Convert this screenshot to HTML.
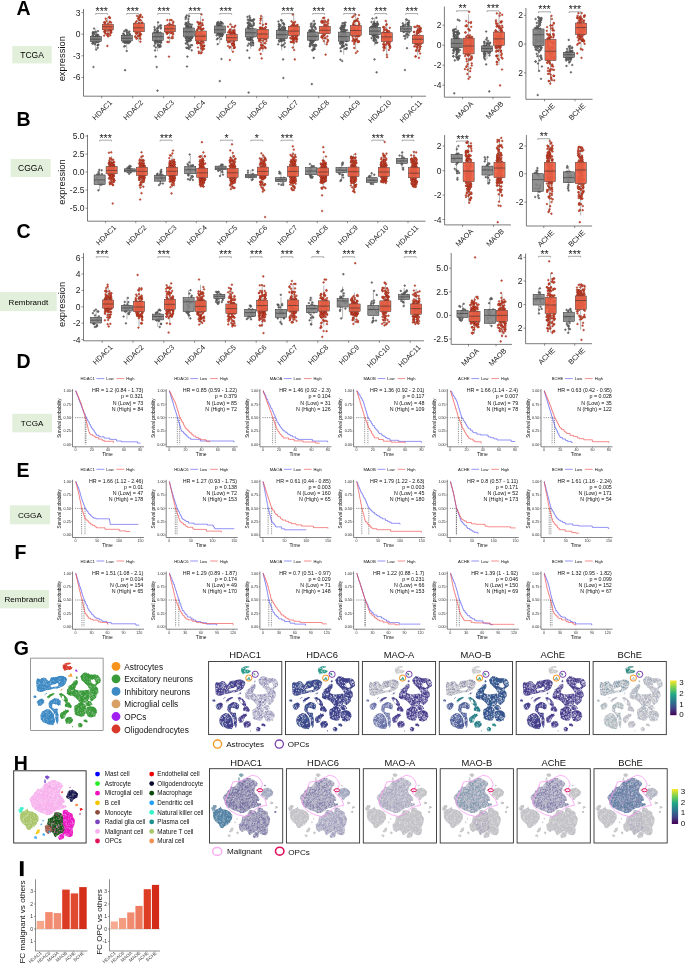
<!DOCTYPE html>
<html><head><meta charset="utf-8"><style>
html,body{margin:0;padding:0;background:#fff;width:685px;height:967px;overflow:hidden}
svg{display:block;will-change:transform}
text{font-family:"Liberation Sans", sans-serif}
</style></head><body>
<svg width="685" height="967" viewBox="0 0 685 967">
<rect width="685" height="967" fill="#fff"/>
<defs>
<marker id="r" markerWidth="3" markerHeight="3" refX="1.5" refY="1.5" markerUnits="userSpaceOnUse" overflow="visible"><circle cx="1.5" cy="1.5" r="0.85" fill="#e4563a" stroke="#7e1a0c" stroke-width="0.4"/></marker>
<marker id="g" markerWidth="3" markerHeight="3" refX="1.5" refY="1.5" markerUnits="userSpaceOnUse" overflow="visible"><circle cx="1.5" cy="1.5" r="0.85" fill="#7a7a7a" stroke="#333" stroke-width="0.4"/></marker>
<linearGradient id="vir" x1="0" y1="1" x2="0" y2="0"><stop offset="0" stop-color="#440154"/><stop offset=".2" stop-color="#414487"/><stop offset=".4" stop-color="#2a788e"/><stop offset=".6" stop-color="#22a884"/><stop offset=".8" stop-color="#7ad151"/><stop offset="1" stop-color="#fde725"/></linearGradient>
<g id="goli" stroke-linecap="round" fill="none"><path d="M31.5 6.3 35 4.4 38.6 4 40.2 5 36.4 6.1 35.9 7.6 39.4 7.9 41.7 9 40.1 11 36.1 11.1 33.4 12.1 32.1 9.9Z" fill="currentColor" stroke="none"/><path d="M34.7 10.2h0m-1.1-4.7h0m-.2 1.3h0m.3 4.9h0m4.4-6.7h0m1.3 3.6h0m-5.9 2.2h0m2.6-1.6h0m1.6 .6h0m1.7-1.7h0m-4.9 .7h0m2 1.3h0m2.3 .1h0m-2-2.2h0m.7-2.8h0m.9 5.7h0m-5.2-.8h0m5.5-5.1h0m-6.7 3.8h0m1.7-2.3h0m4.2 2.8h0m1.3-.7h0m-2.3 1.2h0m-3.3-2.6h0m5.2 1.8h0m-.5-1.1h0m-1.2 1.8h0m-3.9 .7h0" stroke-width="1"/><path d="M33.5 6h0m4.6-1h0m-2.5 3.4h0m.6-2.8h0m-3.2 .1h0m2.6 .4h0m-1.3 .1h0m.3 5.3h0m-2.3-5.1h0m5.8 2.7h0m2.1 1.5h0m-5.1-1.2h0m1 .5h0m-2.7 2h0" stroke="#fff" style="stroke-opacity:var(--w,.75)" stroke-width=".8"/></g>
<g id="gopc" stroke-linecap="round" fill="none"><path d="M46.3 12.4 46.4 13.3 45.7 13 45.3 13.1 44.5 13 44.5 12.4 44.4 11.5 45.1 11.1 45.8 11.2 46 11.8Z" fill="currentColor" stroke="none"/><path d="M44.5 11.5h0" stroke-width="1"/><path d="M44.6 12.8h0" stroke="#fff" style="stroke-opacity:var(--w,.75)" stroke-width=".8"/></g>
<g id="gast" stroke-linecap="round" fill="none"><path d="M36.9 17.6 38.5 16.3 39.9 14.4 40.5 16.4 41.8 18 39.5 18.1Z" fill="currentColor" stroke="none"/><path d="M39.9 16.5h0m0-.2h0m-2.4 1.1h0m2.8-.8h0m-1.3-.4h0" stroke-width="1"/><path d="M40 16.9h0m-1.5 0h0m.9 .2h0" stroke="#fff" style="stroke-opacity:var(--w,.75)" stroke-width=".8"/></g>
<g id="gmic" stroke-linecap="round" fill="none"><path d="M29.1 31.6 29.5 32.1 29.2 31.9 29 31.9 28.4 32.2 28.2 31.7 28.7 31.8 28.9 31.2 29.3 31.5 29.1 31.9ZM30.7 30.8 31.1 31.4 30.8 31.6 30.4 31.4 30.6 30.9 29.8 30.7 30.2 30.5 30.5 30.3 30.9 30.4 31 30.8ZM32.5 29.8 32.2 29.9 32 29.7 31.9 29.7 31.5 29.9 31.8 29.8 31.6 29.6 31.8 29.8 32.1 29.2 32.3 29.5Z" fill="currentColor" stroke="none"/><path d="M30.9 30.6h0m-.4 .7h0" stroke-width="1"/><path d="M32.2 29.5h0" stroke="#fff" style="stroke-opacity:var(--w,.75)" stroke-width=".8"/></g>
<g id="ginhU" stroke-linecap="round" fill="none"><path d="M5.4 21.1 6.6 20.1 9.3 20.6 12.4 18.9 14.9 19.6 16.2 21.3 18.1 22.7 20.3 19 22.5 18.5 24.8 18.6 27.8 17.5 31.5 17.4 34.8 18.7 36.1 21 35 23.6 33.7 26.2 31 28.2 28.5 28.9 26 29.9 22.8 29.9 19.8 31 17.6 31.3 15.4 31.5 13.3 32.4 11.1 33.1 8 33.4 5.7 31.3 5.6 28.1 5.5 25.9 5.2 23.8ZM20.1 28.8 22.9 28.1 26.7 27.8 27.4 24.8 26 24.3 23.9 25.6 21.6 25.9 19 27.3ZM9 24.2 8.7 23.7 8.4 24.6 8.4 24.9 8.3 25.2 8.6 25.4 8.9 25 9.1 24.7Z" fill="currentColor" stroke="none"/><path d="M6.4 23.5h0m18.1-4.7h0m5.8 2.5h0m-22.9 6h0m20 .2h0m0-5.1h0m3.7 3.3h0m-9.8 3.4h0m12.2-8.5h0m-13.3 4h0m-12.1 2h0m16-4.3h0m-12.4-2.3h0m-3.9 .8h0m4.5 .6h0m17.6-2.7h0m-9.1 2.4h0m.8 .1h0m-10.3 4h0m-3.9 6.3h0m15.2-7.8h0m-2.1 0h0m-8.6-.2h0m17.2 3.7h0m-15.4 4.6h0m-4.4-8.7h0m13.2 1.1h0m-16.4-1.2h0m26.3-5h0m-21.7 2.1h0m19.1 2.2h0m-3.5 5.9h0m-20.7-3.8h0m3.3 5.8h0m11.4-6.9h0m-5.1-.9h0m3.6 1.8h0m-6.4 2.3h0m-2.3 .2h0m-.5 5.6h0m5-.6h0m-2.6-11h0m.8 9.9h0m10.1-10.9h0m11-.2h0m-19.9 7.5h0m18.9-5h0m-26.6 2.1h0m17.7-2.8h0m-5.9 7.9h0m15.8-4.3h0m-14.8-3.2h0m-12.5 .8h0m22.8 1.1h0m1.1 2.5h0m-5.5-6.6h0m-18.1 6.1h0m27.5-3.8h0m-19 6.8h0m-3.9-5.4h0m-5.4 8.3h0m23.8-14h0m-1.2 7.1h0m-20.7-.8h0m6-3.5h0m9.5 .3h0m7.9 2.6h0m3.1-3.8h0m-27.9 .9h0m21 .8h0m-12.5 .1h0m-4.2 11.6h0m1.3-4.2h0m.8-3h0m20.1-5.3h0m-13.3 9.3h0m-7.6-4.1h0m21.6-4.9h0m-19.5 0h0m18-1.6h0m-22.4 8.1h0m17.8-3h0m.6 4.6h0m-21.2-8.2h0m7.6 8.5h0m0-7.8h0m-3.7 .5h0m9.5 7h0m10.9-9.7h0m-16.7 4.2h0m8-1.4h0m12.1 .1h0m-18.2 1h0m17.4-1.7h0m-9.8 .3h0m7.2-3.1h0m-7.7 11.3h0m5.4-11.3h0m-6.9 4.8h0m-12.8 8.4h0m18.7-7.5h0m-14.7 5.9h0m10.4-6.5h0m-3.2-4.4h0m-4.4 3.9h0m-.5 1.9h0m10.7 4.4h0m-9.4-6.2h0m4.6-1.7h0m-9.5 6h0m10.5-4.5h0m-6.7 7.8h0m1.4-1h0m-7.6 .2h0m4-3.4h0m18.2-.1h0m-14.2-.2h0m4.3-6.6h0m-10 4.9h0m11.7-4.3h0m6.8 5h0m-15.5-2.4h0m8.6-3.8h0m-10.5 1.7h0m16.7 6.9h0m-14.7-4.3h0m8.8 1h0m9.2-3.2h0m-12.8 4.8h0m-2.2 2.3h0m-5.8 2.1h0m-6.1-2.6h0m4.4-5.2h0m12.1-2.8h0m4.7 8.3h0m1.8-2.9h0m-16.1 1.8h0m.8-7.2h0m5.8 .4h0m5.3 .4h0m.2 8.7h0m-13.5-7h0m7.2 5.8h0m-7.1-6.6h0m1.2 2.5h0m-7.2 3.2h0m27.6-4.3h0m-17.5-.9h0m1.6 5.2h0m-10.3 5h0m18.3-12.6h0m-7.5 9.9h0m-1.1-1.5h0m4.9-5.6h0m-11-2h0m20.4-1.2h0m-1.6 5.8h0m-1.7-.1h0m-15.7-1.1h0m13.1 .3h0" stroke-width="1"/><path d="M28.2 19.8h0m-8.7 3.4h0m-1.4 7.2h0m-7.9-8.5h0m12.4 .3h0m10.5 2.3h0m-19.3-.5h0m4.5 4.7h0m1.1-3.9h0m-4.8 7h0m-4.8-6.1h0m3.9-3.3h0m-5.4 10.2h0m6.5-4h0m4.2-3.4h0m11.7 1h0m-18.3-3h0m20.8-.8h0m-9.4 7.3h0m6.1-2.4h0m-9.7-4.4h0m-2.7 6.4h0m-6.3 1.7h0m2.1-11.1h0m14.4 2.6h0m.9-1.9h0m-15.1 4.3h0m13.7 1.2h0m-18.1 4.7h0m8.9-4.5h0m17.6-4.8h0m-21.2 9.7h0m.4-8.1h0m12.3-1.5h0m-5.6 7.5h0m7.3-1h0m-1.7-.2h0m3.8-3.5h0m-23.8-.3h0m7.2-1.1h0m-8.4 7.9h0m9.2-5h0m-4-.9h0m17.5 2.6h0m0 .3h0m-4.1 1h0m3.7-6h0m-15.7 3.2h0m3.3-.2h0m.7-3.3h0m-.8 3.8h0m-4.3 1.9h0m8.7 .9h0m-3.7 .8h0m-4.4-5.4h0m-.1 3.9h0m16.5-4.5h0m1.3-4.3h0m-7.8 2.3h0m-13.5 9.6h0m-2-5.3h0m8.8-4.9h0m5.9-2.5h0m-.8 7.4h0m4.6 3.1h0m-18.1 .9h0m10.7-5.5h0m-10.7-1.6h0m8 6.8h0m-1.1-9.2h0m-5 2.9h0m25.5-1.6h0m-21 9.5h0m-.6-9.1h0m6.6 4.7h0m4.2-4.1h0m6.4 0h0m-6.3-4.1h0m5 4.2h0m-15.3 5.6h0m-5.9-2.8h0m6.8-4.7h0m-1.8 2.7h0m.1-3.8h0m1.5 5.2h0m-7.6 2.5h0m10.6-.7h0m3.9-2.2h0m12.7-3.8h0m-26.6 5h0m12.4-2.3h0m9.5-1h0m-13.6 1.9h0m18.6-.8h0m-24.1 4.2h0m13.6 1.3h0" stroke="#fff" style="stroke-opacity:var(--w,.75)" stroke-width=".8"/></g>
<g id="ginhL" stroke-linecap="round" fill="none"><path d="M5.3 38 5.4 39 4.5 39 3.6 38.9 2.4 38.9 2.4 38.3 2.5 37.4 3.4 36.8 4.5 37 5.1 37.7ZM5.8 42.8 8 41 11.2 40.1 13.3 41.9 12.4 45 9.8 47.2 7.3 46.8 6.2 45ZM17.9 44.5 18.8 42.4 20.6 41.3 22.3 40.1 24 39.6 27 40.2 29.7 42.4 29.2 46.4 27.4 46.7 24.9 45.7 22.2 45.1 21.1 46 21.1 48.9 23.6 50.4 24.3 50.2 26.4 50.5 26.5 52.6 26.9 54.6 27.3 56.7 27.3 58.8 27.4 60.8 27.3 62.8 26.4 65.3 25.1 62.9 24.4 60.8 24.2 58.8 24.2 56.5 23 54.7 22 52.7 19.3 49.8 17.5 47.4ZM9.1 56.7 10.3 54.7 11.6 52.8 13.4 51.7 15.4 50.7 18.5 50.8 20.8 53.1 22.5 55.5 23.3 59.2 24 62.9 22.2 66.2 19.8 66 17.1 66.1 15.2 64.6 12.8 64.3 10.4 61.6 9.6 59.2ZM13.3 36.3 15.2 34.5 15.7 34.5 13.4 36.9Z" fill="currentColor" stroke="none"/><path d="M19.7 45.7h0m9.3-2.8h0m-3 2.3h0m.4-3.3h0m-4.9 24.2h0m-5.8-10h0m9.5-4.7h0m-10-16.6h0m7.9 18h0m2.4 8.8h0m-13.9-1.5h0m-2.9-17.3h0m14.9 17.8h0m-2.6-16.2h0m3.8-.4h0m1.6 12.1h0m-11.7 1.7h0m4.4-12.2h0m-.3 7.1h0m-3.8 8.8h0m7.4-4.9h0m-1.6-7h0m-.3 6.8h0m8.6-13.6h0m-21.1 3h0m3.2-1.2h0m.9 8.6h0m-.5-.1h0m-4.2-8.2h0m10.3 13.8h0m.2-7.3h0m-5.6 11.2h0m3.1-1.4h0m3.5-3.2h0m5.4-12.7h0m1.7 16.6h0m-18.7-15.1h0m2.8-6.4h0m14.9 13.6h0m2.2 2.3h0m-15.8 3h0m7.8 6.1h0m7-5.2h0m-3.2-8.3h0m-13 8.3h0m14.7-18.7h0m-18.7 2.1h0m8.2 18.9h0m3.7-8.6h0m-.8 .5h0m4.5 4.7h0m3.9-7.8h0m-.2 11.2h0m-4.2-6.4h0m-5.3 2.8h0m3.4-.8h0m-6.8-1.4h0m.7 6.3h0m-5.3-16.9h0m15.6 7.9h0m-1.4-11.1h0m.7 8.7h0m1.2 1.3h0m2 3.9h0m-5.4-9.2h0m1 12.4h0m-1.1 .5h0m-1.7-11.7h0m2.2-5.2h0m3.5 1.2h0m-16.9-2.1h0m7.7 10.1h0m-2.6 8.8h0m1.4-.4h0m11.8 2.4h0m-6.7-10.4h0m1.1-8.2h0m2.3-1.2h0m3.4 1.3h0m-5.9-2.5h0m5.9-1.1h0m-12.4 15.1h0m-.3 2.8h0m3.3 3.3h0m-.4 1.7h0m-11.6-25.5h0m3 5.4h0m7.2 9.9h0m2 .9h0m12-11.5h0m-16.8 19h0m5.9-6.2h0m.9-13h0m6.8 10h0m3.6-7.2h0m-22.3-3.1h0m12.7 11.5h0m-8.8 1.3h0m17.2-10h0m-13.6 13.8h0m-1.8 2h0m-4.6-19.2h0m14.8 9.3h0m-2 3.4h0m-10.6 5.2h0m13.5-5.6h0m-10 4.4h0m-4.4-16.7h0m1.6 11.9h0m12.6-14.1h0m3.9 .4h0m-8.3 20.8h0m-4.9 1.4h0m11.9-2.7h0m-7.1-5h0m-6.2-11.4h0m-8.5-5.2h0m7.4 23.3h0m9.2-4.3h0m1.3-2.3h0m4.3-13.3h0m-1.3 11h0m-7-8.4h0m-6.1 9.2h0m2.6-.5h0m.7 9.7h0m2.6 1.8h0m6.6-20.7h0m-6.3 19.4h0m1.6-14.4h0m8.7-7h0m-16.8 2.2h0m6.9 16.8h0m6-17.4h0m-5-.7h0m-9.7-1.5h0m11.5 16h0m-.5-.5h0m-12.3-14.6h0m1.7 17.5h0m10.4 5.6h0m-4.7-14.4h0m10.1-.2h0m-15.2-7.8h0m-3.1 0h0m6.1 17.2h0m.7-2h0m12.7-15.5h0m-9.8 21.9h0m-5.2-9h0m-8.8-17h0m14.1 16.4h0m3.3 10.5h0m-9.1-7.6h0m3.7-2.2h0m9.5-5.3h0m-9.4 4h0m-7.3-9.2h0m.5-2.2h0m17.2 7.4h0m1.2-7.9h0m-1.2 21.8h0m-1.1-20.2h0m-4.9 12.2h0m-9.6 4.3h0m11.1 .4h0m-.5-16.7h0m1.1 15h0m-3.6-1.8h0m3.2-2.4h0m0 7.1h0m2.7-20.2h0m-10.5 20.4h0m10.9-3.6h0m-10.3-2h0m-8-13h0m13.3-.5h0m7.6 3.2h0m-24.3-8.8h0m18.6 5.3h0m4.8 11.6h0m2.9-11.9h0m-7.3 22.7h0m-.6-22.6h0m-3.6 2.4h0m6.7-4h0m-11.9 14.4h0m4.8 4.3h0m-4.6 1.1h0m15.2-15.6h0" stroke-width="1"/><path d="M17.2 51.8h0m11.9-6h0m-3.2 11.9h0m-3-6h0m-4.3-5h0m-4.6 6.1h0m12.3 4.5h0m-7.1-2.6h0m-4.1 6h0m-1.2-1.6h0m9.4 .3h0m-7.4 1.6h0m-1.3-7h0m-1.4 10h0m-5.6-19.2h0m18.2-2.5h0m2.3-.4h0m-5.8 8.7h0m-13.2-6.6h0m.9 1.8h0m6.6 6.5h0m3.4-2.6h0m4.4 8.7h0m-12.5-2.5h0m1.7 7.8h0m-3.5-7.8h0m14.6-3.8h0m-.5 5.3h0m-8.5-3.3h0m-5.5 5.4h0m2.5 .9h0m7.5-16.2h0m3.5-1.8h0m-11.7 16.9h0m-1.3-.8h0m5.2 0h0m8.7-2.1h0m-.7-13.1h0m2.5 19.9h0m-20.1-20h0m23.2-.6h0m-2.5 18.5h0m-18-17.9h0m6 10.6h0m-2.4 1.1h0m11.6 0h0m-11.5 7.4h0m.1-.7h0m5.8-5.5h0m-3.2-2.8h0m6.2 1.8h0m-9.3 5.9h0m12.9-19.9h0m-8.4 20.7h0m-9.8-15.5h0m18.3-2.4h0m-16 12.8h0m18.8-12.8h0m-11 13.7h0m3 3h0m-.1 .6h0m-2-15.8h0m-5 14.4h0m12.2-17.2h0m-4.2 16.9h0m-9.1-5.8h0m-.1-9h0m6.1 6.2h0m4.6-7.2h0m-1.1 5.5h0m4.7 4.3h0m-10 9.5h0m-12.9-25.7h0m17.9 23.5h0m-4.6-5.6h0m-.8 .9h0m9.8 2.1h0m-16.2-.9h0m.6-12.2h0m5.5 12.2h0m2.4-3.8h0m-1.8-1.5h0m9.3-6.2h0m-3.7 18.9h0m-3.9-8.7h0m-.4 9.5h0m2.1-17.5h0m3.6-4.5h0m-12.4 11.7h0m2.2-12.5h0m11.7 12.4h0m-10.8 7.6h0m-7.4-18.5h0" stroke="#fff" style="stroke-opacity:var(--w,.75)" stroke-width=".8"/></g>
<g id="gexcW" stroke-linecap="round" fill="none"><path d="M36 31.4 37.2 29.6 37.6 27.2 39.8 26.3 41.3 24.7 43.6 21.9 45.3 21.5 47 22.7 46.5 25.3 44.7 27.3 43.7 30.6 45.8 31.3 47.9 32 50.4 31.9 52.9 31.9 55.1 31.3 57.3 31.4 58.2 33.4 58.7 35.6 58.3 39.3 56.9 42.1 54.1 44.1 51.9 43.8 49.5 44.5 47.2 41.8 44.6 39.1 41.7 37.2 37.7 36.7 35.6 35ZM49.3 17.8 51.1 15.6 53.1 13.8 55.9 14.6 59.1 16 61.2 16.1 63.5 16 67.4 17.1 69.3 20 69.4 23.7 66.6 25.5 64.6 27.4 66.8 29.9 67.5 33.7 65.5 35.6 65.1 38.9 62.6 41.2 60.4 42.9 59.4 40.6 59.8 38.1 59.6 35.6 59.6 33.1 58.3 30.1 56.7 27.4 53.9 24.6 51 21.9 50 19.8ZM46.6 18.7 46.6 19.8 45.6 20 44.7 19.5 44.8 19 45 18.3 45.8 17.5 46.3 18.3ZM44.1 46.6 46.2 45.8 47.9 44.1 50.4 44.2 53 44.8 55.1 47.4 54.8 50.2 54.4 53 54 55.3 52.9 57.5 50.4 58.1 48.2 57.7 46 56.8 44 55.5 43.4 53.4 43.3 51.1 43.2 48.8ZM55.5 49 58.4 47.7 60.6 47.8 62.7 48.2 64.9 49.9 66 53.7 64.7 55.7 63.9 57.6 60.4 58.9 56.6 58 56 56 54.6 54.2 55 51.7ZM54.5 44.6 57.2 42.2 59.9 43.4 61.6 45.9 58.5 47.5 55.2 47.6ZM60.6 24.4 63.2 25.8 64.9 24.6 64.4 22.4 62.9 20.4 61.1 21.1 59.1 21.2ZM58.6 34.4 58.1 36.7 58.8 38.9 58.6 41.2 59.8 40.9 59.7 38.9 59.4 36.7 59.4 34.4 59.8 32.2 58.1 31.7Z" fill="currentColor" stroke="none"/><path d="M43.6 48h0m12.8 5.9h0m8.3-27.1h0m1.1 8.5h0m-16.4 16.5h0m-4.4-3h0m12-15h0m-2.3 19.9h0m1.2-36h0m-.1 20.6h0m-5 5.3h0m-12.2-13.6h0m4-6.5h0m13.9 25.3h0m3.5 5.9h0m-10.7 .3h0m6.1-13.1h0m-2.7-19.4h0m15.1-2.6h0m-16.2 32.2h0m5.8-36.8h0m-12.5 16.6h0m11.7-15.7h0m-17.6 19.6h0m11.9 19.2h0m.6-33.2h0m1.3 14.1h0m-.2-20.3h0m5.8 38.2h0m2.1-2.2h0m-10.6-4.3h0m-6.8-19.7h0m12.7-12.2h0m-2.8 26.4h0m-5.7-7.3h0m-8.4-4.9h0m3.2 2.4h0m15.8 20.5h0m-1.2 3.6h0m-2.1-18.9h0m10.2-14.1h0m-9.3-3.8h0m8.3 9.5h0m-20.2-.2h0m14-2.6h0m11.3-4.6h0m-3.7 3.3h0m1.7-.7h0m-12.6 .9h0m5.6 16.5h0m.4-9.4h0m-19.2-3.7h0m23.5 8.1h0m-11.3 14.9h0m5.2-2.2h0m-20.7-15.4h0m8-9.4h0m5.4 8.9h0m7.9 10.3h0m-1.6 7.3h0m1.8-21.1h0m-3.5 3.1h0m10.7-.2h0m-13.4-11.6h0m.9 33.1h0m5.3-10.7h0m-4.4-29.1h0m1.2 37.3h0m9.8-34.9h0m-3.7 11.8h0m-7.8 4.1h0m8.5 16.9h0m-10.5-11.8h0m1.6-19h0m5.4 8.5h0m-7.2 27.7h0m12.1-21.1h0m-12.4-18.3h0m9.1 4.9h0m-8.9 13h0m-8.1-4.9h0m-1.4 5h0m6.6-.4h0m4.2 6.6h0m-9.5-2.6h0m10.5 13.5h0m-7.4-.7h0m7.2-32.6h0m-9.3 38.5h0m7.2-12.2h0m9-24.4h0m-5.3 15.9h0m-13.2-2.5h0m12.7 .1h0m-12.5-7.7h0m11.3-7.6h0m-.2 36.9h0m-.4-17.6h0m1.9-20.1h0m3.1 35.4h0m-3.1-15.4h0m3.5 16.9h0m-16-27.6h0m7.7 18.1h0m17.9-21.5h0m-21.1 33.5h0m3.3 1.3h0m-12.6-26.4h0m18.6 22.5h0m-6.8-9.5h0m7.4-12.5h0m5.4-4.3h0m-17.2-7.4h0m11.6-4.3h0m7.8 13.3h0m-1.9 10.1h0m-7 2.6h0m-5.2-5.3h0m6.4-15.3h0m-17.9 8.4h0m19-8.6h0m-6.5 21.3h0m-1.3-6.3h0m3.2 6.2h0m-14.7-11h0m8.8 17.9h0m-6.5-17.2h0m18.6 10.1h0m-16.8-15.1h0m24.6-5.7h0m-2.3 31h0m-1.6-24.2h0m2.2-6h0m-1.6 30.9h0m-2.7-23.6h0m-11.1 17.4h0m15.6-26.6h0m-4.9 21.5h0m-11.4-23.4h0m-7.8 9.4h0m5.8 6.3h0m3.1 8.3h0m-5.9-19.8h0m2.7 15.6h0m8.7 7h0m-3.4-22.2h0m12.4 30.9h0m-24.8-26h0m20.1-7.6h0m-5 .7h0m4.9 19h0m-5.1-2h0m7.1-20h0m-21.9 14h0m19.2-13.1h0m-17.2 9.1h0m3.6 25.9h0m7.2-19.7h0m-1.6-.2h0m-6.8 4.7h0m-3.9-3.8h0m20.3 17.2h0m-13.5-8.7h0m13.2 12.7h0m3.6-36.2h0m-8.5 34.1h0m5.4-1.3h0m-3.4 .1h0m-6.4 2h0m-4.2-9.6h0m-7-11.6h0m26.9-11.7h0m-3.6 6.7h0m-22.6-.3h0m9 11.8h0m-13-11h0m9.1 9.1h0m17.3-3.1h0m1.8-5.2h0m-5 .3h0m-16.2-5.5h0m3 32.8h0m9.6-6.6h0m9.5-19.9h0m-11.9 9.3h0m-5.8 6.2h0m15-29.6h0m-14.2 34.4h0m6.7-28.9h0m1.5 12.5h0m-11.1 15h0m21.3-27h0m-17.8 10.1h0m-1.4 22.8h0m9.6-9.7h0m.7-20.6h0m-14.3 8.2h0m-2.2 .7h0m10-16.6h0m-2.5 26.3h0m9.5-12h0m-22.7 2h0m9.3 3.1h0m19.6-7h0m1.1-9.9h0m-8.2 38.6h0m1.3-24.2h0m-17.4-3.9h0m19.1 3.9h0m6.1-13.7h0m-2.5 10.4h0m.9-9.7h0m-12.8 20.3h0m-14.3-5.5h0m23-1h0m1.1 1.9h0m-4.5 15.7h0m-6.7-6.7h0m8.8 10.9h0m-8.6-40h0m-.9 25.8h0m-9-11.1h0m3.2 23.4h0m4.3-11.3h0m-6.5-9.1h0m16.2 23.7h0m-4.3-13h0m-9.7-19h0m11-4.2h0m3.3 13.9h0m-1.6-8.4h0m-.1-9.2h0m1.6 32.9h0m-.2-26.7h0m-10.2 22.6h0m-5.5-24h0m-4.7 3.9h0m24.1 24.6h0m-14.9-6.4h0m2 12h0m13.5 .4h0m-25.3-23.9h0m15.5 5.3h0m-3.7-2.1h0m14-10.5h0m-3.7 29.2h0m-4.6-23.2h0m.5-14.9h0m-4.6 18.6h0m-7.4-2.5h0m6.2-12.9h0m-.1 19.1h0m2.1 8.6h0m7.5-18.2h0m-14 22.9h0m16.2-14.8h0m-2.8-14.5h0m-16.5 9h0m-3.6 4h0m5.2-13.5h0m10.2 21.6h0m2-27.4h0m-8.7 33.1h0m12.7-17.9h0m-18.2-2.9h0m20.1 27.5h0m-10.5-1.2h0m-1.8-38.6h0m2.2 24.2h0m-4.3-3.7h0m.1 1.5h0m.4-2.6h0m4.4-19.7h0m-9.4 38.3h0m6-3.6h0m10.4-35.3h0m-18.6 11.5h0m-4.6 4.3h0m30-10h0m-13.7 26.7h0m-17.2-17.6h0m4.8-4.2h0m20.6-10.3h0m-7.7 16h0m-11.8-2.5h0m21.5 2.9h0m-3.5 23.9h0m-5-36.9h0m8.5 10.7h0m.8-4.3h0m-19.8 25.9h0m19.9-24h0m-13 24.1h0m4.6-34.2h0m-12.9 6.9h0m9.1 26.3h0m6.5-30.6h0m-2.4 16.8h0m-11.1-4.4h0m12.9 13h0m5.5-29.8h0m-23.4 14.7h0m10.2 18.7h0m-5.4-24.6h0m16.8-6.7h0m-9.4 3.5h0m-2.1-2.4h0m-4.8 36.6h0m-.1-1.4h0m20.5-37.4h0m-21 20.8h0m13.4 4.9h0m-6.8-26.1h0m12.6 .9h0m-17.3 22.3h0m-8.1-12.5h0m10.9 27.4h0m3.3-12.3h0m2.2-26h0m9 15.9h0m-22.3-3.9h0m17.2-6.9h0m-3.9-.7h0m-4.6 24.2h0m12.6-27.6h0m-12.6 35.7h0m14.5-36.8h0m-15 37.7h0m-6.1-17.4h0m19.3 1.6h0m.9 14h0m-4.6-1.3h0m-6.7-30.3h0m5.2 25.6h0m-12.4-23.9h0m0 25.8h0m7.5 5.5h0m-12.2-20.3h0m14.4-13.6h0m3.5 23.8h0m-3.4-21.1h0m-5.7 11.9h0m8.3 16.7h0m-1.3-31h0m-15.8 5.7h0m5.1 7.5h0m16.3-15.1h0m-2.7 12.2h0m9.3-9.3h0m-13.7 1h0m-6.9 11h0m-8.8-2.9h0m12.6-11.2h0m.8 .5h0m6.2 7.9h0m-1.3 21.9h0m6.9-20.4h0m-9.1 3.7h0m-4.5 19.6h0m6.7-16.4h0m-6.9 7.2h0m-2.1-8.7h0m1.8-13.6h0m15.9 3.3h0m-5.2 8.8h0m-11.3 13.1h0m-4.4-8.9h0m8.5 2.4h0m-12.2-4.2h0m13-21.1h0m11 2.4h0m-4.9 21.5h0m-20.6-10.7h0m-2.5 4.9h0m16.1 9.4h0m-11.5-17.4h0m1.5 24.8h0m-1.3-23.2h0m9.1 21.2h0m16.3-28h0m-11 32.4h0m5 1.4h0m-16.1-4.9h0m15.1-10.4h0m.4-11h0m-11.9 14.3h0m2.5 11.7h0m12-26.7h0m-.9 4.6h0m-1.2 20.3h0m-5.4-27.2h0m-5 8.4h0m-2.6 6.6h0m-4.7-11.9h0m1.3-3.3h0m11.9-4.9h0m-12.3 19h0m-1.9-3.4h0m13.9-6.2h0m-3.5 17.9h0m-10.8-16.3h0m14.4 8h0m-.8-1.1h0m-4.9-3.3h0m1.7-12.7h0m-3.9 27.9h0m.8-8.8h0m-13.5-9.5h0m14.2-13.1h0m1.8 31.3h0m6.6-17.4h0m3.3 4.2h0m-7.7 17.6h0m4.8 2.6h0m1.3 1h0m-5.5-14.8h0m1.9-24.8h0m6.2 21.2h0m3.4-14.2h0m-7 31.4h0m1.3-1.6h0m-14.5-4.2h0m6.4-29.1h0m5.4 28h0m-11.4-7.7h0m9.6 3.2h0m-5.6-10.5h0m1.9 22.5h0m15.3-36.4h0m-12.6 34.7h0m-1.3-17.2h0m4.2 19.3h0m-17.2-31.6h0m2.1 .2h0m16.2 10.8h0m1 1.4h0m-.1-8.1h0m-16.8-4.3h0" stroke-width="1"/><path d="M60.1 29.2h0m-16.2 24.2h0m13-2.7h0m2.1-30.5h0m-4.3 12.3h0m1.3 7.4h0m5.1 13.9h0m-.6-9.3h0m-1.1-14.4h0m3 8.3h0m-16.1-13.8h0m3 26.7h0m10.9-16.1h0m-3.7 8.5h0m2-20.1h0m-11.4 8.4h0m-3.3-5.2h0m10.5 15.2h0m-3.9-8.3h0m14.2-15.9h0m-12.5 36.4h0m7.9-29.8h0m-12.9 26.1h0m12.8-26.6h0m-6.4 29.1h0m2.7-.6h0m-3.3-5.8h0m-8-11h0m15.6-3.2h0m-5.5 10.1h0m.2-23h0m7.5 7.9h0m-26 6h0m27.3-5.6h0m.2 8.3h0m-9.7 5.5h0m5.1 3.3h0m1.9 10.3h0m-3.7-27h0m2.8 27.5h0m6.9-32.8h0m-7.7 5.5h0m-7 18.7h0m8.7-7.6h0m-.9-3h0m4.7-3h0m-27.9-4.1h0m24 23.9h0m-12-18.7h0m4.9 14.3h0m1-2.6h0m-2.7-26.2h0m4.6 15.7h0m-4.2 11.5h0m-12.4-15.4h0m24.8 0h0m-3.4 1.2h0m-.3 2.3h0m4.7-2.7h0m-8 20h0m-.4-25.8h0m-16.6-2.2h0m6.6 10.6h0m5.6-2.4h0m13.4-12.7h0m-12.4 2.4h0m11.7 10.8h0m2.2-13.9h0m-19.6 21.3h0m-1.1-.2h0m-.4 9.6h0m2.9-1.9h0m-5.8-10.6h0m14.3-10h0m-12-4.4h0m9.9-2.7h0m4.7 15.2h0m3.8-14.8h0m-12.8 21.9h0m-7.9-20.5h0m-.7 12.9h0m5.5 7.7h0m-10.8-11h0m12.4 .5h0m1 6.3h0m-6.9-4.7h0m14.4 24.4h0m-17.7-26.6h0m12.2 18.9h0m-10-27.5h0m25.2-1.9h0m-16.2-3.6h0m1.1 18.9h0m-4.1-1.7h0m-9-1.3h0m26.7-11.6h0m-10.9 1.2h0m2.1-.1h0m7-2.2h0m-9.1 2.3h0m-5.5 26.2h0m-10-22h0m17.2-7h0m-13.8 12.6h0m-3.3-5.4h0m10.7 28.7h0m1.3-11h0m12.7-23.4h0m-13 34.1h0m4.3-15.7h0m-3.8 15.7h0m-16.2-24.7h0m8.8 21.7h0m9.6-34.1h0m-6.4 35.3h0m13.6 3.5h0m4.4-38.5h0m-24.6 4.9h0m11.3 13.1h0m-6.5 9.4h0m.7-6.8h0m18.3-19.6h0m-5.6 7.8h0m-7.3-7.3h0m-.2 31.5h0m4.5 .1h0m-9.7-20.2h0m-6.2-.1h0m19.7 21.9h0m-2.8-3.7h0m-2 5.6h0m-17.9-25.3h0m8.4 10h0m3-3.6h0m-2.4-2.7h0m17.3-16.9h0m-20 16.6h0m2.5-1.1h0m-1 5.6h0m3.1 9.4h0m-6.2 5.6h0m-2.9-21.2h0m9.9 4.6h0m3.5-22.7h0m-13.2 22.2h0m11-13.9h0m-8.3 31.3h0m-2.8-22h0m13.5 5.6h0m1.1 9.6h0m-17-19.1h0m18 25.7h0m3.1-30.1h0m.1 22.1h0m-.7 7.2h0m4.2-32.9h0m-19.5 2.1h0m21.2-2.2h0m-13.2 31.9h0m8.1 2.8h0m-1.9-16.5h0m-10.7-1.3h0m15.5 17.9h0m-11.7-17.8h0m13 18.3h0m-12.6-1h0m-2.6-16.2h0m-.2-3.3h0m-10.5-7.1h0m8.3 25h0m14-31.7h0m-15.9 27.6h0m10.1-6.2h0m-7 9.7h0m14.4-13.9h0m-18.1 10.5h0m16.8-13.4h0m-1 16.1h0m-.1 6.8h0m3.9-19.5h0m.3-11h0m-8 6.9h0m-5 23h0m-10.4-21.4h0m12.6 5.9h0m8.5-16.6h0m-8.1 12.6h0m14.4-15.3h0m-21 32.3h0m7.9-16.9h0m7.2 18.2h0m-9.5-16.7h0m-1.8 7.8h0m-10.6-15h0m17.5 21.6h0m8-.8h0m-18.3 1.7h0m19.2-35.4h0m-24.2 11.4h0m22.4 6.3h0m3.1-16.8h0m-30.2 7.9h0m24 9h0m2.2 18.1h0m-16.3-22.1h0m13.1 5.7h0m-7.9-19.5h0m3.2 16.5h0m2.7 9.2h0m5.8-18.7h0m-1.7 6.8h0m-14.7 .2h0m15.4-4.5h0m-17.3 6.8h0m1.6 14.7h0m.2 5.9h0m16.8-24.6h0m-11.8-14.2h0m-2.7 38h0m-1.6-16.5h0m6.1 15.1h0m2.9 1.5h0m7.7-31.8h0m1.5-4h0m-12.5-3.2h0m-5 37.6h0m.3-18.7h0m12.7 5.1h0m-9.9-24.3h0m-2.5 15.8h0m12.5 24.7h0m-20.6-24.7h0m18.2 14h0m-2.1-12.4h0m-2.2 7.5h0m-10.4-22.7h0m13.2 25.6h0m-5.2-2h0m-8 6.3h0m-7-15.6h0m11.3 2.6h0m13.5 20.4h0m-4.4-3h0m-3.5-1.2h0m4.3-24.8h0m-3.5-11.5h0m-2.4 25.7h0m8.5-4.8h0m-.1-6.5h0m-8.5 8.6h0m6.5-10.3h0" stroke="#fff" style="stroke-opacity:var(--w,.75)" stroke-width=".8"/></g>
<g id="gexcS" stroke-linecap="round" fill="none"><path d="M16 38.5 17.9 36.3 21 34.8 23.7 34.6 22.9 35.9 19.9 37.3 17 40.2ZM28.3 35.4 30.2 34.5 33.6 36.6 35.1 38.5 36.6 40 36.9 42.7 35.5 44.4 33.3 42.6 31.6 41.1 30.4 39.3 28.9 37.4ZM33.7 46.1 36 43.3 38.6 44.2 40.5 47.5 39.6 49.3 36.6 48.6 33.8 48ZM29.2 56.7 30.3 54.1 33.4 52.2 37.3 51 37.9 52.8 35.6 54.7 34.4 57.2 33.4 59.7 29.9 60.1ZM28.9 55.3 31.8 53.4 34.6 54.7 34.3 56.7 34 58.5 30.9 59.5 28.9 58.2ZM34.1 60.3 37.1 58.2 39.1 58.7 40.9 59.1 41.5 61.1 41.6 62.9 38.9 64.9 35 64.8 34.3 62.3ZM46.9 65.2 49.1 64.1 51.5 65.6 50.5 68.6 47.4 68.6ZM52.5 61.2 55.1 60.8 56.8 62.8 56 63.8 52.6 63ZM52.4 39.4 52 39.7 51.7 40.2 51.2 40.1 50.4 40 50.4 39.4 50.9 39.2 51.1 38.7 51.4 38.9 51.7 39ZM41.7 68.2 41.8 68.4 41.7 68.5 41.6 68.6 41.5 68.6 40.9 68.4 41 68 41.4 67.8 41.6 68.1 41.5 68.2ZM35.5 51.9 35.5 52.4 35.2 52.9 34.6 52.8 34 52.5 34 51.8 34.2 51.2 34.8 51.4 35.3 51.3 35.1 51.8ZM30.6 39.4 32.2 41.4 33.8 40.7 32.5 37.3 30.5 37Z" fill="currentColor" stroke="none"/><path d="M36.9 52.9h0m14.3-13.3h0m-22.8-4.1h0m6.3 3.7h0m5.8 23.6h0m-.7-.6h0m-5.2-18.6h0m-.8-4.3h0m1.3 5.5h0m1.8 3.3h0m-19.5-9.5h0m16.7 2h0m-2.4-4.7h0m4.1 5.3h0m-14.6-4.9h0m7.6-.4h0m5.8 26h0m20.3 1.4h0m-15.2-14.7h0m1.6 12.4h0m-2.3-1.6h0m-1.4-14.9h0m-20.9-6.5h0m20.2 8.2h0m-7.5 12.2h0m6.6 1.2h0m-2.1-21.1h0m1.8 9.2h0m-4.4 6.7h0m6.4 4.7h0m-5.4-22h0m9.1 31h0m-10-10.1h0m5.8-11.7h0m-6.3 13.4h0m.9-.3h0m-13.5-20.7h0m20.1 26h0m.6-3.8h0m1.2-12.8h0m-2.4-.3h0m-2.1 15.8h0m-1.7-7.6h0m1.5 8.7h0m13.9 .6h0m-11.1-4h0m-8.7-4h0m5.2-10.9h0m-17.7-8.4h0m22.5 11.1h0m-8.2-12.2h0m5.3 15.5h0m0-7.6h0m-16.5-8h0m-.8 .6h0m20.4 9.8h0m11.2 19.9h0m.3-27.4h0m-15.4 19.9h0m4.2 2.5h0m-6.5-6.8h0m4.2 6.8h0m-18.4-25.5h0m9.9 19h0m5.1-4.3h0m-2.5 3.6h0m-.7-18.2h0m4.6 3.5h0m.6 7.7h0m-18.1-11.3h0m17.5 7.2h0m-2.7 12.3h0m14 9.6h0m-13.1-11.2h0m4.9 9.9h0m.5-5.2h0m-2.6 4.7h0m-.6-16h0m0-3.4h0m-2.6-6.5h0m4 22.4h0m-17.5-23.7h0m18.2 9.1h0m-.6 17.2h0m1.1 1.6h0m-8.3-10.5h0m1.1 .6h0m7.8 8.7h0m.5 .6h0m-3-10.9h0m-1.7-10.5h0m-2.5 10.1h0m-3.4 3.9h0m-7.4-21.8h0m8.9 24.9h0m-.3-21.7h0m5 16.2h0m4.3 4.8h0m-8.4-1h0m3.4-14.2h0m1.4 16.1h0m-5.9-21.1h0m-.2-3.7h0m18.9 31.7h0m-7.7-5h0" stroke-width="1"/><path d="M36.3 48.2h0m-6.4 8.2h0m18.7 9.4h0m-15.6-8h0m-15.2-18.9h0m12-1.5h0m5.7 27h0m.8-24.1h0m-6.5 18.3h0m17.2 7h0m-9.5-6.5h0m10 6.4h0m-8.7-1h0m8.9 3.3h0m-11.5-23.6h0m-19.4-5h0m37.7 24.1h0m-25.8-26.6h0m3.6 4.8h0m16.3 25.8h0m-11.7-3.6h0m.4 .7h0m.2-12.5h0m-3.4 4.8h0m-1.3 1.9h0m-2.2-19.7h0m-13.3 .7h0m15.5 18h0m6.5 3.3h0m-2.2 1.3h0m-1.1-21.8h0m-1.6 14.1h0m-3.6-.2h0m2.4 2.5h0m-3.3-19.4h0m5.1 6.1h0m-2.9-7.1h0m1 21.1h0m7.5 2.4h0m-3.9-12.9h0m-4.7 9.5h0m1.8-.4h0m1.1-15.6h0m3.1 22.1h0" stroke="#fff" style="stroke-opacity:var(--w,.75)" stroke-width=".8"/></g>
<g id="hmal" stroke-linecap="round" fill="none"><path d="M15.7 28.4 18 25.3 19.7 24 20.5 22 22.3 20.8 23.9 17.9 26 18.4 27.8 17.1 29.1 15.4 31 12.8 33 12.1 34.9 11.3 37.2 9.8 39.7 9.2 42.4 9.6 44.6 10.8 46.4 11.8 48.3 13 49.2 15.7 47.1 18.7 46 22.5 46.8 24.4 48.2 26 50.7 29.1 51.1 31.5 48.5 32.4 49 34.5 52.3 34.8 52.8 36.4 49.2 37.7 45.5 38.8 43.4 39.3 41.5 40.2 39.7 41.4 38.2 43.2 34.9 44.2 32.4 43.9 30 42.8 27.5 42 25.1 41 23 39.7 21.1 38.4 18.2 35.6 17.4 32.4Z" fill="currentColor" stroke="none"/><path d="M26.4 40.1h0m-6.8-5.8h0m29.4-5.7h0m-19.9 9.5h0m16.8-3.9h0m-17.4-7h0m-1.4 5.7h0m24.9 2.9h0m-12.4-13.9h0m-3.7 21.8h0m7.1-27.1h0m-25.6 10.4h0m27.8-1.9h0m-12.5 2.3h0m2.2-13.5h0m10.4-1.3h0m-13.2 22.1h0m-9.3-2.4h0m1.1-1.2h0m20.5-7.5h0m-11.7 9.3h0m-8.2 1.1h0m15-6.8h0m4.7-2.4h0m.9 11.2h0m-11.2-12h0m6.9-9.1h0m-20 7.6h0m11.2 1.9h0m9.8-1.6h0m.5 11.1h0m-21.1-11.9h0m9.9 15h0m6.5-19.4h0m8.5 8.6h0m-1.4-4.5h0m-16.5-.8h0m-6.5 15.2h0m18.3-13.1h0m-1.9 10.3h0m-2.4 9.5h0m5.7-5.3h0m-15.5 .1h0m5.4-8h0m14.4 2.4h0m-3.4-3.4h0m5.2 7h0m-8.7-17h0m-4.2 1.9h0m-1.2 23.3h0m3.2-6.3h0m1.5-13h0m10 7.3h0m-19.3-7.6h0m11.8 15.9h0m-1.2-20.9h0m-1.4-4.2h0m2.1 20.7h0m.1-.8h0m-12.4-11.5h0m4.4 11.2h0m-3.1 .8h0m-5.2-10.1h0m11.8-13h0m-16.6 19.2h0m2.8-6.3h0m27.3 5.8h0m-9.2-.5h0m-17.2-3.4h0m13.7 7.8h0m-.5-21.6h0m-5.6 8.7h0m-7 12.4h0m-1-8.2h0m19.2 12h0m-9.8-10.2h0m10.3 11.5h0m-6.7-16.2h0m12.4-6.5h0m-12.9-2.6h0m3.1 10h0m-10 7.3h0m-10.8-1.4h0m28.3-10.7h0m-26.9 7.3h0m26.8-14.2h0m-7.8 17.8h0m8.8 6.9h0m-3.9-4.3h0m6.8 1.8h0m-8.5-7.9h0m-13.9 6.1h0m3-10.2h0m2.5-1h0m-6.2-2.7h0m2.3 19.8h0m13.2-.8h0m4.6-1.5h0m-23.1-16.6h0m11.4-5.2h0m7 23.2h0m-7 2.1h0m-15.3-6.8h0m3.5-12h0m18.8-10.9h0m.5 2.4h0m-6.5 26.7h0m-5.6-9.9h0m10.4-4h0m5 13.2h0m-4.8 0h0m-8.6-8.2h0m5.9 3.4h0m10.2-8h0m-8.5 9.6h0m.8-13.4h0m-9.4-.5h0m-4.4 2.4h0m3-7h0m1.3 8.2h0m14.7 1.7h0m-15.2-1.4h0m-5-1.2h0m.3 4.3h0m6.3 10.6h0m17.1-4.1h0m-22.6 1.8h0m-.6-8.2h0m19.2-6h0m-6.8-4.5h0m-11.7 14h0m7.5-6.7h0m-3.2 .8h0m-7.3 9.5h0m20.8-8.5h0m-15.1-4.1h0m-7.2 13.6h0m-.9-3.3h0m3-6.9h0m13 9.6h0m-4.8 2.4h0m0-25.3h0m9.4 2.1h0m-8.2 22.7h0m-14.4-10.8h0m24.3 7.7h0m-14.1-11.9h0m3.9-.5h0m16.4 13.5h0m-18.8-13.9h0m-1.9 15.1h0m11.6-21.7h0m-12.2 5.1h0m4.4 15.7h0m1.2-15.2h0m-6.5 0h0m10.5 9.2h0m2.2-15.1h0m-14.6 19.1h0m16.2-5.5h0m-12.1-9.8h0m3 23.4h0m5.3-2.5h0m-3-9.6h0m3.6-17.9h0m-10.8 10.8h0m12.6-11.2h0m-14 25.4h0m18.2-17h0m-15.8 12.3h0m15.3-2.6h0m-20 4.9h0m18.4-12h0m1.5 11.8h0m-10.9-17.7h0m4-4.7h0m-4 4.2h0m2.7 19.5h0m3.6-2.4h0m-15.9-4.3h0m11.9 2.3h0m-6.8-11h0m21.4 16.5h0m-17.6-20.9h0m-8.6 2h0m3.2 8.1h0m-4.1 7.3h0m25.3-6.5h0m-22.1 6h0m16.9-4.6h0m-24.6 6.4h0m12.1-12.8h0m18.4 12.1h0m-16.7 3.5h0m8.5-3.8h0m7.8-.8h0m-9-13.7h0m-15.4 12.5h0m21.5 1.7h0m-6.1 1.6h0m-18.6-6.6h0m8.3 1.1h0m2.6-9.7h0m3.2 .3h0m-12.2 6h0m2.2-2.7h0m16.5-9h0m-3.6 10.5h0m10.9 6.1h0m-29.2 2.2h0m18.6 6h0m0-19.9h0m-10 4.1h0m9.9 17.6h0m10-9.4h0m-12.8-20.9h0m8.3 14.7h0m-5.8-6.6h0m-1.2-8.8h0m1.5 13.2h0m6.7 4.1h0m.3 8.6h0m-14.9 5.4h0m4.1-8.3h0m-10.7 1.1h0m20.8-.7h0m2.2 4.5h0m-28.5-4.6h0m7.1 .4h0m11.7-15.6h0m5.3 8.4h0m-11.6-1.6h0m-.8-1h0m-7.8 10.4h0m3.9 5.6h0m7.6-9.2h0m1.7 5.4h0m13.5-21.8h0m-12.1 9.5h0m.4 10.4h0m.8-21.9h0m-3.6 15.2h0m-2.9 1.2h0m.5 13.5h0m-7.4-11.4h0m15.9-12.5h0m5.3-3.5h0m-19.8 5.7h0m19.2 17.6h0m2.9-8.1h0m-9.8-18.7h0m-6.9 18.7h0m-6.2-7.1h0m15.9 3.3h0m-1.4-4.2h0m4.1 14.5h0m-2 2.5h0m-19.5-10.4h0m6.4 7.9h0m13.1-21.2h0m-15.1 21.9h0m25.2-2.6h0m-21.5 4.3h0m6.8-18.7h0m-2.3-5.2h0m-.2 19h0m.3-15.2h0m4.4 22.3h0m-1.2-14.7h0m3.4-4.5h0m-5 12.6h0m-17 1.4h0m8.2-16.9h0m10.8-6.7h0m1.8 19.2h0m-19.5 5.3h0m5.6 3.7h0m11.4-4.3h0m10.3-9h0m-6.7-5.9h0m-21.3 13.4h0m11.5-19.7h0m1.2 23.2h0m2.4-23.3h0m-6 15.4h0m14.1-2h0m-10.8 7.1h0m-4.4-10.5h0m9.6-11.6h0m2-3.5h0m-3.1 3.5h0m.6-1.8h0m-15.7 23.6h0m-1.4-1.7h0m19.6-10.4h0m-2.3-4.9h0m4.8 5.9h0m-7.3 16.4h0m-15.1-13.1h0m18.8 1.8h0m-7.7 12.4h0m-2.1-5.3h0m-4.7-5.2h0m10.5-12.8h0m-5.5 22.1h0m17.9-14.3h0m-16.6-5.6h0m14.5-6.7h0m-.6 21.5h0m-2.5-16.2h0m-2-.8h0m-4.2 7.2h0m-.9-6.2h0m12.6-6.2h0m-20.9 12.3h0m19.5-8.6h0m3.5 10.9h0m-23.6 11.6h0m8.9-12.7h0m-9.5-5.5h0m9 16.7h0m11.4-8.3h0m-10.7 6h0m6.8-19.5h0m-8.2 21h0m3.2-23.9h0m-10.9 25.7h0m16.9-13.3h0m-6.2 15.4h0m3.9-11.6h0m-12.6 10.3h0m16.4-11.5h0m-7.7-3.1h0m2.9 13.8h0m-11.2-13.5h0m5.3 15.3h0m1.6-2.4h0m-.3-19.2h0m8-1.9h0m-9.7 23h0m2.4-24.9h0m-.9 27.8h0m6.9-22.7h0m-17.6 3.9h0m16-14.7h0m-15.8 25.8h0m3.8 .6h0m11.3-26.3h0m11 21.8h0m-18.6-17.9h0m8 1.1h0m-.5 22h0m-12.5-.7h0m6.3-7.9h0m-5.1 2.3h0m-6 7.8h0m13.8-3.9h0m-12.4 2.4h0m2.9-3.3h0m10 .3h0m3.6-17.1h0m9.8 17.9h0m-30.6-3.4h0m15-16.5h0m-9 7.2h0m16.4 16.9h0m3.3-26.2h0m-6.6 18.6h0m7.6-2.6h0m-10.3-9.4h0m-6.4 1.4h0m-8.6 8.4h0m13 14.7h0m-10.8-6.8h0m6.4 3h0m14.4-11.8h0m-18.4 8.8h0m-3.9-7.2h0m28.9 7.1h0m-2.3-19.9h0m-27.8 16h0m1.4 .1h0m28.4 3.9h0m-14.8-10.1h0m5.4 9.9h0m.8-15.8h0m-14.3 4.1h0m-2.1 3.2h0m26.6 7.7h0m-9.3-11.9h0m-15.5-2.3h0m5.1-3.1h0m-9.1 6.3h0m1.6 6.4h0m1.9 4.6h0m1.5-5.7h0m-6-7.4h0m.2 11h0m22.9-18.5h0m-8 25.4h0m-3.6-15.1h0m-9.1 3.5h0m0-3.4h0m11.1 5.3h0m-2.2 12.8h0m1.2-22.9h0m-12 1.8h0m20.2-1.1h0m-7.1 13h0m6.7-.3h0m-9.1-.1h0m15.4-.5h0m-24.9-1.2h0m17-.2h0m-18.2-9.4h0m20 11h0m1.7-20.4h0m-6.9 7.7h0m14.4 14.7h0m-18.5-23.1h0m.5 14.3h0m-9.8 9.9h0m22.1-4.9h0m-17.9-10.8h0m11.8-6.6h0m2.1 15.3h0m-18.6 5.4h0m17.1-14.2h0m-4.3 9.2h0m-.1 5.9h0m-10.3-9.7h0m9.5-9.7h0m-13.1 21.3h0m22.4-17.7h0m-10.5-1.9h0m-5.6 11.2h0m7.2-17.9h0m-12.5 19.9h0m14.6-13.6h0m-1.6-1.4h0m-10.1 13.6h0m3.9 7.6h0m4.8-22.3h0m-4.8 12.2h0m4.1 10.3h0" stroke-width="1"/><path d="M21.6 34.7h0m21 4.4h0m-11.8-2.7h0m16.3-21.7h0m-10.9 9.8h0m1.4-.1h0m9.6-10.8h0m-2.2-1.2h0m.5 4h0m-15.9 .5h0m-9.8 19.4h0m-2.3-8.9h0m10.8 1.7h0m12 4.4h0m-18.6-12.1h0m11.2 8.3h0m14.8-1.6h0m-24.6-3.9h0m-3.4 10.2h0m18.6-20.1h0m-4.1 18.1h0m-5.3-15.2h0m-.9 10.6h0m-4.3-8.3h0m2.2 8.5h0m3.1-10.7h0m14.7 9.9h0m.9 7.6h0m-21.7-7.3h0m-2.5 7.7h0m10.5-3.5h0m-4.3-.6h0m-.5-1.4h0m12-14.2h0m3.9 18.1h0m1.3-21.1h0m-6.4-2.4h0m-8 30.6h0m14.3-29.7h0m-2.2 20.4h0m-16.8-4.4h0m3.3 5.1h0m15.9-16.2h0m-6.6-5.7h0m-.5 7.7h0m6 16.4h0m-9.4-12.9h0m3.4 2h0m3 2.5h0m-7.9 15.2h0m-9.6-8.6h0m15.9-21.3h0m-11.9 29.2h0m19-21.6h0m-7.3-7h0m-11.7 18.6h0m11.7-16.1h0m-7.2 4.6h0m9.5 21.7h0m-12.1-18.8h0m17.2 6.2h0m-17.8 12.2h0m10.6-9.1h0m-20.2-2.2h0m11.1 4.3h0m19.9 1.5h0m-17.7-4.1h0m10.8-9.6h0m3.8 3.4h0m-.1-6.9h0m-7.1 21.9h0m-16.9-7.2h0m9-12.8h0m5.5 0h0m2.9 22.4h0m-6.5-18.6h0m-15 7.1h0m16.7 5.8h0m-1.9-5.1h0m10-11.7h0m-24 14.1h0m11.4-17h0m7.5 11.6h0m12.2 9.5h0m-8.6-22.5h0m1.3-1.6h0m-5.7 23.1h0m-7.1-14h0m-8.1 13.9h0m19.5-21h0m-13.1 2.5h0m3.1 23h0m-3.7-18.6h0m16.7 3.1h0m-18.6 9.7h0m8.3 7.6h0m6.7-18.9h0m6-5.5h0m-3.1 6.5h0m-1.6 9.8h0m-19.6-4.1h0m8.9 10.5h0m9.7-30.6h0m-3.8 13.2h0m-10.6-3.4h0m10.4-5.4h0m-1.4 4.3h0m10 3.9h0m-17.9 6.3h0m6.4-13.8h0m8.4 15.2h0m-21.7-.1h0m11.5 12.2h0m7.7-18h0m3 14.2h0m4.4-26.1h0m-6.8 18.6h0m-15.5 1.1h0m25.1-4.1h0m-3.9 1h0m-21.5-1h0m15.3-13h0m-8.6 26h0m5.5-20.5h0m2.8 5.1h0m1.7-10.7h0m5.4 21.4h0m-15.5-20.1h0m10.6 18h0m3.7-17.1h0m-13.1 22h0m8.9-26.9h0m-13.4 24.7h0m2.9 2.3h0m17.8-13.7h0m-10.2-12.6h0m9.4 .1h0m-7.8 6.5h0m-2 10.3h0m-2.6 12.4h0m2.1-17.7h0m-17.9 7.6h0m19.8-20.1h0m5.2 7.2h0m-5.6-5.1h0m2.3 9.6h0m-21.2 5.5h0m15.5-15.8h0m-3.2 27.3h0m13.7-3.2h0m-10.9 2.3h0m-11.7-9.8h0m11.3 11.2h0m-17.2-13.5h0m25.8 6.6h0m-21.6-11.7h0m24 4.2h0m-17.2-7.4h0m19.7-2.5h0m-18.9 .4h0m12.1 18.2h0m-8.5-8.5h0m-2.8 6.8h0m1.6 6.5h0m-7.7-1.7h0m19.3-27.9h0m.6 18.1h0m-15.6 1.9h0m8.1-.2h0m11.6-17.9h0m-4.4 17.3h0m-2.1-8.1h0m1.5 .6h0m-14.4 9.9h0m14.4-20.2h0m-1.9 16.3h0m4-18.1h0m-15.1 18.5h0m14.9-15.1h0m-9.2 13.3h0m-16.7-2.1h0m25.2 1.4h0m4.3 4.7h0m-23 .2h0m12.9-12.1h0m3.6 1h0m-8.3-1.4h0m-1.6 7.3h0m-10.9 1.3h0m27.5 7.8h0m-26.6-10.8h0m22.7 2.4h0m-12.3 6.9h0m-3.2-15.5h0m-.7 7.2h0m11.1 2.9h0m.8-2.8h0m-9.7 10.6h0m-1.7-17.5h0m11.5 1h0m1.4 11.7h0m-20.3 1.9h0m17.2-17.8h0m-.8 13.2h0m7-10.8h0m-2 10.2h0m.6 2.7h0m-3.1-15.8h0m11 21.3h0m-6.8-21.8h0m-15.5 21.1h0m3.8-13.3h0m-5.7-.4h0m20.5 14.7h0m-14-24.1h0m-8.6 8.1h0m.4 17.4h0m1.7-16.4h0m20.2-3h0m-22.6 3h0m4.2 8.9h0m14.7-20.1h0m-8.2 1.6h0m10.2 25h0m-26.2-6.8h0m19.6-8.7h0m-15.6 14h0m15.7 4.1h0m-2.7-28.8h0m-11.6 10.2h0m-3.6 4.1h0m22.3-14.9h0m-10.7 18.3h0m8.8-17.4h0m-6.4 14h0m-10.7-2.7h0m18.5 6.6h0m-10.7-5.9h0m3.6 14.1h0m4.5-13.1h0m-6.4-12.1h0m6.1 9.8h0m-10-5.8h0m-4.5 9.2h0m18.9-2.6h0m-7.9-3.9h0m2.5-6.3h0m8.6 5h0m3.1 12.1h0m-5.2 5.3h0m-5.6-22h0m-8.7 16.9h0" stroke="#fff" style="stroke-opacity:var(--w,.75)" stroke-width=".8"/></g>
<g id="hrg" stroke-linecap="round" fill="none"><path d="M35.9 6.5 35.2 7.6 34 8.6 32.6 8.3 31.9 7.3 31.4 6.4 31.6 5.3 32.7 4.9 34.1 4.6 34.7 5.4ZM32 10.7 32.2 11.8 31.5 12.1 31 12.1 30.6 11.6 30.2 10.6 30.8 9.9 31 8.9 31.7 9.1 32.2 9.8Z" fill="currentColor" stroke="none"/><path d="M31.7 6h0m2.4 .8h0m1.1-.8h0m-2.1 .5h0m.5 .5h0m.6 .2h0m-2.9 1.8h0" stroke-width="1"/><path d="M34.3 8.3h0m-1.3-.2h0m2.2-.8h0m-.5 .4h0m-3.6 3.1h0" stroke="#fff" style="stroke-opacity:var(--w,.75)" stroke-width=".8"/></g>
<g id="holi" stroke-linecap="round" fill="none"><path d="M52.2 26.3 53.1 24.4 54 22.4 55.2 19.7 57.8 19.5 59.9 19.1 62.8 21.1 64.2 23.5 63.6 26.6 60.8 28 59.3 29.3 58.4 31.2 56.7 30.4 55.5 28.3 53.5 27.4Z" fill="currentColor" stroke="none"/><path d="M62.6 23h0m-8.9 1.7h0m7.1 2.9h0m-5.6-2.8h0m7.3-2.4h0m-6.6 4.5h0m-1.4-4.3h0m.6 .7h0m1.7 2.1h0m2.3-2.1h0m-5 2.5h0m2.3-2.5h0m7.4 .5h0m-.1-1.1h0m-4.8-2h0m-2.6 6.2h0m1.5-.5h0m1.2-5.4h0m-4.5 6.3h0m7.2-5.7h0m-3 6.6h0m-.5 .4h0m-3.2-1.5h0m2.8-.7h0m1.8-4.5h0m-.8-2.6h0m-1.6 11.2h0m2.8-5.3h0m-1.7-1.6h0m4.4 2.3h0m-4.7-2.3h0m1.4 2h0m2.1-1.1h0m-4.7 1.3h0m3-3.1h0m-1.7 6.5h0m-1.5-5.1h0m1.2-4.4h0m1.5 6.1h0m2.3-2.6h0m-2.5-1.4h0m.7-.4h0m-5.3 .1h0m8.7 2.9h0m-2.6 3h0m1.4-4.8h0" stroke-width="1"/><path d="M55.8 28.3h0m1.2-7.5h0m2.1 2.7h0m1.2-2.9h0m-4.7 5.2h0m.5 1.7h0m-.8 .7h0m4.9-4.1h0m.4-.8h0m-1.9 0h0m-.2 4.4h0m1-4.6h0m-4.9 3.5h0m-.4-2.1h0m7.3-.8h0m-2.2 1.9h0m-2.7 2.1h0m3.6-6.5h0m-1 3.7h0m-1.1 3.8h0m-1.4-3.3h0m-2.1-3.1h0m2.8 3.1h0m.9 3.8h0m-3.8-2.4h0m5.5-7.5h0" stroke="#fff" style="stroke-opacity:var(--w,.75)" stroke-width=".8"/></g>
<g id="hendo" stroke-linecap="round" fill="none"><path d="M49.9 21.3 49.1 21.4 48.8 21.8 48 22.2 47.9 21.5 47.6 21.2 47.8 21 48.2 20.5 48.7 20.6 49.1 20.8ZM68.4 38.6 68.2 39.5 67.4 39.1 66.5 39.8 66.1 39.1 66.3 38.7 66 37.8 66.7 37.3 67.5 37.5 68.3 37.8Z" fill="currentColor" stroke="none"/><path d="M66.7 39.5h0m1.7-.8h0m-.1-.2h0m-1-.5h0m-.2 .4h0m-19-16.6h0m.4-.7h0" stroke-width="1"/><path d="M48.4 20.8h0m18.3 17.3h0m-17.4-17h0" stroke="#fff" style="stroke-opacity:var(--w,.75)" stroke-width=".8"/></g>
<g id="hmur" stroke-linecap="round" fill="none"><path d="M64.3 34.2 64.2 35.3 63.2 35.3 62.1 35.7 61.5 35 61 34.1 61.6 33.6 62.2 32.6 62.9 33.3 64.3 33.3Z" fill="currentColor" stroke="none"/><path d="M61.7 33.5h0" stroke-width="1"/><path d="M62 33.8h0m.1 1.3h0" stroke="#fff" style="stroke-opacity:var(--w,.75)" stroke-width=".8"/></g>
<g id="hnk" stroke-linecap="round" fill="none"><path d="M4.3 39.3 5.9 37.9 7.1 36.2 9.6 36.2 9.6 38.5 7.8 41.8 5.7 41.7Z" fill="currentColor" stroke="none"/><path d="M7 36.8h0m1.2 .7h0m-2.2 4.1h0m1.6-3.8h0m-.1 3.2h0m-1.6-1h0m1.2 .1h0m-.9-1.2h0m3.3-1h0" stroke-width="1"/><path d="M5.4 40h0m-.3-1h0m1.1-.4h0m2.4 .5h0m-3 1.4h0m2.1-3.8h0" stroke="#fff" style="stroke-opacity:var(--w,.75)" stroke-width=".8"/></g>
<g id="htc" stroke-linecap="round" fill="none"><path d="M6.1 43.4 8.3 41 10.7 40.1 12.9 39 13.6 37.7 15 40.4 19 40.9 20.8 41.9 22.6 43.1 24.9 46.2 24.7 49.9 23.3 51.6 22.7 53.7 20 55.9 17.5 57.2 15.7 59.3 13.2 58.5 12.1 55.3 9 52.9 6.9 49.9 6.6 46.8Z" fill="currentColor" stroke="none"/><path d="M12.6 44.5h0m6.5 7.6h0m-3.5-10.3h0m4.6 10.5h0m1.1-6.3h0m-9.2 5.9h0m7-9.4h0m-9.8 6.8h0m5.2 4.4h0m6.1-9.8h0m3.1 6.7h0m-5.3 2.6h0m-1.5-6.9h0m2.9 5.2h0m-13-4.6h0m7.9-3.1h0m3.9-.8h0m-8.8 2.3h0m-.4 3.2h0m4.3-5.6h0m-2.4 1.8h0m1.7-5.1h0m3.3 17.4h0m-8.3-15.6h0m10.6 .9h0m2.9 5.6h0m0 .8h0m-2.9 7.6h0m-.2-11h0m4.3 5.4h0m.7-2.6h0m-6.8 10.1h0m5.2-15.3h0m-6.5-1.6h0m6.2 10.8h0m-4-3.5h0m4.9 .9h0m-2.8-4.4h0m3.1 6.1h0m-2.2 2.2h0m-3.7-11.3h0m6.1 8h0m-1.4-5.6h0m-4.8 7.7h0m3 3.6h0m-2.6-14.3h0m.4 14.8h0m.7-14.2h0m-4 1.3h0m2.6 .6h0m-2.1 2.9h0m-1.3 4.5h0m1.4-4.6h0m3.6-3.4h0m-.2 2.8h0m-3.5 5.6h0m.5 1h0m-6.8-5.3h0m7.1-4.6h0m6.2 10.1h0m-3.9-1.1h0m5-4h0m-15.6-2.9h0m5.9 4.1h0m1.8 4.4h0m7.1-4.6h0m-12.9-2.7h0m-1.1 3.6h0m.8-4.6h0m2-4.1h0m7.3 10.3h0m2.7-4.5h0m-10.2 .5h0m-.7-.1h0m-2.5 .1h0m13.4 7.8h0m-12.2-11.8h0m15 3.1h0m.2 .7h0m-9.7-1.8h0m3.3-2.1h0m-.7 3.2h0m-.2 6.6h0m-9.1-8.5h0m3.1 1h0m.3 1.4h0m13 3.3h0m-2.6-1.6h0m1.5-4.5h0m-.1 4.5h0m-6.9-4.3h0m5.7 8h0m-3-.7h0m-7.7-6.6h0m4.8-3h0m.7 15.4h0m2.9-11.5h0m-7.5 1.2h0m-2.6 .5h0m5.4-.3h0m6 7h0m-8.3-.9h0m.7 1.2h0m-3.5-13.3h0m8.5 3.8h0m2.6 9.2h0m-8.9-11.5h0m-4.2 3.1h0m7.5 12.6h0m3.3-3.4h0m4.6-3.3h0m-3 3.5h0m.4-6.4h0m-7.2 3.1h0m9.1-7.7h0m-11.8 6.5h0m5.4 3.7h0m-6.3-13.4h0m-.5 2.2h0m11.2 7.8h0m-8.3-.2h0m-3.8-4.1h0m12.6 4.9h0m-.3-4.4h0m-11.3-1h0m8.7 10.6h0m-9.1-15.4h0m1 2.2h0m-.5 4.9h0m4.6-5.8h0m-2 2.4h0m3.1 9.6h0m-8-7.7h0m.3-2.5h0m2 1.1h0m6.3-1.7h0" stroke-width="1"/><path d="M17.5 52.3h0m-6.9 .7h0m5.9-11.3h0m-3.3 4.3h0m-5.5 4.3h0m1.9 1.1h0m4.4-7.5h0m5.1 10.4h0m-2.8 .6h0m-4.7-13.8h0m7.4 14.6h0m-9-6.7h0m14.2-1.8h0m-4.5 8.2h0m-.6-8.7h0m-8-5.2h0m12.7 5.1h0m-15.1 3.7h0m1-5.1h0m8 3.4h0m-2.3 8.8h0m-2.1 .5h0m3.1-5.4h0m.2-2.3h0m-8.6-7.8h0m9.8 8.9h0m-1-2.3h0m-5.2-4.2h0m-2.7 3.1h0m8.6-4.8h0m2.8 1.1h0m.7 9.8h0m-5-2.4h0m-3.1 0h0m9.4-1.8h0m.3-2.9h0m-2.2 4.2h0m-7.1-5h0m1.7 7.2h0m5.2-8.8h0m-.6-1.7h0m-12.7 1.6h0m2.8 4.7h0m7.3-4h0m4.3 9.3h0m-11-1.9h0m4.5 3.7h0m6.2-10.4h0m-4.5 2.2h0m-3 4.8h0m-.4-4.1h0m-3.6 .6h0m4.2-4.8h0m1-1.7h0m-.3 1.7h0m-3.3 6.8h0m2-6.7h0m1.4 11.2h0m-1.3-14.7h0m-2.5 5.6h0m-2-5.7h0m10.5 14.5h0m-6.5-2.9h0m2.5-2.2h0m-6 2.4h0m6 1.9h0m-6-7.5h0m-2-1.5h0m2.9 1.8h0m1.3-1.8h0m5.1 .5h0m4.9 4.7h0m-6.4-8.3h0m5.2 7.1h0m2.6 .5h0" stroke="#fff" style="stroke-opacity:var(--w,.75)" stroke-width=".8"/></g>
<g id="hbc" stroke-linecap="round" fill="none"><path d="M21.7 62.8 22.9 60.7 23.7 58.8 25.9 59.1 25.5 61.9 23.3 63.3Z" fill="currentColor" stroke="none"/><path d="M23.1 61.9h0m2.2-2.8h0m-2.3 3.9h0m2-1.1h0m-1.9 .3h0m2.5-2.3h0" stroke-width="1"/><path d="M24.4 59.4h0m-.8 2.2h0m-.4-1.2h0m1.8 .1h0" stroke="#fff" style="stroke-opacity:var(--w,.75)" stroke-width=".8"/></g>
<g id="hdc" stroke-linecap="round" fill="none"><path d="M23.7 66.6 23.1 67 22.4 68.1 21.7 67.4 20.5 67.4 20.5 66.6 20.9 66.1 21.5 65.2 22.4 65.6 22.8 66ZM31 64 31 64.9 30.3 65.5 29.9 64.8 28.8 64.8 29.1 64.1 29 63.4 29.6 62.5 30.4 62.8 31 63.3ZM36.4 61 36.5 61.9 35.8 62 35.2 62 34.4 61.7 34.8 61.1 34.7 60.3 35.2 60.3 35.6 60.3 36.1 60.4ZM30 49.8 29.9 50.1 29.6 50.9 29.2 50.4 29.1 50.1 28.7 49.9 28.8 49.5 29.1 49.4 29.5 49.1 29.6 49.5ZM28 53.4 28.5 54.4 27.8 54.2 27.3 54.4 27 54 26.6 53.5 27.1 53.3 27.3 52.4 27.7 52.7 28 53Z" fill="currentColor" stroke="none"/><path d="M29.1 49.8h0m.1 13.5h0m-7 4.4h0m8-4.1h0m-9 2.4h0m1.3 1.4h0m-1.3-.4h0" stroke-width="1"/><path d="M28.9 49.5h0m-7.4 17.9h0m.8-.9h0m13.6-4.9h0m-6.4 2.9h0m-8.1 1.7h0" stroke="#fff" style="stroke-opacity:var(--w,.75)" stroke-width=".8"/></g>
<g id="hmono" stroke-linecap="round" fill="none"><path d="M30.9 55.5 33.9 53.7 36.4 55.6 38.2 58.5 37.3 61.5 34.7 63.1 31.7 61 31.6 58.2Z" fill="currentColor" stroke="none"/><path d="M34.5 56.7h0m.5 3.1h0m.7 .9h0m-2.8-5.8h0m3.1 4.5h0m-4.2-2h0m4.2 1.7h0m-1.2-2.8h0m1.1-.2h0m-3.5 2.8h0m3.8-2.2h0m-3.3 4h0m2.1-5.2h0m2.6 2.1h0m-3.8-.6h0m3.1 1.3h0m-4.1-3h0m.2 1.1h0m1.1 5.8h0m1.1-6.7h0m-3.6 3h0m.8-3.3h0m1.2 2.6h0m1.1-1.9h0" stroke-width="1"/><path d="M37.3 59.4h0m-1.4 2.4h0m-2.7-3.4h0m.5 2.1h0m-.6-4.5h0m1.1-1.5h0m-2.8 2.2h0m4 2.5h0m-2.8-4.7h0m3.5 4.4h0m1-1h0m-2.9 1.3h0m-2.2-.2h0m.3 1.9h0m3.3-4.2h0" stroke="#fff" style="stroke-opacity:var(--w,.75)" stroke-width=".8"/></g>
<g id="hmacro" stroke-linecap="round" fill="none"><path d="M34.2 47.9 37.4 46.9 39 45.7 40.3 44.2 41 41.5 44.3 41.4 47.5 42.4 49 45.4 49.2 47.6 49.1 49.8 49.4 52 49.4 54.2 50.4 56.3 50.7 58.6 49.3 61.9 46.6 62.9 44.4 64.3 41.8 66.4 40.5 65.3 39.6 62.5 36.5 60.5 35.3 57 32.9 54.1 33.7 52.1 34.2 50.1Z" fill="currentColor" stroke="none"/><path d="M38.1 49.3h0m3.8 8.1h0m4.2-8.9h0m4.3 9.7h0m-3.7-3.2h0m.1 7.1h0m-1.4-7h0m-6.2-.5h0m.7-5.2h0m5.6 12.8h0m-1.9-6.6h0m.1 1.3h0m-2.2 7.3h0m-.9-6.8h0m7.8-2.6h0m-10.3 5.7h0m9.5-15.2h0m-3.1 6.9h0m-.6 10.2h0m1.8-2.8h0m.5 3.5h0m.8-18.2h0m1.4-.4h0m.4 8.3h0m-10.6 4h0m9.4-12.8h0m-8.2 11.9h0m.9-3.5h0m4.4 7.8h0m4.5-2.4h0m-8.1 1h0m-5-7.1h0m.8 6.7h0m12.2-1.3h0m-7.4 7.8h0m7.1-7.6h0m-11.3-1.6h0m3.1 5.3h0m3.8-.4h0m-3.5-9h0m1.3-2.3h0m-1.6-1.8h0m-.2 10.5h0m3.9-3.3h0m1.1 8.2h0m-10.7-11.9h0m10.5-6.4h0m-8.2 8.9h0m5.4-9.4h0m-.8 17.3h0m.4-17.4h0m-1.7 15.6h0m-.9-13.1h0m-2.4 4.1h0m10.8 9.8h0m-.8-8.1h0m-5-10.5h0m-2.8 9h0m2.4 8.4h0m-.1-7.5h0m.4-7.8h0m-3.4 9.5h0m-2.7 1.2h0m8.8-8.4h0m-.4 8.4h0m-6.1 3.2h0m6-2.7h0m4.7-2.8h0m-14.7 1.6h0m6.9 4.6h0m1.5-16.7h0m-3.6 14.4h0m1.5 .9h0m6.9-4.7h0m-3.5 2.2h0m5.3 4.1h0m-3.6-6.5h0m-4.5 8.4h0m2.4 1.1h0m-2.4-10.4h0m-4 1.3h0m4.9 6.6h0m-1.5 2.1h0m2.8-19.4h0m-7.9 11.2h0m7 10.3h0m.4-18.8h0m3.4 10.1h0m-1-5.9h0m.1 5.1h0m-3.6 5h0m2.7-12.8h0m1.1 2.4h0m-4.6 13.4h0m1.9-18.3h0m-5.4 16.3h0m7.4-2.2h0m-1.3-.9h0m6.6 1.5h0m-.7-3.1h0m-1.8-12.1h0m-8.6 16.7h0m4.2 1.8h0m.6-5.7h0m2.4 .4h0m-.6-13.8h0m-11 13.2h0m7.9 6.2h0m2.9-4.9h0m-3.1 7.2h0m4.2-5h0m-5.4-.2h0m-.3-13.1h0m8.5 15h0m-.7-11.4h0m-1.2 0h0m1.8 4.3h0m-5-11.4h0m-.3 2.4h0m-4.9 7.3h0m9.6 7.8h0m0 .3h0m-5.6-4.4h0m.4-12.2h0m2.7 2.8h0m-1.6 9.9h0m-3.2-2.4h0m-3.7 2.9h0m5.6-12.2h0m6.3 12h0m-5.6-5.7h0m2.9-.3h0m-2.7 7.6h0m4.2-6.8h0m-11.8 6.6h0m11.7-12.3h0m-8.5 7h0m-1 6.7h0m10-6.4h0m-10.3 2.7h0m4.2 5.4h0m-2.6-13.7h0m3.3 9h0m5.2-3.6h0m-12.5 5h0m3.3 1.3h0m.1-6.6h0m8.9-4.5h0m1.3 10.9h0m-.3 .7h0m-11.8-3.8h0m6.4 .9h0m-3.5 3h0" stroke-width="1"/><path d="M45.8 48.1h0m.7-.7h0m1.2 7.5h0m-9.4-5.4h0m-3.4 7h0m2.8-3h0m10.7-1h0m-12.8-2.6h0m10.1 10h0m-6.3-5.8h0m.5-1.2h0m7.8 .5h0m1.1 3.2h0m-3.3-13.1h0m1.6 19.1h0m-2.3-9h0m-2.2 2.2h0m-4.9-.9h0m5.9-3h0m.9-5h0m-8.5 11.6h0m7.2-10.2h0m1.9 9.4h0m-1.2-1.2h0m-6.9 1.2h0m3.2-9.6h0m-1.4 4.7h0m-1.4 1.5h0m0 3.2h0m10.3-12.9h0m-8.3 12.9h0m-1.4-4.2h0m4.9 2.5h0m-3.1-6.5h0m-.2-3.6h0m-1.5 6.8h0m.1 2.5h0m-4.9-1.3h0m10-10.9h0m6.8 14.7h0m-16.3-3.8h0m3.7-1.5h0m3.7 .8h0m-5.8-4.8h0m7.2-.7h0m0 16.8h0m2-21.2h0m-8.6 5.2h0m6.6 5.4h0m-1.8 7.1h0m6.3-14.5h0m-2 7.5h0m-1.1 4.8h0m3.2 1.3h0m-5.8-5.8h0m-.8 7.6h0m4.7-13h0m1 10.8h0m-10.8-7.1h0m5.9 5.7h0m2.6-15.8h0m-3 6.3h0m-5.6 1.6h0m10.1-6.6h0m-2.6 13h0m5.5-3.2h0m-8.9 8.5h0m2.9 2.5h0m-1-4.4h0m1.6-5.4h0m-7.6-2.4h0m8.9 3.5h0m-4-6.2h0m3.7 11.6h0m1.4-6h0m1.7-9.9h0m-12.7 10.6h0m13.7 4.4h0m-.8-11.3h0m2.3 6.5h0m-11.4 5.6h0m3.7-19h0m2.2 20.3h0m1.3-7.4h0" stroke="#fff" style="stroke-opacity:var(--w,.75)" stroke-width=".8"/></g>
<g id="hmicro" stroke-linecap="round" fill="none"><path d="M49.1 40 51.4 38.9 53.6 39.5 55.1 41.5 57.1 42.2 58.8 43.1 59.3 46.3 61 48.6 61.2 51.6 60.1 55.3 58.7 57.8 59.4 61.6 58.9 64.6 56.6 66.2 53.6 65.7 50.8 64 50.2 67.1 48.5 68.5 45.7 69.1 44.5 66.4 46.1 64.2 49.3 62.2 50.1 58.9 48.7 55.4 47.9 53.3 47.7 51.2 47.2 48.9 47.6 46.7 49 43.1Z" fill="currentColor" stroke="none"/><path d="M56.4 58.1h0m-3.2-17.3h0m-2.3 4.6h0m-2.2 7.8h0m4.3-6.2h0m2.2 17.6h0m-1.8-15.4h0m-4.8-2.1h0m1.8 6.1h0m-1.9 13.6h0m11.5-11.7h0m-15 12.4h0m12.4-11.4h0m-2.4-6.6h0m-2-4.1h0m3.5 12h0m-2.2-14.7h0m1.1 18.5h0m-4.3-7.7h0m-3 11.7h0m7-13h0m3.5-7.7h0m-4.9 10.1h0m-3.6-4.7h0m-1.2 5.7h0m6.1 2.5h0m-9.4 8.9h0m9.9-16.3h0m-.9-6.1h0m-.1 20.5h0m-.2-14.9h0m-3.9 14.1h0m.6-22.1h0m-5.1 26.1h0m13.2-15.4h0m-6.8 11.3h0m2.7-7.6h0m-2.5 6.3h0m5.1-5.3h0m2.7-6.6h0m-3.2 3h0m-3.2-13.7h0m5.8 12.2h0m.6 1.5h0m-2.7 2.3h0m-2.7-6.6h0m-2.7 11.8h0m4.2-10.7h0m-7.7-5.6h0m10.1 6h0m-6.9-2.2h0m4.4 11.9h0m-1 .5h0m5.3-10.9h0m-11.5 14.4h0m10.1-9.7h0m-4.5-6.8h0m1.3 6.7h0m.2-10.6h0m-1.3 9.1h0m-2.7 11.1h0m-1.2-16.1h0m4.8 3.9h0m-.5 11.6h0m-3.5-6.4h0m-1-1.3h0m1.9-.8h0m-2.4-1.8h0m.3-7.2h0m.9-6.5h0m3.4 24h0m-4.2-7.8h0m5.4-4h0m4.3-2.5h0m-6.4 9.1h0m-2.6-6.3h0m-4-4.2h0m1.7 .3h0m4.2 7.3h0m-4.7 9.7h0m5-23h0m3.4 .5h0m-6.1 .7h0m-2.7 20.8h0m2.2-24.8h0m9 7.5h0m-5.4 13.8h0m-5.9-8.5h0m7.4-3h0m-2.7 8.6h0m2.6 6.9h0m2.4-8.7h0m-1.2 4.2h0m-2.5 3.6h0m-2.3-4.3h0m2.3-2.6h0m2-12.6h0m3.7 5.1h0m-12.6 16.7h0m11.7-16.2h0m-3.7 1.9h0m-.4 12.5h0m2.8-1.3h0m-1.8-10h0m-4.5-1.6h0m5 4.5h0m2.6-.9h0m-2.8 4.6h0m-6.3-7.1h0m6.6 1.9h0m-8.9 10.9h0m2.3-8.2h0m2.7-9.1h0m4.6 3.3h0m-2.3 2.8h0m1.7-9.6h0m.4 8h0m-6.6-10.7h0m-.7 10.1h0m4-1.8h0m-1.3-3.3h0m1.5 9.8h0m-2.4-14.5h0m-5.5 26.2h0m3.2-1.1h0m1.3-11.4h0m.3-5.7h0m-4.3 18h0m4.4-28.6h0m-.9 11h0m6.9 11.2h0m-1-18.7h0m.2 21.7h0m2.5-16.7h0m-9.5 6.1h0m5.5 8.3h0m2.2-12.7h0m-1.7 1.8h0m-7.9 14h0m8.7-23.6h0m-5.6 1.5h0m.8-4.5h0m2.3 11.4h0m4 14.9h0m-9.8-2.2h0m3.4-.8h0m3.6-14.3h0m1.8 14h0m2.6-12.6h0m-10 13.8h0m-1.5 .5h0m7.2-14.4h0m-3.7 9.6h0m-.8-10h0m2.3-4.5h0m-2.3 18.3h0m6.4 .9h0m-3.5-15.2h0m3.1 9.6h0m-7.1-14.8h0m6.5 10.7h0m-2.1 10.3h0m4.1-8.6h0m-5.5-16.7h0m1.8 9.9h0m6.2 2.5h0m-10.5 3.6h0m4-12.6h0m-3 15.3h0m-4.1 9.5h0m6.6-6h0m-2.2-16.1h0m-1.3 21.9h0m9.6-10.2h0" stroke-width="1"/><path d="M51.9 44.2h0m6.6 6.6h0m-3.6 2.2h0m4.8-.3h0m-7.3-1.8h0m1.8 3.6h0m-8.4 11.4h0m4.1-10.6h0m3.1-1.2h0m5.2-.8h0m-5.1-1h0m5.3-7.1h0m-5.3 11.5h0m-4.8-10.5h0m7 1.3h0m-.3 16.6h0m-3.4-6.8h0m.8-4.3h0m8.3-1.5h0m-8.5 12.8h0m3.7-21.1h0m-7.6 20h0m1.7-17.2h0m8.6 4.6h0m-.4 2.6h0m-1.6-6.8h0m2.2 6.2h0m-8.8 12.2h0m2.1-14.9h0m2.9-1.8h0m-2 12.1h0m-2.2-3.9h0m8.5-1.7h0m-5.7 9.9h0m-4.5-1.1h0m8.4-2.6h0m.3-11.1h0m-2.7 13.9h0m2.6-5.3h0m-6.1 5.6h0m-5.8 2.9h0m8.1-25.4h0m-2.2 2.1h0m-2.4 7.3h0m7 6.9h0m-7.5-13.4h0m9.9 7.4h0m-9.9 .2h0m4.5 10.9h0m2.4-7.8h0m-4.6 8.2h0m6.8-3.8h0m-4.8 5h0m-4.7-10h0m11.2-7.4h0m-13 21.8h0m8.2-23.5h0m-1.7 4.8h0m-1.1-1.4h0m1.3 5.9h0m3.8 4.5h0m-5.1-14h0m-.2 18.1h0m5.8-1h0m-7.8-18.4h0m7 8.5h0m-4.7-11.7h0m-1.8 8.5h0m6.9-2.6h0m-4.6-1.9h0m-5.3 21.8h0m1 1h0m1.9-6.6h0m5.8-3.2h0m-1.6-.7h0m-1.4-16.4h0m-2 3.1h0m-.3 6.5h0m-1.3-4.5h0m-1.1 22.3h0m3.9-14.7h0m6.8 9.6h0m-2.3-14.6h0m-6.1 16.7h0m4.8-7.9h0m-4.5 6.7h0m5.6-1.4h0" stroke="#fff" style="stroke-opacity:var(--w,.75)" stroke-width=".8"/></g>
<g id="hmisc" stroke-linecap="round" fill="none"><path d="M37 15.9 36.5 15.9 36.3 16.4 35.6 17 35.5 16.3 35 15.7 35.2 15 35.8 15.4 36.1 15.5 36.7 15.4ZM67.2 43 67.3 43.8 66.7 44.1 65.9 43.9 65.1 43.6 65.6 43.2 65.4 42.3 66 42.3 66.9 42 67.4 42.5ZM57.2 16.9 56.9 17.3 56.5 17.8 56 17.6 55.7 17.3 55.1 16.7 55.6 16.4 56 15.7 56.4 16.2 56.6 16.5Z" fill="currentColor" stroke="none"/><path d="M65.8 42.9h0m-9.1-26.3h0m9.2 26.8h0m-29.9-27.9h0" stroke-width="1"/><path d="M55.9 16.1h0m-20.4 .1h0" stroke="#fff" style="stroke-opacity:var(--w,.75)" stroke-width=".8"/></g>
</defs><text x="16.5" y="15" font-size="19.5" font-weight="bold">A</text>
<rect x="12.3" y="46" width="39.4" height="17.4" fill="#e2efda"/>
<text x="32" y="57.8" font-size="8.5" text-anchor="middle">TCGA</text>
<text x="65" y="58.7" font-size="9.4" text-anchor="middle" fill="#111" transform="rotate(-90 65 58.7)">expression</text>
<line x1="83.5" y1="9" x2="83.5" y2="96.2" stroke="#444" stroke-width="0.7"/>
<line x1="83.5" y1="96.2" x2="426" y2="96.2" stroke="#444" stroke-width="0.7"/>
<line x1="81.5" y1="12.6" x2="83.5" y2="12.6" stroke="#444" stroke-width="0.6"/>
<text x="80.5" y="15.6" font-size="8.5" text-anchor="end" fill="#222">3</text>
<line x1="81.5" y1="34.2" x2="83.5" y2="34.2" stroke="#444" stroke-width="0.6"/>
<text x="80.5" y="37.2" font-size="8.5" text-anchor="end" fill="#222">0</text>
<line x1="81.5" y1="55.8" x2="83.5" y2="55.8" stroke="#444" stroke-width="0.6"/>
<text x="80.5" y="58.8" font-size="8.5" text-anchor="end" fill="#222">-3</text>
<line x1="81.5" y1="77.4" x2="83.5" y2="77.4" stroke="#444" stroke-width="0.6"/>
<text x="80.5" y="80.4" font-size="8.5" text-anchor="end" fill="#222">-6</text>
<line x1="95.7" y1="49.2" x2="95.7" y2="41.7" stroke="#444" stroke-width="0.4"/>
<line x1="95.7" y1="36.7" x2="95.7" y2="29.2" stroke="#444" stroke-width="0.4"/>
<rect x="90.2" y="36.7" width="11" height="5" fill="#929292" stroke="#444" stroke-width="0.4"/>
<path d="M96.8 38.1l-4.1 3.3-.1-6.2 3.2 3.1-3.1 5.3 .1-3.3 .3-8.2 .7 10.7 2.4-10.8-1.2-.2 3.2 8.7-4-1.5 .2 1.5 3.5 .4-1.2 .7-1.9 2.7-2.2-6.6 1 1 .8-1.4 1.9-2.2 1.5 .7-.7 4.4-1.2-.8 2.4 5.4 .8-6.1-6.1-3 .3-2.7 2.3 9.7 2 2.6-1.4-4.6 .9 1.1-.7-5.2 1.7-1.5 .7 1.8-6.2-3.9 4.5 7.2 .9-9.1-1.1 7.2-4.5 5 .6-6.6-.4 3.1 1.3-.3 1-2.5 .4 3.4 .7-2.5 2.2 7.2-4.1-11.2 4.3 1.8 .5 5.5-5.1-.5 0 .7 .2-7.9-1.8 6.2 4-4.1 2.7 5.6-2.4-3.9 .4-2.9 .8 13.4 .6-5.6-3.3-1.7-.9-12 2.1 21.1-2.7 17.4" fill="none" marker-start="url(#g)" marker-mid="url(#g)" marker-end="url(#g)"/>
<rect x="90.2" y="36.7" width="11" height="5" fill="#929292" stroke="#444" stroke-width="0.4" fill-opacity="0.7"/>
<line x1="90.2" y1="39.2" x2="101.2" y2="39.2" stroke="#333" stroke-width="0.6"/>
<line x1="107.7" y1="38" x2="107.7" y2="29.8" stroke="#444" stroke-width="0.4"/>
<line x1="107.7" y1="24.3" x2="107.7" y2="16.9" stroke="#444" stroke-width="0.4"/>
<rect x="102.2" y="24.3" width="11" height="5.5" fill="#f2694d" stroke="#555" stroke-width="0.4"/>
<path d="M104.5 22.3l 2 5.2-2.1 2 .4 0 1.9-2.7 1.8 9.4-3.4-7.9 1.6-1.6-1.8 4.4 2.5 4.3-2.6-10.6 1.7 2.2-1.3-1-1 9.6 .9-3.3 2.9-7.2 3.2 7.4-.8-4.7-3.7-2.2-1.5-2.2 4.6 4.2-3.4-6.5 4.9 7.1-1 7-.8-5.4-3.8-11.1-1.5 3.7 0 3.9 4.9-.2 2 4.3 .2 0-5.7 .7 .1-5.5 2.9 2.2 2.1 2-1.9-.1 1.1-7.4 .8 10.4-.9-2.4-4.5-3.5 4.5-5.3 1.4 1.1-4.3 11.5 2.5-16.5-4.1 15.8 5.4-4.7-.7 0 1.3 3.4-2.4 1.7-3.9-10.5-.9 8.3 3.8 1.9 3-7.9-.8-7.5-4.5 12.5 .2-3.8 2.5 3.9-3.3-4.2 5.7 5.2-2.4-8 1-6.8-1.9 29" fill="none" marker-start="url(#r)" marker-mid="url(#r)" marker-end="url(#r)"/>
<rect x="102.2" y="24.3" width="11" height="5.5" fill="#f2694d" stroke="#555" stroke-width="0.4" fill-opacity="0.75"/>
<line x1="102.2" y1="26.8" x2="113.2" y2="26.8" stroke="#333" stroke-width="0.6"/>
<line x1="95.7" y1="13.6" x2="107.7" y2="13.6" stroke="#555" stroke-width="0.5"/>
<line x1="95.7" y1="13.6" x2="95.7" y2="14.8" stroke="#555" stroke-width="0.5"/>
<line x1="107.7" y1="13.6" x2="107.7" y2="14.8" stroke="#555" stroke-width="0.5"/>
<text x="101.7" y="15.2" font-size="10.5" text-anchor="middle" fill="#222">***</text>
<line x1="126.7" y1="49" x2="126.7" y2="40.9" stroke="#444" stroke-width="0.4"/>
<line x1="126.7" y1="35.5" x2="126.7" y2="29.8" stroke="#444" stroke-width="0.4"/>
<rect x="121.2" y="35.5" width="11" height="5.4" fill="#929292" stroke="#444" stroke-width="0.4"/>
<path d="M129.6 42.2l-2.7-9.7-3.6 5.6-.1-2.6 5.6 3.8-.5 1.3-1.2 2.2 0-7.2 1.6 7.5-3.8-.3 .2-1 2-2.8 1.4-6.2-1 9.6-.8-6.8-.3-4.4 .5 6.5 1.2 2-3.1 6.3 2.1-15.5-2.9 16-.1-11.4 .8 1.4-1.2 2.3 5.8-4.5-5.2-3.1-.1 5.6 5.2-5.2 .5 9.8-3.9-3.9 3 1.8-2.2 1.5-1.2 1.6 2.7-2.9-5 2.5 0-8.5 2.2 3-1.8-2.2 6.4 0-6.2 6.8 4.8-3-3.6 1.4 4.5 2-.7 .2 .7-3.6-2.4 2.7-3.6-3.2 4.4-1.3 1.8 .3-2.2 2.4 1.6-.2-5.5-2.4 1.9 5.1 1.5-7.1-3 7.1 2.8-4.9-2.6 1.8-.7 2 1.7-1 3.2 2.6-2.6-12.2 .8 21.1-1.6 19.3" fill="none" marker-start="url(#g)" marker-mid="url(#g)" marker-end="url(#g)"/>
<rect x="121.2" y="35.5" width="11" height="5.4" fill="#929292" stroke="#444" stroke-width="0.4" fill-opacity="0.7"/>
<line x1="121.2" y1="38.2" x2="132.2" y2="38.2" stroke="#333" stroke-width="0.6"/>
<line x1="138.7" y1="41.7" x2="138.7" y2="31.8" stroke="#444" stroke-width="0.4"/>
<line x1="138.7" y1="23.6" x2="138.7" y2="14.9" stroke="#444" stroke-width="0.4"/>
<rect x="133.2" y="23.6" width="11" height="8.2" fill="#f2694d" stroke="#555" stroke-width="0.4"/>
<path d="M136.9 27l-1.8 1.9 1.3-2 2.1-7.9 2.6 11.8-2.9-4.3-.3 1.7 4.4-11-4.8 10.2 2.2 5.8-1.7-14.9-2 8.2-.5 3.2 .7-2.2-.6-5.1 4.4 13.1-2.9-19.6 1.3 12.2-2.2 5.5 5.9-10.9 .1 6.9-.1-6.8-4.8 3.5 .5 1.3 .7 .5 .2-5-3.7 4.6 3-.2-2.7 3.3 1.4 2.9 2.6-5.1 .6-12.2 .4 9.3-2.9 7.1 4.9-9.8-2.5 11.4-4.5 2.4 4.3-1.5 .8-20.2-1.5 14.2-.2-5 2.4 9.9-1.8-17.3 .8 19.2-3.4-14.9 1 10.3-1.9-3 3.8 3.9 0-12.3-4.6 4.3 5.9-3.9-1.9 7.2 .9-8.2-3 18.7-1.3-5.8 .9-5.7 4 12.3-2.7-3.1 .7-9.3 1.1-3.6 .2-6.1-2.9 14.4 3.6-1.7-5.4-4.8 .3 11.5 4.7-9.7-.1 11.6-1.6-12.5 .1 10.2-2 2.8 4.1-23.8-.2 26.8" fill="none" marker-start="url(#r)" marker-mid="url(#r)" marker-end="url(#r)"/>
<rect x="133.2" y="23.6" width="11" height="8.2" fill="#f2694d" stroke="#555" stroke-width="0.4" fill-opacity="0.75"/>
<line x1="133.2" y1="27.8" x2="144.2" y2="27.8" stroke="#333" stroke-width="0.6"/>
<line x1="126.7" y1="13.6" x2="138.7" y2="13.6" stroke="#555" stroke-width="0.5"/>
<line x1="126.7" y1="13.6" x2="126.7" y2="14.8" stroke="#555" stroke-width="0.5"/>
<line x1="138.7" y1="13.6" x2="138.7" y2="14.8" stroke="#555" stroke-width="0.5"/>
<text x="132.7" y="15.2" font-size="10.5" text-anchor="middle" fill="#222">***</text>
<line x1="157.7" y1="51.5" x2="157.7" y2="40.4" stroke="#444" stroke-width="0.4"/>
<line x1="157.7" y1="33" x2="157.7" y2="22.3" stroke="#444" stroke-width="0.4"/>
<rect x="152.2" y="33" width="11" height="7.4" fill="#929292" stroke="#444" stroke-width="0.4"/>
<path d="M154.3 45.7l 6.7-20.3-3.7 14.3 3.5-3.5-5.1 4.8 2.2-7.3 3 1.3-3.1 9.6 2.6 .7 .1-9.9-2.9-3.1 0 4.9-.2-.4-.8-1.2-.2 4.4 3.1-3.1 .6-.5-.9 10.8 1.3-.6-3.5-11.4 4.2 7.4-4-11-1.1 1.9 3.9 6-3.8-1.9-.1 3.5 1.7-6.3 3.1 4.1-.5 3.5 .2-2.3 .2-11.6-6.3-1.4 4.8 6.5-.6-6.9-2.5 13.2-1.1 10.5 2.4-9.3 1.9-7.3 1.6 7.3-4.7-5 1.8 9.8-2.8-12.2 .4 5.4 0 3.7 4.8-10.2-5.3 11 .3-7.1-.7 5.1 1.1-1.8 4.5-3.5-1 8.6-1.5-13.8-1.1 9-.7-4.6 4.9 3.1-2.4 3.3 1.6 .1-4.3-4.2 1.1 3.8 3.1 .3-5.7-4.3 4.8-1.8-.9 6.6-4.1-10.1 5.8-6.8 .2 20.3-5.2-4.4 .3-5.5 5.5-8.6-1.5 8.1-1.9-5.1 .7-2.2-2.3 19.3 4.8-8-5.5-6 .9-.9-1-2.2-.3-1 2.2-.8-1.1 6.9 2.3-13.1-2.4 34.3 1 10.4 .8 23.6" fill="none" marker-start="url(#g)" marker-mid="url(#g)" marker-end="url(#g)"/>
<rect x="152.2" y="33" width="11" height="7.4" fill="#929292" stroke="#444" stroke-width="0.4" fill-opacity="0.7"/>
<line x1="152.2" y1="36.7" x2="163.2" y2="36.7" stroke="#333" stroke-width="0.6"/>
<line x1="169.7" y1="41.5" x2="169.7" y2="31.8" stroke="#444" stroke-width="0.4"/>
<line x1="169.7" y1="25.3" x2="169.7" y2="19.9" stroke="#444" stroke-width="0.4"/>
<rect x="164.2" y="25.3" width="11" height="6.5" fill="#f2694d" stroke="#555" stroke-width="0.4"/>
<path d="M172.5 36.5l-3-9.7 3.6 2.4-1.9 3.8-1.5-4.6 1.3 1.5-.1-4.8 1.9 5.8-4.3-1.9 .6 1.2 2.8-2.9-.4-1.9 1.7-.4-4.9 3.7-.7 1.8 4-5.3-1.9-.2-2.3 16.9 3.5-12.1 2.1 4.7-5.4-2.3 5.6 1-6.8-3.3 2.5 .3 2.5 7.8 2-16.1-6 11.4 5.5-6.6-2 2.1-2.1-1.4-1.5-2.1-1.3 7 7.1-4.5-6.2 6.1 1.7-1.4 3.5-4.5-5.7 3.4 3.1-7.9-2.1-3.4 1.3 17.6 .3-7.8 3-1.9-5.7 1 .2-1.8 5 5.3 1.1-5.8 .5-.2-2.5 6-2.3-4.4-.3 9.5 4.8 .5-2.1-9.1-3 .9 1.8-1.5-.6 13.6-1-16.9 5-2.1-5.5 8.6 4.7 .1-.4-11.5-1.6-.3-1.1 36.7" fill="none" marker-start="url(#r)" marker-mid="url(#r)" marker-end="url(#r)"/>
<rect x="164.2" y="25.3" width="11" height="6.5" fill="#f2694d" stroke="#555" stroke-width="0.4" fill-opacity="0.75"/>
<line x1="164.2" y1="28.8" x2="175.2" y2="28.8" stroke="#333" stroke-width="0.6"/>
<line x1="157.7" y1="13.6" x2="169.7" y2="13.6" stroke="#555" stroke-width="0.5"/>
<line x1="157.7" y1="13.6" x2="157.7" y2="14.8" stroke="#555" stroke-width="0.5"/>
<line x1="169.7" y1="13.6" x2="169.7" y2="14.8" stroke="#555" stroke-width="0.5"/>
<text x="163.7" y="15.2" font-size="10.5" text-anchor="middle" fill="#222">***</text>
<line x1="188.7" y1="49.8" x2="188.7" y2="36.7" stroke="#444" stroke-width="0.4"/>
<line x1="188.7" y1="28" x2="188.7" y2="15.4" stroke="#444" stroke-width="0.4"/>
<rect x="183.2" y="28" width="11" height="8.7" fill="#929292" stroke="#444" stroke-width="0.4"/>
<path d="M190.7 28.8l-4.9 9.4 1.1-2.4-1.2 7.7 1.8-2.5 4.6-7.2-5 14.4-1.3-31.1 4.4 21.9-1.9-2.2 1.2-4.2 .4 6.9 0-7.9-3.9-14.2 3.2 17.7-1.4-8.5-.9 4.8 0-4.5 2.3 13.7-1.7 3.8 1.3 1.5 1-12.5 2.3 11.8-1.2-6.7 .2-1.7-3.8-3.2-1.3-2.9 3.3 8.5 2.4 11.1-3.4-28.8-1.3 21-1.1-7.6 .8-11.6 1.1 2.6-.8 9.1 2.4 .7-4.1-6.8 2.2-1.2-.1 2-.8-2.2-1 6.9 .3-11.6 3.8 1.6-3.9 13.1 2.3 .2-.9 3.9 .2-16.3 1.8 23.7 2-22 1 10.8-1.9-9.2-3.7 6.9 1.6 12.2 2.7-15.3-2.5-13.4-2.1 21.3 3.4 .8 1.9-8.4-3.8 7.9 .9-3.3 .1-1.8 2.9 1.1-.9 1.9 1.2-1.3-.2-4.1 .2 2.3-.3-6-3.8 2.7 3.1 8.2-4.7-14.3 1.7 7 3.1-6.3-4.4 7.3 1.3-6.3-1.9-3.1 .8 6.4-1.4-1.7 3.6-13.1 2 15.7-5.1-2.2 3.6-5.5-2.3 2.1 .9-3.1 1.6 13.3-4.4-12.2 4.1 10.1 1-8 .2 5.8-2.2-4.9-2.6 5.7-.1 4.2 2.5 .3 1.4-7.8-3.9 2 3-1.2-3.2-11.5 6.3 5.6-5.7 7 4.1 15.6 1.8-13.5-3.5-6.4-2.2 20.4 4.3-20.3-3 6.9 2.8-3.7-3.4 9.8 3.8 4.7 .7-7.9-4.9 1.5 .7-7.6-.6-15.7 .6 41.2-.4 9.9" fill="none" marker-start="url(#g)" marker-mid="url(#g)" marker-end="url(#g)"/>
<rect x="183.2" y="28" width="11" height="8.7" fill="#929292" stroke="#444" stroke-width="0.4" fill-opacity="0.7"/>
<line x1="183.2" y1="31.8" x2="194.2" y2="31.8" stroke="#333" stroke-width="0.6"/>
<line x1="200.7" y1="53.3" x2="200.7" y2="40.9" stroke="#444" stroke-width="0.4"/>
<line x1="200.7" y1="31" x2="200.7" y2="16.2" stroke="#444" stroke-width="0.4"/>
<rect x="195.2" y="31" width="11" height="9.9" fill="#f2694d" stroke="#555" stroke-width="0.4"/>
<path d="M203.9 46.2l-5.7-17.7 4.6-8.5-1.1 24-2-.9 1.6 .6 2.2-15.2-1.8 23.9-2.7-28.1 5.3 21.2-1.6-16.3-2.4 3.3-2.9 9.9 5.7 6.3 1.2-12.8-3 12.3-4.3-15.8 .3-2.5 2.9 13.2 .6 2.5-2.1-5.8 3.1-6.3-2.2 3.3-1.8-.5 3.5-3.8 .1 8.4-.9-1.4-2.5 8 .1-5.5-.4-8.2 5.1-8.6-2.8-2 1.8 12.9-.6 1.4-.9-8.5 3.6 17-.2-10.5-6.4-5.6 1.5-2.1-1.4 6.7 3.7 1.9 2.9-1.5-2.5 4.8-.7 .9-2.5-14.1 1-2.3 4.3 11.2-.8 3.3 .4-2.7-.7-.7-2.2-12.6-1.6 16.5-1.4 1.8 2.2-1 3.8-3.8-1-13-2.1 11.9 2.6 11.8-1-17.3 2.3 5.6-7 4.6 1.8 13.4 5.1-15.8-1.5 12.7-3.1-22-.6 23.5 3.3-5.4-.2-16.5 1.3 15.9-1-10.6 .2 6.9-1.2-12.8 .4 5-4 7.5-.4-1.4 .6-6.5 .2 9.5-.8-10.3 4.5 15.8 .5-9.1-.8-3.7-1.7-2.8 3.9 9.5-6.1-20.6 6.5 26.8-6.2-26.4-.5 14.9 6 2.9-.2 .5-1.4-15.6-4 10.2 4.9 4.7-2.5-1.7-2.9 5 5.1-7.4-2.6 7.2 1-16.3-3.5 16.4 2.9-16.4-.5-4 1.9-8.4-.6 38.9" fill="none" marker-start="url(#r)" marker-mid="url(#r)" marker-end="url(#r)"/>
<rect x="195.2" y="31" width="11" height="9.9" fill="#f2694d" stroke="#555" stroke-width="0.4" fill-opacity="0.75"/>
<line x1="195.2" y1="36.2" x2="206.2" y2="36.2" stroke="#333" stroke-width="0.6"/>
<line x1="188.7" y1="13.6" x2="200.7" y2="13.6" stroke="#555" stroke-width="0.5"/>
<line x1="188.7" y1="13.6" x2="188.7" y2="14.8" stroke="#555" stroke-width="0.5"/>
<line x1="200.7" y1="13.6" x2="200.7" y2="14.8" stroke="#555" stroke-width="0.5"/>
<text x="194.7" y="15.2" font-size="10.5" text-anchor="middle" fill="#222">***</text>
<line x1="219.7" y1="43.5" x2="219.7" y2="33" stroke="#444" stroke-width="0.4"/>
<line x1="219.7" y1="26" x2="219.7" y2="21.8" stroke="#444" stroke-width="0.4"/>
<rect x="214.2" y="26" width="11" height="7" fill="#929292" stroke="#444" stroke-width="0.4"/>
<path d="M217.7 33.8l 4.2-2.3-4.5-3.7 4.1 6 1.5-4-3.4 6.9 2.2-6.7-3.2 2.6 3.4 3.6-3.8-7.4-.5 15.3-.7-16.5 3.7-4.5 .4 15.9 .6-4.1-2.7-9 0-.1 3.4 6-6-3.6 6.1 2.9-2.8 3.2-1.9 4 3.7-15.6 0 8.9-3-5.1-1.2-1.1 4.1 9.3-4-12.2 2.9 11.2 2.1 .8-4.5 0 3.2-2.9 1 2.9-4.2-2.7 .6 .9 0-6.4-1 3-.6 10 6-11 .2 6.2-1.3-1.2-4.2-4.2 3.1-5.6-1.8 9.5-2.5-.7 4.7 3.8-1.7-6.3-.4 5.1 2.4 1.2-1.2-1 1.2-8.8-.1-.3 1.1 5.8-.2-.6-2.8-5.1-1-4 .7 5.8 2.6-.1-3.7 .1 2.6-3.9-1.5 8.8-1.6-9.2 1.4 .4-2.4 6.8 5.2-4.4 1.1 2.4-2.6-1.7-.2 2.4 .7-1.2 1.3-5.5 .8 .9-5.1 5.3 3.8-1.6-4.4-3.1-.5 11.1 1.5-6.1 1-.3 0 1.4-1-2.4-.3-3.5 2.9-2.7 .8 37.2-1.7 22.1" fill="none" marker-start="url(#g)" marker-mid="url(#g)" marker-end="url(#g)"/>
<rect x="214.2" y="26" width="11" height="7" fill="#929292" stroke="#444" stroke-width="0.4" fill-opacity="0.7"/>
<line x1="214.2" y1="29.8" x2="225.2" y2="29.8" stroke="#333" stroke-width="0.6"/>
<line x1="231.7" y1="50.9" x2="231.7" y2="40.9" stroke="#444" stroke-width="0.4"/>
<line x1="231.7" y1="34.2" x2="231.7" y2="24.3" stroke="#444" stroke-width="0.4"/>
<rect x="226.2" y="34.2" width="11" height="6.7" fill="#f2694d" stroke="#555" stroke-width="0.4"/>
<path d="M230.9 39.7l-1.3 8.1 4.4-3.3-1.3 .4-3-14.4 5.4 8.6-1-6.3-.1 11.4-1.9-11.2-3.2 5.6 5.4 1.8-4.3-7.3 1.2 1.5-1.8 6.2 .7 6-.3-8.9 1.4-2.3 1.5 8.3 2.2-9.1-.6-1.7 .4 14.6-.9-6.2-1.1 3-4.6 1.5 4.8 5.7-3-13-.2 1.5 4-.6 1-3.8-.8 4.6-1.4 3.2 1.3 4.6 0-16.4 .4-4.6-2.3 13.3 1.6 5.5-1.4-19.2-2.1 15.3 1.6-4.1-3.2 2.8 3.2-6.2 .1 3.8-3.7-11.7 6.2 8.2-1.3-4.4 1.3 8.7 .9-5.7-6.5 8.4-.4-9.5 4.3-.9-2.1 .8 4.9-6.6-.7 5.4-6.3 6.2 2.2-1.2 3.9-6.2-2.5 3.5 1.8 9.1-2.6-3.3 1 4.4 2-3.7-3.1-6.4 .7-.3 3.5 4.4-4.8-5.6-.1-2.6 2.4 6 1.1 9.5 .8 1.7-2.6-6.6-4 2.3 1.4-3.1 3.5 5.4 .9-10.6-1.2 10.3 0-10.8 .4 1.7-3.4-4.8 4 4.2-4.8-2.4 1.6-7.9-.6 35.7" fill="none" marker-start="url(#r)" marker-mid="url(#r)" marker-end="url(#r)"/>
<rect x="226.2" y="34.2" width="11" height="6.7" fill="#f2694d" stroke="#555" stroke-width="0.4" fill-opacity="0.75"/>
<line x1="226.2" y1="37.7" x2="237.2" y2="37.7" stroke="#333" stroke-width="0.6"/>
<line x1="219.7" y1="13.6" x2="231.7" y2="13.6" stroke="#555" stroke-width="0.5"/>
<line x1="219.7" y1="13.6" x2="219.7" y2="14.8" stroke="#555" stroke-width="0.5"/>
<line x1="231.7" y1="13.6" x2="231.7" y2="14.8" stroke="#555" stroke-width="0.5"/>
<text x="225.7" y="15.2" font-size="10.5" text-anchor="middle" fill="#222">***</text>
<line x1="250.7" y1="48.9" x2="250.7" y2="36.9" stroke="#444" stroke-width="0.4"/>
<line x1="250.7" y1="28.9" x2="250.7" y2="16.9" stroke="#444" stroke-width="0.4"/>
<rect x="245.2" y="28.9" width="11" height="8" fill="#929292" stroke="#444" stroke-width="0.4"/>
<path d="M251.8 35.1l-2-17.2 1.3 20.2-2.1-16.1 .4 8.5 .8 9.1-2.6-16.8 3.6-2.3 1.7 15.6-1.7-2.5-3.9 5.7 2.6-10.1 4.2-9.9-3.6 4.7 1.2 6.1-3 4.4-1.5-1 4.8 .3-4.2 11.8 5.5-.5-1.1-11.4-3.3 0-1.3-1.4 5-3.9-.3 1.4-4.5-10.1 2.6 5.7 3.3-.3-1.5 7.3-4.9 18 5.6-7.8-5.1-8.9 .6-5 4.8 14.3-3.4-12.6 1.4 2.6-3-9.7 4.6 13.3-1.2-10.2-1.5 13.8 3.7-16.4-1.1 16.9-5.1-13.1 6.4 2.9-4.5-1.4 1.9-8.5 0 24.9-2-14.5 .4-11.1 2.2 19.1 .9-17.8-3.7 2.9 1 14 1.1-5.2-3.8 5.6 5.5-18.7-1.8 18.2-2.1-17.9 2.9 20 1.6-17.2-2.5 8.3 1.7 4 .9 1.1-4.9 7.3 1.7-18.8-1.9 1.6 4.1 6.1-2.3 11.7 2.2-.9-3.8-4 4.6-19.2-2.5 5.7-2.4-2 0 10.3 1.2 3.2 1.5 5.1-3-16.3-.7 11.4 .4 1.9 3.7-6.7-.2 1-1.8-4.8-2.2 2.5 6.7 1.2-2.9 5.4-2.2-11.1 4.8 7.2-1.2-8.4-3.6 14.4-1.5-23.2 2-.9-.1 41.8-.8 34.7" fill="none" marker-start="url(#g)" marker-mid="url(#g)" marker-end="url(#g)"/>
<rect x="245.2" y="28.9" width="11" height="8" fill="#929292" stroke="#444" stroke-width="0.4" fill-opacity="0.7"/>
<line x1="245.2" y1="32.8" x2="256.2" y2="32.8" stroke="#333" stroke-width="0.6"/>
<line x1="262.7" y1="52" x2="262.7" y2="38.5" stroke="#444" stroke-width="0.4"/>
<line x1="262.7" y1="29.5" x2="262.7" y2="16" stroke="#444" stroke-width="0.4"/>
<rect x="257.2" y="29.5" width="11" height="9" fill="#f2694d" stroke="#555" stroke-width="0.4"/>
<path d="M265.4 43.3l-3-6.2-2.9 12.8 3.9-21.4 2.7 2.4-5.2 5.4 5.2-12.4-2.1 5.8-3.8-2.2 5.9 11.7-6.8 .2 1.6-5.7 4.8-9.6-.5 23.2-.9-.4-.5-9-3.7-1.3 4.5-2.8-3.4 10.9 2.2-15-2 4.5-.5-3.8-.7 9.8 .6 0-1.7 1 5.2 1.8 1.6-8.3-5.3 1.3 5 12.1-5.6-20.3 5.9 2.9-.7 4.4-3.7-6.9 3.6-.3-5-4.6 .5 12.2 2.5 9.9-3-7.2 1.9 0-1.8-8.6 1.3 2.5-1.3 16.4 5.5-21.2-5.9 7.1 5.8 2.2-1.7-3-2.8 2.5-.2 6.4 5.4-6.3 .1 4.8-5.3-3.9 4.5-4.7-4.4 13.1 5-7.1-4.7 9.4-1.5-12.4 2.9 13.1-2.5-14.3 .2-15.7 2.6 22.2 1.5-3.6-.4 .6-4.7-2.7 3.9 1.9-3-9 3 6.3-.2-3.9-2.8-9.8 1.5 24.9 2.3-6.4-2.8 8.1 3.7-8.3-6.1 1.1 6.6-12.6-4.7-8.7-.6 17.7-.2 1.3 1.5-10 1.1 5.8-.5 .2 2-3.5 .7 3.5-.7 4.9-2.5-9.5 3.7 5 .6-2.7-3.2-6.5 .1 9.5-2.3 19.6-.4-17.3 .8-20.6 .6 42.4" fill="none" marker-start="url(#r)" marker-mid="url(#r)" marker-end="url(#r)"/>
<rect x="257.2" y="29.5" width="11" height="9" fill="#f2694d" stroke="#555" stroke-width="0.4" fill-opacity="0.75"/>
<line x1="257.2" y1="34" x2="268.2" y2="34" stroke="#333" stroke-width="0.6"/>
<line x1="281.7" y1="50.5" x2="281.7" y2="38.5" stroke="#444" stroke-width="0.4"/>
<line x1="281.7" y1="30.5" x2="281.7" y2="20" stroke="#444" stroke-width="0.4"/>
<rect x="276.2" y="30.5" width="11" height="8" fill="#929292" stroke="#444" stroke-width="0.4"/>
<path d="M278.9 35.4l 4.2-2.2-.7 1.9-.2 .8-3.3-11.7 5.4 9-5.2 1.1 2.6-1.6-2.6-3.5 1.9 5.5 3.2 5.9-5 1 .2-17 4.6 5.1-2.9 11.2 3-8.8 .7-4.2-1.2 5.7-3.1-1.6 .7 7 3.4 7.9-.7-13.6-2.1 2.7 3.1-3.1-3.7 6.5 1.4-6.8-3.9-3.4 2.5 11.8-2-7.7 5.8 1.4-2.4 2.7 1.8 2.5-6-18.4 4.5 9.8-2.8-.8 2.4 .1-1.3 4.1 3.7 8.3-2.2-9.7-3.7 7.1 2.8-19.8-1.7 4.6-.9 1.3-.1 10 1.9 2.1-.8 .3 1.8-4.1 2.1 2.8-1.3-9.7-3.2 1.2 2.4 3.7 .5-5.4-2.6 1.5-.1 6.9 2.5-7.8-4 6.2 1.6-7.7 2.2 19 3-16.4-4.8 5.9-1.6 .3 5.6-4.6-3.4 1.7 .4 3.2-1.5-1.2 5.1-3-4.3 3 .1-3.6 3.4-.4-.2-4.1-.5-2.7 .1 9.9-.3-10.6 1.4 13.7-6.4 7.7 5.4 .3 1.3-16.8-2.7 2.8 2.1-6.3-1.8 16.3-1.1-11.3 1.9 10.5-1.2-6.9-1.2 8.3 3.2-11.7-2.4 16-1.4-14.9-1.1 5.6-.4-9.5 5.8 3.9-3.6-10.6 2.1 39.4 .3 18.6" fill="none" marker-start="url(#g)" marker-mid="url(#g)" marker-end="url(#g)"/>
<rect x="276.2" y="30.5" width="11" height="8" fill="#929292" stroke="#444" stroke-width="0.4" fill-opacity="0.7"/>
<line x1="276.2" y1="34.7" x2="287.2" y2="34.7" stroke="#333" stroke-width="0.6"/>
<line x1="293.7" y1="48.8" x2="293.7" y2="35.3" stroke="#444" stroke-width="0.4"/>
<line x1="293.7" y1="26.3" x2="293.7" y2="14.5" stroke="#444" stroke-width="0.4"/>
<rect x="288.2" y="26.3" width="11" height="9" fill="#f2694d" stroke="#555" stroke-width="0.4"/>
<path d="M293.2 36.1l 3.5-6.3-2.5 3.7-.5-2.2 .3 11.4 3.4-17.9-2.3-2.9-2.2 8.2-.3-5.5 4.4 14.5-6.3-12.2 2.1-4.2 1.4 .4 2.3 13.7-3.2 2.9 1.3-10.6-.7 9 2.1-7.2 1.2 3.4-1.1 2.7 .5-9.6-1.5 3.4 1.5 10.3-4.5-13.9 1.7 6-2.5-7 3.4 4.7 2.7-5.5-2.7 1.4 1.1 11.9-3.5-5.5 0-2.3 3.9-.4-4.7-9.2 2.2 3.9 1.1 .2-.9 3.7-.9 12-2.1-10.2-.1 7.4-.1 3.6 5.4-6.3-1.6 3.7-4.4-7.2 5.6-3.6-3.1-2.8-1.3 16.3 5.4-11.3-2.4 3.9-1.4-8.4-2.5 11.7 6.7 1-3.8-14.2-3 2.2 6.6 .2-.2 8.1-.7-9.4 1.1 1.9-3.4 13.2-.8-4.4 2.4-7.2 1.2 3-2.9 5.3-2.3-5 1.4-7-.5 13.4 2 11-1.3-11.8 .1-.8 3.1-2.7-3.5-2-.5-1.4-.3 4.8 .7 6.1-1.3-8.6 .8-3.4 4.2-2.4 0 9.1-.2 .2-.7-2.1-2.5 2.1 4.2-.9-3.3-6.5-2.7 2.6 4.2 7.1-.9-9.4-1.6 17.5-1.1-16.2 4.9 10.3-2.5-3.9-1.2-23.2 2 44.9" fill="none" marker-start="url(#r)" marker-mid="url(#r)" marker-end="url(#r)"/>
<rect x="288.2" y="26.3" width="11" height="9" fill="#f2694d" stroke="#555" stroke-width="0.4" fill-opacity="0.75"/>
<line x1="288.2" y1="31.1" x2="299.2" y2="31.1" stroke="#333" stroke-width="0.6"/>
<line x1="281.7" y1="13.6" x2="293.7" y2="13.6" stroke="#555" stroke-width="0.5"/>
<line x1="281.7" y1="13.6" x2="281.7" y2="14.8" stroke="#555" stroke-width="0.5"/>
<line x1="293.7" y1="13.6" x2="293.7" y2="14.8" stroke="#555" stroke-width="0.5"/>
<text x="287.7" y="15.2" font-size="10.5" text-anchor="middle" fill="#222">***</text>
<line x1="312.7" y1="52.1" x2="312.7" y2="40.1" stroke="#444" stroke-width="0.4"/>
<line x1="312.7" y1="32.1" x2="312.7" y2="20.9" stroke="#444" stroke-width="0.4"/>
<rect x="307.2" y="32.1" width="11" height="8" fill="#929292" stroke="#444" stroke-width="0.4"/>
<path d="M311.9 42l-.5-10.5 .5-2.6 3.3 11-3.8-1.4 1.7-3.9-1.4-1.1-2-2.9 1.7 5.7 2.8 .5-3 3 3.4-15.8 .8 20.8-4.3-6.2-1.7-5.1 2.3-1.5 .4-4.8-1.2 3.4 4.2-3.2-4.6 3.2-.5 13.4 4.2 1.8-4.7-15.3 1.1 9.7 .7-2.9 .1-2.4 2.3 2.7-.5 4.3 1 6.2-.2-12-2.4 7.5 3 5.6-3.4-12.8 2.3 12.8-4-9.3 5.2-3.5-4 3.2-.9 6.4 4.3-15.5 .9-3.1-3.8 15.9 1 6.9 3.5-5.1-.7-12.8-1.4-6.4 .5 8.2-1.9 2.9-2.1-1.9 4 1.4 .7-2.2 1.2 1.4-2.3 9.1-4.1-13.5 2.1 3.6-.3-2.5-1.2 6.3 .7-5.1 0-7.1 4.9 2.4-4.1 6.7-1.5-3.6 2.9 17.8-.1-19.8 1.5 17.1-1.1-5.9-1 3.9-2.4-7.5 1.2-14.1-1.6 9.8 1.6 6.6 1.1-.1-2.3 6.5 1.7-13.5-1.3 10.3 5.7-5.9-1.6-.5 1.6 9-3-3.9-.9 .6-1.7-1.1 5.1-5.8-1.9 .6 .1-10.9-2.8-.4-1.6 11.6 5.2 3.6-4.1-.7 3.2-7.8-3.3 13.6 4.3-21.6-.7-2.6-.3 36.9-1.9 26.3" fill="none" marker-start="url(#g)" marker-mid="url(#g)" marker-end="url(#g)"/>
<rect x="307.2" y="32.1" width="11" height="8" fill="#929292" stroke="#444" stroke-width="0.4" fill-opacity="0.7"/>
<line x1="307.2" y1="36.3" x2="318.2" y2="36.3" stroke="#333" stroke-width="0.6"/>
<line x1="324.7" y1="44.8" x2="324.7" y2="33.7" stroke="#444" stroke-width="0.4"/>
<line x1="324.7" y1="26.3" x2="324.7" y2="17.7" stroke="#444" stroke-width="0.4"/>
<rect x="319.2" y="26.3" width="11" height="7.4" fill="#f2694d" stroke="#555" stroke-width="0.4"/>
<path d="M323.4 34.9l .3 6.1 3.5-16.5-4.4 3.8 2.8 9.8 1.5-5.8 .9-5.9-5.8-3.6 1 7.7 2.9-2.6-3.9 1-.5 7.1 .7 .8 3.9-4.9 1 10.4-.5-11.9-.9-4.8-1.1 6.9-.6-7.3 1.7 7.7-3.7 3.6 1-18.4 .4 4.5-1.2 10.4 2 2 3.8-2 0 7.8-.1-17.5-6.7-1.5 4.6 .5-.8 3.8 2.9 .7-4.9-5.6 .3 10.1-1.1 0 3.6-2.1-.1-1.5-2.1 3.4 1.1-6.6 .3 2.5-2.9 .7 5.3 4.4-.2-4.8-4.5 2 0 7.3 1.7-2 .6-8.7-3.4 2.8-.2-6.9 2.4 7.7 3.4 6.8-2.3-3.1-3.3-5.3 6.5-8-1.2 9.8-3.2-2.4 1.3 10.5 1.5 6.5-5.3-7 1.4 1.2 2.6-9.1-2.8 1.6 1.6-3.8 3.4 12.4-2.4-18.7 2.6 .5-1.3 11.4-3-5.4 3.6 3.6-5.2-10.3 2.3-3 1.4 36.9" fill="none" marker-start="url(#r)" marker-mid="url(#r)" marker-end="url(#r)"/>
<rect x="319.2" y="26.3" width="11" height="7.4" fill="#f2694d" stroke="#555" stroke-width="0.4" fill-opacity="0.75"/>
<line x1="319.2" y1="30.2" x2="330.2" y2="30.2" stroke="#333" stroke-width="0.6"/>
<line x1="312.7" y1="13.6" x2="324.7" y2="13.6" stroke="#555" stroke-width="0.5"/>
<line x1="312.7" y1="13.6" x2="312.7" y2="14.8" stroke="#555" stroke-width="0.5"/>
<line x1="324.7" y1="13.6" x2="324.7" y2="14.8" stroke="#555" stroke-width="0.5"/>
<text x="318.7" y="15.2" font-size="10.5" text-anchor="middle" fill="#222">***</text>
<line x1="343.7" y1="54.6" x2="343.7" y2="41.1" stroke="#444" stroke-width="0.4"/>
<line x1="343.7" y1="32.1" x2="343.7" y2="22.5" stroke="#444" stroke-width="0.4"/>
<rect x="338.2" y="32.1" width="11" height="9" fill="#929292" stroke="#444" stroke-width="0.4"/>
<path d="M340.5 48.2l 3.9-15.5 1.4 11.7-4.8-2.1 1 4.6-.4-15.5 2.7-8.6-3.3 18.6 4.8-1.1-4.3-3.2 3.5-6.5-2.1 3.9 1.1 11.7 1 2.7-4.7-5.6 3.4-9.1 2.6 6.1-4.8-3.1 4.4-2.6-2.4-1.3-2.2-3.6 5 11.2-1.8-10.6-2.8 12.4 4.8-3-5.1-5 1.3 .7 .2-8.7-.2 11.9-.2 8.1-2.2-9.7 .2 5.3 1.6 1.3 0 2.1 2.1-15.1-.3 6-3.5 23 3.7-29.4 1.5 8.4-2.9-9.3-.5-.8 4.6 12.5-1.3-7.1-.1-3.2-2.7-5 1.4 10.3-1.5-1.6-.1 3.7 .3 7.3-.9-9.4-.8 1.3-.8 6.4 3-1.3 .9-11.9-3.5 4.6 1.6 5.9 1.8-8.8 2.7 15.9-2.5-20.8-3.5 23.9 6.3-10.2-4.4 4.7 3.6-7.9-5.6-9.2 1.4 9.6-.7-1.7 .7 1.8 .9-3.2-1.4-3.7 3.1-7-3.1 3 2.8 7.2 1.9 14.3-3.7-5.6 1.4-3.5 2.3 .5-4.6-14.8 .8-2.3 .5 13.4 2-11.1-1.9 9.7-2.6 3.6 3.2-7.1 .7 0-4.1 4.5 6.4 8.9-6.1-17.4 1.9-.4-1.6 1.2 4.7 10.5-4.8 1.1 3.2-.4 .3-10.5 .1-3.2-1.9 6.8 2.7 3.5 .3-5.6 .1 7 1.4-7.6-3.1 .6 1.6-8.2-3.3 38.5" fill="none" marker-start="url(#g)" marker-mid="url(#g)" marker-end="url(#g)"/>
<rect x="338.2" y="32.1" width="11" height="9" fill="#929292" stroke="#444" stroke-width="0.4" fill-opacity="0.7"/>
<line x1="338.2" y1="36.6" x2="349.2" y2="36.6" stroke="#333" stroke-width="0.6"/>
<line x1="355.7" y1="49.7" x2="355.7" y2="35.3" stroke="#444" stroke-width="0.4"/>
<line x1="355.7" y1="25.7" x2="355.7" y2="14.5" stroke="#444" stroke-width="0.4"/>
<rect x="350.2" y="25.7" width="11" height="9.6" fill="#f2694d" stroke="#555" stroke-width="0.4"/>
<path d="M352.1 32.4l 5.6-13.7-3 13.6 2.9 4.1-4.9-6.3-.3 4.7 3.3-3.5 3.3-5.7-4.3 3.1 2.8 4.8 1.3 1.1-1-3.1-4 .7 2.9 7.9-2.2-10.7-.1 3.9 4.3-11.4-6.2 19 4.3-2.1-4.4-21.6 3.8 22.7 2.8-24.9-2.4 25.3-2.7-8.8 1.3 5.1 2.4-5.5-.8 4.9-3.2-13.4 4.8 3.6 0 2.3-.3 .5-4 15.1 4.5-18.2-5.4 12.8 2.2-12.7 .9-5.6 2.2 14.3-3.8-8-1.4 6.8 .9 14.4 5-13.5-7.1-3.3 5.3 3.4-4.7-6.5 0 8.6 1.8 4.7 4 .5 .7-17.7-1.3 12.3-.8-4.7-3.4 8.2 1.5-7.1 4.1-1-5-.3 1.3 2-2.6-5.9 4.1-1.7-4 6.8-.3-2.9 1.8-8.9 0 10 3.9 4.3-1.1 16.2-3.4-21.6-1.5 5.8 2.5 4.3 1.1-6.8 1-3.4-.3 1.7 .3-10.8 2.2 7.1-4.3 11.9-.6-18.4 .5 20-1.8-17 6.3 11.8-.5 5.7-5-10.8-.1-6.5-.3 1 4.3 16.8 .9-1.2-4.3 1.5 2.4-8.1 2.4-10.7-7.2 4.6 3.8 1.8-2.1-14.1 1.1 5.2 2.5-.5-2-6.2 .5 38.5" fill="none" marker-start="url(#r)" marker-mid="url(#r)" marker-end="url(#r)"/>
<rect x="350.2" y="25.7" width="11" height="9.6" fill="#f2694d" stroke="#555" stroke-width="0.4" fill-opacity="0.75"/>
<line x1="350.2" y1="30.5" x2="361.2" y2="30.5" stroke="#333" stroke-width="0.6"/>
<line x1="343.7" y1="13.6" x2="355.7" y2="13.6" stroke="#555" stroke-width="0.5"/>
<line x1="343.7" y1="13.6" x2="343.7" y2="14.8" stroke="#555" stroke-width="0.5"/>
<line x1="355.7" y1="13.6" x2="355.7" y2="14.8" stroke="#555" stroke-width="0.5"/>
<text x="349.7" y="15.2" font-size="10.5" text-anchor="middle" fill="#222">***</text>
<line x1="374.7" y1="45.8" x2="374.7" y2="34.7" stroke="#444" stroke-width="0.4"/>
<line x1="374.7" y1="27.3" x2="374.7" y2="17.7" stroke="#444" stroke-width="0.4"/>
<rect x="369.2" y="27.3" width="11" height="7.4" fill="#929292" stroke="#444" stroke-width="0.4"/>
<path d="M373.5 23.9l 2.1 1-.1 1.9-2.4 3.1 3.2 7.2-1.4-9.9-2.7-.5 5.5 5.1-2.8-8.3 2 6.2 .1 1.7-2.6 3.6 3.1-11.4-.2-1.6-.3 15.1-.1-4.3-3.9 .9-1.1-.1 2.9-9.6-.4 16 3.8-3.5-2.1-2.1 .7-10.1-.3 9.1-2.7 3.3 1 2.1-1.2-7.2 .3 5.5 1.3-1.8-3.6-3.7 1.5 3.9 .4 4.6-1.7-8.4 3.9 11.3-1.5-9.2 2.5-6-5.2-1.2 2.8 .4-1-2.6 .8 14.1-.4-14.3 .2-2.3-1.4-3.4 5.5 5.8-2.1 5.4-2.4-4.5 .4 15.5 1-5 1.6-4.3-2.1 8 0-6.9 .1 2.1 2.9-9-2.6-1.3 2.2 9.5-3-7.7-2.5-4.1 5.1 5.7 0-3.8-4.9 10.5 5.2-.3-.4-.8-1.3-.6 1 7.4-1.6-5.8-.5 5.9 1.2-5.8 2 8.3-5.1-11.7-1-3.8 6.9 10.5-4.7-7.4-.4 5.7 1.8 .2-.7-11.3 3.2 11.3-.5-3.4-4.2 1.3-1-6.8 2.8-2.1 .2 4.5 2.2-3.8-4.2 2.2-1 10 1.8-10.9 1.8-2.4-1.7 5-.3-.4 3 12.8-1.8-8.4 2-16.1-1.9 41.7 2.1 12.9" fill="none" marker-start="url(#g)" marker-mid="url(#g)" marker-end="url(#g)"/>
<rect x="369.2" y="27.3" width="11" height="7.4" fill="#929292" stroke="#444" stroke-width="0.4" fill-opacity="0.7"/>
<line x1="369.2" y1="31.1" x2="380.2" y2="31.1" stroke="#333" stroke-width="0.6"/>
<line x1="386.7" y1="55.1" x2="386.7" y2="41.7" stroke="#444" stroke-width="0.4"/>
<line x1="386.7" y1="32.8" x2="386.7" y2="20.9" stroke="#444" stroke-width="0.4"/>
<rect x="381.2" y="32.8" width="11" height="8.9" fill="#f2694d" stroke="#555" stroke-width="0.4"/>
<path d="M383.4 27.3l 0-.3 6 14.3-5.1 4.8 5.5-4.7-3.1-17.1 1.3 7.5-3.4 2.2 4.6-2.7-4.7 15.9-.8 3.1 6.3-2.4-3.9-3.5 3.6-10.7-1.6-1.7 0 6.4-4.8 .6 1.4 1.2 2.6-8.7-3.2 1.3 5.6 12.9-5.6-15.4 4.8 19.6-5.7-5.5 2.6-8.4 1.2-2.5-3.3-.8 2.5-7.7 1.8 14.6-4.1 8 5.9-1.3-2.9 8.5-1.7-18.3 1.5-6.9 3.2 17.6-.5-3-2-2.5-3.4-8 1 2.4-.3 12.3 5.1-20.6 .4 19.1-4.7-7.9-2.1 8.3 2.1-14.2 3-1.6-4.2 7.2-.8-.3 3.6-7.7 1.7 14.1-1.4-2.5-.6-7.3-3.1 2.4 3.6-2.9-1.7-.8-1.4-4.7 .1 15.8 4.9-1.5 .3-8.8-5.8-1.9 5.8 4.8-2.5 6.1-3.1-.6 3.1-10.4-.2 5.3-.8-4.3-1.5 7.1 4.9 .2-2.7 .1 3.3-3-3.4-1.8 1.5 3.3-3.4-12 .3 9.5-1.8-4.4 2-2.8 4.4 12.9-4.9 2.9 2.7-3.6-3.9-2.5 2.2-18.5 1.4 36.3" fill="none" marker-start="url(#r)" marker-mid="url(#r)" marker-end="url(#r)"/>
<rect x="381.2" y="32.8" width="11" height="8.9" fill="#f2694d" stroke="#555" stroke-width="0.4" fill-opacity="0.75"/>
<line x1="381.2" y1="36.9" x2="392.2" y2="36.9" stroke="#333" stroke-width="0.6"/>
<line x1="374.7" y1="13.6" x2="386.7" y2="13.6" stroke="#555" stroke-width="0.5"/>
<line x1="374.7" y1="13.6" x2="374.7" y2="14.8" stroke="#555" stroke-width="0.5"/>
<line x1="386.7" y1="13.6" x2="386.7" y2="14.8" stroke="#555" stroke-width="0.5"/>
<text x="380.7" y="15.2" font-size="10.5" text-anchor="middle" fill="#222">***</text>
<line x1="405.7" y1="38.7" x2="405.7" y2="31.5" stroke="#444" stroke-width="0.4"/>
<line x1="405.7" y1="26.7" x2="405.7" y2="19.5" stroke="#444" stroke-width="0.4"/>
<rect x="400.2" y="26.7" width="11" height="4.8" fill="#929292" stroke="#444" stroke-width="0.4"/>
<path d="M409.1 22.6l-2.1 11.8 .9-4-2.5-5.6 3.2 10.3-3.5 3.5-.1-9 2.3 1.9-.3-1-3.8 .6 .4 .9 5.4-2.4 .2 2.9-3.5-2.4 2-5.7-1 10.2-3.1-9.4 4.1-1.9-4.9 0 .5 4.8 5.7-2.9-5.9 .5 4.9-2.8-.6 14.2 .6-11.6-2.8 5.2 2.8-7-3.7 7 4.6-9.9-5.9 6.1 1 9.1 4.1-8.5-2.7 1.7-1.5 2.4 3.1-11.6 .2 9.3 .6-6-.8 10.1-2 2.6-2.2-9.8 3.5-6.9 .7 28.9-2.1 21.8" fill="none" marker-start="url(#g)" marker-mid="url(#g)" marker-end="url(#g)"/>
<rect x="400.2" y="26.7" width="11" height="4.8" fill="#929292" stroke="#444" stroke-width="0.4" fill-opacity="0.7"/>
<line x1="400.2" y1="28.9" x2="411.2" y2="28.9" stroke="#333" stroke-width="0.6"/>
<line x1="417.7" y1="55.5" x2="417.7" y2="43.4" stroke="#444" stroke-width="0.4"/>
<line x1="417.7" y1="35.3" x2="417.7" y2="25.7" stroke="#444" stroke-width="0.4"/>
<rect x="412.2" y="35.3" width="11" height="8.1" fill="#f2694d" stroke="#555" stroke-width="0.4"/>
<path d="M419.9 28.3l-5.9 3.5 .8 6.1 5.2 1.4-2.6-8.3-.9 12.8 3.7-3.1-1.6 4.8-2.6-7.1 3.2 3.7 .8-12.4-5.1 13.1 5.2-4.4-4.7-1 1.3-.5-1 19.5 4.9-9.9-3.7-13.3 .8 6 2.4 4.5-4.9-4.8 .1 .1 5.7 .2-5.1-12.1 .7 15.6 3.8 3.6-2.6-1.9 2.8-16.5-1.7 22.4-1.6-2.5 3.8-4.2-2.4-11-1.9 14.3 3.9-18-3 8.9-3.3-11 5.8 26.7-2.9-17.9 2.3-4.5-.1 16.7-5.2-15.6 6.8 5.3-.5 5-2.3 2.3-4 1.6 4.4-16.1-2.6 16.1 1.9-6.8-.9-6.1 2.9 15.6-1-11.3 .3-11.6-.2 25.1-.8-12.8 1.8 4.7-5.1-2.3 2.8-7.8 1.7 9-4.2-5.8 .9 2 .6 3-1.4 15.2 .9-20.9 .1 7.9 .8-5.9-.3 5.8 0-.8-1.4 1.9 5.2-6.5-2-11.3 1.1 16.5-.2-5.6-2.1 5.2 2.1-13.2-3.6 5.9 1.9-6.3-1.8 21.7 3.6-15.4-5.4-.2 2.3 8 4.4-12-6.5 7.4 3.6 5.6-1-4.9 2.9-10.6-1.2 14.9 2.4-.7-1.5-10.9-2.8-.8-.4 18.5 .8-24.1 1.6 32.1" fill="none" marker-start="url(#r)" marker-mid="url(#r)" marker-end="url(#r)"/>
<rect x="412.2" y="35.3" width="11" height="8.1" fill="#f2694d" stroke="#555" stroke-width="0.4" fill-opacity="0.75"/>
<line x1="412.2" y1="39.2" x2="423.2" y2="39.2" stroke="#333" stroke-width="0.6"/>
<line x1="405.7" y1="13.6" x2="417.7" y2="13.6" stroke="#555" stroke-width="0.5"/>
<line x1="405.7" y1="13.6" x2="405.7" y2="14.8" stroke="#555" stroke-width="0.5"/>
<line x1="417.7" y1="13.6" x2="417.7" y2="14.8" stroke="#555" stroke-width="0.5"/>
<text x="411.7" y="15.2" font-size="10.5" text-anchor="middle" fill="#222">***</text>
<line x1="101.7" y1="96.2" x2="101.7" y2="98.2" stroke="#444" stroke-width="0.6"/>
<text x="112.7" y="103.2" font-size="7.3" text-anchor="end" fill="#222" transform="rotate(-45 112.7 103.2)">HDAC1</text>
<line x1="132.7" y1="96.2" x2="132.7" y2="98.2" stroke="#444" stroke-width="0.6"/>
<text x="143.7" y="103.2" font-size="7.3" text-anchor="end" fill="#222" transform="rotate(-45 143.7 103.2)">HDAC2</text>
<line x1="163.7" y1="96.2" x2="163.7" y2="98.2" stroke="#444" stroke-width="0.6"/>
<text x="174.7" y="103.2" font-size="7.3" text-anchor="end" fill="#222" transform="rotate(-45 174.7 103.2)">HDAC3</text>
<line x1="194.7" y1="96.2" x2="194.7" y2="98.2" stroke="#444" stroke-width="0.6"/>
<text x="205.7" y="103.2" font-size="7.3" text-anchor="end" fill="#222" transform="rotate(-45 205.7 103.2)">HDAC4</text>
<line x1="225.7" y1="96.2" x2="225.7" y2="98.2" stroke="#444" stroke-width="0.6"/>
<text x="236.7" y="103.2" font-size="7.3" text-anchor="end" fill="#222" transform="rotate(-45 236.7 103.2)">HDAC5</text>
<line x1="256.7" y1="96.2" x2="256.7" y2="98.2" stroke="#444" stroke-width="0.6"/>
<text x="267.7" y="103.2" font-size="7.3" text-anchor="end" fill="#222" transform="rotate(-45 267.7 103.2)">HDAC6</text>
<line x1="287.7" y1="96.2" x2="287.7" y2="98.2" stroke="#444" stroke-width="0.6"/>
<text x="298.7" y="103.2" font-size="7.3" text-anchor="end" fill="#222" transform="rotate(-45 298.7 103.2)">HDAC7</text>
<line x1="318.7" y1="96.2" x2="318.7" y2="98.2" stroke="#444" stroke-width="0.6"/>
<text x="329.7" y="103.2" font-size="7.3" text-anchor="end" fill="#222" transform="rotate(-45 329.7 103.2)">HDAC8</text>
<line x1="349.7" y1="96.2" x2="349.7" y2="98.2" stroke="#444" stroke-width="0.6"/>
<text x="360.7" y="103.2" font-size="7.3" text-anchor="end" fill="#222" transform="rotate(-45 360.7 103.2)">HDAC9</text>
<line x1="380.7" y1="96.2" x2="380.7" y2="98.2" stroke="#444" stroke-width="0.6"/>
<text x="391.7" y="103.2" font-size="7.3" text-anchor="end" fill="#222" transform="rotate(-45 391.7 103.2)">HDAC10</text>
<line x1="411.7" y1="96.2" x2="411.7" y2="98.2" stroke="#444" stroke-width="0.6"/>
<text x="422.7" y="103.2" font-size="7.3" text-anchor="end" fill="#222" transform="rotate(-45 422.7 103.2)">HDAC11</text>
<line x1="444.4" y1="6.6" x2="444.4" y2="97.2" stroke="#444" stroke-width="0.7"/>
<line x1="444.4" y1="97.2" x2="510.6" y2="97.2" stroke="#444" stroke-width="0.7"/>
<line x1="442.4" y1="25.2" x2="444.4" y2="25.2" stroke="#444" stroke-width="0.6"/>
<text x="441.4" y="28.2" font-size="8.5" text-anchor="end" fill="#222">2</text>
<line x1="442.4" y1="45.2" x2="444.4" y2="45.2" stroke="#444" stroke-width="0.6"/>
<text x="441.4" y="48.2" font-size="8.5" text-anchor="end" fill="#222">0</text>
<line x1="442.4" y1="65.2" x2="444.4" y2="65.2" stroke="#444" stroke-width="0.6"/>
<text x="441.4" y="68.2" font-size="8.5" text-anchor="end" fill="#222">-2</text>
<line x1="442.4" y1="85.2" x2="444.4" y2="85.2" stroke="#444" stroke-width="0.6"/>
<text x="441.4" y="88.2" font-size="8.5" text-anchor="end" fill="#222">-4</text>
<line x1="456.6" y1="60.4" x2="456.6" y2="47.8" stroke="#444" stroke-width="0.4"/>
<line x1="456.6" y1="38.9" x2="456.6" y2="25.6" stroke="#444" stroke-width="0.4"/>
<rect x="451.1" y="38.9" width="11" height="8.9" fill="#929292" stroke="#444" stroke-width="0.4"/>
<path d="M455.5 38.8l 1.3 10.6-.1 8.1-2.7-22 1.5-6.4 1.1 21.5 2.5-4-3.2-8.1 1.2-3.8 1.5 6.5 .4 16.7-.6-7.9-1.8 2.6 1.7 3.8 .5-22.7-4.8 .5 4-3.3-3 9.5-1.4-7 1.4-1.3-.4 2.8 3.2 9.1 2.1 2.7-1.9-1-4.4-9.1-.5 10.4 4.4-9.3-4 9.6 2.7 .8-2.8-17.6 5.5 8.2-1.4 8.9-2-.7-.9-8.3 4.1 13.4 .1-4.9-1.9 10.3-3.6-1.1 3.3-10.4 .9-4.9 .7 3.7-1.5-7.9 .5 2.7 2.9 6.2-1.4 12.8 1.3-8.5-6.4-8.2 2.7-2.4 1.6 4.6-2.4-2.8-1.1-5.9 .1 3 3.8 8.6-3.8-11.6 3.5 7.3-1 2.8 1 3.6 1.7 6.8-.2-14.5-6 0 1-9.8 3.7 27-.7-13.9-3.3-1.8 3.3 7.7-4.1-.6 .9-6.8 4.4-9.7-2.4 22.8-2.1-9.9 4.3-.7 1-25-.8 27-4.7-18.1-.1 16 .7-10.4 .3 4.8 3.2 19.9 1.6-14.2-1.5 5.9-2.4-9.1-1.8 6.5-.8-19 2.6 15.8-2.6 7.5 3.1-3.4-2.9-18.1 .2 18.9 1.8-13.2 1.1-5.2 1.1 .1 1.8 12.7-3.6 3.8-1.8 2.7 .5-1.9 3.1-15.9 .4 12.4 .2-5.3-4.7 3.7 4.3-8.6 .3 8.9-.2-.7-1.5 10.3 .9-.6-3.8 2.5 1.2-11.3 4.2-12-1.4 18.8-3.7-8.5 6.1-2-2.1-21.6-3 40.7-.5 32.9" fill="none" marker-start="url(#g)" marker-mid="url(#g)" marker-end="url(#g)"/>
<rect x="451.1" y="38.9" width="11" height="8.9" fill="#929292" stroke="#444" stroke-width="0.4" fill-opacity="0.7"/>
<line x1="451.1" y1="43.4" x2="462.1" y2="43.4" stroke="#333" stroke-width="0.6"/>
<line x1="468.6" y1="77.6" x2="468.6" y2="53.9" stroke="#444" stroke-width="0.4"/>
<line x1="468.6" y1="38.1" x2="468.6" y2="14.4" stroke="#444" stroke-width="0.4"/>
<rect x="463.1" y="38.1" width="11" height="15.8" fill="#f2694d" stroke="#555" stroke-width="0.4"/>
<path d="M466.5 47.9l 3.4 29.1 1.8-13.6-4.9-25.5 3.7 9.6-4.8 .6 .6 18.8 4.6-24.5-5.2 12 5 5.4-5.8 9.3 6.3-42.3-2.6-4.3 .9 14.9-4-11.4-.2 6.5 2.5 2.8-2.8 7.6 6 3-.1-2.9-1.2-3.6-3.3 8.4 5.7-7.7-3.2 8.7 1.4-6.4 .9 8.4-3.6-1.2-.5-8.7 2.3 5.7 2.7-8.2-6.6 7.8 .2-1.8 3-4.8-.4-10.6 1.4 1.5 2 25.7 0-12.8-.6-21.3-1.2 23.2 1.3-2.6-5-21.7 5.7 36.6-5.1-31.3 .3 27.2-1.5-14.4 2.6 16.6 3.6 9.8-1.3-21.9 0 24.8-2.5-23.9-2.9 11.6 6.6-6.7-4.4 24.5 4.2-24.9-.7-26.1 .2 16.9-3.8 4.9 1.7-7.7 3.1-.2-2.3 18-.8 5.2 2.8-1.3-1.7-17.9-3.5 10.9 .5-6.9-.2 3.1 3.4-3.1-2.1 9.6 1.9-8.9 .5-7.6-3.8-12.7 3.3 20.7-3.6 3.3 3.3-5.3-.4-14.4 .7 5.8-4.6 9.1-.4 6.2 .7-9.4 2.9 10.5-1.7 14.5 3.7-24.1-3.5 6.6 .8 2.9 2.4-11-4.7-8.2 5.5 24.8-6-16.3 6.1 9.7-.4-13.1-5.8 3.3 1.3-4.3 3.5 16-.6-10.9-3.2-.1-.4-2.7 4.1 20.3-.6-14.5-4.1 2.2 6.2 4.1-3.6 18.8 2.6 1.5-3.4-9.9 .8 2.8-.9-24.6 4.1 5.6-.2-2-4 15.8 1.1-9.6-.1 5.6 1.6-43.1-.7 67" fill="none" marker-start="url(#r)" marker-mid="url(#r)" marker-end="url(#r)"/>
<rect x="463.1" y="38.1" width="11" height="15.8" fill="#f2694d" stroke="#555" stroke-width="0.4" fill-opacity="0.75"/>
<line x1="463.1" y1="46" x2="474.1" y2="46" stroke="#333" stroke-width="0.6"/>
<line x1="456.6" y1="10.8" x2="468.6" y2="10.8" stroke="#555" stroke-width="0.5"/>
<line x1="456.6" y1="10.8" x2="456.6" y2="12" stroke="#555" stroke-width="0.5"/>
<line x1="468.6" y1="10.8" x2="468.6" y2="12" stroke="#555" stroke-width="0.5"/>
<text x="462.6" y="12.4" font-size="10.5" text-anchor="middle" fill="#222">**</text>
<line x1="487" y1="59" x2="487" y2="51.2" stroke="#444" stroke-width="0.4"/>
<line x1="487" y1="46" x2="487" y2="38.2" stroke="#444" stroke-width="0.4"/>
<rect x="481.5" y="46" width="11" height="5.2" fill="#929292" stroke="#444" stroke-width="0.4"/>
<path d="M488.1 49.6l 1.3-2-2.8 1.1-2.3 1-.1-7.9 .1 8.5 .8-4.4 1.5 3.1-.6 .8 .8-.1-2.8 4.1 1.1-7.4 4.5 2 .6-5.5-.1 7-2.9-3 2.4 1.9-4.6 2.5 5 .3-3.3-1.3 0-1.9-1-1.5 .3 3.5-1.7 4.5 .5-1.2-1.2-5.6 .1-2.5 3.1-1.4-1.7 4.1 1.9-5.2-2.5 .4 4.6 1.2 .4 10.8-3.4-9.3-1 4.7 2.6-3.9-2.7 3.1-1.2-2.6 1-1.2 3.9 3.2-2.4-10 2 3.9-3.2 16 1.7-9.9 .1-11.7 3.5 10-1.1-1.4-4.4 .1 .2 7 5.1-4.9-4.3-2 2.3 6.1-3.6 .1 4.7-3.6-4 5.5 1.4-6.1-2.2-6.5 .7 3.9-.7 10.8 0-.5 5.2-13.5-5.8 5 3.7 1.1-.9 2.4 1.4-10.5 1.4 12.8 .6-1.6-3.7-4.3-2.2 10.2-.6-6.2 2.6-20.2 0 32.9 3.1 27" fill="none" marker-start="url(#g)" marker-mid="url(#g)" marker-end="url(#g)"/>
<rect x="481.5" y="46" width="11" height="5.2" fill="#929292" stroke="#444" stroke-width="0.4" fill-opacity="0.7"/>
<line x1="481.5" y1="48.6" x2="492.5" y2="48.6" stroke="#333" stroke-width="0.6"/>
<line x1="499" y1="64.9" x2="499" y2="45.2" stroke="#444" stroke-width="0.4"/>
<line x1="499" y1="32.1" x2="499" y2="13.1" stroke="#444" stroke-width="0.4"/>
<rect x="493.5" y="32.1" width="11" height="13.1" fill="#f2694d" stroke="#555" stroke-width="0.4"/>
<path d="M499.2 46.9l 2.4-16.5-2.5 14.2-2.9-20.9 3.4 15.8 1.6 15.7-4.5 6.7-.8-40 .7 28.6 3.8-20.3-2.4 8.4 1.2 8.5 1.6-10.1-.9-2 1.3-12.5-5.8 19.3 5.1-19.5-.4 19.2 1 9.3-4.1 13.6-.2-51 1.5 37.4-1.3 11.4 3.7-29 .3-4.8-4.8 23.2 1.1-11.4-1.7 6.3 2.8-.1-2.5 1.1 3.7-31.8-1.7 10-1.3 9.8 2.3-8.1-2.4 28.2 1.5-14.8 3.5 16.6-1.4-22.9 2.4-7.2-5.7-1.4 .4 14 4.2-10.4 .4-8.1-2.1 4.6-.4 13.5 1.4 1.2-5.4-2.4 1.3 4.8 .4-4.5 .3-.6-1.9-7.1 7.1 27.6-6.1-2.5 1.3-24 .7 18.6-2.7-20.3 .2 9.7 4 1.5 .6 1.6 .2-5.8-2.9 21.3 4.4-26.9-2.8 7.6 1 5.7-2.2-4.1 3-3.7 0-6.2-4.5 20.2 3.8-4-3.5-1.7-1-25.2 .3 11.2 .4-4.9 3.3 7.7-2.9 2 2.1 2 1.5 12.3-3.8 5.9 .6-14.1 2.3-14.4 2.2-2.3-1.8 15.9-3 6.5 3.8-4.8 .4 2.3-.2-12.6-.6 2.3-4.9 12.6 0-12.7 3.4 .6 2.7 18.1-3.1 6 .4-19.2 .1 3.5 0-16.8 1.8 24.9-2.8-10.1 .7-.7-2-2.9 .8 16.9 3.3-34-2.9 19.9 4.1-26.7-2.3 32.6 .1 1.3-2.6-2.2 4.6 23.1-5.7-23.3 1.2-22.5-1.7 18.5 4.2-29.1 .1 72.3" fill="none" marker-start="url(#r)" marker-mid="url(#r)" marker-end="url(#r)"/>
<rect x="493.5" y="32.1" width="11" height="13.1" fill="#f2694d" stroke="#555" stroke-width="0.4" fill-opacity="0.75"/>
<line x1="493.5" y1="38.9" x2="504.5" y2="38.9" stroke="#333" stroke-width="0.6"/>
<line x1="487" y1="10.8" x2="499" y2="10.8" stroke="#555" stroke-width="0.5"/>
<line x1="487" y1="10.8" x2="487" y2="12" stroke="#555" stroke-width="0.5"/>
<line x1="499" y1="10.8" x2="499" y2="12" stroke="#555" stroke-width="0.5"/>
<text x="493" y="12.4" font-size="10.5" text-anchor="middle" fill="#222">***</text>
<line x1="462.6" y1="97.2" x2="462.6" y2="99.2" stroke="#444" stroke-width="0.6"/>
<text x="473.6" y="104.2" font-size="7.3" text-anchor="end" fill="#222" transform="rotate(-45 473.6 104.2)">MAOA</text>
<line x1="493" y1="97.2" x2="493" y2="99.2" stroke="#444" stroke-width="0.6"/>
<text x="504" y="104.2" font-size="7.3" text-anchor="end" fill="#222" transform="rotate(-45 504 104.2)">MAOB</text>
<line x1="525.9" y1="7.9" x2="525.9" y2="99.3" stroke="#444" stroke-width="0.7"/>
<line x1="525.9" y1="99.3" x2="592.6" y2="99.3" stroke="#444" stroke-width="0.7"/>
<line x1="523.9" y1="15.3" x2="525.9" y2="15.3" stroke="#444" stroke-width="0.6"/>
<text x="522.9" y="18.3" font-size="8.5" text-anchor="end" fill="#222">2</text>
<line x1="523.9" y1="44.1" x2="525.9" y2="44.1" stroke="#444" stroke-width="0.6"/>
<text x="522.9" y="47.1" font-size="8.5" text-anchor="end" fill="#222">0</text>
<line x1="523.9" y1="72.9" x2="525.9" y2="72.9" stroke="#444" stroke-width="0.6"/>
<text x="522.9" y="75.9" font-size="8.5" text-anchor="end" fill="#222">2</text>
<line x1="538.5" y1="70.5" x2="538.5" y2="45.6" stroke="#444" stroke-width="0.4"/>
<line x1="538.5" y1="29" x2="538.5" y2="17.1" stroke="#444" stroke-width="0.4"/>
<rect x="533" y="29" width="11" height="16.6" fill="#929292" stroke="#444" stroke-width="0.4"/>
<path d="M537.8 29.3l-2.1 7.8 1.3 2.2 3.4-5.5-4.9 5.4 .6 .6 .1-10.3 1.8 16.4-.6 10.3 4.4-13.9-6-.1 5.4-8.8 .1 24.6-2.1-17.2 .8-9.8 .1 19.2 1.6-9-6 .3 1-1.7 .1-16.9-.8 20.2 .2-.7 4-17.5-2.3 4.9 2.9 12.6-5.7 4.5 5.2-26.1 .6 26-.2-15.7-3.1 2.3-.1 14.8-.9-18.3 4.8 9.6-.2-21.7-.9 27.7 .3-9.6 1.3 30.6-1.2-35-3 2.9 3.2 21.1-3.5-8.9 3.3 1.3 .2-28.5 .3 37.9-1-1.1-.5 4.2 1.4-28.2-2.3-1 1.7-8.8 0 15.9-3.1 3.2-.7-13.9-1.5 17.4 5.4-2.8-5.1-6.6 4.7 4.6-2.4-.4 2.8 9.9-1.2-3.2 1.9-15.2-1.2 9.1-1.1-16.5-3.3 37.6 2.9-40.6 2.6-.7-1.5 16.1-2.2 2 4.2 9.4-.3-15.3-6.2-4.5 4.8-5.8-2 4.6 2.7 22.5-.2-5-.3-15.6 .4 14.1 1.3-2.2-3.9 23 3.5-45-5.1 31.5 3.7-19.2-3.8 16 3.4-27.9-3.7 11.1 2.9-12.3 2.5 19.6-2.5-11.1-1.4 10.3-2.3 6.9 3.3-13 3.2 28.8-2.8-26.6 1.7 14.6-2.6 3.3-1.1-24.5 1 2.2-2.3-9.2-.6 14.5 5.2-10.8-3.5 31.1-.5-19.6 3 17.6-.1-9.2 .9-13.2 0 5.3 1.5-3.7-6.1 30.5 .2-12.3-.1-19.7 .5 11.5 2.3-23.9 .8 53.8 1.9 7.9-3.3 16.3" fill="none" marker-start="url(#g)" marker-mid="url(#g)" marker-end="url(#g)"/>
<rect x="533" y="29" width="11" height="16.6" fill="#929292" stroke="#444" stroke-width="0.4" fill-opacity="0.7"/>
<line x1="533" y1="34.8" x2="544" y2="34.8" stroke="#333" stroke-width="0.6"/>
<line x1="550.5" y1="83.6" x2="550.5" y2="60.4" stroke="#444" stroke-width="0.4"/>
<line x1="550.5" y1="39.4" x2="550.5" y2="15.8" stroke="#444" stroke-width="0.4"/>
<rect x="545" y="39.4" width="11" height="21" fill="#f2694d" stroke="#555" stroke-width="0.4"/>
<path d="M552.5 25.4l-4.5 26.2 1.8 11.5-1.8-23.1 .4 .9 .7 20.4 1.4-4.1-.4 2.3 3.9 10.4-3.7-15-2.4 4 .2 15 5.9 2.2-4.2-12.5-.4-23.9 2.5 26.4 1.3-22.9-2.2 14.5 1.2-5.1 1.4-16.8-3.8 35.4 1.1-33.7 .8 19.9-3.8-10.3 4.8-19.1-1.5 49.3 2.6-33.3-2.9-7.4-3.2 5.3 5.7 15.8-4.2-5.2 1.1-5.3 3.1-13-4 17.5 2.1-8.7-1.8-7.7 1.6 18.2-1.8 .8 .2-16.6 1.1-12.2-2 55.7-.8-46.4 3.9 45.3-4.7-17.3 5.6-10-5.6 6.2 1.6 2.5 4.7-13.3 .3-25.4-6.3 15.7 .7 29.7 4.1-25.7-4.8 19.8 5.8-24.8 .7 14.2-6.9-24.6-.1 32.8 5-5.5-4-9.2 .1-.4 5.9-14.3-4.5 3.8 .2 35.8-1-21.4 5.5 7.8-6.1-8.3-.2-7.7-.7-6.6 3.5 40.8-.6-25.5 2.6-2.2 .6-13.2-2.1 8.4 2.6-.3-.6 24.6-5.3 4.4 .2-31.4-1.3-8.7 5.9 38.7-5.9-13.5 5.9-25.8-1.7-1.8 1.2 36.5 1.7 10.9-4.8-2.3 .5-33 3.1 6.1 1.4 12.5-2.2-40.1-3.2 19.7 2.6 39.9-.9-8.2-1.6 10.4 4.9-23-1.3-10.1-1.4 21.4 2.5 6.5 .2-40.6-6.3 6.4 1.4 11.2-1.2-9.6 4.6 21.5-3.5-27.3-1.2 10.8 3-22.5 1.1 23.5-2.7-10 4.9-15.4 .4 56.8-1.4-50.1-1.3-14.5-1.2 67.8" fill="none" marker-start="url(#r)" marker-mid="url(#r)" marker-end="url(#r)"/>
<rect x="545" y="39.4" width="11" height="21" fill="#f2694d" stroke="#555" stroke-width="0.4" fill-opacity="0.75"/>
<line x1="545" y1="51.2" x2="556" y2="51.2" stroke="#333" stroke-width="0.6"/>
<line x1="538.5" y1="11.8" x2="550.5" y2="11.8" stroke="#555" stroke-width="0.5"/>
<line x1="538.5" y1="11.8" x2="538.5" y2="13" stroke="#555" stroke-width="0.5"/>
<line x1="550.5" y1="11.8" x2="550.5" y2="13" stroke="#555" stroke-width="0.5"/>
<text x="544.5" y="13.4" font-size="10.5" text-anchor="middle" fill="#222">***</text>
<line x1="569" y1="64.5" x2="569" y2="57.3" stroke="#444" stroke-width="0.4"/>
<line x1="569" y1="52.5" x2="569" y2="45.3" stroke="#444" stroke-width="0.4"/>
<rect x="563.5" y="52.5" width="11" height="4.8" fill="#929292" stroke="#444" stroke-width="0.4"/>
<path d="M571.5 57.1l-2.7-10.5-2.5 13.9 4-5.8-4.4-2.3 4.8 7.4-4.3-5.5 .8-2.2 4-.4-5.1 7.6 5.4-3.6-2.7-.2 0-1.5-.9-.6 4.1-5.2-.8 7.4-4.9 1.1 1.6-.1-1.3 2.5 4.4-.2-3.7-6.2 4.5 4.5-2-4 .1 8.4-.7-8.2-3 4 5.7-6.2-1.2 5.6-3.6-7.9 5.1-1.6-.2 9.1-2.6 1.6-1.1 1.9 .5-4.1 .2 .8 .4-2.3 1.4 4.3 .9-6-3.6 .8-1.6 12.5 3.1-14.1-.3 6.8-1.6-4.7-1.3 3.5 1.1-2.2 4.6-4.1-1.8-.2-.4-2.7-.6 14.1-1.3-3.6 1.7-8.6-2.5 1.2 5.1 13.7-2.9-9.8-2.5-.3 4.5-2.2-1.2 1.9 2.2-3.7-2.2-4.8-4.4 8.5 2.9-14.7 2.2 32.4" fill="none" marker-start="url(#g)" marker-mid="url(#g)" marker-end="url(#g)"/>
<rect x="563.5" y="52.5" width="11" height="4.8" fill="#929292" stroke="#444" stroke-width="0.4" fill-opacity="0.7"/>
<line x1="563.5" y1="54.7" x2="574.5" y2="54.7" stroke="#333" stroke-width="0.6"/>
<line x1="581" y1="50.9" x2="581" y2="34.2" stroke="#444" stroke-width="0.4"/>
<line x1="581" y1="23.1" x2="581" y2="13.1" stroke="#444" stroke-width="0.4"/>
<rect x="575.5" y="23.1" width="11" height="11.1" fill="#f2694d" stroke="#555" stroke-width="0.4"/>
<path d="M579.6 27.1l .8-.6 3.6 .6-6.6-8.9 6.1 11.1-5.4 4 5.7 1.1-2.7-9.9-.8-7.9 2.2 33.1 2.1-5.9-6.5-8.9 .3-7.5 1.6-7.3 4.7-4.8-2.6 25.5-3.6-13.7 1.5-1.3 4-10-5.5 11.6-.1 5.4 .1-19.6 2.5 5.4-.6-1.8 .9 5.3-.9 8.8-1.3-3 4.3 0-4.3-7.3 1.1 16-.4-3.1 2.5-5.3 1.2-7.3 .6-4-2.3 14-3.9-1.8 1.9 1.8 .6 8.3-.8-4.4-.5-8.9 .6 6.2 4.3 2.2-5.5-9.4-.9-6.9 4.5 22.8-3.6-.4 2.6-15.1-1.3 0 2.8 14.8-1.5-3.2-.6-2.4 1.7 5.3-4.9 4.9 1.6-6-1-16.1 4.5 8.7-3.1 4.8 3-8.8 .1 1.9-1.9 7.8 .8-7.4 3.3 1-3.6 .8-.1-5.9 .1 6.9 2.3 8.4 0-18.9-2.5 27-2.6-14.4 4.2 1.5 2.1-12.4-6.9-7.8 .5 8.1 3.5 2.3 1.1 4.2-2.7-11.2 2.6 20.3-2.1-16.3-3.2 30.2 6.4-13-1.7-4.5 .6 2.4-4.4 5.2-.9-26.2 .3 19.9 7.1-21.3-5 27 4-1.3-2-23 2.6 22.3-2.8-15.9-.6 6.4-1.1 7 1.9-18.7-2.8 16 2.1-10-.6 12.9 .8-14.1-1.9-2.1 3.8 7.1 1-9-3 6.3-.8-4.7 2.2 11 .2-1-3.8-14.4 .7 1.4 .4 11.1-1.2-2.1 3.3 1.2-.4-16.2-.2 44.7" fill="none" marker-start="url(#r)" marker-mid="url(#r)" marker-end="url(#r)"/>
<rect x="575.5" y="23.1" width="11" height="11.1" fill="#f2694d" stroke="#555" stroke-width="0.4" fill-opacity="0.75"/>
<line x1="575.5" y1="27.6" x2="586.5" y2="27.6" stroke="#333" stroke-width="0.6"/>
<line x1="569" y1="11.8" x2="581" y2="11.8" stroke="#555" stroke-width="0.5"/>
<line x1="569" y1="11.8" x2="569" y2="13" stroke="#555" stroke-width="0.5"/>
<line x1="581" y1="11.8" x2="581" y2="13" stroke="#555" stroke-width="0.5"/>
<text x="575" y="13.4" font-size="10.5" text-anchor="middle" fill="#222">***</text>
<line x1="544.5" y1="99.3" x2="544.5" y2="101.3" stroke="#444" stroke-width="0.6"/>
<text x="555.5" y="106.3" font-size="7.3" text-anchor="end" fill="#222" transform="rotate(-45 555.5 106.3)">ACHE</text>
<line x1="575" y1="99.3" x2="575" y2="101.3" stroke="#444" stroke-width="0.6"/>
<text x="586" y="106.3" font-size="7.3" text-anchor="end" fill="#222" transform="rotate(-45 586 106.3)">BCHE</text>
<text x="16.5" y="126" font-size="19.5" font-weight="bold">B</text>
<rect x="10.7" y="159" width="39.9" height="18" fill="#e2efda"/>
<text x="30.6" y="171.1" font-size="8.5" text-anchor="middle">CGGA</text>
<text x="64.8" y="182" font-size="9.4" text-anchor="middle" fill="#111" transform="rotate(-90 64.8 182)">expression</text>
<line x1="87.5" y1="134.8" x2="87.5" y2="221.2" stroke="#444" stroke-width="0.7"/>
<line x1="87.5" y1="221.2" x2="425.5" y2="221.2" stroke="#444" stroke-width="0.7"/>
<line x1="85.5" y1="136" x2="87.5" y2="136" stroke="#444" stroke-width="0.6"/>
<text x="84.5" y="139" font-size="8.5" text-anchor="end" fill="#222">5.0</text>
<line x1="85.5" y1="154.1" x2="87.5" y2="154.1" stroke="#444" stroke-width="0.6"/>
<text x="84.5" y="157.1" font-size="8.5" text-anchor="end" fill="#222">2.5</text>
<line x1="85.5" y1="172" x2="87.5" y2="172" stroke="#444" stroke-width="0.6"/>
<text x="84.5" y="175" font-size="8.5" text-anchor="end" fill="#222">0.0</text>
<line x1="85.5" y1="190.1" x2="87.5" y2="190.1" stroke="#444" stroke-width="0.6"/>
<text x="84.5" y="193.1" font-size="8.5" text-anchor="end" fill="#222">-2.5</text>
<line x1="85.5" y1="208.2" x2="87.5" y2="208.2" stroke="#444" stroke-width="0.6"/>
<text x="84.5" y="211.2" font-size="8.5" text-anchor="end" fill="#222">-5.0</text>
<line x1="99.6" y1="190.3" x2="99.6" y2="184.5" stroke="#444" stroke-width="0.4"/>
<line x1="99.6" y1="175" x2="99.6" y2="169.8" stroke="#444" stroke-width="0.4"/>
<rect x="94.1" y="175" width="11" height="9.5" fill="#929292" stroke="#444" stroke-width="0.4"/>
<path d="M97.1 177.7l 1.7-3.9 .9 10.3-1-2.2-1.4-7.5 2.2 9.2 0-8.1 1.3 9.1 .9-14.3-3.2 1.7 3.9 11.1-4.1-1.3 3.7 2.4-.4 .1 .3-10.2-2.6-4.3-.9 20.5" fill="none" marker-start="url(#g)" marker-mid="url(#g)" marker-end="url(#g)"/>
<rect x="94.1" y="175" width="11" height="9.5" fill="#929292" stroke="#444" stroke-width="0.4" fill-opacity="0.7"/>
<line x1="94.1" y1="179.9" x2="105.1" y2="179.9" stroke="#333" stroke-width="0.6"/>
<line x1="111.6" y1="184.5" x2="111.6" y2="173.8" stroke="#444" stroke-width="0.4"/>
<line x1="111.6" y1="166.7" x2="111.6" y2="156" stroke="#444" stroke-width="0.4"/>
<rect x="106.1" y="166.7" width="11" height="7.1" fill="#f2694d" stroke="#555" stroke-width="0.4"/>
<path d="M109.4 171.2l 4.5-6.6-1.7 .1-2 8 .7 3.7-2.1-5.2 1.8-7.9 2 14.5-3.8-10.2 3.8 0-2.7-1.1 3.8 .7-1.6 6.9-.1-6.1-1.4 1.7 1.8 2.2-3-7.3 .5 1.5 .9 1.9 3.1 8.2-3.8 7.4 3.6-1.4-2.8-11.5-2 7.7 1.4-4.8 2.9-13.8-4.2-7.1 1.9 20 2.3-1.1 .4 7.2-.3-14.1-4 3.9 2 1.2 3.2 10.7-4.6-4.4-1.2-2.1 2.1-1.4 .4-.7 1.6-6.5-1.1 4.8 0 3.9-.1-4.1-1.7-7.9 3.9 17-1.5-12.1-.3 7.7 2.2-4.8-3.4 3 1 4.2-1.2-.9 .1-11.3 .4 15.8-.1-4.8-1.4-7 1.7-3.2-.2-2.9 .3 8.8 2.1 9.4-4.6-17.6 1.1 14 2.6 1.9-1-11.1-1.9-1.8 2.7 4.7 0-2.3-2.9-2.8 2.2 1.6-1.2 .4 1-.7 .8 2.1 .3 4.4-.7 .5 .1-11.7-2 .8 2-3.7 1.1 14.7 1.2-8.3-.8 9.3-1.3-6.6-3.3-.8 4 17.2-2.6-21.3 3.2 8.6-1.8-5.2-.4 15.8 2.2-11.4 .2-4.1-3.8-4.1-1 11.3 1.8-7.7 1.6 5.4-2.9-1.2 .9 1.8 3.7 1.5 .4 5.9-3.1-16.9 2.8 8.2-.7-6.1-4.2 4.2 4.9-3.8-.4-3.6-4.2 5.2 3.8 .6-2-4.3-1 11.4 2.7 9.3-.3-12.1-1.7-6.2 3.2 4.7-3.4 3.5-1.9-11.3 4.2 6.7-2.3 0-.9-12 2.6 6.8-1.4 13.6 2.9-11.5-2.6 3-1.6-10.1 3.1 10.1-3.7-6.2 1.1 15.5 .6-13.4 1.2-.6-3.4 6.5 4.6 5.1-1.4-6.7 .3 11.7 1-13.6-2.8 0 2.2 9.1 .8-15 .8-.2-4.4 11.8 1.9 1.5-2.1-1.3 1.4-1.5-1.4 9.7 .2-8.7 1.7 4 .1-13.5 2 4.8-3.7 15.4-1-12.4 2.9-.6-1.8-8.7 2.9 8.8-2.9-6.1 .9-2.7 .6 3.9 1.2 11.9-3.1-4.5-.3-12.8 4.3 6.2-3.5 4.4-.9-2.7 2.3 1.4-1.3 2.6 .7-4.7 2.4 8.5-3.3-6.9-1.3-2.4 4 1.5 .5 3.9-4.3 1.6 4.2-4.2-2.1-11.8-.5 19.3 1.2 5.8-.4-6.7 0-24.6 1.4 51.2" fill="none" marker-start="url(#r)" marker-mid="url(#r)" marker-end="url(#r)"/>
<rect x="106.1" y="166.7" width="11" height="7.1" fill="#f2694d" stroke="#555" stroke-width="0.4" fill-opacity="0.75"/>
<line x1="106.1" y1="170.4" x2="117.1" y2="170.4" stroke="#333" stroke-width="0.6"/>
<line x1="99.6" y1="140.2" x2="111.6" y2="140.2" stroke="#555" stroke-width="0.5"/>
<line x1="99.6" y1="140.2" x2="99.6" y2="141.4" stroke="#555" stroke-width="0.5"/>
<line x1="111.6" y1="140.2" x2="111.6" y2="141.4" stroke="#555" stroke-width="0.5"/>
<text x="105.6" y="141.8" font-size="10.5" text-anchor="middle" fill="#222">***</text>
<line x1="129.8" y1="173.8" x2="129.8" y2="171.9" stroke="#444" stroke-width="0.4"/>
<line x1="129.8" y1="168.9" x2="129.8" y2="165.8" stroke="#444" stroke-width="0.4"/>
<rect x="124.3" y="168.9" width="11" height="3" fill="#929292" stroke="#444" stroke-width="0.4"/>
<path d="M128 171.8l 1.3-3.9 1.5 4.5-.6-3.7-1.8-1.5 1.8 4-1.1-.1 2.9-1.5-1.4 1.2 0-.5-2.9 1.7 1-4-.6 1.4 2.6-3-3.6 1.9 2.5-2.5-.5 8" fill="none" marker-start="url(#g)" marker-mid="url(#g)" marker-end="url(#g)"/>
<rect x="124.3" y="168.9" width="11" height="3" fill="#929292" stroke="#444" stroke-width="0.4" fill-opacity="0.7"/>
<line x1="124.3" y1="170.4" x2="135.3" y2="170.4" stroke="#333" stroke-width="0.6"/>
<line x1="141.8" y1="187.3" x2="141.8" y2="175.3" stroke="#444" stroke-width="0.4"/>
<line x1="141.8" y1="167.3" x2="141.8" y2="155.3" stroke="#444" stroke-width="0.4"/>
<rect x="136.3" y="167.3" width="11" height="8" fill="#f2694d" stroke="#555" stroke-width="0.4"/>
<path d="M142.4 163l .4 6.4-2.2 5 1.5-1.6 1.5-7.1-4.3 13.9 5.1-1-3.3 3.5-1.1-9.1 1.3-8.1-1.7 11.3 5-10.6-3.4 4.9 3.4-3.7-3.8 6.4 .4-9.7 2.1-2.4-4.1 9.6 2.3 3.8 0 0 1.9-6.5-1.4 2.7-.6 4.5-1.1 9.6 1.9-19-.7 4 2.8 2.4-1.2-3.8-3.8 11.5 1.4-5.7 2.4-4.4-3.4 8.1 2-5.8-1.5 3.1-.8-3.5 2.5 3.4-2.2-1.4 .7 .7-.1-9.5 2.9 7.5-3.7-2.9 2.9 8.4 1.5-9-.9 4.4-.7-.5-.5-2.5-1.8-4.4 2.3 .3-1.6 7.2-1.3-3.6 4.2 11.2-4-14.6 2.3 5-.8-11 .2 10.6 3.3 4.6-.5-7.7-3.7 19.7 3.3-17.3 1-2.5-2 .5-3.3 6.2 4.5-11.3-1.4 10.5-2.4 2.3-.6-15.2 3.3 13-.1 3.6 .2-1.4 1.6-.4-3.3-3.1 1.8-7.1 .2 8.9-1-7.1-.3-1.5 2.6 11.9-1.1 9.1 .4-7.8-3.5-8 4.1-.1-.6-10.3-.3 14.7-1.8-7.6 1.9 1.2 .2 8.5-3.9-.3-.1-14.1 1.1 4.1-1.4 2.4 .7 8 3.7 2.8-3.2-15.2-.2 17.9 1-12.4-.4 1.5 0 12.8-2.2-12.4 1.5 3.7-1.3-6 3.2 9.9-.4-2.4 2.7-6.2-3.5 5.5-1.4 8.6 4.2-15.1-.3 11.5-.6-9.2-3.2-13.3 2.3 8.1-2.1 3.1 3 7.5-.4-17.4-.2 5.3-.2 16.3-1.4-16.9-1.3 11.8 1.4-8.8 1.8-1.4 .1-10.9-1.3 26.1 .1-15.4-2 4.9 2.9-6.3 .4 7.8 1.2-6.7-2.3 7.4-.9 0 .6 19.3 2-29.1 1.1 4.4-4.6-.3-1 9.7 2.7-3.2-.4-17.8 2.6 23.3-3.6-7.2 .4-10.6 2 2.1-.8 7.2 2.8-4.5-4.6 12.4-.6-8.8-.2 1.4 3.7-12.4 1.5 17.5-2.2-1.3-3.3-12.4 3.5 3.8-3.2 7.4 2.5-9.9-.3-12.6-1.3 47.2" fill="none" marker-start="url(#r)" marker-mid="url(#r)" marker-end="url(#r)"/>
<rect x="136.3" y="167.3" width="11" height="8" fill="#f2694d" stroke="#555" stroke-width="0.4" fill-opacity="0.75"/>
<line x1="136.3" y1="171.3" x2="147.3" y2="171.3" stroke="#333" stroke-width="0.6"/>
<line x1="160.1" y1="185.1" x2="160.1" y2="181.1" stroke="#444" stroke-width="0.4"/>
<line x1="160.1" y1="175.3" x2="160.1" y2="169.8" stroke="#444" stroke-width="0.4"/>
<rect x="154.6" y="175.3" width="11" height="5.8" fill="#929292" stroke="#444" stroke-width="0.4"/>
<path d="M161.4 176.7l-3.5 3.4 2.8-8.4 1.6 6.4-1.3-1.6 1-.3-1.5 4.7-1.1-5.2 1.4-.1 1.8-.6-2.1 8.4 2.4 .1-5.6-8.8 4.1-2.8 1.4 7.7-1.9-5.6-.6 .1-3 .6 .2-1 3.4 4.6 .4-8.5-2.3 15.3" fill="none" marker-start="url(#g)" marker-mid="url(#g)" marker-end="url(#g)"/>
<rect x="154.6" y="175.3" width="11" height="5.8" fill="#929292" stroke="#444" stroke-width="0.4" fill-opacity="0.7"/>
<line x1="154.6" y1="178" x2="165.6" y2="178" stroke="#333" stroke-width="0.6"/>
<line x1="172.1" y1="187.3" x2="172.1" y2="175.3" stroke="#444" stroke-width="0.4"/>
<line x1="172.1" y1="167.3" x2="172.1" y2="155.3" stroke="#444" stroke-width="0.4"/>
<rect x="166.6" y="167.3" width="11" height="8" fill="#f2694d" stroke="#555" stroke-width="0.4"/>
<path d="M171.4 169.6l .8 3.3 .5 8.9 2-14.6-1 12.2-1.5-3.2-.8-6.4-1.2-5.5 2.2 17.1-3.1-7.7 1.5-18.2-.7-.2 4 16.7 .5-7.6-5 12.1 .4-7.1 .9 5.4-1-6.2 3.9-5.9 .1 4.8 0 3.6 0 3.5-3.4 12.5 3.5-2.1-4.3-13.6 3.2 1.1 1.1-12.9 0 17.7 .5-6.6-1.4-3.4 1 13.5-3.5-14.5 1.7 2.8 2 11.1-3.7 1.2-.7-13.4 3.8-6.3-4 10.2 1.1-6.4 3.1 6.8-3.8-8.6 4.2 12.6-4.2-1.1-.4 6.3 3.4-5.1-.1-.7 1.2-1.8-4.8-8.9 1.8 10.3 2.1-3.4 .4 11.4-3.8-22.4 1.5 8.3 2.1 .6-3.1 6.8 3.8-7.8-1.3 7.4 1.6-11.5 .1 7.4-.4-9.2-3.5 11.1 1.4-2.9 1.5 3.4 1.3 .8-2.9 2 2.4-15.6-3 18.4 2.1-1.9 1-.1-2.3-9.9-1.4-1.8 3.7-2.3-.1 9.7 .4 4.5-4.8-10.5 4.2 12.1-2.6-13.2 2.5 6.1-.2-1.6-3.5-8.9 3.1 18.1-3.2-16 3.5 8.3 1.1-1.8-4.4-2.5 2-2.1 1.8 10-3 4.1-1.5-12.4 2.8 10.8-.8-4-.6 3.5 .4-7.8 1 8.4-.3 6.6-1.3-18.8 1 6.9 .4-20.2-2 24.2 .8-2.5 2.5-2.5 0 2.5-2-7-2.3-5 .2 6.2 1.8-3.2 3.1-3.9-4.9 11.6 2.8-7.7-3 2.5 2.6-1.3 .8 14.9-2-8.5-.5-7.1-.1 6.4 3.1 1.3-2.1-9.9 1.8 10.1-1.5-11.8 3.3 4.5-1.7 2.4-3.3-7.8 1.3 7.5-1.8 3.6 2.5 11.4 1.5-4.9-2.4-16.9 0 10 2.5 9.4-.9-17.4 1.4 16.1 1-2.7-5.7-7.2 3.1 1.8-.9-2.4-1 1.9 3.3-6.6-1.7-5-2.6 7.3 2.5 4.2-2.7-5.3 4.4 4.1-.7 10.7 .2-20.5-2.7 14.3 3-12.9-3.1 7-.6-.3 1.5 8.1-1-6.9 3.2-7.8-3.4 17.3-.3-.8 1-7.7 3.6 8.3-.8-3-.3-7.3 1.5-2.7 0 2.8-3.7 8.1-.7-5.6-1-13.7 4.7 19.4 .4-6.6-3.6 1.4 .5-.2-1.4 2.5 2.6-1.1-.7 2.5 1.9-7.5-.7-18-1.5 42.9" fill="none" marker-start="url(#r)" marker-mid="url(#r)" marker-end="url(#r)"/>
<rect x="166.6" y="167.3" width="11" height="8" fill="#f2694d" stroke="#555" stroke-width="0.4" fill-opacity="0.75"/>
<line x1="166.6" y1="171.3" x2="177.6" y2="171.3" stroke="#333" stroke-width="0.6"/>
<line x1="160.1" y1="140.2" x2="172.1" y2="140.2" stroke="#555" stroke-width="0.5"/>
<line x1="160.1" y1="140.2" x2="160.1" y2="141.4" stroke="#555" stroke-width="0.5"/>
<line x1="172.1" y1="140.2" x2="172.1" y2="141.4" stroke="#555" stroke-width="0.5"/>
<text x="166.1" y="141.8" font-size="10.5" text-anchor="middle" fill="#222">***</text>
<line x1="190.3" y1="179.9" x2="190.3" y2="173.8" stroke="#444" stroke-width="0.4"/>
<line x1="190.3" y1="166.7" x2="190.3" y2="156" stroke="#444" stroke-width="0.4"/>
<rect x="184.8" y="166.7" width="11" height="7.1" fill="#929292" stroke="#444" stroke-width="0.4"/>
<path d="M192.7 176.8l-2.5-5-.9-9.5 1.6 15.9-2.9 1-.4-15.1 2.9 4.3 1.8-2.8-1 0-2.8 9.9 4.6-10.2-4.6 0 .5 4.1-.9-1.3 .3 6.1 3.6 1.6 .4 .9-4.2-2.1 1.9-2.7 2.7 8-3.1-25.4 .2 25.4" fill="none" marker-start="url(#g)" marker-mid="url(#g)" marker-end="url(#g)"/>
<rect x="184.8" y="166.7" width="11" height="7.1" fill="#929292" stroke="#444" stroke-width="0.4" fill-opacity="0.7"/>
<line x1="184.8" y1="169.8" x2="195.8" y2="169.8" stroke="#333" stroke-width="0.6"/>
<line x1="202.3" y1="186.6" x2="202.3" y2="177.4" stroke="#444" stroke-width="0.4"/>
<line x1="202.3" y1="168.2" x2="202.3" y2="154.4" stroke="#444" stroke-width="0.4"/>
<rect x="196.8" y="168.2" width="11" height="9.2" fill="#f2694d" stroke="#555" stroke-width="0.4"/>
<path d="M205 179.7l-.4-8.8 .3 4.9-4.8 6.4 3.7-1.5-.9-18.9-2.9 22.6 1.3-9 2.1-14.9-3.7 1.2 5.1 18.1-2.6-17.6 1.9 20-4.5-12.5 2.7 12.4 1 4.3-1.4-6.2 3.1-10.5-1.4 13.7-.7-4.5-.9-4.3-1-13.7-1.4 3.8 .1 13.6 .5-8.4 .4 15.8-.3-13.3 2.5 9.7-2.6-16.2-.8-9.3 2.5 26-1.9-.2 3.7-13.9-1.4 16 0-8.5 1.8 2.5-3.9 1.7 .8-1.6-.2-11.5 1.9-5.3 1.9 13.8 .6-12.2-4.5 8.7 .5 7.7-1.1-6.3 4.7-2.5-2.6 2.8 1.5 7.8 .1-17.2-3.2 4.4 2 16-2.2-23.2 1 3.6 3.7 14-5-19 3.5 13.5 .1 2.7-1.3-11.7 .3-2.8 .5 20.9-.4-15.4-.1-7.8-2.5 13.7 1.7-7.8 .8 11-.8-8.7-.3 11-2.1-2.6 4.1-4-.7-6.2-1.4 12 3-5.1 .4 1.3-3.6-3.4-1.5 10.5 1 3.1 .1-20.9 1.2 4.8-.4-8.8 2.7 14.7-1.5 1 2.2-5.4-4.8 1.1-.5-6.6 4.3 8.2-.8-2.6 1.5-13.4-1.8 19-1.1 5.8-1-2.4-.8 5.3 .6-16.9 .6-.1 .7 14.1 1.6-6.6-2.3-6.5 0-2 .5 3.6 1.2 .7-3.4-2.3 .5-.9 1.1 1 1.8 2.7-2.1 9.5 1.9-13.2-2.5 3.3 .6 15.7-.5-29.4 .1 22.3 .8-2.7 .4 .3 .5-3.5-.5-8.5 .2 10.6 2.9-19.3-2.3 16.6-1.5-3.1-.8-3.8 3.3 12.6-1.4-10.5-1.7-.4 1 4.4-2-3.2 4.1-4.8-2.6 6.2-.3 3.9 .7 3.2-.4-13.3 .5 7.3 2.6 7.7 .6-3.2-1.4-14.7-2.8 13.6 .5-.3 1.9-15.8-.9 11.7 1.9 3.7 1.3-2.4-4.2 3.3 2.3 .3-1.7-5.5-1.5 8.2 .6-9.2 2.5 11.7 .3-27.9-3.5 19.1 5.2 7.4-3.7 4.3-.9-7.5 .4-19.6-.5 23.8 2-15-1.9-.4-.1 11 .4-5.4 1.8-6.2 1 8.1-3.9 7.7 4.5-12.3-4 12.2 2.7-6-1.8 0 3.3-4.8-1 2.6 .6-2.1-.8-.3-1.9 6.3 .5 .6-1.6 .4 2.4-10.9-.7-23.2 1.6 44.4" fill="none" marker-start="url(#r)" marker-mid="url(#r)" marker-end="url(#r)"/>
<rect x="196.8" y="168.2" width="11" height="9.2" fill="#f2694d" stroke="#555" stroke-width="0.4" fill-opacity="0.75"/>
<line x1="196.8" y1="172.8" x2="207.8" y2="172.8" stroke="#333" stroke-width="0.6"/>
<line x1="220.6" y1="175.4" x2="220.6" y2="169.8" stroke="#444" stroke-width="0.4"/>
<line x1="220.6" y1="166.1" x2="220.6" y2="164.6" stroke="#444" stroke-width="0.4"/>
<rect x="215.1" y="166.1" width="11" height="3.7" fill="#929292" stroke="#444" stroke-width="0.4"/>
<path d="M218.2 170.8l 4.5-6.1 .3 9.9-.8-6-3.1-1.8-.9 .7 1.8 2.7 .8-4 1.5 6 0-1.1-3.8-.9 3.6-3.9-.8-1.7-1.3 11.3" fill="none" marker-start="url(#g)" marker-mid="url(#g)" marker-end="url(#g)"/>
<rect x="215.1" y="166.1" width="11" height="3.7" fill="#929292" stroke="#444" stroke-width="0.4" fill-opacity="0.7"/>
<line x1="215.1" y1="168.2" x2="226.1" y2="168.2" stroke="#333" stroke-width="0.6"/>
<line x1="232.6" y1="189.1" x2="232.6" y2="177.4" stroke="#444" stroke-width="0.4"/>
<line x1="232.6" y1="168.2" x2="232.6" y2="154.4" stroke="#444" stroke-width="0.4"/>
<rect x="227.1" y="168.2" width="11" height="9.2" fill="#f2694d" stroke="#555" stroke-width="0.4"/>
<path d="M234.5 170.3l-2.2 6.3-.8-1.1 1.1-9.3-.9 6.2 2-15.8 .4 3.4-1.2 21.7 1.9-13-.5 8.9-3.5-5.9 4.5 4.2-2.6 10.8 .2-10.4 0-11.3-2.7 5.8 .3 5.2 3.1-5 .1-7.2 1.4-2-4.1 12.1 3.2-.7-.1 5.1-3.5 2.4 3.4-24.5-2 13.7 3.2-3.4-1 7.1-.3-3.6-1.4-3.2 2.3 8.2-1.2-9.3 .7-2.5-1.6 12.7 2.2-2.2-1.1-1.1-3.3-15 1.1 16.2 .2-4.3 3.6-10.9-5 12.8-.3-.5 1.1-4.4 1.1 3.4 2.2 18-1.6-7 .3-14.4-1.5 8.6 2.2-5.3-3.5 4.4 1.3-4.2 3.7 8.6-.9 0-3.6-.4-1.1-6.8 2.9 1-1.3 3 1.7-7.2-1.7-4.3 2.4 7.8-1.4-10.8-2.5 5.6 2.5 7.7 2.2-5.1 .2 .3-2.3 12.1-1.8-20.2 4.7 9.8-5.1 14.4 1.4-5.4 1.4-7-1.5 11.2 3.3-1.7-4.2-13 4.6 9.1-5.3-18.3 2.8 4.6 2.3 5.4-4.8-20 2.5 2.4-3 25.8 5.3-7.4-3.3 .7 1.2 10.9 1.7-17.7-4.9 7.1 2.3 15.1-.3-8.9 1.2-7.7 .4 3.1-3.2 11.3 3.5-9.7-2-4.1 3.7 3.5-1.1 .5 1-16-.3 17.1-2.3-9.8 2.7 4.9-.9-.1-2.5-10.2-1.2-2.6 3.8 8.7-1.6 15.1-2.5-8.1 .2 5.9 1.3-11.4-2.3-3 .5 2.5 .9 3.5 3.2-3.1-3.6 14.5-1-22.8 2.1 12.7-2-10.9 3.3 5.4 2.2 7.6-1.6-1.6-3.4 2.2 5.1-1.6-3.9 6.9-.9-11.9 1.4 11.7 2.3-10.2-3.6-4.5 1.6 15.4 2.7-2.2-1.5 3.6-1.7-2.2 2.3-.5-1.7 .3 .8-19.5-1.1 13.7 .7 1.4 2.1 4.7-3.3 1.9-.6-10.3 .1-8.5 2.6-.6 1.4 17.2-2.9-7.8-1.4-9.1 .9-3.8-.3 15.8 1-3.2 2.7-.1-1.6-10.7-3.6 14.1 2.3-3 1.1 9.4-2.5-7.8 4.4 3.4-3.5-11.4-.5-.7 3 .4-2.7 12.6 3.3-5.7-3.4-2.3 1.8 2.1 1 1.4-2.3-4.9 .3-4.6 3.2 6.9-1.5 16.5-.2-23.8 .8 9.8-.9 .3-2.4-6.2 3.8-.4-3.4 3.5 .4-27-1.2 44.8" fill="none" marker-start="url(#r)" marker-mid="url(#r)" marker-end="url(#r)"/>
<rect x="227.1" y="168.2" width="11" height="9.2" fill="#f2694d" stroke="#555" stroke-width="0.4" fill-opacity="0.75"/>
<line x1="227.1" y1="172.8" x2="238.1" y2="172.8" stroke="#333" stroke-width="0.6"/>
<line x1="220.6" y1="140.2" x2="232.6" y2="140.2" stroke="#555" stroke-width="0.5"/>
<line x1="220.6" y1="140.2" x2="220.6" y2="141.4" stroke="#555" stroke-width="0.5"/>
<line x1="232.6" y1="140.2" x2="232.6" y2="141.4" stroke="#555" stroke-width="0.5"/>
<text x="226.6" y="141.8" font-size="10.5" text-anchor="middle" fill="#222">*</text>
<line x1="250.8" y1="180" x2="250.8" y2="177.8" stroke="#444" stroke-width="0.4"/>
<line x1="250.8" y1="174.2" x2="250.8" y2="170.2" stroke="#444" stroke-width="0.4"/>
<rect x="245.3" y="174.2" width="11" height="3.6" fill="#929292" stroke="#444" stroke-width="0.4"/>
<path d="M253.6 175.9l-5.7-3.1 4.2 1.9 .5 2-4 .6-.6-6.6 4.7 8.5 .2-5.4-4.3 2 5 .1-3.3 .3 1 .5 1.4-6.5-.8 9.8" fill="none" marker-start="url(#g)" marker-mid="url(#g)" marker-end="url(#g)"/>
<rect x="245.3" y="174.2" width="11" height="3.6" fill="#929292" stroke="#444" stroke-width="0.4" fill-opacity="0.7"/>
<line x1="245.3" y1="176" x2="256.3" y2="176" stroke="#333" stroke-width="0.6"/>
<line x1="262.8" y1="188.6" x2="262.8" y2="175.7" stroke="#444" stroke-width="0.4"/>
<line x1="262.8" y1="167.1" x2="262.8" y2="154.2" stroke="#444" stroke-width="0.4"/>
<rect x="257.3" y="167.1" width="11" height="8.6" fill="#f2694d" stroke="#555" stroke-width="0.4"/>
<path d="M265.3 158.3l-1 16.1-3.1-3.7 4.4-2.3-5.4 9 5.5-9.5-2.9 5 1.5-4.1-2.4-5.9 2.1-1.9 1 16.7-.8-11.5-1 18.5-2.9-21.2 .2 13.1-.3-6.6 3.9 4.9-3-4.7 3-8.9-2.9 14.8 2-13.7-2.4 4.4 4.1 8.2-4-15.1 .5-1.1 .3 10 1.3 2.5 .2-15.9 .4 17.8-1.6-12.9-2.1 4.5 .7 19.5-.1-14.5 .2 3.5-.7 8.7 1.4-11.4 .7 .8-.7 .1-.1 .4 .7-3.9-.2 10.2 2.4 7.1-1.4-12.2 2.3 3.6-2.5-5.2 2.5 3.7-4.5 9.2 0-22.4 1.2 9.3 1.7-8 0 .7-3.5 5.4 4.8 3.9-4.5 8.6 4.1-22.4-3.3 15.1 3.8 2.8-2.8-.2 3.2-18.4-1.5 12-2.5 10.2 3.2-12.1-3.5 4.8 2.6 1.6 0 .6 .7-18.7-3.2 12 .2-2.2-.5 3.4 4.2 7-1.3-2.8-.4 1.2-.3-1.7 .2 .5 .2-2.7-2.1 10.5 2-4.9 2.1-12.7-3.2 5.4 2.6-6.9 .8 12.3-1.5-3.1-.5-10.1 .7 27.8-3.1-23.7 0-2.3 3.2 3.9-1.7 5.4-.3 9.2 3.2-14.5 .1-8.1-1.9 13.1-1-7.3-.8 12.9-1.9-10.3 1.6-6-1.2 10.6 .4-4.5 1.6 3.1 .5-5.3-.8 12 .9-6.1 2.4 .2-3.7-2.4 2.4 8-4.3-19.7 .8 13.6 1.5 1.3-.1 4.9 1.1 .9 2.3-9.4-.8-4.5-2.9-1.5 1.2 25.7 .3-13.9-1.2 7 1.5-6.2-1.6-8.3-.5 19.4 0-11.9 1.2-7.3-1.6 6.8 3.4-4-.1 7.1-.4-3.3 1.1-2.4-3.1-4.5 3.1 6.7-2.4-10.8 .1 7.4-2.6 4.4 3 3.5 1.7 5.1-2.3-7.9-2.1 1.9 3.6-8.2-1.2 17.9 2.5-27.7-2.1 2-2.4 23.3 .4-9.5 2 1.1-.7 1 1.5-10.7-1.1 4.8 2.3-5.8-.1 17.9-3-10.1 .3-3.1 2.6-.2-3.7-17.6 1.4 38.3 2.3 25.4" fill="none" marker-start="url(#r)" marker-mid="url(#r)" marker-end="url(#r)"/>
<rect x="257.3" y="167.1" width="11" height="8.6" fill="#f2694d" stroke="#555" stroke-width="0.4" fill-opacity="0.75"/>
<line x1="257.3" y1="171.4" x2="268.3" y2="171.4" stroke="#333" stroke-width="0.6"/>
<line x1="250.8" y1="140.2" x2="262.8" y2="140.2" stroke="#555" stroke-width="0.5"/>
<line x1="250.8" y1="140.2" x2="250.8" y2="141.4" stroke="#555" stroke-width="0.5"/>
<line x1="262.8" y1="140.2" x2="262.8" y2="141.4" stroke="#555" stroke-width="0.5"/>
<text x="256.8" y="141.8" font-size="10.5" text-anchor="middle" fill="#222">*</text>
<line x1="281" y1="184.9" x2="281" y2="181.5" stroke="#444" stroke-width="0.4"/>
<line x1="281" y1="177.8" x2="281" y2="172.3" stroke="#444" stroke-width="0.4"/>
<rect x="275.5" y="177.8" width="11" height="3.7" fill="#929292" stroke="#444" stroke-width="0.4"/>
<path d="M283.3 184.9l-2.5-6.6 .3 1.9-1.3-.1 4.1-2.4-5.2 6.3 3.8-4-3.1-6.7 3.8 9.7-4.6-3.2 0 .9 1.6-7.4 .9 6.2 .2-.6-1.9-7.2 2 13.2" fill="none" marker-start="url(#g)" marker-mid="url(#g)" marker-end="url(#g)"/>
<rect x="275.5" y="177.8" width="11" height="3.7" fill="#929292" stroke="#444" stroke-width="0.4" fill-opacity="0.7"/>
<line x1="275.5" y1="179.7" x2="286.5" y2="179.7" stroke="#333" stroke-width="0.6"/>
<line x1="293" y1="190.1" x2="293" y2="176.3" stroke="#444" stroke-width="0.4"/>
<line x1="293" y1="166.5" x2="293" y2="151.8" stroke="#444" stroke-width="0.4"/>
<rect x="287.5" y="166.5" width="11" height="9.8" fill="#f2694d" stroke="#555" stroke-width="0.4"/>
<path d="M295 164.4l-.9 9.5-3.7 .4 1.3-.2 4.1-17.1-.6-2.2-.6 27.1-1.7-.1-2.1 .9 .6-11.6 2.4 8.2 1.3 .4 .7-7.1-4.1-1.1-.9-1.6 3.9 18.2-1-8.1-3.5-15.1 4.4-2.5-1.5 1.9 .8 11.6-3.3-.6 4.2 1.1-1.5-1.1 .2-17.3-2 30.2 .8-31.8 .4 8.4 1.1-15.2-2.6 10.3 1.7 5.1 1.4 2.8-2.3 13.5 1.6-8.6 .2 2.7-2-12.5 1.4 8.1-1.8 10.4 .8-9.1-.6-10.7 4 19.1-4-24.7-1.3 26 4.8-5.5-2.4-8.4 1.4-3.5 .6 11.1-.6 2.4-2.7-10.1 .2 1.4 1.9 13.7 2-9.4-2.6-19.9 .2 11.3 2.5 4.5-2.6 10.9-1.7-1.3 2.5-7.7 1.7-9.6-.9 9-.4 2.3-.6-.7-3.3-6.8 2.5-2.3-2.4 13.8 .5-15.5 .2 18.4 3.1-14.6-.3 20.8 .9-22.5 0 15.5-2.7-3 2.1 5.4-4 2.8 5.5-3.3-2-5.7-.2-1.3-2.3-5.6 1.6 .5-2.4 6.4 5-10.8-.8-3.3-1.3 25 2.3-7.3-1.4-11.1-3.1 3.6 4.3 10.1-2.4-11.3 1.3-4.7-1.5 16.6 1.5-12.3-2.8 10 2.5-3.3-3.5 2.7 1.2-11-1.1 4 2.4-8.1-2.6 17 3.8-20.5-.2 3.7-.8 .3-2.3 11.9 1 6.5 1.2-5.4 1.2-15.1-1 .5-3 8.6 5.6-1.8-.5 3.3-.3-4.7-3.3-1.2 1.8 8.1 .8-15.5-1.1 9.7 1.2 17.4-2-12.3-.3-8.8 1.9 20.5-1.1-7.2-2.5-24.4 1.7 11.7 .8 .8-1.4-5.5 .5 11.6 3.5 10.2-3.9 5.8 1.4-30.9-2.5 19 2.4-1.4-.7 8.8-.6-17.4 3.3 6.3 .1-3.6-1.2 19.7-1.5-10 .8-18.8 2 15.4-5 .7 4.5-10.4-4.1-2.8 0-2.4 2.3 16.1 2.9-11.1-5.3 8.7 2.9 7.2 1.1-11.5 1.3-4.6-.2 11.7-1.3-19.9 .5-1.8-1 10.3-1.7 2-.1-2-.2 13.8 4.1-20.5-3.9 14.1-1.4-1.7 1.8 6.4 2.7-9.9-2.4-9.1 .1 9.1 .4 8.9-.3-8.3 .2 4.8 1.7 .6 .8-6.3-4.7 3.9 3 .7-2.9-3.6 3.5 1.1-1.7-24.5-.1 43.8" fill="none" marker-start="url(#r)" marker-mid="url(#r)" marker-end="url(#r)"/>
<rect x="287.5" y="166.5" width="11" height="9.8" fill="#f2694d" stroke="#555" stroke-width="0.4" fill-opacity="0.75"/>
<line x1="287.5" y1="171.4" x2="298.5" y2="171.4" stroke="#333" stroke-width="0.6"/>
<line x1="281" y1="140.2" x2="293" y2="140.2" stroke="#555" stroke-width="0.5"/>
<line x1="281" y1="140.2" x2="281" y2="141.4" stroke="#555" stroke-width="0.5"/>
<line x1="293" y1="140.2" x2="293" y2="141.4" stroke="#555" stroke-width="0.5"/>
<text x="287" y="141.8" font-size="10.5" text-anchor="middle" fill="#222">***</text>
<line x1="311.3" y1="177.8" x2="311.3" y2="174.8" stroke="#444" stroke-width="0.4"/>
<line x1="311.3" y1="167.7" x2="311.3" y2="164" stroke="#444" stroke-width="0.4"/>
<rect x="305.8" y="167.7" width="11" height="7.1" fill="#929292" stroke="#444" stroke-width="0.4"/>
<path d="M310.7 177.4l 3.2-11.2-4.4 4.3 .9 5.7 2.2 .5-2.1-3.4 .4 2.4-.7-6.9 2.1-2.5-1.5 3.8 .2-.3 .6-3.5-.7 3.1-1.7 4.2 .2-1 1 2.1-.6 .1-.4-6.1 .5-4.7 2.1 13.8" fill="none" marker-start="url(#g)" marker-mid="url(#g)" marker-end="url(#g)"/>
<rect x="305.8" y="167.7" width="11" height="7.1" fill="#929292" stroke="#444" stroke-width="0.4" fill-opacity="0.7"/>
<line x1="305.8" y1="171.1" x2="316.8" y2="171.1" stroke="#333" stroke-width="0.6"/>
<line x1="323.3" y1="187.2" x2="323.3" y2="175.7" stroke="#444" stroke-width="0.4"/>
<line x1="323.3" y1="168" x2="323.3" y2="156.5" stroke="#444" stroke-width="0.4"/>
<rect x="317.8" y="168" width="11" height="7.7" fill="#f2694d" stroke="#555" stroke-width="0.4"/>
<path d="M325.1 167.6l-.8 2-.1-5.7-1.3 12 3 1.3-3.4-1.8 2.4-5.2 .5-.4-2-2.2-1.6 8.9 2.6-3.6-1.1 2.4 2.2 12.9 .4-20.8-4.8 5.4 4.9-2-2 7.6-1.1-12.9 .7 3.2-1.6 5 1.7 7.9 1.8-.4-3.5-11.5 3.2 10.6-1.6-5.9-1.3 6.8 1.1-2.6 1.7-2.9-2.9-2.5 2.8 2.8-4.4-3 .3 8.2 .1-11.2 2.1-5.4 .5 13.5-.8-8.5 2.7 .4-1.8 1.9-2.2-3 4.3 7.5-1.9-.9-.3-8.9 1 5.9-3.3 1.1-.8-2.7 .8 .6 4.8-4.6-1.9-2.3 1.7 6.3-2.7 1 2 1.3-2.1-2.7-2.3 2.9 2.9 5.2-2.3-4.6 3 8 1.5-17.7-3.8 .7 3.5 4.3-.4-3.3-3.3 6.8 3.7-9.6-3.3 24.5 2.8-18.8-.1-2.3-2-5.9 1.2 2.1-.7 16.4-3-6 2.6-2.4-2.2 11.5 4.6-3.1-.7-6.7-.5 3-.7-11 2.3 12.2-2.8-12.9-.3 7.8 1.6-.8 1.4-1.8-3.4 3.6-1.5-8.8 4.6 15-.1-2.3-.3-.1-1.9 5.6-.9-7.3 1.1-6-1.3 2.3 3.3-6.1-3.7 1.8 1.5 9.6 1-6-1-4.3-1.1 22.8 1.4-15.5-2.7 3 .8-5.4 1.8 8.4-2.8 3.2 .8-11.6 .8 8.9-.5-1.9 2.1-9.9 .3 10-3.2-.8 3.8-10.6-.7 3.7-2.6 9.3 .1-12.4-.8 1.4 2.1-8.1 2.6 10-1.8 8.7-1.6-7.6 2-10.8-.5 5.9 .7 10.6-2.9 .8 .9 4.8 .3 .2 3.4-26.6-4.4 31.4-.9-12.1 4.1-3.5-4.3-4.2 .5 8.3 2.2-.1 .1-10.4 2.8 14.9-.3-6.6-.1-5.5-4.2-4.1 .8 4.2 1.7 4-1.6 3.5 2.9-3.4-4.3-9.4 3.1 13-2.2-10.9 2.8 4.2-.8-4.1 .9 9.8-4.2 .8 4-9.9-2.2-.5 2.4-1.3-3.9 8.5 3-6.2-1.9 4.8 3.7 1.6-3.1 3.3-.6 3.2 1.7-15.1 .4 22.5-3-14.4 3.3-8.4-2.2 6.7-1.3 8.6 4.3-12.6-.6 9.1 .9-7.9-.2 5.5-3.4-3.5 1.3 4.9 2.5-12.7 .3 16.4-2.2-26.8-1 19 .6-8.8 0-15.1-1.2 48.1 0 15.7" fill="none" marker-start="url(#r)" marker-mid="url(#r)" marker-end="url(#r)"/>
<rect x="317.8" y="168" width="11" height="7.7" fill="#f2694d" stroke="#555" stroke-width="0.4" fill-opacity="0.75"/>
<line x1="317.8" y1="172" x2="328.8" y2="172" stroke="#333" stroke-width="0.6"/>
<line x1="341.5" y1="179.9" x2="341.5" y2="172.6" stroke="#444" stroke-width="0.4"/>
<line x1="341.5" y1="167.7" x2="341.5" y2="162.5" stroke="#444" stroke-width="0.4"/>
<rect x="336" y="167.7" width="11" height="4.9" fill="#929292" stroke="#444" stroke-width="0.4"/>
<path d="M342.7 174.7l-.1-11.2-.1 1.3-3.8 5.1 1.1 4.1 .3-5.4 3.3 1.9-.2 7 .5-5.8-2.9-1.9 .4 10.1 1.4-4.7-3.3-6.6-.1 4.9 3.6-11-2.3 18.4" fill="none" marker-start="url(#g)" marker-mid="url(#g)" marker-end="url(#g)"/>
<rect x="336" y="167.7" width="11" height="4.9" fill="#929292" stroke="#444" stroke-width="0.4" fill-opacity="0.7"/>
<line x1="336" y1="170.2" x2="347" y2="170.2" stroke="#333" stroke-width="0.6"/>
<line x1="353.5" y1="190.1" x2="353.5" y2="176.3" stroke="#444" stroke-width="0.4"/>
<line x1="353.5" y1="167.1" x2="353.5" y2="154.2" stroke="#444" stroke-width="0.4"/>
<rect x="348" y="167.1" width="11" height="9.2" fill="#f2694d" stroke="#555" stroke-width="0.4"/>
<path d="M356.2 171.9l-1.5-2.4-2.2-2.4 3 1.5-.3 2.6-2.6-10-1.2 4.7 2.5 0-2.5 17.3-.7-11 .2 8.4 4.9-12.9-4.4 5.3 1-1.4 1.4-13.8-.9 24.7 3.4-11.3-3.9-.7 .7 20.7 2.6-24.1-1.1 15 .2-.5-3.6-25.1 2.9 14.6 .4 3.6-3.5-16.2 3.1 7.1-1.2 6.9 1.1-10.2 1.8 12.1-4.1-4-.4 7.5 .1 4.1 1.3-24.6 3.6 27.2 .1-21.8-4.3 7.9 1.4 3.7-.1 3.3 1.2-5.4-2.1 1.7-1.4 1 4.2-.7 .4-.1-.2 11.2-1.1-9.9-3.3-8.3-.2 18.3 5-8.5-.9-6.9-.6 4.9-2.9-2.3 .5-6.9 1.4-4.2 .9 13.9 .3 11.6 1.2-17.4-.7 .1-1.6-8.5 1.5 9.4-1.4-5.2-1.7 4.9 3.8 10.8-.9-9.2-.8 2.1 0 6.6 .6-18.1 1.1 11.4-1.1-16-3.3 12.4 1.4 .9 .8 7.2 1.4-14.4 1.1-.8-4.5 17.2 1.3-22.4 2.9-.8-4.2 16.7 3.8-8.8-2 .2 1.5 10 .3 10-3.5-24.5 .2 10.2 .8 1.3-1.2 3.2 3 4.1 .2-13-2.1 8.1 2.5 11.7 .7-12.6-1-3.9-3.2 7.6 2.3 5.3-2.9-13.6 5.4 .7-4.8 9.7 4.8-10.6-1.3 .9-3.3 6.7 .3-17-.9 21.6 .6-7.2 3.5 5.7-2.9 7.6-.9-11.2 1.4-5.3 2.4 2-1.4-4.6-2.9 5.5 .3-8.9 3.8 5.2-3.2-7.6 3.8 8.2-.9 6.3-3.9 1.8 2.5 3.3 1.5-11-.2 13.9-.3-12.5 .3 1.4 1.2 12.7-3.1-14 3.3-12.2-1.6 9.9-.9-11.9-2.7 12 1.8-6.4 .3 5.3 2.1 3.6 .8 5.5-4.5-21.3 2.3 18.7-.7-4.6-1.3-13.2 2.8 24.1-1.8-13 .4 10.3 2.8-1.1-1.9-13.4 1.1-4.4-1 28.7 .1 2 .6-18.2 .1 1.9-1.4-6.2 1.7-2.2-4-5.7 4-2.4-1.4 24.2-2.7-10 4.7-11.1-4.6 15.9 .2-19.6 4.5 13.1-4 7.5-.3-9.4 3.2 4.3 1.4 6.4-3-15-.1 6.9-2.2 0 .5 9.7 1.1 .9-1.6-19.9 .5 7.8-.1-2 2.2-3.6-2.3 11.9 2.7-3.2 1.6-19-.8 38.1" fill="none" marker-start="url(#r)" marker-mid="url(#r)" marker-end="url(#r)"/>
<rect x="348" y="167.1" width="11" height="9.2" fill="#f2694d" stroke="#555" stroke-width="0.4" fill-opacity="0.75"/>
<line x1="348" y1="171.7" x2="359" y2="171.7" stroke="#333" stroke-width="0.6"/>
<line x1="371.8" y1="184" x2="371.8" y2="182.4" stroke="#444" stroke-width="0.4"/>
<line x1="371.8" y1="177.8" x2="371.8" y2="173.2" stroke="#444" stroke-width="0.4"/>
<rect x="366.3" y="177.8" width="11" height="4.6" fill="#929292" stroke="#444" stroke-width="0.4"/>
<path d="M370.9 183.5l 1.5-4.1-.5 .7-2.5-3.5 1.9 7.2 .5-3.8 1.3 .5-3.1-4.7 0 4-.1 0-.9-3.3 5.4 5 0-2.4-.1-4.4-2.7-1.5 1.6 10.8" fill="none" marker-start="url(#g)" marker-mid="url(#g)" marker-end="url(#g)"/>
<rect x="366.3" y="177.8" width="11" height="4.6" fill="#929292" stroke="#444" stroke-width="0.4" fill-opacity="0.7"/>
<line x1="366.3" y1="180.3" x2="377.3" y2="180.3" stroke="#333" stroke-width="0.6"/>
<line x1="383.8" y1="183.1" x2="383.8" y2="176.3" stroke="#444" stroke-width="0.4"/>
<line x1="383.8" y1="167.7" x2="383.8" y2="154.8" stroke="#444" stroke-width="0.4"/>
<rect x="378.3" y="167.7" width="11" height="8.6" fill="#f2694d" stroke="#555" stroke-width="0.4"/>
<path d="M381.1 162.7l 4.3 11.3-3.7-12.4 2.7 18.1 .4-3.2 1.7-.4-4.2 4.5 2.5-.7-1.4-24.8-1.8 9.7-.3 11.2 4.8-4.8-3.1 5.2 3.1 2.3 0-13.3-3.8 4.7 1.8-5.9-3 2.6 2.2 .8 .7-.6-1.1 2.4 1-2.2 1.5 .3-1.7 2.6 .8 3.2 .4-17.8-1.4 12.8-2.3 2.5 1.9 9.9-1.9-3.5 3.2 .7 .2-5.2 1.6 4.4-2-4.1-3.3-8.6 2 8.2 3.7-7.2-3.8 5.6 2.7 8.6-1.8-18.6-2.2-3.1 .7 14.2 1.3 8.4 2.9-7.8-2.7 6.1-2.2-9.9 .3 3.3 4.1-9.1-2.3 13.5 3-3.3-1.2 2.4-2.6 .7-.6-3.1 .5-1.9 2.1 2.6 1.2-4.8-4.8 .7 .4-3 .7 5.6-.7-1.4 .9-8.6 2.7 16.2 1.3-25.1-4.4 21.6 2.4-3.3-.2 4.9-.4-17.4-1.2 11.1-1.6-7.3 2.6-6.8-.3 23.4 2.3 1.5-1.5-18.3 .1-7.2-1.5 14.1-1.6 12.1 3.5-17.9 .5 17.4-.9-12.7 .9 3.7-1.7 2.4-1.1 3.7 0 0 2.8 .6 .4-14.3-2.2-.3-.5 10.5-.3-.4 2.4-17.7-.2 15.2 .6 .7-.4-12.4 .8 6.2-2.4 15.6 .5-11.4 0 8.2 .6-7.8 .5 3.2 .8-5-4.8-4.4 3.1 7.9-.2 0-3 .3 .2 7.6 .2-12.5 2.7-1.3 1.7-2.3-.9-3.8 1.4-2.5-3.5 23.6 3.5-1-1-4.2-2.1-23.3-1.9 5.7 2.8 10.8-1.2-8.7 1.6 5.8 .4 4.2 1.3-6.6-2.4 1.1 2 12.7-2.6-7.4 1.5 6.8-1.3-17.9-2.3 11.7 .4-7 5.1 13.5-5.5-13.2 1.3 2.7-.4-1.3 1.8 14.6 1.2-10.3-1 10.6-2.6-9.4 3.4-10.2 1.6-2.1-3.4 13.6 1.7 1.8-3.7-7.4 2.6 7.9 .2-10.7 1.2 3.4-.4 7.5 1.8 1.7-3.8-3.5 .5-4.6 3.4 11.9-4.2-5.5-.3-4.2 2.9-5.2 1.2 7.6-4.5-.5 1.2-.8 .3 4.5 2.1 .6-1.8-10 1.1 1.8 1.6-.7-4.2 6.1 4.3-5.7-4.8-1.3 3.1-7.7 1.1 13.4-.4-1.9 1.6 .7-3.9-5.6 2.8 .3-3.5 11.6 4.5-8.2-3.9-5.7 2-22.9 1 41.1" fill="none" marker-start="url(#r)" marker-mid="url(#r)" marker-end="url(#r)"/>
<rect x="378.3" y="167.7" width="11" height="8.6" fill="#f2694d" stroke="#555" stroke-width="0.4" fill-opacity="0.75"/>
<line x1="378.3" y1="172" x2="389.3" y2="172" stroke="#333" stroke-width="0.6"/>
<line x1="371.8" y1="140.2" x2="383.8" y2="140.2" stroke="#555" stroke-width="0.5"/>
<line x1="371.8" y1="140.2" x2="371.8" y2="141.4" stroke="#555" stroke-width="0.5"/>
<line x1="383.8" y1="140.2" x2="383.8" y2="141.4" stroke="#555" stroke-width="0.5"/>
<text x="377.8" y="141.8" font-size="10.5" text-anchor="middle" fill="#222">***</text>
<line x1="402" y1="169.6" x2="402" y2="163.4" stroke="#444" stroke-width="0.4"/>
<line x1="402" y1="158.5" x2="402" y2="152.4" stroke="#444" stroke-width="0.4"/>
<rect x="396.5" y="158.5" width="11" height="4.9" fill="#929292" stroke="#444" stroke-width="0.4"/>
<path d="M401.8 163l-.3 .6 2.3-5.9-.6 10.2 .7-8.2-1.7-3.7 0 4.6-1 .7-.3-.3 .3 .7 2.4-1-1.7-2.6-2.3-2.6 2.3 9 .3-12.1 1 17.2" fill="none" marker-start="url(#g)" marker-mid="url(#g)" marker-end="url(#g)"/>
<rect x="396.5" y="158.5" width="11" height="4.9" fill="#929292" stroke="#444" stroke-width="0.4" fill-opacity="0.7"/>
<line x1="396.5" y1="161" x2="407.5" y2="161" stroke="#333" stroke-width="0.6"/>
<line x1="414" y1="187" x2="414" y2="177.8" stroke="#444" stroke-width="0.4"/>
<line x1="414" y1="167.7" x2="414" y2="152.5" stroke="#444" stroke-width="0.4"/>
<rect x="408.5" y="167.7" width="11" height="10.1" fill="#f2694d" stroke="#555" stroke-width="0.4"/>
<path d="M414 160.5l 1.4 2.9 0 11.3-2.1-9.1 1.7 20.4 1.6-26-1 26-2-18.7 1 11.3 1.9 5.2-5-8.3 5.4 6.4-1.6-15.8-1.8 4.3-1.7-11.3 3.5 24.9-2.9-24.7 .8 3.6 .7 10.3 .8 6.4-2.6-9.2 2.5 3.9-.2-9.5 .6 7.9-1.8-6.8 1.6 9.3 2.1-11.8-.6 9.6-2.2 1 2.2-10.6-3-3.1 2 21.4 .6-9.2-2.7-5.1-.1 12.6-1.6-21 5.3 23-2-6-2-13.5 .5 12.3 .7-19 2 18.7-1.2 5.1-2.6-18-1.1 15.6 1.1-11 2 15.8 1.2-11.9-2.2 9.1 .1-6.7-2-13.6 3.2 20.3 .6-15.1-3.9-8.8 5.5 12.3-.3-1-.1 .7-1.6 4.9-1.2 .3-1.6-13.8 4.1 7.2-4.7 4.9 .4 8.5 4.9-7.3-4.5 11.7 2.7-12.5-1.6 10.1-1.8-10.5 3.1-1.9-3.1 3.5 3.6-3.8 .1 12.4-3.7-3.1 .2 2.8 4.8-18-1.9 10.7-.4-12.5-.7 6.7 2.6-2.8-1 5.6 1.7 11.1-3.3-13.4-1.1 12.7-.1-16.9 1.7 21.3 1.7-14.4-3.8 13.4 3-16.5 .2 6-2.1 .6 .1 5 2.7 7.6-2.3-24.6 .4 5.3 2.8 7.1-4.4 5.7 3.8-2.5-4.6-7.9 3.7 12.6 .2-24.8 .1 14-.8 .9-3.2 7 2.6 6.2-.8-18 2.4 15-3.8-4.6 2 5.5 1.9-3 .5-28.4-3.2 33.7 .7-24 2.1 8.5-3.2-1.8 1.4-10.9-2.8 4.3 4.6 7.9 .3-1.7-1.8 6.4 .4-2.5 1.7-13.2-4.4 21.4 2.8-4.6-2.9-2.3 .2 1.6 1.7-11.2-2.6 6.8 .4-4.1-.2 5.3 .7 6.3 1.7 2 2.4 .1-3.2 4.8-1.4-2.3 2.3-18.2 2.4-3.2 .1 20-.1 2.7-2.2-5.6 1.9-12.9-4.7 2.7 1 9.3 .6 8.1 2.2-26.6-1.9 10.3-.4 5.3 3.9 6.9-4-11.4-1.2 8.3 1.2-2.7 3.2-13.9-1.6 21.8-1-17.5 1.6 1.9-3.7-8 1 7.5-.5-8 0 23.3 4.3-5.4-3.8-5.3 1.4-8.2 2.7-4.3-3.3 2.7 2.1 23.3-.2-10.7-.2 3.3 1.2-20.1-3.8 13 2.7-1.4-2.1-3.7 1.2-14.4 .1 35.2" fill="none" marker-start="url(#r)" marker-mid="url(#r)" marker-end="url(#r)"/>
<rect x="408.5" y="167.7" width="11" height="10.1" fill="#f2694d" stroke="#555" stroke-width="0.4" fill-opacity="0.75"/>
<line x1="408.5" y1="173.2" x2="419.5" y2="173.2" stroke="#333" stroke-width="0.6"/>
<line x1="402" y1="140.2" x2="414" y2="140.2" stroke="#555" stroke-width="0.5"/>
<line x1="402" y1="140.2" x2="402" y2="141.4" stroke="#555" stroke-width="0.5"/>
<line x1="414" y1="140.2" x2="414" y2="141.4" stroke="#555" stroke-width="0.5"/>
<text x="408" y="141.8" font-size="10.5" text-anchor="middle" fill="#222">***</text>
<line x1="105.6" y1="221.2" x2="105.6" y2="223.2" stroke="#444" stroke-width="0.6"/>
<text x="116.6" y="228.2" font-size="7.3" text-anchor="end" fill="#222" transform="rotate(-45 116.6 228.2)">HDAC1</text>
<line x1="135.8" y1="221.2" x2="135.8" y2="223.2" stroke="#444" stroke-width="0.6"/>
<text x="146.8" y="228.2" font-size="7.3" text-anchor="end" fill="#222" transform="rotate(-45 146.8 228.2)">HDAC2</text>
<line x1="166.1" y1="221.2" x2="166.1" y2="223.2" stroke="#444" stroke-width="0.6"/>
<text x="177.1" y="228.2" font-size="7.3" text-anchor="end" fill="#222" transform="rotate(-45 177.1 228.2)">HDAC3</text>
<line x1="196.3" y1="221.2" x2="196.3" y2="223.2" stroke="#444" stroke-width="0.6"/>
<text x="207.3" y="228.2" font-size="7.3" text-anchor="end" fill="#222" transform="rotate(-45 207.3 228.2)">HDAC4</text>
<line x1="226.6" y1="221.2" x2="226.6" y2="223.2" stroke="#444" stroke-width="0.6"/>
<text x="237.6" y="228.2" font-size="7.3" text-anchor="end" fill="#222" transform="rotate(-45 237.6 228.2)">HDAC5</text>
<line x1="256.8" y1="221.2" x2="256.8" y2="223.2" stroke="#444" stroke-width="0.6"/>
<text x="267.8" y="228.2" font-size="7.3" text-anchor="end" fill="#222" transform="rotate(-45 267.8 228.2)">HDAC6</text>
<line x1="287" y1="221.2" x2="287" y2="223.2" stroke="#444" stroke-width="0.6"/>
<text x="298" y="228.2" font-size="7.3" text-anchor="end" fill="#222" transform="rotate(-45 298 228.2)">HDAC7</text>
<line x1="317.3" y1="221.2" x2="317.3" y2="223.2" stroke="#444" stroke-width="0.6"/>
<text x="328.3" y="228.2" font-size="7.3" text-anchor="end" fill="#222" transform="rotate(-45 328.3 228.2)">HDAC8</text>
<line x1="347.5" y1="221.2" x2="347.5" y2="223.2" stroke="#444" stroke-width="0.6"/>
<text x="358.5" y="228.2" font-size="7.3" text-anchor="end" fill="#222" transform="rotate(-45 358.5 228.2)">HDAC9</text>
<line x1="377.8" y1="221.2" x2="377.8" y2="223.2" stroke="#444" stroke-width="0.6"/>
<text x="388.8" y="228.2" font-size="7.3" text-anchor="end" fill="#222" transform="rotate(-45 388.8 228.2)">HDAC10</text>
<line x1="408" y1="221.2" x2="408" y2="223.2" stroke="#444" stroke-width="0.6"/>
<text x="419" y="228.2" font-size="7.3" text-anchor="end" fill="#222" transform="rotate(-45 419 228.2)">HDAC11</text>
<line x1="444.6" y1="135" x2="444.6" y2="224.9" stroke="#444" stroke-width="0.7"/>
<line x1="444.6" y1="224.9" x2="510.9" y2="224.9" stroke="#444" stroke-width="0.7"/>
<line x1="442.6" y1="146" x2="444.6" y2="146" stroke="#444" stroke-width="0.6"/>
<text x="441.6" y="149" font-size="8.5" text-anchor="end" fill="#222">2</text>
<line x1="442.6" y1="170.7" x2="444.6" y2="170.7" stroke="#444" stroke-width="0.6"/>
<text x="441.6" y="173.7" font-size="8.5" text-anchor="end" fill="#222">0</text>
<line x1="442.6" y1="195.1" x2="444.6" y2="195.1" stroke="#444" stroke-width="0.6"/>
<text x="441.6" y="198.1" font-size="8.5" text-anchor="end" fill="#222">-2</text>
<line x1="442.6" y1="219.5" x2="444.6" y2="219.5" stroke="#444" stroke-width="0.6"/>
<text x="441.6" y="222.5" font-size="8.5" text-anchor="end" fill="#222">-4</text>
<line x1="456.6" y1="173.7" x2="456.6" y2="162.2" stroke="#444" stroke-width="0.4"/>
<line x1="456.6" y1="154.5" x2="456.6" y2="146" stroke="#444" stroke-width="0.4"/>
<rect x="451.1" y="154.5" width="11" height="7.7" fill="#929292" stroke="#444" stroke-width="0.4"/>
<path d="M459.2 172.9l-1.3-19.1-.9 17.7 1-.3-1.1-17.3 .6 9-3.1-3.2 1.5-5.1 2.6-.9-2.2 10.6 .5-15.1 .4 24.1-3-16.3 .2 3 3.1-2.8 .2 4.8-3 6.8 2.8 9.2-1.1-7.9 2.1-13-.1-11.1-1 33.6" fill="none" marker-start="url(#g)" marker-mid="url(#g)" marker-end="url(#g)"/>
<rect x="451.1" y="154.5" width="11" height="7.7" fill="#929292" stroke="#444" stroke-width="0.4" fill-opacity="0.7"/>
<line x1="451.1" y1="158.4" x2="462.1" y2="158.4" stroke="#333" stroke-width="0.6"/>
<line x1="468.6" y1="202.8" x2="468.6" y2="181.6" stroke="#444" stroke-width="0.4"/>
<line x1="468.6" y1="162.2" x2="468.6" y2="141.7" stroke="#444" stroke-width="0.4"/>
<rect x="463.1" y="162.2" width="11" height="19.4" fill="#f2694d" stroke="#555" stroke-width="0.4"/>
<path d="M469.8 184.9l-2-5.8-1.3 1.1 2 6.7-1.6 5.8 4.2-6.1-1.7 2.7-2.5-3.6 2.4-29.2-2.5-.3 2.5 19.5 1.5-4-4.8 14.3 2.2-34.5-2.5 22.3 2.6 22.2-.9-5.2-1.2-24.9 4.3 6.8-3-.9-1.4-11.6 4 2.6-1.5 26.6-2.1-22.8 3.1 2.5-3.6 26.2 0 1.7 2.9-9 .3-17.3-1.4 11.4 2.2-.9-3.3-5 1.7-30-.7 33.7 1.6-14 .4 8.9-1.3-3.8-2.1-5.6 3.8-6.1-.3 3.4 .3 .2-.3 13 1.4-30-4.1 14.6 .1-.5 3.7-16.7-1.8 11.7 1.1 10.3-1.1-6.8 1.3 25.9-3.4 4.5-.3-27 .7 8 1.9 21.7-1.3-14.2 1.7-.2-3.5-25.9 .4 18.2 4 4.6-2.7 11.7 1.7 2 1.7 4.8 0-44-1.2 51.8-1.4-31.9 1.9 17.1-1 13.8-.5-8-1-33.8 1.8 22.4 .9-33.4-4.6 33.7 .6-4.6 .2 2-1.2-22.1 .2-4.7-.2 29.9 4.3-17.6-2 7.2 1.7 17.5-1.2-20.2-1.5 18.5 1.5-39.9-2.6 36.6 1-24.3 .9 30-1.1-32.1 4 8.8-4.5 20.2 1.8-34 1.2 12.7-3.3 17.7 .9-20.5 3.2 25.8-2.1-31.6 1 4.2 2 33.9-1.3-14.5 1.3 4.7-4.7-41.3 3.1 34.5-2-18.1-.6 34.4 3-25.5 1.2 29.5-.6-31.5-3.2 8.3 1.1-6.9-2.4-15 2.5 22.8 2.4 23.2 .6-20.1-5.7-26.2 .3 2.5 4.8 28.5-3.5 .9 .6 4.8-1.2-30.9 2.9 16.2 1.7-7.7-5 0 1.5 7.1 .7 10.9 .5-6.9 .3-10.7-1 3.7 2.5 16.2-4.7-12.3 1.7-21.8 .2 25.8 1.4-23.3 .3 39.2-3.3-17.1 .8-34.2 1.6 44.4-.8-28.1-.3 29.2 3.8 5.3-3.9-34.2 3.1-3.8-2.9 18.7 1-7.7-1.5-4.9 3.9 22.8-2.2-21.6 2.1-3.2-1.4 28.9-.4-8-2.8-28.7 3 30.7-2-32.2 .1 22.3 3.9-21.9-.9 23.7-.9-28.2 1.3 52-2.4-35.7-2.6-7.1 3.1 39.4-.7-43.9-.4 21.1-.8-4.3 2-8.8 1.7 2.3-5.1 2.8 4.7 11.2-4.6-21.8 .4 21-.3-3.4 3-8.3-1.5-21.2 1.7 61.1" fill="none" marker-start="url(#r)" marker-mid="url(#r)" marker-end="url(#r)"/>
<rect x="463.1" y="162.2" width="11" height="19.4" fill="#f2694d" stroke="#555" stroke-width="0.4" fill-opacity="0.75"/>
<line x1="463.1" y1="171.1" x2="474.1" y2="171.1" stroke="#333" stroke-width="0.6"/>
<line x1="456.6" y1="141" x2="468.6" y2="141" stroke="#555" stroke-width="0.5"/>
<line x1="456.6" y1="141" x2="456.6" y2="142.2" stroke="#555" stroke-width="0.5"/>
<line x1="468.6" y1="141" x2="468.6" y2="142.2" stroke="#555" stroke-width="0.5"/>
<text x="462.6" y="142.6" font-size="10.5" text-anchor="middle" fill="#222">***</text>
<line x1="487.5" y1="183.5" x2="487.5" y2="175" stroke="#444" stroke-width="0.4"/>
<line x1="487.5" y1="166.1" x2="487.5" y2="157.2" stroke="#444" stroke-width="0.4"/>
<rect x="482" y="166.1" width="11" height="8.9" fill="#929292" stroke="#444" stroke-width="0.4"/>
<path d="M488.3 177.7l-2-4.4-1.1-3.6-.4-1 4.5 6.4 0-7.1-.1 14.4 .3-2.4-1.2-8.4 1.1-7.9-1.7 1.4-.4-.4-1.6 12.4 2.7-13.8-3.7-6 .7 2 2.1 18-1-11.1-1.8-4.8 3.4 7.3-.5-11.5 .8 26.3" fill="none" marker-start="url(#g)" marker-mid="url(#g)" marker-end="url(#g)"/>
<rect x="482" y="166.1" width="11" height="8.9" fill="#929292" stroke="#444" stroke-width="0.4" fill-opacity="0.7"/>
<line x1="482" y1="170" x2="493" y2="170" stroke="#333" stroke-width="0.6"/>
<line x1="499.5" y1="200.9" x2="499.5" y2="177.7" stroke="#444" stroke-width="0.4"/>
<line x1="499.5" y1="162.2" x2="499.5" y2="138.9" stroke="#444" stroke-width="0.4"/>
<rect x="494" y="162.2" width="11" height="15.5" fill="#f2694d" stroke="#555" stroke-width="0.4"/>
<path d="M497.2 160.4l 4.5 29.2-4-25.2 3 1.2-.1-10.3-1.5-14.2 .2 44.3 2.5-19-3.3-5.8-1.2 13 2.7-10.4-2.2 5.6 3 13.4-3.4-15.8-.5-18.4 3.9 15.3-1 2 .6 24.9 1-32.3-4.4-.8 3.7 10.4-1.1-8.9-.4-6.7-1.8 27.3 4.7-17.4 .2 8.2-3.2-30 .3 36.6-.6 4.1 3.4-10.4-4.4-12.1 .2 4.5 2.8 29.6-1.5-26.3-1.3 15.4 4 .5-4.5-42 3.4 42.1-1.1-11.7 .8 35.6-2.5-47.5 .8 5.6 2.1 6.8-1.3-6.2 2.1 11.1-2.7-11.6-1.2-1.2 1.3 10.3 2.5-17.9 .6 8.5-3.9 18 .1-32.3 1.7 13.8-.4-17.2 1 33.7-1.9-30.1-1.4 9.2-.8 1.4 4.4 16.6-.4-23.8-3.7 12.6-.2 17.1 4.8 .1 0-16.6-2.5-8.5 2 16.8 1.2-27.1-1.4 25.5-1.4-26.7 .5 19.9 2.3-25.3-2.4 41.9 0-20.5 2.1 3.5-3.9 3.3 2.6 21.7 .4-26.4-4.3 21 1.2-8.8 .4-22.2-.8-6.8-.6 13.1 1.9 9.5 2.1 16.4-1-20.4-2.6-10.7 .6-2.2 2.5 2.6-.7 34.8 2.1 4.3-1.1-31.5-.6-3.5 .8-6.7-.5 28.7 1.4-7.2-2.8 26.8-.5 3.9-.9-56.1-.3 19.2 .6 14.7 2.1-15.6-1.1-2.2 .4 0-1.6-7.4 .9 36.2-.4-23.7 1.4 9-2.3-16.7 4-17.8-.1 37.1-4.4-6 .5-13.1 1.3-4.8 2-3.8-1.7 16.9-1.6 14.3 3.8-16.3-.2-9.7-3.2-5.1-.4 19 2.5-9.8-1.2-7.8 2.3 11.2-1.9 8.6-1.6 7.6 .4 6.6 3.2-12.7-4.3 4.8 4.6 4.2-2.4-27.6-.9 3.9 3.6 7.7-.3-8.5 .5 33.9-.5-18.9-3 1.9 1.3-10.6 .1 2.6 .5-.3-2.7 7.5 1.4-3.9-1.6-32.1-.2 16.1 3.5 5.3-2.7-5.1 2.8 6-.8 14.4-2.1-16.7 .5-10.9 1.7 20.8-2.8-7.6 1.7 2.8 1 10.9 .2 3.4 .9 .3-3.8-25.5 2.7 33.1 1.4-43-3.9 8.4 1.9 9 2.4-1-2.2-17.5-2.9 34.9 2.4-16.3-1.1-17.7-1.3 16.2 4.8 4.3-1.6-7 1.2 19-3.2 1.6 3.4-42.2-3.6 84.3" fill="none" marker-start="url(#r)" marker-mid="url(#r)" marker-end="url(#r)"/>
<rect x="494" y="162.2" width="11" height="15.5" fill="#f2694d" stroke="#555" stroke-width="0.4" fill-opacity="0.75"/>
<line x1="494" y1="168" x2="505" y2="168" stroke="#333" stroke-width="0.6"/>
<line x1="462.6" y1="224.9" x2="462.6" y2="226.9" stroke="#444" stroke-width="0.6"/>
<text x="473.6" y="231.9" font-size="7.3" text-anchor="end" fill="#222" transform="rotate(-45 473.6 231.9)">MAOA</text>
<line x1="493.5" y1="224.9" x2="493.5" y2="226.9" stroke="#444" stroke-width="0.6"/>
<text x="504.5" y="231.9" font-size="7.3" text-anchor="end" fill="#222" transform="rotate(-45 504.5 231.9)">MAOB</text>
<line x1="526.4" y1="135" x2="526.4" y2="226" stroke="#444" stroke-width="0.7"/>
<line x1="526.4" y1="226" x2="592.1" y2="226" stroke="#444" stroke-width="0.7"/>
<line x1="524.4" y1="146" x2="526.4" y2="146" stroke="#444" stroke-width="0.6"/>
<text x="523.4" y="149" font-size="8.5" text-anchor="end" fill="#222">2</text>
<line x1="524.4" y1="173.8" x2="526.4" y2="173.8" stroke="#444" stroke-width="0.6"/>
<text x="523.4" y="176.8" font-size="8.5" text-anchor="end" fill="#222">0</text>
<line x1="524.4" y1="202.1" x2="526.4" y2="202.1" stroke="#444" stroke-width="0.6"/>
<text x="523.4" y="205.1" font-size="8.5" text-anchor="end" fill="#222">-2</text>
<line x1="537.8" y1="198.2" x2="537.8" y2="191.2" stroke="#444" stroke-width="0.4"/>
<line x1="537.8" y1="173.8" x2="537.8" y2="168" stroke="#444" stroke-width="0.4"/>
<rect x="532.3" y="173.8" width="11" height="17.4" fill="#929292" stroke="#444" stroke-width="0.4"/>
<path d="M538.8 191.5l-.4 4.1-3.2-7.2 2.8-13.4-.8-4.3 2.8 20.9-1.8-17-1.8-2 2.6 4-.1 12.2-.5-14.1-1.5 10.5-2-12.4 5 14.6-2.5 1.2 2.3-3.5-4.5 11.9 1.7-23.2-.4-3.1-.4 13.4 1.3-16.1 1.5 30.2" fill="none" marker-start="url(#g)" marker-mid="url(#g)" marker-end="url(#g)"/>
<rect x="532.3" y="173.8" width="11" height="17.4" fill="#929292" stroke="#444" stroke-width="0.4" fill-opacity="0.7"/>
<line x1="532.3" y1="179.6" x2="543.3" y2="179.6" stroke="#333" stroke-width="0.6"/>
<line x1="549.8" y1="210.7" x2="549.8" y2="181.6" stroke="#444" stroke-width="0.4"/>
<line x1="549.8" y1="162.2" x2="549.8" y2="141" stroke="#444" stroke-width="0.4"/>
<rect x="544.3" y="162.2" width="11" height="19.4" fill="#f2694d" stroke="#555" stroke-width="0.4"/>
<path d="M549.4 154.6l-.9 7 3.5 12.7-.4-5.7-1.4 37.6-2.6-35.4 4.1 1.1-3.2 40.1 3.8-51.8-.1-3.8-.5 20.5-4.2-11.7 .5-6.3 2.2 11.3-1.5 11.7 .3-3.5-2.1 25.7 .2-12.1 3-19.7 .4 17.2-.5-15.4 2.5 3.7-.9 24.2-2.6 9.2 1.1-58.4-2.2-6.6 .3 39.9 4.4-34.7-3.8 26 3.2 10.1-4.5-16 4.3-22.6-3 19.6 3.7-22.9-1.8 11.7 .4 7.8-2-4.5 2-11.9-3.6 15.2 2.6 16.9-1.5-3.2 .5 5.3 .9 10.6 .1-38.3 1.5 10.8-2.7-14.5-.9 16.8 .6 4.4-1.5 5.4 .5-25.6 3.7 29.5-1.9-33 2.1 29-1.4-10.5-1.7-4-.2 7.3-1.1-15.6 1.3 24.2 3.9-9-2.9 16.8 1.4-10.8-2.1 3.8-1.8 .8 1.6-4.1-1-31.3 1 1.5 .7 40.9-1.9-31 3.2 25-3.3-6.9-.3-4.5 3.5-3.5 .8 20.6-2.3-24.2 1.6-8.3-.5 25.4-.3-30.5 .1 8.5 2.9 .9-4-7.5 2.9 20.7-3.7-14.9 1.4 8.6-.9-11 1.3 23.5 1-14.7 .3 3.5-3.9 7.6 2.5 7.6 .7-19.5 .1-7.5-.6 20.5 2.5-3.8-3.9-6.4-.7-12.4 1.5 .2-1.8-5.2 4 17.9-2.2 29.9-2.2-13 1.1-23.2-.7 30.6 1.2-36.4-1.6 1.6 5.2 26.5-5.1-24.3 3.1 10.2 1.7 26.5 .1-34.8-3.3 7.9 1.6-2-3-5.1 4.6 15.8-2.3-12.7 2.4-5.2-3.7 26.5 3.8 3.9-3-5.8-.2-27 3.5 13.8-.2-9.3 0-14.2-2.8 25.8-.9 24.2 .5-40.2-.6 10.8-.4-5.6 4.7 37.5-1-5.8-.8-49.9-1.4 26.7-1.2-7.9 .6 7.5-.6-14 0 34.1 4 1.3-.9-40.8 .3 27-.1 11.5-1.3-15.4-3.3 16.2 3.8-17.7-1.3 26.1-.6-45.5-1.5 9.6 2 7.3 2-27 .2 40.3 .9-34.3-3 60.6 1.9-28.4-1.1-10.4-2.9-6.9 1.7 5.8-.6-13.2 .1 23.6 2.6-30.7-.8 33.8 .9 15.5-1-33.5-.1-11.2 1.3 14.3 .1 16.9-1.8 10.8-.6-30.1 3.2-1.1-1.2-16.4-4 13.1 4.2 18.8-4.2-23.8 2.6-15.2 1.6 72.7" fill="none" marker-start="url(#r)" marker-mid="url(#r)" marker-end="url(#r)"/>
<rect x="544.3" y="162.2" width="11" height="19.4" fill="#f2694d" stroke="#555" stroke-width="0.4" fill-opacity="0.75"/>
<line x1="544.3" y1="171.1" x2="555.3" y2="171.1" stroke="#333" stroke-width="0.6"/>
<line x1="537.8" y1="138.7" x2="549.8" y2="138.7" stroke="#555" stroke-width="0.5"/>
<line x1="537.8" y1="138.7" x2="537.8" y2="139.9" stroke="#555" stroke-width="0.5"/>
<line x1="549.8" y1="138.7" x2="549.8" y2="139.9" stroke="#555" stroke-width="0.5"/>
<text x="543.8" y="140.3" font-size="10.5" text-anchor="middle" fill="#222">**</text>
<line x1="568.7" y1="190.5" x2="568.7" y2="182.7" stroke="#444" stroke-width="0.4"/>
<line x1="568.7" y1="171.9" x2="568.7" y2="166.1" stroke="#444" stroke-width="0.4"/>
<rect x="563.2" y="171.9" width="11" height="10.8" fill="#929292" stroke="#444" stroke-width="0.4"/>
<path d="M567.4 181.7l 2.2-4.6 .1-5.1-.5 1.7-1.3 14.8 3.2-13.1-1.5-3.7-2.9 .1 1.8 13.1 0-5.2-1.3-8.1 .9 10.1-1.1-8.7 2.8 8.9-1.8-5.8 .4 5.6-.3 5.1 3.3-9.8-3.3-1.1-1-8.2 .2-1.6 1.3 24.4" fill="none" marker-start="url(#g)" marker-mid="url(#g)" marker-end="url(#g)"/>
<rect x="563.2" y="171.9" width="11" height="10.8" fill="#929292" stroke="#444" stroke-width="0.4" fill-opacity="0.7"/>
<line x1="563.2" y1="177.7" x2="574.2" y2="177.7" stroke="#333" stroke-width="0.6"/>
<line x1="580.7" y1="215.5" x2="580.7" y2="183.5" stroke="#444" stroke-width="0.4"/>
<line x1="580.7" y1="162.2" x2="580.7" y2="146.8" stroke="#444" stroke-width="0.4"/>
<rect x="575.2" y="162.2" width="11" height="21.3" fill="#f2694d" stroke="#555" stroke-width="0.4"/>
<path d="M580.6 164.5l-1.8-1.1 2.9-6.8 .6 3.4-4-4.7 .7 24.8-.4-32.9 1.3 62.6 1-45.8-1-1.6 2.1-6.7-.9-5.1-2.6 21.3 .3-16.8 2 17.7-.1-9.3 1-14.7-2.7 45.5 2.8-.8-1.8-22.3-.8-14.6 3.2 23.2-1.3-.2-.6-20.7 .4 31.1 2.6 1.7-4.2 11.4-.9-54.2 3.4 24.3-3-11.3-.5 6.4 4.5-4.1 .6-14-1.1 17.9-2.3 6.2 .5 23.8-.9-33.1-.2 17 .6 1.8 1.1 20.4-2.4-23.9 4 29.9-3-52.5-1.7 24.9 2-35.4 3.3 15.5-.9-14.2-2.6 47.7 2.6-25.1-4.1-1.8-.1-18.9 3.3 19.7-2.3 2.9 3.1-15.5-2.7 9.1 3.7 2.8-2.9-1.8 2.5 17.2-1.2-8.3-3.7-23.2 3.5 32.8-2.9-9.2 .3 27.4-.8-24.8 1.4-3.2 1.7-2.5-.4-12.1-1.1-4.1 1.7 4.8-3.6 3.4 3.2 15.2-2.1-16.8 2.6-7.6 .8 18.3-1.9 22.6-.9-43.6 1.2 10.9 1.4 11.3-2.4-7.1 2.3-10.7-1.3 3.5-2.9 .9 .6 25.7 1.7-12.1 1.6-10.4-2.7 45 4.4-31.4-2.1-31.5-3 31.8 4.1-11-3.9-1.5-.5-15.5 4.2 29.9-2.9 7-.6-4.7 3.3 10.1-.7-31.5-3.1-7.1 3.1 5.3-1.2 18-.7 2.8 3.7-17.9-3.1 2.8 2.1-15.4-3 36.2 3.4 6 .3 12.7-4.9-18 4.7 3.6-3.1 12.3-.3-26.4 2.6-30.2 .9 14.1-.7 13.7-.2-4.3-1.8 18.3 3.3-20.2-4.9 23.3 5.1-22.4 .1 21-5 5.2 .4-24.6 4.6 12.7-.2 2-1.6 12.6-2.4 6.1 4.1-17.2-2.7 8.7 0 2.4 1.4-20.1-1.2 10.6 2 3.1-4.4-25.1 4.3 .8-.4-8.4-3.2 27.8 2.3 8 .6-28.6-2 3.4-1.6 1.2 4.1 16.5-1-4.1 1.9-3.7-5.8 6 1-21.7 .6 14.2 3.4-13.6-2.5 .4 .5 8.5-1 3.5 .1-16.1 .8 8.6 2 18.6-1.5-7.7-2.9 6.8 .3 1 .2 3.7 .6-21-.8 26.7 3.1-1.5-.5-19.6-1.5-25.5-1.4 30.1 2.3-14.4-1.7-6.7 3.2 12.2-1.7-5.4 2.7 8.2-.9-13.5 .3 36.6-3.2-51.7 .5 75.4" fill="none" marker-start="url(#r)" marker-mid="url(#r)" marker-end="url(#r)"/>
<rect x="575.2" y="162.2" width="11" height="21.3" fill="#f2694d" stroke="#555" stroke-width="0.4" fill-opacity="0.75"/>
<line x1="575.2" y1="170" x2="586.2" y2="170" stroke="#333" stroke-width="0.6"/>
<line x1="543.8" y1="226" x2="543.8" y2="228" stroke="#444" stroke-width="0.6"/>
<text x="554.8" y="233" font-size="7.3" text-anchor="end" fill="#222" transform="rotate(-45 554.8 233)">ACHE</text>
<line x1="574.7" y1="226" x2="574.7" y2="228" stroke="#444" stroke-width="0.6"/>
<text x="585.7" y="233" font-size="7.3" text-anchor="end" fill="#222" transform="rotate(-45 585.7 233)">BCHE</text>
<text x="16.5" y="237.6" font-size="19.5" font-weight="bold">C</text>
<rect x="0" y="292.1" width="56.7" height="19" fill="#e2efda"/>
<text x="28.4" y="304.5" font-size="8" text-anchor="middle">Rembrandt</text>
<text x="64.8" y="304.4" font-size="9.4" text-anchor="middle" fill="#111" transform="rotate(-90 64.8 304.4)">expression</text>
<line x1="83.5" y1="253" x2="83.5" y2="340.8" stroke="#444" stroke-width="0.7"/>
<line x1="83.5" y1="340.8" x2="424" y2="340.8" stroke="#444" stroke-width="0.7"/>
<line x1="81.5" y1="257.6" x2="83.5" y2="257.6" stroke="#444" stroke-width="0.6"/>
<text x="80.5" y="260.6" font-size="8.5" text-anchor="end" fill="#222">6</text>
<line x1="81.5" y1="274" x2="83.5" y2="274" stroke="#444" stroke-width="0.6"/>
<text x="80.5" y="277" font-size="8.5" text-anchor="end" fill="#222">4</text>
<line x1="81.5" y1="290.4" x2="83.5" y2="290.4" stroke="#444" stroke-width="0.6"/>
<text x="80.5" y="293.4" font-size="8.5" text-anchor="end" fill="#222">2</text>
<line x1="81.5" y1="306.8" x2="83.5" y2="306.8" stroke="#444" stroke-width="0.6"/>
<text x="80.5" y="309.8" font-size="8.5" text-anchor="end" fill="#222">0</text>
<line x1="81.5" y1="323.2" x2="83.5" y2="323.2" stroke="#444" stroke-width="0.6"/>
<text x="80.5" y="326.2" font-size="8.5" text-anchor="end" fill="#222">-2</text>
<line x1="81.5" y1="339.6" x2="83.5" y2="339.6" stroke="#444" stroke-width="0.6"/>
<text x="80.5" y="342.6" font-size="8.5" text-anchor="end" fill="#222">-4</text>
<line x1="96.2" y1="327" x2="96.2" y2="323" stroke="#444" stroke-width="0.4"/>
<line x1="96.2" y1="317.2" x2="96.2" y2="309.5" stroke="#444" stroke-width="0.4"/>
<rect x="90.7" y="317.2" width="11" height="5.8" fill="#929292" stroke="#444" stroke-width="0.4"/>
<path d="M97.7 317.9l .4-6.3-3.1 3.8-1.5 8.2 2.7 3 1.1-7.2-.2 5.7 1.9-6.2-1.4 .1-.4 6.9 1.7-9.5-5.9 3.6-.1-6.8 2.5 5-1.2-7.4 3.8 .6-4.4 12.2 4.3-2.4-3.4 2.2-.4 .7 1.8-14.6-1.1 17.5" fill="none" marker-start="url(#g)" marker-mid="url(#g)" marker-end="url(#g)"/>
<rect x="90.7" y="317.2" width="11" height="5.8" fill="#929292" stroke="#444" stroke-width="0.4" fill-opacity="0.7"/>
<line x1="90.7" y1="320.2" x2="101.7" y2="320.2" stroke="#333" stroke-width="0.6"/>
<line x1="108.2" y1="320" x2="108.2" y2="308" stroke="#444" stroke-width="0.4"/>
<line x1="108.2" y1="300" x2="108.2" y2="288" stroke="#444" stroke-width="0.4"/>
<rect x="102.7" y="300" width="11" height="8" fill="#f2694d" stroke="#555" stroke-width="0.4"/>
<path d="M110.9 299.5l-3.6 11.5-2.4-6 5.9 2.6-3.2 16.6 3.2-9.8-1-21.1 0 3.3-.9 4.1 2.2 7.5-1.1-4.9-3.3-11.7 .7 17.1-1.1-20.7 4.4 7.6-3.9 0 2.6-4.4 .2 23.6 1-19.9-4.6 3.3 2.3-.6-3.4 22.7 1.9-18.7-.9 3.3 4.2 12.2 1.5-11-6.1 3.8 4.5-10.7-4.9 2.1 6.4 .4-4.5-2.4 4.4 3.9-2.2-.6-4.2 11.1 5-15.5 1 2.5-1.6 6.4-.1-4.6-4.3 3.6 .8-2 4.2 2-3.4-4.3 3.8 22-1.4-20.7-3.4-8.9 2.8 17.1-2.5-20.9 5.7 18.1-4.7-1.8-2.1-4.3 5.5 9.8-5.5-7.1 6.3-6.8-5 9.9 5.4-15 .2 9.7-2.1-.2-.7 7.1 .3 7.3 1.1-8.4-5.6-3.9 4.1 .1-3.2 1.5 4.6-.8 1-8.9-4 11.7 3.1-5.2-3.3-7.2 2.1 22-2.5-14.4 1 11.3-2-13.1 .2-10.4 3.7 15.3 .3 8.6-1.6-9.5-3.6-6.5 1.9-.8 3.8 12.9-.8-5.7-3.3 5.5-1.3-10.8 .5-2.3 4.1-1.4 1.3-3.1-.2 4.4-1.7-4.2-2.6 6.2-1.1 3.2 1.5 6 2-.8 2.3-1.9-.4-7.3-4.6 8-.9 5.3-.4-7.6 .1 3.6 6 .3-5.7-17.6 2.2 26.1-.2-11.3-.1-4.6-1.3-5.4 5.4 16.1-6.2-1 1.6-5.7 1.6 6.8-2.7-13.5 2.2 5.2 .9 1.5 1.9-4.8 .9-2.3-1.1 3-2.1 8.5-.3-5.9 .8 5.2-.3-13.1-2.8 12.9 .4-8.9 5.7 4.1-3 3-.2-.9-2.2-9.4 1.3 12.7 2.4-10-1.8 20.5-.4-33.3-1.6 20.6 1.9-9.7 2.2 4.6-2.6-17.5 1.1 41.7" fill="none" marker-start="url(#r)" marker-mid="url(#r)" marker-end="url(#r)"/>
<rect x="102.7" y="300" width="11" height="8" fill="#f2694d" stroke="#555" stroke-width="0.4" fill-opacity="0.75"/>
<line x1="102.7" y1="304" x2="113.7" y2="304" stroke="#333" stroke-width="0.6"/>
<line x1="96.2" y1="256.8" x2="108.2" y2="256.8" stroke="#555" stroke-width="0.5"/>
<line x1="96.2" y1="256.8" x2="96.2" y2="258" stroke="#555" stroke-width="0.5"/>
<line x1="108.2" y1="256.8" x2="108.2" y2="258" stroke="#555" stroke-width="0.5"/>
<text x="102.2" y="258.4" font-size="10.5" text-anchor="middle" fill="#222">***</text>
<line x1="127" y1="319.2" x2="127" y2="311" stroke="#444" stroke-width="0.4"/>
<line x1="127" y1="305.5" x2="127" y2="297.8" stroke="#444" stroke-width="0.4"/>
<rect x="121.5" y="305.5" width="11" height="5.5" fill="#929292" stroke="#444" stroke-width="0.4"/>
<path d="M125.6 311.4l 3.3 2.8-.5-.8-1.4-7.6 2.3 .4-1.4 3.1-3.2-7.4-1.1 14.6 1.7-5.4 3.1-9 1.2 10.2-4.4-.9-.8-5 5.8 .5-2.7 3 2.4-3.5-4.7 1.7 .2 .3-.9-3.5 3-.6 .4-6.5-2 25.5" fill="none" marker-start="url(#g)" marker-mid="url(#g)" marker-end="url(#g)"/>
<rect x="121.5" y="305.5" width="11" height="5.5" fill="#929292" stroke="#444" stroke-width="0.4" fill-opacity="0.7"/>
<line x1="121.5" y1="308" x2="132.5" y2="308" stroke="#333" stroke-width="0.6"/>
<line x1="139" y1="326.3" x2="139" y2="311.6" stroke="#444" stroke-width="0.4"/>
<line x1="139" y1="301.8" x2="139" y2="287.1" stroke="#444" stroke-width="0.4"/>
<rect x="133.5" y="301.8" width="11" height="9.8" fill="#f2694d" stroke="#555" stroke-width="0.4"/>
<path d="M136.3 305.5l 2.3-6.9-.5 7.6 2.5 3-.6 1.5-.9-8.2-2.3-6.5 1.9 19.8-1.4-14.1 1-11.5 2.9 33.2-3.8-8.4-.3-.1 2.9-10.7-1.7 10.7 3.3-4.8-3.1-6.8-1.2 5.9 4.5-10.3-2.6-.6 1.3-1.4 1.9 23.3-4.5-16.9 3.5-1.4 .4 21.6 .4-24.4-5.3 11.3 .7-.8 .8 1.8-2.7-11.3 2.2 13.1 1-9 3 2.7-.3-11.4-2.6-5.1 .5 19.5 2-2.5-.6-2.6-1.6 6.1 .1-8.2 .1 5.2-3.6-5.3 5.5-13-3.5 13.6 3.3 11.6-2.4-10.8-2.3 4.2 1.6 1.5 .5-2.4 3.3 4.2-2.6-4.5 3 10.4-1.9-11.7-3.9-.7 4.6 3.7-4.5-5.4 3.4-2.3 2.6 11.7-3.4-8.4 1.3 4.1 1.6 3.7-5.7-3.3 .5 4.1 .2-4.6 3.1 7.3-1.8-8.2-1.8 6.2-1.2-3.2 4.9-2.3 1.5 8-2-6.2-1.3-5.8-.8 10.8-1.3-3.3 .5-3 2.9-3.5-3 5.3 2.2-16.2 1.7 12-3.8 2.5-1.2-10.6 1.8 6.1-1.5-4.7 2.8 15 2.7 8.4-4.5-12.4 4.8-8.7 .3 6.1-3.3 10.3 2.8-29.9 .5 28.3-6.4-11.2-.1-4.1 6.2 14.9 .5-14.1-4.9 6.7 5.2 1.1-.4 3.1-.9-11.7-.1 13.4-4.1-1.4 2-11.1 2.6 15.3-4.9-15.1 2.7-14 1.6 17.7-.7 4.1 0-11.6 .8-1 .5 13.2-1.4 4.2-.9-8.7-.6 4.4-1.6-8.7-1.8 9.3 .8-16.7 4.8 19.4-3.1 1.7 1.9 1-1.3-4.4-1.4-6.3 4.2 8.6-1.9-17.3-2.3 18.6 4.5-11.2 .4 14.5-5.9-8.5 .7 1.6 5.2-15.3-2.3 18.7-2.1-40.8 .9 52.7" fill="none" marker-start="url(#r)" marker-mid="url(#r)" marker-end="url(#r)"/>
<rect x="133.5" y="301.8" width="11" height="9.8" fill="#f2694d" stroke="#555" stroke-width="0.4" fill-opacity="0.75"/>
<line x1="133.5" y1="307" x2="144.5" y2="307" stroke="#333" stroke-width="0.6"/>
<line x1="157.8" y1="327" x2="157.8" y2="319.9" stroke="#444" stroke-width="0.4"/>
<line x1="157.8" y1="314.1" x2="157.8" y2="309.5" stroke="#444" stroke-width="0.4"/>
<rect x="152.3" y="314.1" width="11" height="5.8" fill="#929292" stroke="#444" stroke-width="0.4"/>
<path d="M158.3 319l-.5 .6 2.8-1.2-1.9 1.6-2.3-7 3.2 .9 1.4 9.8-2.3-6.5 1.1 .5-4.2-.8 3.4-6.7-2.7 9.7 1.3-7.9 2.8-1.5-1.3 10.6 1.9 3.1-4.9-11.5-1 2.2 1.6-1.4-.2 6.9 3-10.9 .2 17.5" fill="none" marker-start="url(#g)" marker-mid="url(#g)" marker-end="url(#g)"/>
<rect x="152.3" y="314.1" width="11" height="5.8" fill="#929292" stroke="#444" stroke-width="0.4" fill-opacity="0.7"/>
<line x1="152.3" y1="316.5" x2="163.3" y2="316.5" stroke="#333" stroke-width="0.6"/>
<line x1="169.8" y1="323.9" x2="169.8" y2="309.2" stroke="#444" stroke-width="0.4"/>
<line x1="169.8" y1="299.4" x2="169.8" y2="284.7" stroke="#444" stroke-width="0.4"/>
<rect x="164.3" y="299.4" width="11" height="9.8" fill="#f2694d" stroke="#555" stroke-width="0.4"/>
<path d="M171.7 302l-5-7-.4 21.7 1.6-5.4 4.5-4.1-2.7-18.3-.8 20.7 .6-6.7 3.5 3.6-6.1 16.8 2.5-22.4-2.7 5.8 1-6.6 3.6 16 2-4.9-1.4 5.5-4.4-8.3 4.4 7-1-6.2-3.5-2.6-.5-6.7 2.8 6.3-3.5-17.5 2.6 11.3-1.4 13.8 1.2-4.9 2.4 7.3-.4-14.2 2.6 6.1-6.4 8.3 .8-8 3.3-10.6-3.3 9.5 2.2-7.1 3.5 6.9-6.9 6.7 1-14.5 3 7.5-.2 6.4 1-11.9-2.6 16.8-1.1-30.7 5.1 26.8-5.3-15.6-.2 6.7 0-5.1 3.8-1.5 2.1 12.2-3.8-16.5-.2 14.6-1-4.8 3.4 .9-2 3-.2-15.9 4.2 14.4-3 3.5-.7-14.3-1.4 14.4 4.4-13.6-.1 12.1-4.8-6.6 5.3 11.1-6.8-2.6 3.2 .9-2.2-8.6 2.5 1.8-3.2-7.4 1.9 8.2 2-3.5-2.7 5.5-1.5-16.1 3.5 10.3 1.4-8.9 1-1.9-.1 10.3-.5-2-5-13.9 6.1 20.6-.8-8.1-4.5 14.7-.9-9.7 6.6 1.5-6 1.7 5.8 6.9-4.7-25 1.3 15.7 1.8 .9-1 10.9 2.8-17.3-6.8 2.6 6.9 9.8-.9 4.5-2.8-10.2 1.1-11.4 1.9 5.7 .1 11.1-4.1-10.2 2.3 2.3-2.4-2.5 .6 16.8 4.1-12.7-2.2 10.7-4.6-1.1 7.1-13.2-6.5 5 .2-7.9 5.8-1-4.8-2.5-.8 5.2 .3 4.2 2.2 3-2.6-12.9 .5 19.9 .8-21.6-.8 10.8 1.2 7.4 3 0-.3-5.1-3.9 7.1 5.1-2.2-3.3-8.1-1.8 8.9 3.6-2.2-2.2-20.9-1.6 27.4 3.5-27.1 .9 28-3.6-23-1.6 19 2.8-10.7 1.7-17.6-1.1 40.5-1.5 8.6" fill="none" marker-start="url(#r)" marker-mid="url(#r)" marker-end="url(#r)"/>
<rect x="164.3" y="299.4" width="11" height="9.8" fill="#f2694d" stroke="#555" stroke-width="0.4" fill-opacity="0.75"/>
<line x1="164.3" y1="304.3" x2="175.3" y2="304.3" stroke="#333" stroke-width="0.6"/>
<line x1="157.8" y1="256.8" x2="169.8" y2="256.8" stroke="#555" stroke-width="0.5"/>
<line x1="157.8" y1="256.8" x2="157.8" y2="258" stroke="#555" stroke-width="0.5"/>
<line x1="169.8" y1="256.8" x2="169.8" y2="258" stroke="#555" stroke-width="0.5"/>
<text x="163.8" y="258.4" font-size="10.5" text-anchor="middle" fill="#222">***</text>
<line x1="188.6" y1="318.4" x2="188.6" y2="311.6" stroke="#444" stroke-width="0.4"/>
<line x1="188.6" y1="297.8" x2="188.6" y2="290.2" stroke="#444" stroke-width="0.4"/>
<rect x="183.1" y="297.8" width="11" height="13.8" fill="#929292" stroke="#444" stroke-width="0.4"/>
<path d="M186.6 301.4l 4.8-4.6-3.2 11.2-.5 5.4 1.2-7.1-2.4 6.1 5.2-16.8-3.2 19.2 .2-14.8-1.2 4.4 1.9 7.4-1.8-1.1-2.1-10.4 3.8 15.2-.3-9.3 1.1-3-2.2 9.3 1.6-19-1 6.8 2.2 1.9-.2-12-.1 28.2" fill="none" marker-start="url(#g)" marker-mid="url(#g)" marker-end="url(#g)"/>
<rect x="183.1" y="297.8" width="11" height="13.8" fill="#929292" stroke="#444" stroke-width="0.4" fill-opacity="0.7"/>
<line x1="183.1" y1="301.8" x2="194.1" y2="301.8" stroke="#333" stroke-width="0.6"/>
<line x1="200.6" y1="324.5" x2="200.6" y2="311.6" stroke="#444" stroke-width="0.4"/>
<line x1="200.6" y1="300.9" x2="200.6" y2="284.8" stroke="#444" stroke-width="0.4"/>
<rect x="195.1" y="300.9" width="11" height="10.7" fill="#f2694d" stroke="#555" stroke-width="0.4"/>
<path d="M198.9 303.4l 3.2-6.8-4.3 2.8 3.6 10.9-3.3-7.7 .4-11.3 4.9 12 .3-.5-2.7-1.2 1.5-.4-1.2-2.2 2.2 18.3-2.6-8.7 2.5-15.6-4.2 2.3-1.4 2.7 6.2 2.4-5.4 3.7-.2 8.8 2.8-11.5 .2-7.7-3.6 19 2.8-1.6 1.2-12.5-1.6 6.4-1.3 7.2 4.1-18.2-5.8 19 6.7-5.4 .2-18.3-6.4 13.2 4.3 5.4 .7-2.6-.2-13.2-1.9 27-3.1-13.7 3.4 6.3-.1-11.1-3.2 4.9 .5-3.4 2.7 17.1-2.3-.2 5.2 1.4-4.7-25.6 5 10.2-2-1.8-4.2 8 1.7-3.7-.2 13.7 3.5-21-3 17.6-2.3-10.6 6.7 10.9-2.6-18.2-1.2 3.1 3.1 .1-3.2-8.8-.7 7.4-1.3 11.1-.6-5.9 6.5 13.9-2.2-9.3 1.1-2.1-3.4-8.5-.5 9.6 1.6-9.4 1.4 6.5 .5 5.8-3.2 6.2 .9-14.6 3.2-9.1-2.5 4.2-.9 16.4-3-12.6-.1-2.2 3.1 14.1 3.2-4 .2-.6-3.1 4.3-3.1-1.1 2.7-11.3 1 14.1 .3 .7-3-6.4 5-24.5-2 10.7-1.1-6.3 1.8 13 .2-6.1-1.1 16.4-1.7-15.5 2.2 1.8-2-3.9-.6 12.6-.7-16.4 3.3-.2 .1 .6-1.9 10.2 .9 11.1 .7-8 .2 11.4-2.2-17.9 3.9 7.2-2.9-5.9 .4-8.8 3.3 17.4-2.9-1.6-2.7-.1 2.2 2.3-2.2-6.9 .2 10.7 3.5 8.1 1.7-19.3-.6 6.2-2.4 11.8 3.1-4.9-7-19.4 4 12.7-2.5-2.3 4.2 4.8-.7-11.6-2.5 16.4-.7-15.7 .3 5.2 .1 3.8 1.3-3.7 .1-1.5-2.2 8.6 3.9 4.1-3.2-2.6-.2-36 .2 45" fill="none" marker-start="url(#r)" marker-mid="url(#r)" marker-end="url(#r)"/>
<rect x="195.1" y="300.9" width="11" height="10.7" fill="#f2694d" stroke="#555" stroke-width="0.4" fill-opacity="0.75"/>
<line x1="195.1" y1="306.4" x2="206.1" y2="306.4" stroke="#333" stroke-width="0.6"/>
<line x1="219.4" y1="304" x2="219.4" y2="298.5" stroke="#444" stroke-width="0.4"/>
<line x1="219.4" y1="294.2" x2="219.4" y2="291.7" stroke="#444" stroke-width="0.4"/>
<rect x="213.9" y="294.2" width="11" height="4.3" fill="#929292" stroke="#444" stroke-width="0.4"/>
<path d="M217.3 302.9l 5.4-4.5-4.2 .2-2.1 1.5 1.8 2.5-1.1-2.4 5.6-1.5-4 3.1-1.4-6.5 .8-3 3.4 2.5-5 3.9-.4-6.9 6.5 8.4-5.4-7.9 .1 .5-1.3 9 .4-4.5 3.7-3.2 1.7 8-3.3-10.4-.5 12.3" fill="none" marker-start="url(#g)" marker-mid="url(#g)" marker-end="url(#g)"/>
<rect x="213.9" y="294.2" width="11" height="4.3" fill="#929292" stroke="#444" stroke-width="0.4" fill-opacity="0.7"/>
<line x1="213.9" y1="296.3" x2="224.9" y2="296.3" stroke="#333" stroke-width="0.6"/>
<line x1="231.4" y1="326.4" x2="231.4" y2="313.2" stroke="#444" stroke-width="0.4"/>
<line x1="231.4" y1="304" x2="231.4" y2="290.2" stroke="#444" stroke-width="0.4"/>
<rect x="225.9" y="304" width="11" height="9.2" fill="#f2694d" stroke="#555" stroke-width="0.4"/>
<path d="M231.5 317.1l 1.4-8.5-4.2-2.2-.3-1.2 3.3 6.7 2.6-8.6-1.3 21.7-2.8-27.7 1 10.5-.2-7 2.9 5.4 .1 15.2-4-13.7 1.4 5.9 1.9-2.5 .1-4.2-3.4-15.6 .2 25.8 3.9-5.4-.7 5-.4-13.5 1.7-3-1.2 7.3-4.6-19.7 4.4 10.8-4.6 3.4 3.3 4.5 2.3 5.4 .6-6.9-3.6 7-1.1 5.9 4.4-4.8-.8-.3-2.4 4.6-3.2-11.6 6.8-6.5-6.7 13.9 6.5-5.9-5.5-.7 0-1.8 1.8-6.6-.4 6-2.4 6.7 3.4-7.8-1-14.6 2.4 15.7-.3 4-4.1 6.5 4.1-1.5-4.5 11.2 5.5-14.3-.9 1.9 1.7 5.6-1.6-5.8-2.1-6.4 3.7 7.5-6.7 3.3 6.3-10.7-3-6.2-2.6 9.4 4.2 15.2-3.8-16 4.9 3.2-5 7.2 5.6 4.9-2.9-3.7 .5-7.2 2.9 1.3-3.1-7.5 3.1 4.7-2-7.7 1.1 .1-2.3 6.4 1.4 15.2-.2-17.3-.1 8.4-4.4 5.5 .9-9.5 3.9-1.8-2.8-.2 4.1-13.3-3.6 15.3-1.3 1.3 3.5-5.9-3.1-13.5 1.7 8.8-.2 2.7 2 12-.2 3.7-.2-7.6 .4-1.7-2.7-16.6-1.5 1.2 1.1 5.7 2.9 7.7-1.3-6.6-4.1 16.6 4.5-26.8 1.4 14.7-5.8-15.3 2.8-3.2-1 23.8 2.7 8.2-.4-13.3-2-.4 2.2 1-3.1 11.5-1.1-12.1 6-2.2 .8 20.1-1.9-25.4-1.4-.4 2.9 4.7-5.3 12.2 2.4-9.9 2.7-10.9-2.1 19.2-3.6 1.8 3-3.6-.5 .1-2.3-15.5 2.4 25-3.1-21.1 2.5 3.2-.2-3.6 2 6.4-1 5-.1-16.1-2.4 17.3 3.6-6.6-.7-22.8 .5 41.7" fill="none" marker-start="url(#r)" marker-mid="url(#r)" marker-end="url(#r)"/>
<rect x="225.9" y="304" width="11" height="9.2" fill="#f2694d" stroke="#555" stroke-width="0.4" fill-opacity="0.75"/>
<line x1="225.9" y1="308.6" x2="236.9" y2="308.6" stroke="#333" stroke-width="0.6"/>
<line x1="219.4" y1="256.8" x2="231.4" y2="256.8" stroke="#555" stroke-width="0.5"/>
<line x1="219.4" y1="256.8" x2="219.4" y2="258" stroke="#555" stroke-width="0.5"/>
<line x1="231.4" y1="256.8" x2="231.4" y2="258" stroke="#555" stroke-width="0.5"/>
<text x="225.4" y="258.4" font-size="10.5" text-anchor="middle" fill="#222">***</text>
<line x1="250.2" y1="319.3" x2="250.2" y2="316.2" stroke="#444" stroke-width="0.4"/>
<line x1="250.2" y1="309.5" x2="250.2" y2="305.5" stroke="#444" stroke-width="0.4"/>
<rect x="244.7" y="309.5" width="11" height="6.7" fill="#929292" stroke="#444" stroke-width="0.4"/>
<path d="M250.8 306.5l .3 6 1.5 3.1-.1-6.2-3.7-.4 3.9 1.3-2.2 1.3-3.7 7.5 5.5-3.6-.1-.4 1.4 .4-5.7-1.1 4.9 .5-.7-2.5-.4-2.4-3 6.1 1.9-10.3 .1 8.3-.3 3-2.4 1 1.9-12.6 1.2 13.8" fill="none" marker-start="url(#g)" marker-mid="url(#g)" marker-end="url(#g)"/>
<rect x="244.7" y="309.5" width="11" height="6.7" fill="#929292" stroke="#444" stroke-width="0.4" fill-opacity="0.7"/>
<line x1="244.7" y1="312.6" x2="255.7" y2="312.6" stroke="#333" stroke-width="0.6"/>
<line x1="262.2" y1="327" x2="262.2" y2="311" stroke="#444" stroke-width="0.4"/>
<line x1="262.2" y1="300.3" x2="262.2" y2="284.2" stroke="#444" stroke-width="0.4"/>
<rect x="256.7" y="300.3" width="11" height="10.7" fill="#f2694d" stroke="#555" stroke-width="0.4"/>
<path d="M264 311.7l 1.6-2.2-2.5 2.4-2.7-1.5-1.3 6.6 .5-13.9 3.9-1.3 .5 7.1-4.4-4.1-.9 2.3 5.2-1-4.2 .6-.8-2 1.1-5.9 4.5 11.1-4.9 5.8 3.7-2.3 2.4-3.7-5.2 .2 5.3-17.2-3.2 16.9 .9 6-.7-1.1-3.7-21.7 3.4 23.9 1.7-30.8-3.9 14.1 1-3.6-2.2 17.3 .5 1.8 .1-10.5-.1 20.5 3.1-18.1 .2 12.8-2.3-20-.5-2.3 .1-7.1 4.8 4.3-2.1 16.9-3.2-8.1-.3 16.2 3.4-2.7-.9-11.2-1.8-6.2 2.7 3.6 2.4-6.9-3.2 14.9 .1-6.2-3.1-3.1 2.4 5.1-1.7 3.7 1.1 1.5-1.7-10.2 3.4-7.8 2.5 22.6-3.3-21.4 2.9 .9-4.4 4.1 4.1 6.2-1.2 3.9 .4-3.4-1.9-14.9 1.2 15.7 2.8 6.3-2.9-6.8 2.9-9.2-3.6 17.6 2.7-25.3-4.5 23.1 .9-12.3 3.3-2.9-2.3-6.4 2.7 28.5-6-9 6 .3-2.9 1.4 3.7-14.8-6 .8 5.6 11-1.3-1.5 .7-14.2-1.3 8.5 1.6-1.7-1.7-5.7-3.2 11 5.8 .6-6.4 11.5-.5-19.1 .9-3.8-.2 4.6 1.7 17.9 4.5-24.3-1.2 .6-1.6 14.7-.4 6.7-2.3-18.2 3.1 2.2-.1 14.8 2.2-19.6-.9 9.6-1.3 12.2 1.2-1-4.4-10.8 1.8-20.5 .6 36.4-.6-30.5 3.2 4.3-2.1 7.6-2.2-6.3-1.9 18.9 1.9-6.6-.8 10-.2-33.6-.2 14.2 4.8 13.9-3.8-1.7 2.7 3.3 1.4-1.6-6-.8 5.9-5.9-1.2 2.1-3.6-2.3 2.3 18.5-3-21.1-.2-10.7 6.2 21.1-4.3 11.3-.8-7.7 5-8.6-.8 10.1-.9-43 .2 56.7" fill="none" marker-start="url(#r)" marker-mid="url(#r)" marker-end="url(#r)"/>
<rect x="256.7" y="300.3" width="11" height="10.7" fill="#f2694d" stroke="#555" stroke-width="0.4" fill-opacity="0.75"/>
<line x1="256.7" y1="305.5" x2="267.7" y2="305.5" stroke="#333" stroke-width="0.6"/>
<line x1="250.2" y1="256.8" x2="262.2" y2="256.8" stroke="#555" stroke-width="0.5"/>
<line x1="250.2" y1="256.8" x2="250.2" y2="258" stroke="#555" stroke-width="0.5"/>
<line x1="262.2" y1="256.8" x2="262.2" y2="258" stroke="#555" stroke-width="0.5"/>
<text x="256.2" y="258.4" font-size="10.5" text-anchor="middle" fill="#222">***</text>
<line x1="281" y1="323.9" x2="281" y2="317.2" stroke="#444" stroke-width="0.4"/>
<line x1="281" y1="309.2" x2="281" y2="297.2" stroke="#444" stroke-width="0.4"/>
<rect x="275.5" y="309.2" width="11" height="8" fill="#929292" stroke="#444" stroke-width="0.4"/>
<path d="M280.2 307.4l 2.2 5.6-1.8-.9 .1-.1 1.1-1.2-4.2-6.3 4.8 9.5 1.5 4.4-1.9-13.1-3.5-.4 4.3 8-2.4 9.3-.7-11.1-1-3.7-.4-1.9 5.7 12.3-4.1-4-2.2 4.6 4.6-7.3-.1-7-1.4-9.3 .8 29.1" fill="none" marker-start="url(#g)" marker-mid="url(#g)" marker-end="url(#g)"/>
<rect x="275.5" y="309.2" width="11" height="8" fill="#929292" stroke="#444" stroke-width="0.4" fill-opacity="0.7"/>
<line x1="275.5" y1="313.2" x2="286.5" y2="313.2" stroke="#333" stroke-width="0.6"/>
<line x1="293" y1="322.4" x2="293" y2="311" stroke="#444" stroke-width="0.4"/>
<line x1="293" y1="300" x2="293" y2="283.5" stroke="#444" stroke-width="0.4"/>
<rect x="287.5" y="300" width="11" height="11" fill="#f2694d" stroke="#555" stroke-width="0.4"/>
<path d="M294.3 317.5l-.2-14.9-.6 8.3-1-.1-2.5-3.7 1.5-10.9 3.3 7.9-1.1 1.1 2.8-3.2-5.4-17.8-.1 4.5-.5 13.6 .7 9.3 3.8-23.2-5.3 17 1.6 1.5-1.9-14.7 1.8 16.5 .4-7.1 4.4 10.4-.5-28.1-5.7 27.6 1.3-14.7-.7 11.7 1.3 .6 3.9 3.9-4.5-5.1-1.6-20.7 5.1 17.3 1.2-1.2-.7 1.6-1.5 14.8-4-18.5 4.9-.6-4.9 3.5 3.9-4.4 2.1 2.7-2.1 11.1 1.1 2.7-1.1-.9 .6 .4-4.3-13.3 2.7 .6 .6 10-3.3 3.3 1.4-1.3 .6-11.3 3.4 .7-4.6 0 4.2-7.9-2.4 11.6 .9-5.4 2 .6-1.5-3.7 .5 12.8-.1-28.6-2.1 19.5 3.1 9.4 .7-13.4-2.8 1.9 1.6 17.8-2.8-15.3 2.4 12.5-2-11.3-.2-5.2 .3 5-1.6 .6 3.2-5.3-4.5-13.6 3.1 22.3-.7 4.5 1.2-21.4-3.1 13 1 1.3 .5 3.6 1.9-8.6-1.8 0 .3-8.4 .2 29.4-.6-15.2-1 1.5 1.2 7.6 1.5-5.7-1.4-1.1-2 11.1 2.6-2.9-.9-12.8 1.1 4-.5-5.8 3.8-4-5 0 4.2-.9 .4 13.9-3.4-9.2-1 .8 0 2.4 5.1 4.8-4.5 11.7 1.9-14.2-2.8-10.1 2.9 17 1.4-15.6-.6-4.7-1.7 9.2-2.3-5.4 .5 3.4-1.5 15.9 1.2-14.6 5.8-7.4-.6 4.1 .6 20.9-1.7-8-.9 1.5 .4-11.5 1 7-3.5-18.5 4.5 17.7-4.6-15.6 3.2-1.5-.5 .9-2.7 16 2.4 1-3.8 9.2 .5-10.7 3.8-4.8 1.6 13.6-.6-11.1-2 3.4-3.3 9.1 1.7-20.2-.1-17.3 .9 41.4" fill="none" marker-start="url(#r)" marker-mid="url(#r)" marker-end="url(#r)"/>
<rect x="287.5" y="300" width="11" height="11" fill="#f2694d" stroke="#555" stroke-width="0.4" fill-opacity="0.75"/>
<line x1="287.5" y1="305.5" x2="298.5" y2="305.5" stroke="#333" stroke-width="0.6"/>
<line x1="281" y1="256.8" x2="293" y2="256.8" stroke="#555" stroke-width="0.5"/>
<line x1="281" y1="256.8" x2="281" y2="258" stroke="#555" stroke-width="0.5"/>
<line x1="293" y1="256.8" x2="293" y2="258" stroke="#555" stroke-width="0.5"/>
<text x="287" y="258.4" font-size="10.5" text-anchor="middle" fill="#222">***</text>
<line x1="311.8" y1="323.3" x2="311.8" y2="312.6" stroke="#444" stroke-width="0.4"/>
<line x1="311.8" y1="305.5" x2="311.8" y2="297.8" stroke="#444" stroke-width="0.4"/>
<rect x="306.3" y="305.5" width="11" height="7.1" fill="#929292" stroke="#444" stroke-width="0.4"/>
<path d="M314.6 305.9l-5 14.4 1.4 3.8 3.4-15.5-3.6 9.3 1.9-12.6-1.1 3.9-2.7-6.1 1.6 11.5 2.7 3-2.9-17.6-1.4 12.7 .8-6.4 1.8-1.7 1.7 4.3-.7-6.3-3.3 8.6 5.7-5.1-2.4 10.4 1.4-3.9-3.2-14.8 .6 26.7" fill="none" marker-start="url(#g)" marker-mid="url(#g)" marker-end="url(#g)"/>
<rect x="306.3" y="305.5" width="11" height="7.1" fill="#929292" stroke="#444" stroke-width="0.4" fill-opacity="0.7"/>
<line x1="306.3" y1="308.6" x2="317.3" y2="308.6" stroke="#333" stroke-width="0.6"/>
<line x1="323.8" y1="326.2" x2="323.8" y2="311" stroke="#444" stroke-width="0.4"/>
<line x1="323.8" y1="300.9" x2="323.8" y2="285.7" stroke="#444" stroke-width="0.4"/>
<rect x="318.3" y="300.9" width="11" height="10.1" fill="#f2694d" stroke="#555" stroke-width="0.4"/>
<path d="M320.4 327.9l 5.8-21.3-.8-6.5-3.5 7.8-1.4-12.7 3.4 9.7 1.9 .4-1.7 6.7-2.8 1.2 .1-3.6-.1 7.8 5.4-7.6-5.7 16.2-.6-27.8 1.6 4 5.1 2.9-4.8-.4-1.1-10.7-.1 29.3 1.4-24.5 1.9 8.6-3.9 7.2 2.4-11.3-2.3 8.3 1.4-12.8 .5 8.5 2.5 6.7-3.8-8.4 4.9-2.1-4.6 13.4 3.7-21.5-3.4 22.2 4.4-5.6-.8-.6 1.6-13.3-2.4 17.7-1.8-17.4 .7 5.8-2.7-2.4 2.5 15-1.6-3.7 2.4-.2-.4-9.1 2 13.2 .9 14.2 .2-30.9 .2 23.8-6.2-15.8 0 2.3 2.7-5.3-.7-1.8 2.6 2.2 1.7-2.2-1.6 .1-3.1 10.9-.6 8 1.8-40.1-.6 30.4 4.2 2-1.2-12.6 .1-22.6-5.1 17.1 1.7 18-1.3 12.6 2.4-32.6 .7 1.5-2.4 16.6 3.7 .2-.4-13.3-1 16.7 1.4-11.6 .3 1.6-.9 2.3-3.6-2.6 4.9-15.4-2.3 2.2 2.2-2.8-2.2 20.8 .8-3 1.6-4.3-5.9 4.7 4.6 2.6-.8-8.8-2.6 4.7 2.1 6.9-1.8-9.5-1.1 12.5 5.9-12.8-3.9-4.1 3.6 5.2-3.8 14.8 4.5-14.5-5-6.9 1.7 8.4 .6-.5-1.6-2.2-.3 10.7 2.2-4.7-4.6 6 3.2-5.1-1.8-9.4 2.6 .4-1.3-3.7 4.2 4.1-4 3.5-1-7.9 3.6 22.7-1.6-18.4-2.1 5.8 4.7 5.8-3.3 17.1-1.2-20.4-1.3-16.5 4.5 7.1-1.1 2.2 2.7 5.5-3.5 11.8-3.4-5.4 3.2-11 .5-9.7 3.1 26.9-6.8-11 .3 2.8 1.2-7.7 1.5-1.7-3.1 7.7 5-8.5 1.7 1.4-.5-2.8-2.3 19.2 .5-41.4-2.3 57.3" fill="none" marker-start="url(#r)" marker-mid="url(#r)" marker-end="url(#r)"/>
<rect x="318.3" y="300.9" width="11" height="10.1" fill="#f2694d" stroke="#555" stroke-width="0.4" fill-opacity="0.75"/>
<line x1="318.3" y1="306.1" x2="329.3" y2="306.1" stroke="#333" stroke-width="0.6"/>
<line x1="311.8" y1="256.8" x2="323.8" y2="256.8" stroke="#555" stroke-width="0.5"/>
<line x1="311.8" y1="256.8" x2="311.8" y2="258" stroke="#555" stroke-width="0.5"/>
<line x1="323.8" y1="256.8" x2="323.8" y2="258" stroke="#555" stroke-width="0.5"/>
<text x="317.8" y="258.4" font-size="10.5" text-anchor="middle" fill="#222">*</text>
<line x1="342.6" y1="318.4" x2="342.6" y2="307" stroke="#444" stroke-width="0.4"/>
<line x1="342.6" y1="298.8" x2="342.6" y2="286.5" stroke="#444" stroke-width="0.4"/>
<rect x="337.1" y="298.8" width="11" height="8.2" fill="#929292" stroke="#444" stroke-width="0.4"/>
<path d="M343.6 295.8l-2.3 1.2-1.6 8.9-.5-.6 3.5-15.4-2.4 19.7 5.5-7.4-4.9-4.9 4.5 11.3-4.7-1.8 3.6-5.6-2.9-9.9-1.4 19.6 .2-12.8 2.6 3.6-2.4-5.1 2.4 2.1 1-5.3-3.7 10.2 4.6-.2-1.3-29.2-2.2 44.2" fill="none" marker-start="url(#g)" marker-mid="url(#g)" marker-end="url(#g)"/>
<rect x="337.1" y="298.8" width="11" height="8.2" fill="#929292" stroke="#444" stroke-width="0.4" fill-opacity="0.7"/>
<line x1="337.1" y1="300.9" x2="348.1" y2="300.9" stroke="#333" stroke-width="0.6"/>
<line x1="354.6" y1="323" x2="354.6" y2="311.6" stroke="#444" stroke-width="0.4"/>
<line x1="354.6" y1="304" x2="354.6" y2="292.6" stroke="#444" stroke-width="0.4"/>
<rect x="349.1" y="304" width="11" height="7.6" fill="#f2694d" stroke="#555" stroke-width="0.4"/>
<path d="M353.4 308.2l .6-5.4 2.1 18.9-3.5-12.1 3-.6 1.3-13.4-1.1 16.7 1.6-4.6-5.4 5.8 3.4-2-3.8-6.3 2.7 2.7 .1-4.6 1.2 0-1.6 1.4-1.8-6.3 .3 10.9-.1-2.7-.7-6.1 3 2.5-3.2-3.8 4.7 4.3-4.3 3.7 5.2 7.1-2.4-15-2.9 .7-.1 5.9 5.1 3.6-5.5 4.9 5.2-6.4-2.9 1.7 4.4-1.8 .1 .1-.5 5.6-.9-12.9-3.1 13.6 2.4 0 1.9-6.2-4.2-6.3 1.7 8.6 2.5 11.8-6.7-12.2 .9 3.6 4.4-5.4 1.3 5.4-5.2-11.5 1.6 8-1.8 3.9 .7 3.5-.5-14.6 3.1 3.7 .9 7.8-4.2-3.9 1.3-3.3 2.5 7.6 .8-8.9-.4-4-1 7.6 2.3 3.6-3.4-5.3 .6 6.5 2.1-13.1-2.7 11.4 2.4-2.1-5.3 1.9 1.9 6 1.3-20.4 2.3 12.3-2.3-4.5-1-3.8-1.5 9.8 .5-7.8 3.1 4-3.1 11.8 5.1-23.8-5.3 18.6 5.6-4.5-4.9-2.9 2.7 2.4 1.7-2.1-5.6 4.1 .6-11.2-.1 19.8 .9-16.8-1 .4 4.8 .6-3.4 10.6 .5-1.1 2.2 1.5-5.5-15.1-.1 11.9 1.6-14.9 2.3 9.1 2.5-11.4-.5 17.3-.2-1.7-2.5-1.2 2.1 6.9 .2-12.9-.5 8-3.1-10 1.7 14.4-.6-5.5-2.4 3.2 1.8-7.8 1.2 7.9-1.5 4.6-1.1-17.6 4.5 18.9-.2-4.4-4.1-1.6-.5-9.1-.1-5.3 2.6 15.4 .8-2.6 .7-1.7-3 3.1-1.3-7.3-.4 2.7 .8 .9 5.7-8.6-3 5.4 1.5 4.7 2.1-1.2-4.6-1.9 .6-4.7-2-.1-.9 6.9 6.8 10.7-4.3-24.8 1.6-32.8-1.9 60.7" fill="none" marker-start="url(#r)" marker-mid="url(#r)" marker-end="url(#r)"/>
<rect x="349.1" y="304" width="11" height="7.6" fill="#f2694d" stroke="#555" stroke-width="0.4" fill-opacity="0.75"/>
<line x1="349.1" y1="308" x2="360.1" y2="308" stroke="#333" stroke-width="0.6"/>
<line x1="342.6" y1="256.8" x2="354.6" y2="256.8" stroke="#555" stroke-width="0.5"/>
<line x1="342.6" y1="256.8" x2="342.6" y2="258" stroke="#555" stroke-width="0.5"/>
<line x1="354.6" y1="256.8" x2="354.6" y2="258" stroke="#555" stroke-width="0.5"/>
<text x="348.6" y="258.4" font-size="10.5" text-anchor="middle" fill="#222">***</text>
<line x1="373.4" y1="322.4" x2="373.4" y2="315.3" stroke="#444" stroke-width="0.4"/>
<line x1="373.4" y1="305.5" x2="373.4" y2="290.8" stroke="#444" stroke-width="0.4"/>
<rect x="367.9" y="305.5" width="11" height="9.8" fill="#929292" stroke="#444" stroke-width="0.4"/>
<path d="M372.2 309.9l 3.3 0-2.2-6.4 .4 4.9 2.7 4.2-3.4 5.5-2.2-9.4 2.2 12-1.8-17.5 1.9 3.3-2.1-1.6 3.1-14.1-.6 30 .6-20.3-2.2 .8 4.5 10.9-.4 8.4-2-18.1-3.8 7.5 6.5-15.1-4.9-12.4 .4 39.9" fill="none" marker-start="url(#g)" marker-mid="url(#g)" marker-end="url(#g)"/>
<rect x="367.9" y="305.5" width="11" height="9.8" fill="#929292" stroke="#444" stroke-width="0.4" fill-opacity="0.7"/>
<line x1="367.9" y1="309.5" x2="378.9" y2="309.5" stroke="#333" stroke-width="0.6"/>
<line x1="385.4" y1="325.4" x2="385.4" y2="311.6" stroke="#444" stroke-width="0.4"/>
<line x1="385.4" y1="300.9" x2="385.4" y2="284.8" stroke="#444" stroke-width="0.4"/>
<rect x="379.9" y="300.9" width="11" height="10.7" fill="#f2694d" stroke="#555" stroke-width="0.4"/>
<path d="M385.3 306.4l-2.7-18.5 .1 3.4-.7-1.3 2.5 17.7-1.4-3.9-.8-6.9 3.4 9.9 1-11.6-2.3 11.6 4-9.9-3.3 23.2 .5-6.8-1.6-7.3 4.2-1.3-.4 4.3-3.9 2-1.9-3.3 5-19.3-1.6 18-1.3 7.4-.4-8.7-1-7.2 2.6 2.1 1 24.4 1.7-22.2-1.2-6.7-3.5 11.5 .6-9.9 1.5 3-2.8 11.7 2.4 6.1-2.5-1.1 5.2-6.8-3.7 12.5 4.7-14.5-2.1-4.3-3 6.9 .1-.5 2.4-13.6-3.7 10.8 1.1 5.8 1.3-6 .2 4.3 1.7-14.9-.5 3.1-3.4-11.1 1 20.9 4.3-1.8-2.3-16.2 2.7 24.3-4.7-2.9 1-11.4-.4 14.6-2.4-12.7 2.8-12.7 2.7 29.3-.4 3.3-1.7-30 2.2 6.2-1.1 6.6 .3-3-1.7 8.5-1.5 .7 1.5-2-3.2-.8 1.9-.8-.2-11.6 3.3 4.1-2 16.3 2.7-13.9-.6-9-2.7 11.8-1.7-2.2 5.9 4.6-4.2-7.4-1.2 12.9 1.3 3.4 1.1-23.5 1.1 16.8-.3 1.5-1.4-29.3 2.9 14.6-2.1 8.6 1.1-5.8 1.4-10.3 0 2.4-2.9 17.5-2.4-.8 5-9.9-1.8-15.4-2.4 14.7-.1 21.5-.6-.6 2.9-27.8-3.8 11.8 2 5.2 4.3-16.1-5.9-2.2 1.5 16.1 2.9 0-.1-14.3-4.7 31.5 1.4-14.6-1-6.6 2.4 13.6-.6-4.8-1.7 1 .6-5.6 5-2.8-4.2-16.1 1.5 30.5 3.4-21.5-4.2 7.6-.4 4.8 3.6-13.6-1.8 11.8 1.1-2.1-.2-8.6-4.1 8.9 5.1-5.6-.5 7-1.8-13.7 .8 22.4 0-8.6 2.5 14.5-1.6-16.3-3.7 9.9-.7-7.5 4-19.4-2.4-5.9-.1 42.9" fill="none" marker-start="url(#r)" marker-mid="url(#r)" marker-end="url(#r)"/>
<rect x="379.9" y="300.9" width="11" height="10.7" fill="#f2694d" stroke="#555" stroke-width="0.4" fill-opacity="0.75"/>
<line x1="379.9" y1="306.1" x2="390.9" y2="306.1" stroke="#333" stroke-width="0.6"/>
<line x1="404.2" y1="306.1" x2="404.2" y2="299.4" stroke="#444" stroke-width="0.4"/>
<line x1="404.2" y1="294.8" x2="404.2" y2="287.9" stroke="#444" stroke-width="0.4"/>
<rect x="398.7" y="294.8" width="11" height="4.6" fill="#929292" stroke="#444" stroke-width="0.4"/>
<path d="M405.2 292.8l-1.8 9.6-1.3-8.4 4.7-3.6-.1 1-4.5 4.8-1.4-5.3 2.6 7.2 .8-5.3 2.4 3-3.9 5.8-1.4-.6 2.6-6.1-2 2.5 5.8-2.5-5.5 2.7 3.2-5.7-3.8 6.8-.3 .4 2.4-5.3 1-8.2-1.1 20.5" fill="none" marker-start="url(#g)" marker-mid="url(#g)" marker-end="url(#g)"/>
<rect x="398.7" y="294.8" width="11" height="4.6" fill="#929292" stroke="#444" stroke-width="0.4" fill-opacity="0.7"/>
<line x1="398.7" y1="296.9" x2="409.7" y2="296.9" stroke="#333" stroke-width="0.6"/>
<line x1="416.2" y1="323.9" x2="416.2" y2="314.1" stroke="#444" stroke-width="0.4"/>
<line x1="416.2" y1="304" x2="416.2" y2="288.8" stroke="#444" stroke-width="0.4"/>
<rect x="410.7" y="304" width="11" height="10.1" fill="#f2694d" stroke="#555" stroke-width="0.4"/>
<path d="M418.5 307.6l .8-6.4-3.7 8.7 .8-4.1 .4-1.3-3.3 7.8 6.3 .7-4.4 3.4 1.9 4.8 1.9-15.3-3.2-9.5 2.3 5.2 1 7.3-6.5-.6 5.2-1.8-2.3-.5-1.3 13.4 4.7 1.7-3.3-20.7 2.3 15.5-3.8-13.6 .7 14.5-.4-3.1 3-.8 2-1.3-2.4 .9 .9 10.9-1.1-6-3.4 1.5-.9-12.8 3.9 10.6 2-2.9-5.3-2.2 1.9-1.6-2.3 12.4 4-19.7-2 8.5-.5 3 .7-7.3 1.8 7.6-2.3-18.7-1.8 7.5 1.3-1.4 1.4 3.4 2.3 14.3-4.9-14.9 5.9-8.9-.7 9.2-5.4 11.6 6.6-6.8 .1-10.8-2.1 9.5-3.9-3.5 1.4-.4-1.8 6.1 1.4-5.8 3.8 2.8 .6-2.1-1.6 13.9-2.8-2.5-.5-26.5 1 17.4-.7 4 4.6-4.9-4.6 15.2 3.9-3.2-1.4-3.3-.1 .2 1.1-5.8 1-3.2-.4-4.5-2.6 5.3 2.4-.2 .4 15.9-5.7-16.3 3.8 1.6-3 11.6 4.6-9-4 10.4 5.6-11.5-1.1-11.8-4.1 11.9-1.7 5.4 1.7-8.4-1.5-6.5 6 16.4 .6-6.1-6.7-16.5 .9 7.4 1.7-9 .4 21.7 .9-2.9 1.1-8.9-4.8 2 3.9 9.4-2.2-10.6 0 8-1.2 5.1 .5-.1 3.5-24.6 1.7 20.4-2.3-11.3-.5 20.9 .7-2.9 2-17.8-6.6 3.3 5.1 5 1.8-18.4-5.2 20.6-1.6 .2 .5 7.2 2.5-4.2-1.8-3.3 4.6-8.7-2.1-7.9 1.3 13.8-2.9-15.7-.5 1 .8 7-1.8 18.9 2.4-10.8 3.2 .8-4 2.3 1.8 9.7-.7-17.3-2.1-5.6 2.5-3.4-2.3 12 4.1 6.2-4.4 2.9 1-31.4 .5 38.3" fill="none" marker-start="url(#r)" marker-mid="url(#r)" marker-end="url(#r)"/>
<rect x="410.7" y="304" width="11" height="10.1" fill="#f2694d" stroke="#555" stroke-width="0.4" fill-opacity="0.75"/>
<line x1="410.7" y1="308.6" x2="421.7" y2="308.6" stroke="#333" stroke-width="0.6"/>
<line x1="404.2" y1="256.8" x2="416.2" y2="256.8" stroke="#555" stroke-width="0.5"/>
<line x1="404.2" y1="256.8" x2="404.2" y2="258" stroke="#555" stroke-width="0.5"/>
<line x1="416.2" y1="256.8" x2="416.2" y2="258" stroke="#555" stroke-width="0.5"/>
<text x="410.2" y="258.4" font-size="10.5" text-anchor="middle" fill="#222">***</text>
<line x1="102.2" y1="340.8" x2="102.2" y2="342.8" stroke="#444" stroke-width="0.6"/>
<text x="113.2" y="347.8" font-size="7.3" text-anchor="end" fill="#222" transform="rotate(-45 113.2 347.8)">HDAC1</text>
<line x1="133" y1="340.8" x2="133" y2="342.8" stroke="#444" stroke-width="0.6"/>
<text x="144" y="347.8" font-size="7.3" text-anchor="end" fill="#222" transform="rotate(-45 144 347.8)">HDAC2</text>
<line x1="163.8" y1="340.8" x2="163.8" y2="342.8" stroke="#444" stroke-width="0.6"/>
<text x="174.8" y="347.8" font-size="7.3" text-anchor="end" fill="#222" transform="rotate(-45 174.8 347.8)">HDAC3</text>
<line x1="194.6" y1="340.8" x2="194.6" y2="342.8" stroke="#444" stroke-width="0.6"/>
<text x="205.6" y="347.8" font-size="7.3" text-anchor="end" fill="#222" transform="rotate(-45 205.6 347.8)">HDAC4</text>
<line x1="225.4" y1="340.8" x2="225.4" y2="342.8" stroke="#444" stroke-width="0.6"/>
<text x="236.4" y="347.8" font-size="7.3" text-anchor="end" fill="#222" transform="rotate(-45 236.4 347.8)">HDAC5</text>
<line x1="256.2" y1="340.8" x2="256.2" y2="342.8" stroke="#444" stroke-width="0.6"/>
<text x="267.2" y="347.8" font-size="7.3" text-anchor="end" fill="#222" transform="rotate(-45 267.2 347.8)">HDAC6</text>
<line x1="287" y1="340.8" x2="287" y2="342.8" stroke="#444" stroke-width="0.6"/>
<text x="298" y="347.8" font-size="7.3" text-anchor="end" fill="#222" transform="rotate(-45 298 347.8)">HDAC7</text>
<line x1="317.8" y1="340.8" x2="317.8" y2="342.8" stroke="#444" stroke-width="0.6"/>
<text x="328.8" y="347.8" font-size="7.3" text-anchor="end" fill="#222" transform="rotate(-45 328.8 347.8)">HDAC8</text>
<line x1="348.6" y1="340.8" x2="348.6" y2="342.8" stroke="#444" stroke-width="0.6"/>
<text x="359.6" y="347.8" font-size="7.3" text-anchor="end" fill="#222" transform="rotate(-45 359.6 347.8)">HDAC9</text>
<line x1="379.4" y1="340.8" x2="379.4" y2="342.8" stroke="#444" stroke-width="0.6"/>
<text x="390.4" y="347.8" font-size="7.3" text-anchor="end" fill="#222" transform="rotate(-45 390.4 347.8)">HDAC10</text>
<line x1="410.2" y1="340.8" x2="410.2" y2="342.8" stroke="#444" stroke-width="0.6"/>
<text x="421.2" y="347.8" font-size="7.3" text-anchor="end" fill="#222" transform="rotate(-45 421.2 347.8)">HDAC11</text>
<line x1="451.2" y1="253" x2="451.2" y2="344.4" stroke="#444" stroke-width="0.7"/>
<line x1="451.2" y1="344.4" x2="512" y2="344.4" stroke="#444" stroke-width="0.7"/>
<line x1="449.2" y1="268.2" x2="451.2" y2="268.2" stroke="#444" stroke-width="0.6"/>
<text x="448.2" y="271.2" font-size="8.5" text-anchor="end" fill="#222">5.0</text>
<line x1="449.2" y1="291.8" x2="451.2" y2="291.8" stroke="#444" stroke-width="0.6"/>
<text x="448.2" y="294.8" font-size="8.5" text-anchor="end" fill="#222">2.5</text>
<line x1="449.2" y1="315.4" x2="451.2" y2="315.4" stroke="#444" stroke-width="0.6"/>
<text x="448.2" y="318.4" font-size="8.5" text-anchor="end" fill="#222">0.0</text>
<line x1="449.2" y1="339" x2="451.2" y2="339" stroke="#444" stroke-width="0.6"/>
<text x="448.2" y="342" font-size="8.5" text-anchor="end" fill="#222">-2.5</text>
<line x1="462.5" y1="320.5" x2="462.5" y2="317.4" stroke="#444" stroke-width="0.4"/>
<line x1="462.5" y1="310.8" x2="462.5" y2="303.8" stroke="#444" stroke-width="0.4"/>
<rect x="457" y="310.8" width="11" height="6.6" fill="#929292" stroke="#444" stroke-width="0.4"/>
<path d="M461.6 311.1l .8 7.5 1-9.7-1.3 7-2.6 2.5 3.7-7.4-2.3 9.4-.8-.3-1.1-3.4 6.6-5.3-.6-1.9-4.1 3 .7-.1-1.3-5.7 .3 9.6-.8 2.8 .8-4.8 0 .5-1.3-8.7 3.5 7 .9-9.3-2.2 16.7" fill="none" marker-start="url(#g)" marker-mid="url(#g)" marker-end="url(#g)"/>
<rect x="457" y="310.8" width="11" height="6.6" fill="#929292" stroke="#444" stroke-width="0.4" fill-opacity="0.7"/>
<line x1="457" y1="313.5" x2="468" y2="313.5" stroke="#333" stroke-width="0.6"/>
<line x1="474.5" y1="333.6" x2="474.5" y2="321.2" stroke="#444" stroke-width="0.4"/>
<line x1="474.5" y1="311.6" x2="474.5" y2="297.2" stroke="#444" stroke-width="0.4"/>
<rect x="469" y="311.6" width="11" height="9.6" fill="#f2694d" stroke="#555" stroke-width="0.4"/>
<path d="M475 307.3l-1.7-.7 .7-2.5 2.5 11.2-2.6 .8-2.4-13.5 3.5 16.8-4.2 2.9 4-7.8-2.8 6 1.3-3 3.3-4 1.6 6.8-.5-11.1-5.8 .2 4.2 4-3.9 13.8-.3-6.6-1.1-10.5 .7 .7 5.3 7.4-1.3-9.9-.2 15.4-2.9-7.4 1.6-5.5 4.6 16.1-2.8-10.4 .3 1.7-4.3 0 2.5-5.4-2.8 2.6-.8 5-.2-8.2 .6 5.9 2.1-5.3 3.9-7.9 1 19.5-7.4-5.8 2.5 3.1-2.3 2 4.3 .2-1.4-19.9 1.3 3.2-2.1 5.6-.7 7.3 2.9-13-2.2 10.8 1.9-11.2 2.8 7.6-4-2.9 3-3.8-5 13.4-1.3-1 3.6 4.9-.6-4.9 4.4 .1-2.1-9-1.1 .8 1.6 13.1 .9-8.7-2.5 1.4-1.1-1.8 .5-13.9 .9 19.3 .3-4.2-.5-17.4-2.8 22.9 4.9-1.7-1.6-6.8 2.4-1.8-4.2 8.5 1.4-11.1 2.7-12.8 .3 30.2 .4-7-4.9-3.9 .3-.8-1.5 11.9-1.1-6 2.6-5.9 .5 7.5-.4-19.9 3 22.6-4.6 1.8 1.2-19.6-1.1-6.7 1.4 14.7-3.3-11 1.6 5.7 2.4 17.1-2.9-10.4 4.6-8.5 1.9 3.1-4.5-5.9 4.1 1.3-4.4 8.4 4.1 1-.7 7.4 2.1-2-5.5 8.1 2.4-10.8-3.3-15.3 .9 28.7 4.1-16.4-.7 9.7-.1-22.6 1.6 21.1-.3-26-6.6 9.7 .7 24.6 6.5-9.7-5.2-14.5 4.6 11.9-.6-2.4-6.5-12.6 7.6 15.9-3.8-6.3-.1 6.4-2.5-18.3 5.2 14 .8-4.8-1.3 11.1-2.6-9.3-.7-12.4-1.4-1.3 4.4 13.5 .1-17.2 1.7 22.5-5.6-10.9-.4 12.5 3.6-6.9-.5 7.4 3.3-6.3-3.7-12.5-.4 6.1-1.1 .8 1.4 4-.6 9.5 4.6-18.4-3.4 8 .2 10.7-.2-7.5-2.9-8.2 6.2 11.4-4.2 10.4-1.1-6.5-.1-13.6 2.8-.6-.9 3.5-4.5 .2 4.6-55-2.6 76.2" fill="none" marker-start="url(#r)" marker-mid="url(#r)" marker-end="url(#r)"/>
<rect x="469" y="311.6" width="11" height="9.6" fill="#f2694d" stroke="#555" stroke-width="0.4" fill-opacity="0.75"/>
<line x1="469" y1="316.2" x2="480" y2="316.2" stroke="#333" stroke-width="0.6"/>
<line x1="490" y1="325.9" x2="490" y2="323.2" stroke="#444" stroke-width="0.4"/>
<line x1="490" y1="309.6" x2="490" y2="298" stroke="#444" stroke-width="0.4"/>
<rect x="484.5" y="309.6" width="11" height="13.6" fill="#929292" stroke="#444" stroke-width="0.4"/>
<path d="M490.1 314.3l-1.3-2.4 0 10 2.2-4.4 2.2-8.2-2 2.8-2.2 2.1 .3-4.4-1.1 1.2 .9-7.8 2.7-4.3-2.8 16.1-.3-1.5 1.7-14.4 2.9 16.6-4-5 3.5 11.3-5.1-4.1 .5-5.7-.5 6.5 3.5-20.7 .3 27.9" fill="none" marker-start="url(#g)" marker-mid="url(#g)" marker-end="url(#g)"/>
<rect x="484.5" y="309.6" width="11" height="13.6" fill="#929292" stroke="#444" stroke-width="0.4" fill-opacity="0.7"/>
<line x1="484.5" y1="315.4" x2="495.5" y2="315.4" stroke="#333" stroke-width="0.6"/>
<line x1="502" y1="337.4" x2="502" y2="321.2" stroke="#444" stroke-width="0.4"/>
<line x1="502" y1="310.4" x2="502" y2="294.2" stroke="#444" stroke-width="0.4"/>
<rect x="496.5" y="310.4" width="11" height="10.8" fill="#f2694d" stroke="#555" stroke-width="0.4"/>
<path d="M504.6 301.5l-4.6 4.1 5.6 23.7-5.2-8.1 4.3 1.3-2.4-6.1-2-12.3 3.6 8.9 1.9 .9-3.1-8.4-1.7 12.7 .9 2.9 1.7-8.5-4.8 2.6 4.8-7.7-5.6 20 7.2 .1 .1-7.9-1-14.3-5.7 6.7 .2-3 4.9 17.7 2-3.6-.7-14.3-.6 12.4 1.4-4.6-4.5-1.5 1 2.1 1.8-7.9-5.6 3.3 7-11.2-3 29.9 .5-10.2 1.2-3-4.3 13.2 5.1-7.4-5.2-12.7-1.7-.3 .9 8.9 2.9 1.9-3.2 2.7 3.5 2.2-2.1-17.8 1.3-11.1 .6 27.6 3-1.8-6.6-12.5 1.7 3.1-1.6-3.3 6 18.8-2.5-27.5 3.4 21.7-1.5-1.3 1.9-6.9-2-2-.8 .7-5.1 11 .4-9.8 2.2-7-1.4-7.3 3.4 13.1-2.4 7.5-.4-5.1 3.3-2.2-1.9-2.8-.9 4.8 3 .8 .3-8.5-1.2 4.1-3.6 3.8 .6-.1 6.5 19.6-7.7-19.6 6.7 .7-4.1 3.8 0-10.2 1-.8 1.6-.6 0 5 0 5.7 1.6 4.9-2.1-9.6-3.3-11.6 1.6-11 1.6 34.2 2.4 4-1.3-20.4-3.7-2.4 4.2-5.9-4.4 12.6 3.2 .6-4.5-11.8 4.5 7.5 1.4 3.3-1.5-6.6-.5 13.8 1.1 11-2.9-19.8-1 15.3 4-8.3-5.4-15.2 3.5-4.4-1.8 10.4 4.8 11.6-6-18.3 3.7 14.4-1.9-6.4-.6-.3 6.1 0-5 2.3 3 3.4 1.3-3.3-2.4-7.2-2.6 11.6 2.8-2.8-1.2 19.9 2-36.3-3.8 20-1.9-7.7 3 12.3-.7 1.5-.1-1.2-.8-7.6 5.5 5.4-4.7-17.9 5.3 14.3-2.3-7.8-5.7 1.3 1.8 18.4 1.8-15.6 3 13.9-1.7-21.9 0 12.9-3.6 8.2 6.4-2.1-4.9-6.6 4.6-6.7 .1-.5-1.3-1.3-2.6 18.5-1.2-11.8-1.4-4 .9 8.9 3.6-20.3-2 1.4 1.3 11-1.7-6.6-1.7 4.5 .5-8.6 3-.9-1.1-22.3-.9 60.8" fill="none" marker-start="url(#r)" marker-mid="url(#r)" marker-end="url(#r)"/>
<rect x="496.5" y="310.4" width="11" height="10.8" fill="#f2694d" stroke="#555" stroke-width="0.4" fill-opacity="0.75"/>
<line x1="496.5" y1="315.4" x2="507.5" y2="315.4" stroke="#333" stroke-width="0.6"/>
<line x1="468.5" y1="344.4" x2="468.5" y2="346.4" stroke="#444" stroke-width="0.6"/>
<text x="479.5" y="351.4" font-size="7.3" text-anchor="end" fill="#222" transform="rotate(-45 479.5 351.4)">MAOA</text>
<line x1="496" y1="344.4" x2="496" y2="346.4" stroke="#444" stroke-width="0.6"/>
<text x="507" y="351.4" font-size="7.3" text-anchor="end" fill="#222" transform="rotate(-45 507 351.4)">MAOB</text>
<line x1="525.6" y1="253.5" x2="525.6" y2="343.7" stroke="#444" stroke-width="0.7"/>
<line x1="525.6" y1="343.7" x2="592.1" y2="343.7" stroke="#444" stroke-width="0.7"/>
<line x1="523.6" y1="257.4" x2="525.6" y2="257.4" stroke="#444" stroke-width="0.6"/>
<text x="522.6" y="260.4" font-size="8.5" text-anchor="end" fill="#222">4</text>
<line x1="523.6" y1="281" x2="525.6" y2="281" stroke="#444" stroke-width="0.6"/>
<text x="522.6" y="284" font-size="8.5" text-anchor="end" fill="#222">2</text>
<line x1="523.6" y1="304.6" x2="525.6" y2="304.6" stroke="#444" stroke-width="0.6"/>
<text x="522.6" y="307.6" font-size="8.5" text-anchor="end" fill="#222">0</text>
<line x1="523.6" y1="328.2" x2="525.6" y2="328.2" stroke="#444" stroke-width="0.6"/>
<text x="522.6" y="331.2" font-size="8.5" text-anchor="end" fill="#222">2</text>
<line x1="538.6" y1="313.5" x2="538.6" y2="305" stroke="#444" stroke-width="0.4"/>
<line x1="538.6" y1="294.2" x2="538.6" y2="288.4" stroke="#444" stroke-width="0.4"/>
<rect x="533.1" y="294.2" width="11" height="10.8" fill="#929292" stroke="#444" stroke-width="0.4"/>
<path d="M540.3 301.1l-4.3-1.3 .5-3.2 2.7 13 .6-17.3-.2 7.6 .9 6.8-1-10.4-2.2 .2 .8 1.2 2.8 5.1-5-2.8 2.9-7.5-1 3.8-.8 1.5 4.7 11.1-1.4-14.7-4.1 5.8 5.4-1.8-1-1.2-.7-8.6-.9 25.1" fill="none" marker-start="url(#g)" marker-mid="url(#g)" marker-end="url(#g)"/>
<rect x="533.1" y="294.2" width="11" height="10.8" fill="#929292" stroke="#444" stroke-width="0.4" fill-opacity="0.7"/>
<line x1="533.1" y1="298.8" x2="544.1" y2="298.8" stroke="#333" stroke-width="0.6"/>
<line x1="550.6" y1="332.8" x2="550.6" y2="313.5" stroke="#444" stroke-width="0.4"/>
<line x1="550.6" y1="297.3" x2="550.6" y2="273" stroke="#444" stroke-width="0.4"/>
<rect x="545.1" y="297.3" width="11" height="16.2" fill="#f2694d" stroke="#555" stroke-width="0.4"/>
<path d="M549.6 323l-.1-32.1 .1 31 4.6-43.6-5 32.5-.5-26.3 1.6 15.3-2 25.5-.3-5.1-.2 4.8 2-24.5-1.7 3.6 2.4 12-.2-24.7 4 40-7.8-23.3 7-25.4 .9 12.7-6.8 33.3 7.2-39.9-1 35.9-5.2-21.6 1.8-4.1 4.3 8.7-5.7-6.9-.8-10.5 2.3 4.4 .7 15.1-1.3-20.1 .7 25.7 3.3-36.8-2.6 28.8-3.5-1.8 1.2-12.3 5.1 26.8-2.3 2.9 1.1-16.6-1.7 5.8 1.5 19.5 .3-35.9-5.3-5 4.1 4.4-4.1 23.9 6.8-17.3-4.1 26.7 3.6 2.2-6-37.3 5.2-3.6 .2 28.7-6.8 1.6 2.4-.9-1.5 1.4 4.4-10.3-2.8-26.4 5.6 34.8-4.1-9.5 0-.3-2.7-2.1 .6-4.4 3.5-20.8-3.6 33.7 2.7-28.2-3.8 33.2 2.9-17.3-1.9 4.4 5.4-6.4-6.6 15.9 2.9-5.7 .1-2.3-1.4 16.3-1.2-29.6 .8-15.5 4.5 17.2 1.6-15.1-6.5 48.9 1.8-19.8 1.1-23.6 .3 30.4-.5-22-3.3 31.9 6.7-19.4-5.5 14.3 3.7-17.1 1.1-16.9 1.4-.1-4.2 23.6 3.7-.7-3.4-14.2-1.7 13.2 1.1 16.4 3.3-10.2-6.1-2 6.1-2.3-6.7-25.4 3.3 24-1.7-22.6 6.3 30.3-4.3-21.8-1.1 22.5 4.8-10.9 .5-2.3-6.6-7 1.1 .7-.3 17.2 .3-9.6 5.7 6.5-5.8-24.2 3.5 36.2 .8-11.2-6.1-27.6 5.3 35.9-.9-24.6-1.3-10.4 1.2 2.5 2 20.9-3.8-15.8-1.9 24.2 6-15.5-7-1.1 3.2 12.6-1.1 8.8 2.9-51.7-2.4 34.2-2.2 7.4 5.4-13.1-2.9 11.3 2.4-31.3 2.2 26-.8 7.9-1.1 5.9-3-22.4 3.3-19.3 1.6 44.2-.2-10.7 .1 3.3-5.6 .5 3.8-38.2-5.9 38.1 3.5-2.6 2-4.5 .1 8.4-3.1 10.4 .2-45.4 4.3 12.5-.4 14.3-4.2-15.4-.2-6.8 6 17.5-7.1-6.5 6.5 12.2-4.9-49.8 3.2 71.5" fill="none" marker-start="url(#r)" marker-mid="url(#r)" marker-end="url(#r)"/>
<rect x="545.1" y="297.3" width="11" height="16.2" fill="#f2694d" stroke="#555" stroke-width="0.4" fill-opacity="0.75"/>
<line x1="545.1" y1="305" x2="556.1" y2="305" stroke="#333" stroke-width="0.6"/>
<line x1="538.6" y1="256.3" x2="550.6" y2="256.3" stroke="#555" stroke-width="0.5"/>
<line x1="538.6" y1="256.3" x2="538.6" y2="257.5" stroke="#555" stroke-width="0.5"/>
<line x1="550.6" y1="256.3" x2="550.6" y2="257.5" stroke="#555" stroke-width="0.5"/>
<text x="544.6" y="257.9" font-size="10.5" text-anchor="middle" fill="#222">**</text>
<line x1="568.7" y1="332.8" x2="568.7" y2="321.2" stroke="#444" stroke-width="0.4"/>
<line x1="568.7" y1="312.7" x2="568.7" y2="308.9" stroke="#444" stroke-width="0.4"/>
<rect x="563.2" y="312.7" width="11" height="8.5" fill="#929292" stroke="#444" stroke-width="0.4"/>
<path d="M568.8 328.4l-2-5.4 2.9 0 .2 6.2 .4-19.5-1.6 16.3-2.1-16.1 2.4 9.1-.8 7.3-.1-14.6 1.3 5-3.5 .1 4.7 1.9-3.5 6 .2-8.5 3.9-4.8-2.1 9.8-3.7 8.5 .7-11.4 2.4-7.5 1.9-1.9-2.2 23.9" fill="none" marker-start="url(#g)" marker-mid="url(#g)" marker-end="url(#g)"/>
<rect x="563.2" y="312.7" width="11" height="8.5" fill="#929292" stroke="#444" stroke-width="0.4" fill-opacity="0.7"/>
<line x1="563.2" y1="316.6" x2="574.2" y2="316.6" stroke="#333" stroke-width="0.6"/>
<line x1="580.7" y1="329.8" x2="580.7" y2="309.5" stroke="#444" stroke-width="0.4"/>
<line x1="580.7" y1="296" x2="580.7" y2="284.5" stroke="#444" stroke-width="0.4"/>
<rect x="575.2" y="296" width="11" height="13.5" fill="#f2694d" stroke="#555" stroke-width="0.4"/>
<path d="M584 310l-6.2-14.5 3.6 23.3-4.5-18.7 7.7 .2-5.5-6.5 5.7 10.9-3.8-9.7 2.1 10.1-.5 20.5-.8-32.6 1.8 11.1-6.6-5.1 4-7.8 1.1 11.5-3-2.9-.2 .2-.8-7.8 .3 12.8-.1-3.2 5.7 15.2-.1-20.6-5.8 4.6-.2-7.9 .9-.6-1.4 4.3 6.2-1.2-5.4 6-1.7-3.7 1.3-4.1 4.8-4.3-1.1 5.2 3.2 5.2-1.6-4.8 .2 6.7-.3-.3-1.2 17-1.2-21.3-.9 3 3.9-9.4-4 13.8 3.9 3.1-2.7-2.2 4-18.9-4.8 32.9-2.6-12.5 6.4 1.3-1.8-10.2 1.6-7.4-3.2 16.9 1.5-7.3-1.6-13-.4 18.1-.9-15.2 1 5.2 .5 6.4-2-7.8 .9 7.8 5.2-1.9-1.9-1.4-2-6.2-3.8 12.7 2-1.5 5.1 13.4-2.3-21.7 .3 9.5-3.7-14.4 1.6 11.5-.9 7.7 .2-11.7 2.4 .8-1.5 7.5 4.2-7.5-2.2 .1-2.1 3.2-1-6.7-1.2 16-.2-3 3.6-9.2-4.3 12.3 2.3 4.4-1.4-25.2 1.2 9.2-1.8-2 6.4 32.4-1.8-45.3 1.3 10.5 1.3 19.6-5.8-29.9-1.1 39 6.4-25.6 .8-.8-3.8 5.7-3.9-11.2 1.1 15.5 1.4-1.2-.2 3.1 2.6-11-1.3 5.9 3.5-11.7-1.1 1.2 .7-4-3.5 6.8-3.2-9.1 3.7 20.3 2.4 14.9-5.6-9.4 3.6-8.8-1.2 12.4 0-23.4-3 11.4-.2 3.2 1.8-4.3 3 0 3.3 6.8-3.6-16.2-4.6 7.2 5.7-5.3-2.7 8.6 5-10.6-5.8 8.8 .4 4.4-1.1 1.4-1.5-12.5 7.9-7.5 .3 28.2-3.7-.7-2.9-15.9 5-1.3-4.5-.8-1.6-3.5 2.3 9.8 1.9-20.2-.3 6.9-4.4 9 1.3-5.7 4.3-8.5 .8 20.3-3.5-15.3 3.5 26.1 1-31.9-6 14.3-1-9.9 6 10.7-5.4 2.2 5.4 4.2-2.4-9.4-1.1-6.9-.6 6.6 5.6 3.3-4.5-16.1 1.5 55.3" fill="none" marker-start="url(#r)" marker-mid="url(#r)" marker-end="url(#r)"/>
<rect x="575.2" y="296" width="11" height="13.5" fill="#f2694d" stroke="#555" stroke-width="0.4" fill-opacity="0.75"/>
<line x1="575.2" y1="300.5" x2="586.2" y2="300.5" stroke="#333" stroke-width="0.6"/>
<line x1="568.7" y1="256.3" x2="580.7" y2="256.3" stroke="#555" stroke-width="0.5"/>
<line x1="568.7" y1="256.3" x2="568.7" y2="257.5" stroke="#555" stroke-width="0.5"/>
<line x1="580.7" y1="256.3" x2="580.7" y2="257.5" stroke="#555" stroke-width="0.5"/>
<text x="574.7" y="257.9" font-size="10.5" text-anchor="middle" fill="#222">***</text>
<line x1="544.6" y1="343.7" x2="544.6" y2="345.7" stroke="#444" stroke-width="0.6"/>
<text x="555.6" y="350.7" font-size="7.3" text-anchor="end" fill="#222" transform="rotate(-45 555.6 350.7)">ACHE</text>
<line x1="574.7" y1="343.7" x2="574.7" y2="345.7" stroke="#444" stroke-width="0.6"/>
<text x="585.7" y="350.7" font-size="7.3" text-anchor="end" fill="#222" transform="rotate(-45 585.7 350.7)">BCHE</text>
<text x="16.5" y="368" font-size="19.5" font-weight="bold">D</text>
<rect x="12.3" y="413.8" width="39.6" height="18.5" fill="#e2efda"/>
<text x="32.1" y="426" font-size="8.1" text-anchor="middle">TCGA</text>
<line x1="72.5" y1="389.1" x2="72.5" y2="446.8" stroke="#333" stroke-width="0.6"/>
<line x1="72.5" y1="446.8" x2="144" y2="446.8" stroke="#333" stroke-width="0.6"/>
<line x1="71.3" y1="390.9" x2="72.5" y2="390.9" stroke="#333" stroke-width="0.4"/>
<text x="70.8" y="392.2" font-size="3.7" text-anchor="end" fill="#222">1.00</text>
<line x1="71.3" y1="404.3" x2="72.5" y2="404.3" stroke="#333" stroke-width="0.4"/>
<text x="70.8" y="405.6" font-size="3.7" text-anchor="end" fill="#222">0.75</text>
<line x1="71.3" y1="417.7" x2="72.5" y2="417.7" stroke="#333" stroke-width="0.4"/>
<text x="70.8" y="419" font-size="3.7" text-anchor="end" fill="#222">0.50</text>
<line x1="71.3" y1="431" x2="72.5" y2="431" stroke="#333" stroke-width="0.4"/>
<text x="70.8" y="432.3" font-size="3.7" text-anchor="end" fill="#222">0.25</text>
<line x1="71.3" y1="444.4" x2="72.5" y2="444.4" stroke="#333" stroke-width="0.4"/>
<text x="70.8" y="445.7" font-size="3.7" text-anchor="end" fill="#222">0.00</text>
<line x1="75.5" y1="446.8" x2="75.5" y2="448" stroke="#333" stroke-width="0.4"/>
<text x="75.5" y="451.4" font-size="3.6" text-anchor="middle" fill="#333">0</text>
<line x1="91.7" y1="446.8" x2="91.7" y2="448" stroke="#333" stroke-width="0.4"/>
<text x="91.7" y="451.4" font-size="3.6" text-anchor="middle" fill="#333">20</text>
<line x1="107.9" y1="446.8" x2="107.9" y2="448" stroke="#333" stroke-width="0.4"/>
<text x="107.9" y="451.4" font-size="3.6" text-anchor="middle" fill="#333">40</text>
<line x1="124.1" y1="446.8" x2="124.1" y2="448" stroke="#333" stroke-width="0.4"/>
<text x="124.1" y="451.4" font-size="3.6" text-anchor="middle" fill="#333">60</text>
<line x1="140.3" y1="446.8" x2="140.3" y2="448" stroke="#333" stroke-width="0.4"/>
<text x="140.3" y="451.4" font-size="3.6" text-anchor="middle" fill="#333">80</text>
<text x="107.5" y="456.1" font-size="4.9" text-anchor="middle" fill="#111">Time</text>
<text x="61.3" y="418.1" font-size="4.7" text-anchor="middle" fill="#111" transform="rotate(-90 61.3 418.1)">Survival probability</text>
<text x="94.8" y="380.1" font-size="4.2" text-anchor="end" fill="#111">HDAC1</text>
<line x1="96.5" y1="378.6" x2="104.3" y2="378.6" stroke="#4c4cf0" stroke-width="0.6"/>
<text x="106.2" y="380.1" font-size="4" fill="#111">Low</text>
<line x1="116.5" y1="378.6" x2="124.1" y2="378.6" stroke="#f04040" stroke-width="0.6"/>
<text x="126.2" y="380.1" font-size="4" fill="#111">High</text>
<line x1="75" y1="417.7" x2="86" y2="417.7" stroke="#222" stroke-width="0.5" stroke-dasharray="1.2 1"/>
<line x1="86" y1="417.7" x2="86" y2="444.4" stroke="#222" stroke-width="0.5" stroke-dasharray="1.2 1"/>
<line x1="85.2" y1="417.7" x2="85.2" y2="444.4" stroke="#222" stroke-width="0.5" stroke-dasharray="1.2 1"/>
<path d="M75.5 390.9H76.1V392.4H76.6V393.8H76.9V394.7H77.4V395.8H78V397.4H78.5V399H78.9V399.8H79.6V401.8H80V402.7H80.6V404.3H81.1V405.7H81.5V406.8H82V408.1H82.5V409.5H82.9V410.5H83.3V411.6H84V413.1H84.4V414.1H85.4V416.2H85.7V417H86.7V418.9H87.2V419.8H87.7V420.9H88.3V422H89.4V424H89.8V424.8H90.7V426.4H91.3V427.6H91.9V428.6H92.9V430.1H94.2V431.9H95.1V433.1H95.9V434.3H96.6V435.3H99V436.8H104.1V438.1H109.7V439.4H116.6V441H121.4V441.8H137.5V443.1H140.3V443.3H140.3" fill="none" stroke="#4c4cf0" stroke-width="0.6"/>
<path d="M75.5 390.9H76V392.1H76.4V393.1H77.2V394.9H77.7V396H78.1V397H78.9V399H79.5V400.4H79.7V400.9H80.3V402.2H80.8V403.5H81.5V405.5H81.8V406.5H82.2V407.8H82.6V408.9H83V410.3H83.4V411.7H83.9V413.1H84.1V414H84.7V415.9H84.9V416.6H85.3V417.9H85.6V419.1H86.1V421.2H86.3V421.9H86.6V423.1H87V424.8H87.4V426.2H87.5V426.9H88V428.8H88.2V429.4H88.5V430.7H89V432.5H89.7V434H90.8V434.7H92.8V436H95.2V437.6H98.5V439.1H102.3V440.6H104.5V441.3H113.6V442.8H113.6V442.8H113.6" fill="none" stroke="#f04040" stroke-width="0.6"/>
<text x="143.3" y="392.2" font-size="5.3" text-anchor="end" fill="#111">HR = 1.2 (0.84 - 1.73)</text>
<text x="143.3" y="398.4" font-size="5.3" text-anchor="end" fill="#111">p = 0.321</text>
<text x="143.3" y="404.5" font-size="5.3" text-anchor="end" fill="#111">N (Low) = 73</text>
<text x="143.3" y="410.7" font-size="5.3" text-anchor="end" fill="#111">N (High) = 84</text>
<line x1="166.2" y1="389.1" x2="166.2" y2="446.8" stroke="#333" stroke-width="0.6"/>
<line x1="166.2" y1="446.8" x2="237.7" y2="446.8" stroke="#333" stroke-width="0.6"/>
<line x1="165" y1="390.9" x2="166.2" y2="390.9" stroke="#333" stroke-width="0.4"/>
<text x="164.5" y="392.2" font-size="3.7" text-anchor="end" fill="#222">1.00</text>
<line x1="165" y1="404.3" x2="166.2" y2="404.3" stroke="#333" stroke-width="0.4"/>
<text x="164.5" y="405.6" font-size="3.7" text-anchor="end" fill="#222">0.75</text>
<line x1="165" y1="417.7" x2="166.2" y2="417.7" stroke="#333" stroke-width="0.4"/>
<text x="164.5" y="419" font-size="3.7" text-anchor="end" fill="#222">0.50</text>
<line x1="165" y1="431" x2="166.2" y2="431" stroke="#333" stroke-width="0.4"/>
<text x="164.5" y="432.3" font-size="3.7" text-anchor="end" fill="#222">0.25</text>
<line x1="165" y1="444.4" x2="166.2" y2="444.4" stroke="#333" stroke-width="0.4"/>
<text x="164.5" y="445.7" font-size="3.7" text-anchor="end" fill="#222">0.00</text>
<line x1="169.2" y1="446.8" x2="169.2" y2="448" stroke="#333" stroke-width="0.4"/>
<text x="169.2" y="451.4" font-size="3.6" text-anchor="middle" fill="#333">0</text>
<line x1="185.4" y1="446.8" x2="185.4" y2="448" stroke="#333" stroke-width="0.4"/>
<text x="185.4" y="451.4" font-size="3.6" text-anchor="middle" fill="#333">20</text>
<line x1="201.6" y1="446.8" x2="201.6" y2="448" stroke="#333" stroke-width="0.4"/>
<text x="201.6" y="451.4" font-size="3.6" text-anchor="middle" fill="#333">40</text>
<line x1="217.8" y1="446.8" x2="217.8" y2="448" stroke="#333" stroke-width="0.4"/>
<text x="217.8" y="451.4" font-size="3.6" text-anchor="middle" fill="#333">60</text>
<line x1="234" y1="446.8" x2="234" y2="448" stroke="#333" stroke-width="0.4"/>
<text x="234" y="451.4" font-size="3.6" text-anchor="middle" fill="#333">80</text>
<text x="201.2" y="456.1" font-size="4.9" text-anchor="middle" fill="#111">Time</text>
<text x="155" y="418.1" font-size="4.7" text-anchor="middle" fill="#111" transform="rotate(-90 155 418.1)">Survival probability</text>
<text x="188.5" y="380.1" font-size="4.2" text-anchor="end" fill="#111">HDAC6</text>
<line x1="190.2" y1="378.6" x2="198" y2="378.6" stroke="#4c4cf0" stroke-width="0.6"/>
<text x="199.9" y="380.1" font-size="4" fill="#111">Low</text>
<line x1="210.2" y1="378.6" x2="217.8" y2="378.6" stroke="#f04040" stroke-width="0.6"/>
<text x="219.9" y="380.1" font-size="4" fill="#111">High</text>
<line x1="168.7" y1="417.7" x2="179.7" y2="417.7" stroke="#222" stroke-width="0.5" stroke-dasharray="1.2 1"/>
<line x1="177.3" y1="417.7" x2="177.3" y2="444.4" stroke="#222" stroke-width="0.5" stroke-dasharray="1.2 1"/>
<line x1="179.7" y1="417.7" x2="179.7" y2="444.4" stroke="#222" stroke-width="0.5" stroke-dasharray="1.2 1"/>
<path d="M169.2 390.9H169.5V391.9H169.9V393.1H170.4V394.8H170.7V395.8H171V396.9H171.4V398.3H171.8V399.5H172.3V401.3H172.6V402.1H173.1V403.8H173.5V405H173.9V406.5H174.2V407.5H174.6V408.9H175V410.2H175.4V411.4H175.9V412.9H176.1V413.6H176.5V415H177.1V417H177.5V418.3H177.8V419.2H178.1V420.3H178.6V422.1H178.9V422.8H179.4V424.5H179.8V426H180V426.7H180.6V428.5H181V429.8H181.2V430.7H182.1V431.7H183.5V433.1H184.9V434.6H186.4V436H187.9V437.5H188.4V438H190.6V439.3H200.3V441H234V442.3H234V442.3H234" fill="none" stroke="#4c4cf0" stroke-width="0.6"/>
<path d="M169.2 390.9H169.8V392.1H170.3V393.1H171.1V394.9H171.9V396.4H172.3V397.3H173V398.8H173.7V400.2H174.3V401.4H174.6V402.1H175.6V404.1H176V405.3H176.3V406.4H176.7V407.6H177.2V409.2H177.4V409.9H177.7V411.1H178.3V412.8H178.7V414.1H179.1V415.7H179.5V416.7H179.7V417.4H180.6V419.3H181.4V420.7H181.9V421.8H182.5V422.8H183.5V424.7H183.8V425.4H184.8V427.1H185.3V428.2H186.2V429.2H187.9V430.9H189.3V432.2H190V432.9H191.7V434.6H193.2V436.1H195.7V437.4H198.4V438.7H200.7V439.7H206.1V441.3H209.7V442.3H209.7V442.3H209.7" fill="none" stroke="#f04040" stroke-width="0.6"/>
<text x="237" y="392.2" font-size="5.3" text-anchor="end" fill="#111">HR = 0.85 (0.59 - 1.22)</text>
<text x="237" y="398.4" font-size="5.3" text-anchor="end" fill="#111">p = 0.379</text>
<text x="237" y="404.5" font-size="5.3" text-anchor="end" fill="#111">N (Low) = 85</text>
<text x="237" y="410.7" font-size="5.3" text-anchor="end" fill="#111">N (High) = 72</text>
<line x1="259.9" y1="389.1" x2="259.9" y2="446.8" stroke="#333" stroke-width="0.6"/>
<line x1="259.9" y1="446.8" x2="331.4" y2="446.8" stroke="#333" stroke-width="0.6"/>
<line x1="258.7" y1="390.9" x2="259.9" y2="390.9" stroke="#333" stroke-width="0.4"/>
<text x="258.2" y="392.2" font-size="3.7" text-anchor="end" fill="#222">1.00</text>
<line x1="258.7" y1="404.3" x2="259.9" y2="404.3" stroke="#333" stroke-width="0.4"/>
<text x="258.2" y="405.6" font-size="3.7" text-anchor="end" fill="#222">0.75</text>
<line x1="258.7" y1="417.7" x2="259.9" y2="417.7" stroke="#333" stroke-width="0.4"/>
<text x="258.2" y="419" font-size="3.7" text-anchor="end" fill="#222">0.50</text>
<line x1="258.7" y1="431" x2="259.9" y2="431" stroke="#333" stroke-width="0.4"/>
<text x="258.2" y="432.3" font-size="3.7" text-anchor="end" fill="#222">0.25</text>
<line x1="258.7" y1="444.4" x2="259.9" y2="444.4" stroke="#333" stroke-width="0.4"/>
<text x="258.2" y="445.7" font-size="3.7" text-anchor="end" fill="#222">0.00</text>
<line x1="262.9" y1="446.8" x2="262.9" y2="448" stroke="#333" stroke-width="0.4"/>
<text x="262.9" y="451.4" font-size="3.6" text-anchor="middle" fill="#333">0</text>
<line x1="279.1" y1="446.8" x2="279.1" y2="448" stroke="#333" stroke-width="0.4"/>
<text x="279.1" y="451.4" font-size="3.6" text-anchor="middle" fill="#333">20</text>
<line x1="295.3" y1="446.8" x2="295.3" y2="448" stroke="#333" stroke-width="0.4"/>
<text x="295.3" y="451.4" font-size="3.6" text-anchor="middle" fill="#333">40</text>
<line x1="311.5" y1="446.8" x2="311.5" y2="448" stroke="#333" stroke-width="0.4"/>
<text x="311.5" y="451.4" font-size="3.6" text-anchor="middle" fill="#333">60</text>
<line x1="327.7" y1="446.8" x2="327.7" y2="448" stroke="#333" stroke-width="0.4"/>
<text x="327.7" y="451.4" font-size="3.6" text-anchor="middle" fill="#333">80</text>
<text x="294.9" y="456.1" font-size="4.9" text-anchor="middle" fill="#111">Time</text>
<text x="248.7" y="418.1" font-size="4.7" text-anchor="middle" fill="#111" transform="rotate(-90 248.7 418.1)">Survival probability</text>
<text x="282.2" y="380.1" font-size="4.2" text-anchor="end" fill="#111">MAOA</text>
<line x1="283.9" y1="378.6" x2="291.7" y2="378.6" stroke="#4c4cf0" stroke-width="0.6"/>
<text x="293.6" y="380.1" font-size="4" fill="#111">Low</text>
<line x1="303.9" y1="378.6" x2="311.5" y2="378.6" stroke="#f04040" stroke-width="0.6"/>
<text x="313.6" y="380.1" font-size="4" fill="#111">High</text>
<line x1="262.4" y1="417.7" x2="275.3" y2="417.7" stroke="#222" stroke-width="0.5" stroke-dasharray="1.2 1"/>
<line x1="275.3" y1="417.7" x2="275.3" y2="444.4" stroke="#222" stroke-width="0.5" stroke-dasharray="1.2 1"/>
<line x1="272.6" y1="417.7" x2="272.6" y2="444.4" stroke="#222" stroke-width="0.5" stroke-dasharray="1.2 1"/>
<path d="M262.9 390.9H263.5V392.2H264V393.3H264.8V395.1H265V395.6H266V397.7H266.2V398.2H266.8V399.5H267.8V401.6H268V402H268.7V403.5H269.3V404.7H270.1V406.5H270.5V407.3H271.1V408.5H272.1V410.5H272.6V411.5H273.4V413.2H273.8V414H274.2V414.9H274.9V416.7H275.3V417.5H276V419.3H276.5V420.5H277V421.9H277.3V422.6H278.4V424.4H279.5V425.9H280.3V427H281.2V428.3H281.8V429.1H283V430.8H285V432.2H287.1V433.6H288.2V434.4H290.1V435.6H292.4V436.9H295.6V438.4H297.7V439.4H312.4V441.1H327.7V442.3H327.7V442.3H327.7" fill="none" stroke="#4c4cf0" stroke-width="0.6"/>
<path d="M262.9 390.9H263.4V392.3H263.7V393.2H264.2V394.4H265V396.5H265.4V397.7H265.9V399.2H266.4V400.5H266.7V401.5H267.1V402.6H267.7V404H268.1V405.3H268.6V406.6H269.2V408.2H269.6V409.3H269.9V410.2H270.4V411.6H271V413.2H271.5V414.4H272V415.9H272.3V416.8H272.9V418.5H273.5V420.2H273.7V420.7H274.2V422H274.7V423.4H275.2V424.7H275.7V426.2H276.1V427.2H276.7V428.9H277V429.8H278V431.7H279.2V433.1H279.9V434H280.8V435.1H281.9V436.4H283.2V438H288.7V439.4H294.2V440.9H303.1V442H315.5V443.1H319.6V443.3H319.6" fill="none" stroke="#f04040" stroke-width="0.6"/>
<text x="330.7" y="392.2" font-size="5.3" text-anchor="end" fill="#111">HR = 1.46 (0.92 - 2.3)</text>
<text x="330.7" y="398.4" font-size="5.3" text-anchor="end" fill="#111">p = 0.104</text>
<text x="330.7" y="404.5" font-size="5.3" text-anchor="end" fill="#111">N (Low) = 31</text>
<text x="330.7" y="410.7" font-size="5.3" text-anchor="end" fill="#111">N (High) = 126</text>
<line x1="353.6" y1="389.1" x2="353.6" y2="446.8" stroke="#333" stroke-width="0.6"/>
<line x1="353.6" y1="446.8" x2="425.1" y2="446.8" stroke="#333" stroke-width="0.6"/>
<line x1="352.4" y1="390.9" x2="353.6" y2="390.9" stroke="#333" stroke-width="0.4"/>
<text x="351.9" y="392.2" font-size="3.7" text-anchor="end" fill="#222">1.00</text>
<line x1="352.4" y1="404.3" x2="353.6" y2="404.3" stroke="#333" stroke-width="0.4"/>
<text x="351.9" y="405.6" font-size="3.7" text-anchor="end" fill="#222">0.75</text>
<line x1="352.4" y1="417.7" x2="353.6" y2="417.7" stroke="#333" stroke-width="0.4"/>
<text x="351.9" y="419" font-size="3.7" text-anchor="end" fill="#222">0.50</text>
<line x1="352.4" y1="431" x2="353.6" y2="431" stroke="#333" stroke-width="0.4"/>
<text x="351.9" y="432.3" font-size="3.7" text-anchor="end" fill="#222">0.25</text>
<line x1="352.4" y1="444.4" x2="353.6" y2="444.4" stroke="#333" stroke-width="0.4"/>
<text x="351.9" y="445.7" font-size="3.7" text-anchor="end" fill="#222">0.00</text>
<line x1="356.6" y1="446.8" x2="356.6" y2="448" stroke="#333" stroke-width="0.4"/>
<text x="356.6" y="451.4" font-size="3.6" text-anchor="middle" fill="#333">0</text>
<line x1="372.8" y1="446.8" x2="372.8" y2="448" stroke="#333" stroke-width="0.4"/>
<text x="372.8" y="451.4" font-size="3.6" text-anchor="middle" fill="#333">20</text>
<line x1="389" y1="446.8" x2="389" y2="448" stroke="#333" stroke-width="0.4"/>
<text x="389" y="451.4" font-size="3.6" text-anchor="middle" fill="#333">40</text>
<line x1="405.2" y1="446.8" x2="405.2" y2="448" stroke="#333" stroke-width="0.4"/>
<text x="405.2" y="451.4" font-size="3.6" text-anchor="middle" fill="#333">60</text>
<line x1="421.4" y1="446.8" x2="421.4" y2="448" stroke="#333" stroke-width="0.4"/>
<text x="421.4" y="451.4" font-size="3.6" text-anchor="middle" fill="#333">80</text>
<text x="388.6" y="456.1" font-size="4.9" text-anchor="middle" fill="#111">Time</text>
<text x="342.4" y="418.1" font-size="4.7" text-anchor="middle" fill="#111" transform="rotate(-90 342.4 418.1)">Survival probability</text>
<text x="375.9" y="380.1" font-size="4.2" text-anchor="end" fill="#111">MAOB</text>
<line x1="377.6" y1="378.6" x2="385.4" y2="378.6" stroke="#4c4cf0" stroke-width="0.6"/>
<text x="387.3" y="380.1" font-size="4" fill="#111">Low</text>
<line x1="397.6" y1="378.6" x2="405.2" y2="378.6" stroke="#f04040" stroke-width="0.6"/>
<text x="407.3" y="380.1" font-size="4" fill="#111">High</text>
<line x1="356.1" y1="417.7" x2="367.9" y2="417.7" stroke="#222" stroke-width="0.5" stroke-dasharray="1.2 1"/>
<line x1="367.9" y1="417.7" x2="367.9" y2="444.4" stroke="#222" stroke-width="0.5" stroke-dasharray="1.2 1"/>
<line x1="364.7" y1="417.7" x2="364.7" y2="444.4" stroke="#222" stroke-width="0.5" stroke-dasharray="1.2 1"/>
<path d="M356.6 390.9H357.1V391.8H358V393.3H358.7V394.4H360V396.4H360.3V397.1H361.3V398.7H362.3V400.4H362.9V401.3H363.3V402.2H363.7V403.6H364.2V405.4H364.6V406.6H364.9V407.5H365.2V408.7H365.7V410.1H366V411.3H366.4V412.7H366.8V413.9H367.2V415.4H367.7V416.8H368.2V418.1H369.2V419.8H369.6V420.4H370.4V421.7H371.4V423.4H372.3V424.9H372.7V425.5H374.2V427.4H375.2V428.7H375.8V429.4H377V430.9H378.4V432.6H379.2V433.7H381.8V435.3H383V436.1H385.1V437.5H386.9V438.7H390V440.3H398.7V441.4H421.4V442.8H421.4V442.8H421.4" fill="none" stroke="#4c4cf0" stroke-width="0.6"/>
<path d="M356.6 390.9H356.9V391.8H357.4V393.5H357.8V395H358.1V395.7H358.6V397.4H359V398.7H359.3V399.8H359.9V401.7H360.2V402.7H360.6V404.2H361V405.3H361.4V406.8H361.7V407.8H362.2V409.4H362.6V410.7H362.9V411.7H363.4V413.3H363.8V414.7H364.2V416.1H364.6V417.3H365V418.6H365.5V419.8H365.9V420.7H366.3V421.9H366.9V423.4H367.5V424.9H368V426.4H368.4V427.4H368.9V428.5H370V430.5H370.4V431.1H371.5V433.1H372.2V434.2H372.7V435.1H373.8V436.9H374.4V437.9H378.6V439.5H383.4V441.2H391.3V442.2H405.2V443.3H405.2V443.3H405.2" fill="none" stroke="#f04040" stroke-width="0.6"/>
<text x="424.4" y="392.2" font-size="5.3" text-anchor="end" fill="#111">HR = 1.36 (0.92 - 2.01)</text>
<text x="424.4" y="398.4" font-size="5.3" text-anchor="end" fill="#111">p = 0.117</text>
<text x="424.4" y="404.5" font-size="5.3" text-anchor="end" fill="#111">N (Low) = 48</text>
<text x="424.4" y="410.7" font-size="5.3" text-anchor="end" fill="#111">N (High) = 109</text>
<line x1="447.3" y1="389.1" x2="447.3" y2="446.8" stroke="#333" stroke-width="0.6"/>
<line x1="447.3" y1="446.8" x2="518.8" y2="446.8" stroke="#333" stroke-width="0.6"/>
<line x1="446.1" y1="390.9" x2="447.3" y2="390.9" stroke="#333" stroke-width="0.4"/>
<text x="445.6" y="392.2" font-size="3.7" text-anchor="end" fill="#222">1.00</text>
<line x1="446.1" y1="404.3" x2="447.3" y2="404.3" stroke="#333" stroke-width="0.4"/>
<text x="445.6" y="405.6" font-size="3.7" text-anchor="end" fill="#222">0.75</text>
<line x1="446.1" y1="417.7" x2="447.3" y2="417.7" stroke="#333" stroke-width="0.4"/>
<text x="445.6" y="419" font-size="3.7" text-anchor="end" fill="#222">0.50</text>
<line x1="446.1" y1="431" x2="447.3" y2="431" stroke="#333" stroke-width="0.4"/>
<text x="445.6" y="432.3" font-size="3.7" text-anchor="end" fill="#222">0.25</text>
<line x1="446.1" y1="444.4" x2="447.3" y2="444.4" stroke="#333" stroke-width="0.4"/>
<text x="445.6" y="445.7" font-size="3.7" text-anchor="end" fill="#222">0.00</text>
<line x1="450.3" y1="446.8" x2="450.3" y2="448" stroke="#333" stroke-width="0.4"/>
<text x="450.3" y="451.4" font-size="3.6" text-anchor="middle" fill="#333">0</text>
<line x1="466.5" y1="446.8" x2="466.5" y2="448" stroke="#333" stroke-width="0.4"/>
<text x="466.5" y="451.4" font-size="3.6" text-anchor="middle" fill="#333">20</text>
<line x1="482.7" y1="446.8" x2="482.7" y2="448" stroke="#333" stroke-width="0.4"/>
<text x="482.7" y="451.4" font-size="3.6" text-anchor="middle" fill="#333">40</text>
<line x1="498.9" y1="446.8" x2="498.9" y2="448" stroke="#333" stroke-width="0.4"/>
<text x="498.9" y="451.4" font-size="3.6" text-anchor="middle" fill="#333">60</text>
<line x1="515.1" y1="446.8" x2="515.1" y2="448" stroke="#333" stroke-width="0.4"/>
<text x="515.1" y="451.4" font-size="3.6" text-anchor="middle" fill="#333">80</text>
<text x="482.3" y="456.1" font-size="4.9" text-anchor="middle" fill="#111">Time</text>
<text x="436.1" y="418.1" font-size="4.7" text-anchor="middle" fill="#111" transform="rotate(-90 436.1 418.1)">Survival probability</text>
<text x="469.6" y="380.1" font-size="4.2" text-anchor="end" fill="#111">ACHE</text>
<line x1="471.3" y1="378.6" x2="479.1" y2="378.6" stroke="#4c4cf0" stroke-width="0.6"/>
<text x="481" y="380.1" font-size="4" fill="#111">Low</text>
<line x1="491.3" y1="378.6" x2="498.9" y2="378.6" stroke="#f04040" stroke-width="0.6"/>
<text x="501" y="380.1" font-size="4" fill="#111">High</text>
<line x1="449.8" y1="417.7" x2="461.6" y2="417.7" stroke="#222" stroke-width="0.5" stroke-dasharray="1.2 1"/>
<line x1="461.6" y1="417.7" x2="461.6" y2="444.4" stroke="#222" stroke-width="0.5" stroke-dasharray="1.2 1"/>
<line x1="458.4" y1="417.7" x2="458.4" y2="444.4" stroke="#222" stroke-width="0.5" stroke-dasharray="1.2 1"/>
<path d="M450.3 390.9H450.9V391.8H452.1V393.9H452.9V395.2H453.4V396H454V396.9H454.9V398.5H455.9V400.2H456.6V401.3H457.1V402.6H457.5V403.9H457.7V404.6H458.2V406.4H458.5V407.4H458.9V408.6H459.3V410H459.7V411.4H460.2V412.9H460.4V413.6H460.9V415.3H461.2V416.1H461.6V417.4H462.2V418.6H463.3V420.5H463.7V421H464.4V422.3H465.6V424.2H466.5V425.6H467.1V426.7H468V428.2H468.7V428.8H470.5V430.3H472.3V431.8H473.4V432.7H476.8V434.2H480.6V435H488.1V436.9H490.6V437.7H493.7V438.8H497.1V440H511.2V441.5H515.1V441.7H515.1" fill="none" stroke="#4c4cf0" stroke-width="0.6"/>
<path d="M450.3 390.9H450.6V391.9H451.1V393.6H451.5V395H451.8V395.8H452.2V397.2H452.6V398.6H453.1V400.1H453.5V401.6H454V403.1H454.3V404H454.7V405.5H455.2V407H455.5V408H455.7V408.9H456.3V410.8H456.8V412.3H457.1V413.2H457.4V414.4H457.9V416H458.2V417H458.8V418.7H459.3V420H459.6V420.8H460.3V422.7H460.7V423.8H461V424.6H461.8V426.7H462.1V427.4H462.6V428.7H463.7V430.4H464.6V432H465.3V433.2H466.1V434.6H466.4V435.1H467.4V436.7H468.6V438.2H470.1V439.1H473.1V440.9H474.9V441.8H481.1V443.3H481.1V443.3H481.1" fill="none" stroke="#f04040" stroke-width="0.6"/>
<text x="518.1" y="392.2" font-size="5.3" text-anchor="end" fill="#111">HR = 1.66 (1.14 - 2.4)</text>
<text x="518.1" y="398.4" font-size="5.3" text-anchor="end" fill="#111">p = 0.007</text>
<text x="518.1" y="404.5" font-size="5.3" text-anchor="end" fill="#111">N (Low) = 79</text>
<text x="518.1" y="410.7" font-size="5.3" text-anchor="end" fill="#111">N (High) = 78</text>
<line x1="541" y1="389.1" x2="541" y2="446.8" stroke="#333" stroke-width="0.6"/>
<line x1="541" y1="446.8" x2="612.5" y2="446.8" stroke="#333" stroke-width="0.6"/>
<line x1="539.8" y1="390.9" x2="541" y2="390.9" stroke="#333" stroke-width="0.4"/>
<text x="539.3" y="392.2" font-size="3.7" text-anchor="end" fill="#222">1.00</text>
<line x1="539.8" y1="404.3" x2="541" y2="404.3" stroke="#333" stroke-width="0.4"/>
<text x="539.3" y="405.6" font-size="3.7" text-anchor="end" fill="#222">0.75</text>
<line x1="539.8" y1="417.7" x2="541" y2="417.7" stroke="#333" stroke-width="0.4"/>
<text x="539.3" y="419" font-size="3.7" text-anchor="end" fill="#222">0.50</text>
<line x1="539.8" y1="431" x2="541" y2="431" stroke="#333" stroke-width="0.4"/>
<text x="539.3" y="432.3" font-size="3.7" text-anchor="end" fill="#222">0.25</text>
<line x1="539.8" y1="444.4" x2="541" y2="444.4" stroke="#333" stroke-width="0.4"/>
<text x="539.3" y="445.7" font-size="3.7" text-anchor="end" fill="#222">0.00</text>
<line x1="544" y1="446.8" x2="544" y2="448" stroke="#333" stroke-width="0.4"/>
<text x="544" y="451.4" font-size="3.6" text-anchor="middle" fill="#333">0</text>
<line x1="560.2" y1="446.8" x2="560.2" y2="448" stroke="#333" stroke-width="0.4"/>
<text x="560.2" y="451.4" font-size="3.6" text-anchor="middle" fill="#333">20</text>
<line x1="576.4" y1="446.8" x2="576.4" y2="448" stroke="#333" stroke-width="0.4"/>
<text x="576.4" y="451.4" font-size="3.6" text-anchor="middle" fill="#333">40</text>
<line x1="592.6" y1="446.8" x2="592.6" y2="448" stroke="#333" stroke-width="0.4"/>
<text x="592.6" y="451.4" font-size="3.6" text-anchor="middle" fill="#333">60</text>
<line x1="608.8" y1="446.8" x2="608.8" y2="448" stroke="#333" stroke-width="0.4"/>
<text x="608.8" y="451.4" font-size="3.6" text-anchor="middle" fill="#333">80</text>
<text x="576" y="456.1" font-size="4.9" text-anchor="middle" fill="#111">Time</text>
<text x="529.8" y="418.1" font-size="4.7" text-anchor="middle" fill="#111" transform="rotate(-90 529.8 418.1)">Survival probability</text>
<text x="563.3" y="380.1" font-size="4.2" text-anchor="end" fill="#111">BCHE</text>
<line x1="565" y1="378.6" x2="572.8" y2="378.6" stroke="#4c4cf0" stroke-width="0.6"/>
<text x="574.7" y="380.1" font-size="4" fill="#111">Low</text>
<line x1="585" y1="378.6" x2="592.6" y2="378.6" stroke="#f04040" stroke-width="0.6"/>
<text x="594.7" y="380.1" font-size="4" fill="#111">High</text>
<line x1="543.5" y1="417.7" x2="554.5" y2="417.7" stroke="#222" stroke-width="0.5" stroke-dasharray="1.2 1"/>
<line x1="552.1" y1="417.7" x2="552.1" y2="444.4" stroke="#222" stroke-width="0.5" stroke-dasharray="1.2 1"/>
<line x1="554.5" y1="417.7" x2="554.5" y2="444.4" stroke="#222" stroke-width="0.5" stroke-dasharray="1.2 1"/>
<path d="M544 390.9H544.3V391.8H544.8V393.5H545.2V394.9H545.7V396.5H545.9V397.2H546.3V398.4H546.8V400H547.1V401.2H547.5V402.5H547.8V403.4H548.4V405.5H548.8V406.9H549.1V407.6H549.5V409.1H549.8V409.9H550.3V411.8H550.8V413.3H551V413.9H551.5V415.8H551.8V416.5H552.2V417.8H552.8V419.9H553.1V421H553.4V421.8H554V423.8H554.1V424.2H554.7V426.4H555V427.2H555.5V428.7H556.3V430.2H556.7V431H557.5V432.6H557.8V433.3H558.8V435.2H559.2V436H560V437.5H562.3V439H565.6V440.5H567.6V441.4H571.3V442.5H572.4V442.8H572.4" fill="none" stroke="#4c4cf0" stroke-width="0.6"/>
<path d="M544 390.9H544.5V392.1H544.9V393.1H545.6V394.8H546.2V396.2H546.8V397.6H547.5V399.1H547.8V399.9H548.6V401.7H548.8V402.3H549.5V403.8H549.9V404.8H550.3V406.1H551V408H551.4V409H551.8V410.1H552.2V411.3H552.7V412.5H553.2V414.1H553.9V415.8H554.2V416.8H554.9V418.4H555.4V419.4H556V420.4H556.8V422H557.7V423.6H558.3V424.8H559V426H559.5V427H560.1V428.1H561.6V429.5H564V431.3H565.2V432.3H566.6V433.5H570.1V435.4H573.6V436.6H577.6V438H579.5V438.7H583.9V439.8H592.4V441.7H608.8V442.8H608.8V442.8H608.8" fill="none" stroke="#f04040" stroke-width="0.6"/>
<text x="611.8" y="392.2" font-size="5.3" text-anchor="end" fill="#111">HR = 0.63 (0.42 - 0.95)</text>
<text x="611.8" y="398.4" font-size="5.3" text-anchor="end" fill="#111">p = 0.028</text>
<text x="611.8" y="404.5" font-size="5.3" text-anchor="end" fill="#111">N (Low) = 35</text>
<text x="611.8" y="410.7" font-size="5.3" text-anchor="end" fill="#111">N (High) = 122</text>
<text x="16.5" y="477" font-size="19.5" font-weight="bold">E</text>
<rect x="9.8" y="505.4" width="40.3" height="18.9" fill="#e2efda"/>
<text x="29.9" y="517.8" font-size="8.1" text-anchor="middle">CGGA</text>
<line x1="72.5" y1="479.8" x2="72.5" y2="537.5" stroke="#333" stroke-width="0.6"/>
<line x1="72.5" y1="537.5" x2="144" y2="537.5" stroke="#333" stroke-width="0.6"/>
<line x1="71.3" y1="481.6" x2="72.5" y2="481.6" stroke="#333" stroke-width="0.4"/>
<text x="70.8" y="482.9" font-size="3.7" text-anchor="end" fill="#222">1.00</text>
<line x1="71.3" y1="495" x2="72.5" y2="495" stroke="#333" stroke-width="0.4"/>
<text x="70.8" y="496.3" font-size="3.7" text-anchor="end" fill="#222">0.75</text>
<line x1="71.3" y1="508.4" x2="72.5" y2="508.4" stroke="#333" stroke-width="0.4"/>
<text x="70.8" y="509.7" font-size="3.7" text-anchor="end" fill="#222">0.50</text>
<line x1="71.3" y1="521.7" x2="72.5" y2="521.7" stroke="#333" stroke-width="0.4"/>
<text x="70.8" y="523" font-size="3.7" text-anchor="end" fill="#222">0.25</text>
<line x1="71.3" y1="535.1" x2="72.5" y2="535.1" stroke="#333" stroke-width="0.4"/>
<text x="70.8" y="536.4" font-size="3.7" text-anchor="end" fill="#222">0.00</text>
<line x1="75.5" y1="537.5" x2="75.5" y2="538.7" stroke="#333" stroke-width="0.4"/>
<text x="75.5" y="542.1" font-size="3.6" text-anchor="middle" fill="#333">0</text>
<line x1="97.2" y1="537.5" x2="97.2" y2="538.7" stroke="#333" stroke-width="0.4"/>
<text x="97.2" y="542.1" font-size="3.6" text-anchor="middle" fill="#333">50</text>
<line x1="118.9" y1="537.5" x2="118.9" y2="538.7" stroke="#333" stroke-width="0.4"/>
<text x="118.9" y="542.1" font-size="3.6" text-anchor="middle" fill="#333">100</text>
<line x1="140.6" y1="537.5" x2="140.6" y2="538.7" stroke="#333" stroke-width="0.4"/>
<text x="140.6" y="542.1" font-size="3.6" text-anchor="middle" fill="#333">150</text>
<text x="107.5" y="546.8" font-size="4.9" text-anchor="middle" fill="#111">Time</text>
<text x="61.3" y="508.8" font-size="4.7" text-anchor="middle" fill="#111" transform="rotate(-90 61.3 508.8)">Survival probability</text>
<text x="94.8" y="470.8" font-size="4.2" text-anchor="end" fill="#111">HDAC1</text>
<line x1="96.5" y1="469.3" x2="104.3" y2="469.3" stroke="#4c4cf0" stroke-width="0.6"/>
<text x="106.2" y="470.8" font-size="4" fill="#111">Low</text>
<line x1="116.5" y1="469.3" x2="124.1" y2="469.3" stroke="#f04040" stroke-width="0.6"/>
<text x="126.2" y="470.8" font-size="4" fill="#111">High</text>
<line x1="75" y1="508.4" x2="85" y2="508.4" stroke="#222" stroke-width="0.5" stroke-dasharray="1.2 1"/>
<line x1="85" y1="508.4" x2="85" y2="535.1" stroke="#222" stroke-width="0.5" stroke-dasharray="1.2 1"/>
<line x1="81.6" y1="508.4" x2="81.6" y2="535.1" stroke="#222" stroke-width="0.5" stroke-dasharray="1.2 1"/>
<path d="M75.5 481.6H75.9V482.6H76.5V483.8H76.7V484.5H77.4V485.9H77.8V486.9H78.3V488H78.8V489.3H79.1V489.9H79.3V490.9H79.8V492.6H80V493.1H80.4V494.6H80.7V495.7H81V496.8H81.2V497.4H81.5V498.5H81.8V499.7H82.1V500.5H82.6V501.8H83V503H83.6V504.4H84V505.5H84.4V506.5H84.7V507.4H85.1V508.4H85.8V509.5H86.3V510.3H87V511.4H88.1V513H88.6V513.7H89.5V514.6H90.8V516H91.9V517.1H93.6V518.2H96.1V518.8H109.5V520H109.7V521.2H109.8V521.9H110V523.1H110.2V524.4H138.4V524.4H138.4" fill="none" stroke="#4c4cf0" stroke-width="0.6"/>
<path d="M75.5 481.6H75.9V483.1H76.3V484.5H76.4V485.1H76.9V487H77V487.5H77.6V489.6H77.7V490.1H78.1V491.8H78.4V492.7H78.7V493.9H79.1V495.8H79.3V496.9H79.6V498.1H79.7V498.9H80V500.5H80.2V501.3H80.5V502.8H80.8V504.1H81.1V505.9H81.2V506.6H81.4V507.7H81.9V509.5H82.4V510.8H82.7V511.9H83.1V513H83.5V514.3H83.9V515.6H84.2V516.6H84.8V518.4H85V519H86.8V520.7H88.3V522.1H89.2V523H90.6V524.3H92.4V525.4H94.9V526.8H96.6V527.8H105V529.3H119.3V530.9H125.9V531.5H129.8V531.9H129.8" fill="none" stroke="#f04040" stroke-width="0.6"/>
<text x="143.3" y="482.9" font-size="5.3" text-anchor="end" fill="#111">HR = 1.66 (1.12 - 2.46)</text>
<text x="143.3" y="489.1" font-size="5.3" text-anchor="end" fill="#111">p = 0.01</text>
<text x="143.3" y="495.2" font-size="5.3" text-anchor="end" fill="#111">N (Low) = 47</text>
<text x="143.3" y="501.4" font-size="5.3" text-anchor="end" fill="#111">N (High) = 178</text>
<line x1="166.2" y1="479.8" x2="166.2" y2="537.5" stroke="#333" stroke-width="0.6"/>
<line x1="166.2" y1="537.5" x2="237.7" y2="537.5" stroke="#333" stroke-width="0.6"/>
<line x1="165" y1="481.6" x2="166.2" y2="481.6" stroke="#333" stroke-width="0.4"/>
<text x="164.5" y="482.9" font-size="3.7" text-anchor="end" fill="#222">1.00</text>
<line x1="165" y1="495" x2="166.2" y2="495" stroke="#333" stroke-width="0.4"/>
<text x="164.5" y="496.3" font-size="3.7" text-anchor="end" fill="#222">0.75</text>
<line x1="165" y1="508.4" x2="166.2" y2="508.4" stroke="#333" stroke-width="0.4"/>
<text x="164.5" y="509.7" font-size="3.7" text-anchor="end" fill="#222">0.50</text>
<line x1="165" y1="521.7" x2="166.2" y2="521.7" stroke="#333" stroke-width="0.4"/>
<text x="164.5" y="523" font-size="3.7" text-anchor="end" fill="#222">0.25</text>
<line x1="165" y1="535.1" x2="166.2" y2="535.1" stroke="#333" stroke-width="0.4"/>
<text x="164.5" y="536.4" font-size="3.7" text-anchor="end" fill="#222">0.00</text>
<line x1="169.2" y1="537.5" x2="169.2" y2="538.7" stroke="#333" stroke-width="0.4"/>
<text x="169.2" y="542.1" font-size="3.6" text-anchor="middle" fill="#333">0</text>
<line x1="190.9" y1="537.5" x2="190.9" y2="538.7" stroke="#333" stroke-width="0.4"/>
<text x="190.9" y="542.1" font-size="3.6" text-anchor="middle" fill="#333">50</text>
<line x1="212.6" y1="537.5" x2="212.6" y2="538.7" stroke="#333" stroke-width="0.4"/>
<text x="212.6" y="542.1" font-size="3.6" text-anchor="middle" fill="#333">100</text>
<line x1="234.3" y1="537.5" x2="234.3" y2="538.7" stroke="#333" stroke-width="0.4"/>
<text x="234.3" y="542.1" font-size="3.6" text-anchor="middle" fill="#333">150</text>
<text x="201.2" y="546.8" font-size="4.9" text-anchor="middle" fill="#111">Time</text>
<text x="155" y="508.8" font-size="4.7" text-anchor="middle" fill="#111" transform="rotate(-90 155 508.8)">Survival probability</text>
<text x="188.5" y="470.8" font-size="4.2" text-anchor="end" fill="#111">HDAC6</text>
<line x1="190.2" y1="469.3" x2="198" y2="469.3" stroke="#4c4cf0" stroke-width="0.6"/>
<text x="199.9" y="470.8" font-size="4" fill="#111">Low</text>
<line x1="210.2" y1="469.3" x2="217.8" y2="469.3" stroke="#f04040" stroke-width="0.6"/>
<text x="219.9" y="470.8" font-size="4" fill="#111">High</text>
<line x1="168.7" y1="508.4" x2="177" y2="508.4" stroke="#222" stroke-width="0.5" stroke-dasharray="1.2 1"/>
<line x1="177" y1="508.4" x2="177" y2="535.1" stroke="#222" stroke-width="0.5" stroke-dasharray="1.2 1"/>
<line x1="175.3" y1="508.4" x2="175.3" y2="535.1" stroke="#222" stroke-width="0.5" stroke-dasharray="1.2 1"/>
<path d="M169.2 481.6H169.4V482.4H169.9V484.3H170.1V485.3H170.3V486H170.7V487.5H171.1V488.9H171.4V490.1H171.7V491.3H171.9V491.9H172.3V493.7H172.6V494.6H172.8V495.4H173.4V497.3H173.7V498.3H174V499.1H174.5V500.7H174.9V501.9H175.3V503.2H175.5V503.7H175.9V504.9H176.3V506.3H176.9V507.9H177.1V508.5H177.7V509.9H178.4V511.2H178.8V512H179.6V513.7H180V514.6H180.6V515.7H181.3V517.2H181.9V518.5H182.6V519.3H184.1V520.3H185.9V521.5H188.4V523.1H194.1V524.2H207.4V525.1H213.2V526.4H214V527.6H214.5V528.4H214.8V528.7H234.3" fill="none" stroke="#4c4cf0" stroke-width="0.6"/>
<path d="M169.2 481.6H169.5V482.8H169.8V484.1H170.1V485.4H170.4V486.9H170.6V488H171V489.5H171.3V490.7H171.5V491.8H171.7V492.6H172.1V494.5H172.4V495.6H172.6V496.7H172.9V498.1H173.2V499.4H173.4V500.3H173.9V502.3H174.2V503.4H174.3V504H174.8V506H175V507H175.2V507.9H175.6V509.4H176.2V510.9H176.5V511.7H177.1V513.4H177.4V514.3H177.9V515.6H178.6V517.6H179V518.8H179.4V519.9H179.9V521.3H180.5V522.1H181.8V523.1H183.5V524.6H185.6V526.3H187.4V527.3H192.9V529H194.3V529.4H206.4V531.1H221.3V532.4H221.3V532.4H221.3" fill="none" stroke="#f04040" stroke-width="0.6"/>
<text x="237" y="482.9" font-size="5.3" text-anchor="end" fill="#111">HR = 1.27 (0.93 - 1.75)</text>
<text x="237" y="489.1" font-size="5.3" text-anchor="end" fill="#111">p = 0.138</text>
<text x="237" y="495.2" font-size="5.3" text-anchor="end" fill="#111">N (Low) = 72</text>
<text x="237" y="501.4" font-size="5.3" text-anchor="end" fill="#111">N (High) = 153</text>
<line x1="259.9" y1="479.8" x2="259.9" y2="537.5" stroke="#333" stroke-width="0.6"/>
<line x1="259.9" y1="537.5" x2="331.4" y2="537.5" stroke="#333" stroke-width="0.6"/>
<line x1="258.7" y1="481.6" x2="259.9" y2="481.6" stroke="#333" stroke-width="0.4"/>
<text x="258.2" y="482.9" font-size="3.7" text-anchor="end" fill="#222">1.00</text>
<line x1="258.7" y1="495" x2="259.9" y2="495" stroke="#333" stroke-width="0.4"/>
<text x="258.2" y="496.3" font-size="3.7" text-anchor="end" fill="#222">0.75</text>
<line x1="258.7" y1="508.4" x2="259.9" y2="508.4" stroke="#333" stroke-width="0.4"/>
<text x="258.2" y="509.7" font-size="3.7" text-anchor="end" fill="#222">0.50</text>
<line x1="258.7" y1="521.7" x2="259.9" y2="521.7" stroke="#333" stroke-width="0.4"/>
<text x="258.2" y="523" font-size="3.7" text-anchor="end" fill="#222">0.25</text>
<line x1="258.7" y1="535.1" x2="259.9" y2="535.1" stroke="#333" stroke-width="0.4"/>
<text x="258.2" y="536.4" font-size="3.7" text-anchor="end" fill="#222">0.00</text>
<line x1="262.9" y1="537.5" x2="262.9" y2="538.7" stroke="#333" stroke-width="0.4"/>
<text x="262.9" y="542.1" font-size="3.6" text-anchor="middle" fill="#333">0</text>
<line x1="284.6" y1="537.5" x2="284.6" y2="538.7" stroke="#333" stroke-width="0.4"/>
<text x="284.6" y="542.1" font-size="3.6" text-anchor="middle" fill="#333">50</text>
<line x1="306.3" y1="537.5" x2="306.3" y2="538.7" stroke="#333" stroke-width="0.4"/>
<text x="306.3" y="542.1" font-size="3.6" text-anchor="middle" fill="#333">100</text>
<line x1="328" y1="537.5" x2="328" y2="538.7" stroke="#333" stroke-width="0.4"/>
<text x="328" y="542.1" font-size="3.6" text-anchor="middle" fill="#333">150</text>
<text x="294.9" y="546.8" font-size="4.9" text-anchor="middle" fill="#111">Time</text>
<text x="248.7" y="508.8" font-size="4.7" text-anchor="middle" fill="#111" transform="rotate(-90 248.7 508.8)">Survival probability</text>
<text x="282.2" y="470.8" font-size="4.2" text-anchor="end" fill="#111">MAOA</text>
<line x1="283.9" y1="469.3" x2="291.7" y2="469.3" stroke="#4c4cf0" stroke-width="0.6"/>
<text x="293.6" y="470.8" font-size="4" fill="#111">Low</text>
<line x1="303.9" y1="469.3" x2="311.5" y2="469.3" stroke="#f04040" stroke-width="0.6"/>
<text x="313.6" y="470.8" font-size="4" fill="#111">High</text>
<line x1="262.4" y1="508.4" x2="271.6" y2="508.4" stroke="#222" stroke-width="0.5" stroke-dasharray="1.2 1"/>
<line x1="268.1" y1="508.4" x2="268.1" y2="535.1" stroke="#222" stroke-width="0.5" stroke-dasharray="1.2 1"/>
<line x1="271.6" y1="508.4" x2="271.6" y2="535.1" stroke="#222" stroke-width="0.5" stroke-dasharray="1.2 1"/>
<path d="M262.9 481.6H263.1V482.8H263.4V484.3H263.6V485.2H263.9V486.5H264.1V487.6H264.4V489.1H264.6V490.1H264.8V491.4H265.1V492.8H265.2V493.3H265.5V494.8H265.8V496.3H266V497.4H266.2V498.5H266.5V499.9H266.7V501H267V502.4H267.2V503.6H267.4V504.6H267.5V505.5H267.8V506.8H268.1V508.3H268.4V509.6H268.7V510.5H269V511.6H269.3V512.9H269.6V514.1H270V515.5H270.3V516.6H270.6V518.1H270.8V518.7H271.1V520H271.6V521.6H272V522.2H272.9V523.4H274.2V524.9H275.3V526.3H275.8V526.9H281.6V528.8H284.6V529.8H306.3V529.8H306.3" fill="none" stroke="#4c4cf0" stroke-width="0.6"/>
<path d="M262.9 481.6H263.2V482.7H263.7V484H264V485.1H264.5V486.7H264.7V487.1H265.3V489H265.7V490.2H266.1V491.4H266.3V492H266.8V493.6H267.1V494.6H267.4V495.5H267.8V496.8H268.1V497.7H268.7V499.6H269.1V500.7H269.5V501.9H269.7V502.6H270.2V504.2H270.6V505.4H271V506.5H271.3V507.5H272V508.9H272.7V509.9H273.2V510.8H274.5V512.6H275.1V513.6H275.7V514.5H277.3V515.9H278.3V516.7H280.4V518.4H281.1V519H282.4V520.1H285.8V521.4H288.6V522.6H291.4V523.7H296V524.9H301.6V526.1H313.5V527.6H328V528.7H328" fill="none" stroke="#f04040" stroke-width="0.6"/>
<text x="330.7" y="482.9" font-size="5.3" text-anchor="end" fill="#111">HR = 0.61 (0.44 - 0.85)</text>
<text x="330.7" y="489.1" font-size="5.3" text-anchor="end" fill="#111">p = 0.003</text>
<text x="330.7" y="495.2" font-size="5.3" text-anchor="end" fill="#111">N (Low) = 160</text>
<text x="330.7" y="501.4" font-size="5.3" text-anchor="end" fill="#111">N (High) = 65</text>
<line x1="353.6" y1="479.8" x2="353.6" y2="537.5" stroke="#333" stroke-width="0.6"/>
<line x1="353.6" y1="537.5" x2="425.1" y2="537.5" stroke="#333" stroke-width="0.6"/>
<line x1="352.4" y1="481.6" x2="353.6" y2="481.6" stroke="#333" stroke-width="0.4"/>
<text x="351.9" y="482.9" font-size="3.7" text-anchor="end" fill="#222">1.00</text>
<line x1="352.4" y1="495" x2="353.6" y2="495" stroke="#333" stroke-width="0.4"/>
<text x="351.9" y="496.3" font-size="3.7" text-anchor="end" fill="#222">0.75</text>
<line x1="352.4" y1="508.4" x2="353.6" y2="508.4" stroke="#333" stroke-width="0.4"/>
<text x="351.9" y="509.7" font-size="3.7" text-anchor="end" fill="#222">0.50</text>
<line x1="352.4" y1="521.7" x2="353.6" y2="521.7" stroke="#333" stroke-width="0.4"/>
<text x="351.9" y="523" font-size="3.7" text-anchor="end" fill="#222">0.25</text>
<line x1="352.4" y1="535.1" x2="353.6" y2="535.1" stroke="#333" stroke-width="0.4"/>
<text x="351.9" y="536.4" font-size="3.7" text-anchor="end" fill="#222">0.00</text>
<line x1="356.6" y1="537.5" x2="356.6" y2="538.7" stroke="#333" stroke-width="0.4"/>
<text x="356.6" y="542.1" font-size="3.6" text-anchor="middle" fill="#333">0</text>
<line x1="378.3" y1="537.5" x2="378.3" y2="538.7" stroke="#333" stroke-width="0.4"/>
<text x="378.3" y="542.1" font-size="3.6" text-anchor="middle" fill="#333">50</text>
<line x1="400" y1="537.5" x2="400" y2="538.7" stroke="#333" stroke-width="0.4"/>
<text x="400" y="542.1" font-size="3.6" text-anchor="middle" fill="#333">100</text>
<line x1="421.7" y1="537.5" x2="421.7" y2="538.7" stroke="#333" stroke-width="0.4"/>
<text x="421.7" y="542.1" font-size="3.6" text-anchor="middle" fill="#333">150</text>
<text x="388.6" y="546.8" font-size="4.9" text-anchor="middle" fill="#111">Time</text>
<text x="342.4" y="508.8" font-size="4.7" text-anchor="middle" fill="#111" transform="rotate(-90 342.4 508.8)">Survival probability</text>
<text x="375.9" y="470.8" font-size="4.2" text-anchor="end" fill="#111">MAOB</text>
<line x1="377.6" y1="469.3" x2="385.4" y2="469.3" stroke="#4c4cf0" stroke-width="0.6"/>
<text x="387.3" y="470.8" font-size="4" fill="#111">Low</text>
<line x1="397.6" y1="469.3" x2="405.2" y2="469.3" stroke="#f04040" stroke-width="0.6"/>
<text x="407.3" y="470.8" font-size="4" fill="#111">High</text>
<line x1="356.1" y1="508.4" x2="368.8" y2="508.4" stroke="#222" stroke-width="0.5" stroke-dasharray="1.2 1"/>
<line x1="368.8" y1="508.4" x2="368.8" y2="535.1" stroke="#222" stroke-width="0.5" stroke-dasharray="1.2 1"/>
<line x1="361.8" y1="508.4" x2="361.8" y2="535.1" stroke="#222" stroke-width="0.5" stroke-dasharray="1.2 1"/>
<path d="M356.6 481.6H356.9V482.3H357.6V484H358V485.1H358.3V485.7H358.7V486.9H359.1V487.7H359.5V488.8H360.1V490.1H360.4V490.9H360.9V492.3H361.3V493H362.2V494.5H362.5V495.2H363.3V496.7H363.7V497.4H364.2V498.4H365.1V499.9H365.6V501.1H365.9V501.7H366.5V503.1H366.8V503.9H367.4V505.3H367.8V506.3H368.3V507.4H368.7V508.1H369.8V509.4H370.9V510.5H371.6V511.3H372.9V512.6H374.5V514H376.3V515.1H377.5V515.9H379.4V517H380.6V517.8H382.3V518.8H385.4V520.4H387.5V521.4H389V522.2H391.2V523.3H400V524.4H400" fill="none" stroke="#4c4cf0" stroke-width="0.6"/>
<path d="M356.6 481.6H356.9V483.3H357.2V484.5H357.3V485.2H357.6V486.6H357.9V488.2H358.1V489.4H358.4V490.6H358.5V491.4H358.9V493.2H359V494H359.3V495.3H359.5V496.7H359.9V498.5H360V499.1H360.2V500.3H360.5V501.9H360.8V503.4H361V504.4H361.3V505.5H361.6V507.3H361.7V507.9H362.1V509.4H362.4V510.5H362.7V511.9H363.2V513.6H363.4V514.3H363.8V516H364.1V517.3H364.5V518.8H364.6V519.3H365.1V521H365.5V521.9H367.1V523.7H368.1V524.7H369V525.7H370.6V527.4H372.1V528.7H376.8V529.7H390.6V531.3H421.3V532.4H421.7V532.4H421.7" fill="none" stroke="#f04040" stroke-width="0.6"/>
<text x="424.4" y="482.9" font-size="5.3" text-anchor="end" fill="#111">HR = 1.79 (1.22 - 2.63)</text>
<text x="424.4" y="489.1" font-size="5.3" text-anchor="end" fill="#111">p = 0.003</text>
<text x="424.4" y="495.2" font-size="5.3" text-anchor="end" fill="#111">N (Low) = 45</text>
<text x="424.4" y="501.4" font-size="5.3" text-anchor="end" fill="#111">N (High) = 180</text>
<line x1="447.3" y1="479.8" x2="447.3" y2="537.5" stroke="#333" stroke-width="0.6"/>
<line x1="447.3" y1="537.5" x2="518.8" y2="537.5" stroke="#333" stroke-width="0.6"/>
<line x1="446.1" y1="481.6" x2="447.3" y2="481.6" stroke="#333" stroke-width="0.4"/>
<text x="445.6" y="482.9" font-size="3.7" text-anchor="end" fill="#222">1.00</text>
<line x1="446.1" y1="495" x2="447.3" y2="495" stroke="#333" stroke-width="0.4"/>
<text x="445.6" y="496.3" font-size="3.7" text-anchor="end" fill="#222">0.75</text>
<line x1="446.1" y1="508.4" x2="447.3" y2="508.4" stroke="#333" stroke-width="0.4"/>
<text x="445.6" y="509.7" font-size="3.7" text-anchor="end" fill="#222">0.50</text>
<line x1="446.1" y1="521.7" x2="447.3" y2="521.7" stroke="#333" stroke-width="0.4"/>
<text x="445.6" y="523" font-size="3.7" text-anchor="end" fill="#222">0.25</text>
<line x1="446.1" y1="535.1" x2="447.3" y2="535.1" stroke="#333" stroke-width="0.4"/>
<text x="445.6" y="536.4" font-size="3.7" text-anchor="end" fill="#222">0.00</text>
<line x1="450.3" y1="537.5" x2="450.3" y2="538.7" stroke="#333" stroke-width="0.4"/>
<text x="450.3" y="542.1" font-size="3.6" text-anchor="middle" fill="#333">0</text>
<line x1="472" y1="537.5" x2="472" y2="538.7" stroke="#333" stroke-width="0.4"/>
<text x="472" y="542.1" font-size="3.6" text-anchor="middle" fill="#333">50</text>
<line x1="493.7" y1="537.5" x2="493.7" y2="538.7" stroke="#333" stroke-width="0.4"/>
<text x="493.7" y="542.1" font-size="3.6" text-anchor="middle" fill="#333">100</text>
<line x1="515.4" y1="537.5" x2="515.4" y2="538.7" stroke="#333" stroke-width="0.4"/>
<text x="515.4" y="542.1" font-size="3.6" text-anchor="middle" fill="#333">150</text>
<text x="482.3" y="546.8" font-size="4.9" text-anchor="middle" fill="#111">Time</text>
<text x="436.1" y="508.8" font-size="4.7" text-anchor="middle" fill="#111" transform="rotate(-90 436.1 508.8)">Survival probability</text>
<text x="469.6" y="470.8" font-size="4.2" text-anchor="end" fill="#111">ACHE</text>
<line x1="471.3" y1="469.3" x2="479.1" y2="469.3" stroke="#4c4cf0" stroke-width="0.6"/>
<text x="481" y="470.8" font-size="4" fill="#111">Low</text>
<line x1="491.3" y1="469.3" x2="498.9" y2="469.3" stroke="#f04040" stroke-width="0.6"/>
<text x="501" y="470.8" font-size="4" fill="#111">High</text>
<line x1="449.8" y1="508.4" x2="456.4" y2="508.4" stroke="#222" stroke-width="0.5" stroke-dasharray="1.2 1"/>
<line x1="456.4" y1="508.4" x2="456.4" y2="535.1" stroke="#222" stroke-width="0.5" stroke-dasharray="1.2 1"/>
<line x1="456.4" y1="508.4" x2="456.4" y2="535.1" stroke="#222" stroke-width="0.5" stroke-dasharray="1.2 1"/>
<path d="M450.3 481.6H450.6V482.9H451.1V484.6H451.3V485.6H451.7V486.8H452V488.2H452.4V489.8H452.6V490.4H452.9V491.7H453.4V493.6H453.7V494.6H453.9V495.6H454.1V496.9H454.4V498.4H454.7V500H454.9V500.9H455.2V502.3H455.5V504.1H455.7V505H456V506.4H456.3V507.7H456.4V508.5H456.9V509.7H457.6V511.8H457.8V512.4H458.5V514.2H458.7V515H459.3V516.5H459.9V518.1H460.3V519.3H460.8V520.7H461.2V521.8H462.6V523.2H463.8V524.6H464.6V525.4H466.3V527.2H467.5V528.5H469.7V529.9H472V531.2H474V532.3H477.7V533.3H478.5V533.5H478.5" fill="none" stroke="#4c4cf0" stroke-width="0.6"/>
<path d="M450.3 481.6H450.6V482.8H450.9V484H451.2V485.1H451.4V486H451.8V487.3H452V488.2H452.5V490H452.7V490.9H453.1V492.2H453.4V493.6H453.6V494.5H453.9V495.7H454.2V497.1H454.3V497.7H454.6V499.1H454.7V500H455V501.2H455.2V502.2H455.4V503.3H455.7V504.7H456V506.4H456.2V507.5H456.5V508.7H456.7V509.2H457.4V510.6H458.1V512.2H458.3V512.7H459.1V514.4H459.6V515.6H460.1V516.7H460.7V518.1H461.3V519.1H462.6V520H464.2V521H466.4V522.5H471.5V523.8H475.8V524.3H485.1V526.2H487.8V526.8H510.4V527.9H515.4V528.1H515.4" fill="none" stroke="#f04040" stroke-width="0.6"/>
<text x="518.1" y="482.9" font-size="5.3" text-anchor="end" fill="#111">HR = 0.8 (0.57 - 1.11)</text>
<text x="518.1" y="489.1" font-size="5.3" text-anchor="end" fill="#111">p = 0.171</text>
<text x="518.1" y="495.2" font-size="5.3" text-anchor="end" fill="#111">N (Low) = 52</text>
<text x="518.1" y="501.4" font-size="5.3" text-anchor="end" fill="#111">N (High) = 173</text>
<line x1="541" y1="479.8" x2="541" y2="537.5" stroke="#333" stroke-width="0.6"/>
<line x1="541" y1="537.5" x2="612.5" y2="537.5" stroke="#333" stroke-width="0.6"/>
<line x1="539.8" y1="481.6" x2="541" y2="481.6" stroke="#333" stroke-width="0.4"/>
<text x="539.3" y="482.9" font-size="3.7" text-anchor="end" fill="#222">1.00</text>
<line x1="539.8" y1="495" x2="541" y2="495" stroke="#333" stroke-width="0.4"/>
<text x="539.3" y="496.3" font-size="3.7" text-anchor="end" fill="#222">0.75</text>
<line x1="539.8" y1="508.4" x2="541" y2="508.4" stroke="#333" stroke-width="0.4"/>
<text x="539.3" y="509.7" font-size="3.7" text-anchor="end" fill="#222">0.50</text>
<line x1="539.8" y1="521.7" x2="541" y2="521.7" stroke="#333" stroke-width="0.4"/>
<text x="539.3" y="523" font-size="3.7" text-anchor="end" fill="#222">0.25</text>
<line x1="539.8" y1="535.1" x2="541" y2="535.1" stroke="#333" stroke-width="0.4"/>
<text x="539.3" y="536.4" font-size="3.7" text-anchor="end" fill="#222">0.00</text>
<line x1="544" y1="537.5" x2="544" y2="538.7" stroke="#333" stroke-width="0.4"/>
<text x="544" y="542.1" font-size="3.6" text-anchor="middle" fill="#333">0</text>
<line x1="565.7" y1="537.5" x2="565.7" y2="538.7" stroke="#333" stroke-width="0.4"/>
<text x="565.7" y="542.1" font-size="3.6" text-anchor="middle" fill="#333">50</text>
<line x1="587.4" y1="537.5" x2="587.4" y2="538.7" stroke="#333" stroke-width="0.4"/>
<text x="587.4" y="542.1" font-size="3.6" text-anchor="middle" fill="#333">100</text>
<line x1="609.1" y1="537.5" x2="609.1" y2="538.7" stroke="#333" stroke-width="0.4"/>
<text x="609.1" y="542.1" font-size="3.6" text-anchor="middle" fill="#333">150</text>
<text x="576" y="546.8" font-size="4.9" text-anchor="middle" fill="#111">Time</text>
<text x="529.8" y="508.8" font-size="4.7" text-anchor="middle" fill="#111" transform="rotate(-90 529.8 508.8)">Survival probability</text>
<text x="563.3" y="470.8" font-size="4.2" text-anchor="end" fill="#111">BCHE</text>
<line x1="565" y1="469.3" x2="572.8" y2="469.3" stroke="#4c4cf0" stroke-width="0.6"/>
<text x="574.7" y="470.8" font-size="4" fill="#111">Low</text>
<line x1="585" y1="469.3" x2="592.6" y2="469.3" stroke="#f04040" stroke-width="0.6"/>
<text x="594.7" y="470.8" font-size="4" fill="#111">High</text>
<line x1="543.5" y1="508.4" x2="550.9" y2="508.4" stroke="#222" stroke-width="0.5" stroke-dasharray="1.2 1"/>
<line x1="550.9" y1="508.4" x2="550.9" y2="535.1" stroke="#222" stroke-width="0.5" stroke-dasharray="1.2 1"/>
<line x1="549.2" y1="508.4" x2="549.2" y2="535.1" stroke="#222" stroke-width="0.5" stroke-dasharray="1.2 1"/>
<path d="M544 481.6H544.4V483H544.7V484.2H544.9V485H545.3V486.6H545.5V487.2H545.9V488.8H546V489.5H546.4V490.7H546.7V491.9H547V493.2H547.4V494.6H547.6V495.6H548V497H548.2V497.7H548.6V499.2H549V500.8H549.2V501.5H549.5V502.9H549.9V504.3H550V504.8H550.4V506.1H550.7V507.6H551.1V508.6H551.9V510.1H552.5V511H553.2V512.3H554V513.7H554.5V514.6H555V515.6H555.7V516.8H556.6V518.2H558V519.6H559V520.3H560.7V521.3H562.5V522.4H565.1V524H572.8V525.3H578.5V526H592.3V527.4H608.3V528.6H609.1V528.7H609.1" fill="none" stroke="#4c4cf0" stroke-width="0.6"/>
<path d="M544 481.6H544.2V482.8H544.6V484.6H544.8V485.7H545V486.7H545.2V487.8H545.6V489.8H545.8V490.8H546V492.1H546.3V493.4H546.5V494.4H546.7V495.6H547.1V497.6H547.2V498.3H547.5V499.8H547.9V501.5H548.1V502.6H548.3V503.9H548.5V504.7H548.8V506.3H549.1V507.5H549.4V509H549.8V510.6H550V511.5H550.3V512.7H550.6V513.6H551V515.2H551.4V516.6H551.7V518H552V519H552.4V520.7H552.6V521.5H553.8V523.2H554.9V524.5H555.7V525.4H557.1V527.1H557.8V528.1H559.2V529.7H565.2V531.2H571.7V532.6H575.9V533.2H578.7V533.5H578.7" fill="none" stroke="#f04040" stroke-width="0.6"/>
<text x="611.8" y="482.9" font-size="5.3" text-anchor="end" fill="#111">HR = 1.61 (1.16 - 2.24)</text>
<text x="611.8" y="489.1" font-size="5.3" text-anchor="end" fill="#111">p = 0.005</text>
<text x="611.8" y="495.2" font-size="5.3" text-anchor="end" fill="#111">N (Low) = 171</text>
<text x="611.8" y="501.4" font-size="5.3" text-anchor="end" fill="#111">N (High) = 54</text>
<text x="14.5" y="559.3" font-size="19.5" font-weight="bold">F</text>
<rect x="0" y="590.1" width="49" height="18.2" fill="#e2efda"/>
<text x="24.5" y="602.1" font-size="8.1" text-anchor="middle">Rembrandt</text>
<line x1="72.5" y1="571.5" x2="72.5" y2="629.2" stroke="#333" stroke-width="0.6"/>
<line x1="72.5" y1="629.2" x2="144" y2="629.2" stroke="#333" stroke-width="0.6"/>
<line x1="71.3" y1="573.3" x2="72.5" y2="573.3" stroke="#333" stroke-width="0.4"/>
<text x="70.8" y="574.6" font-size="3.7" text-anchor="end" fill="#222">1.00</text>
<line x1="71.3" y1="586.7" x2="72.5" y2="586.7" stroke="#333" stroke-width="0.4"/>
<text x="70.8" y="588" font-size="3.7" text-anchor="end" fill="#222">0.75</text>
<line x1="71.3" y1="600" x2="72.5" y2="600" stroke="#333" stroke-width="0.4"/>
<text x="70.8" y="601.3" font-size="3.7" text-anchor="end" fill="#222">0.50</text>
<line x1="71.3" y1="613.4" x2="72.5" y2="613.4" stroke="#333" stroke-width="0.4"/>
<text x="70.8" y="614.7" font-size="3.7" text-anchor="end" fill="#222">0.25</text>
<line x1="71.3" y1="626.8" x2="72.5" y2="626.8" stroke="#333" stroke-width="0.4"/>
<text x="70.8" y="628.1" font-size="3.7" text-anchor="end" fill="#222">0.00</text>
<line x1="75.5" y1="629.2" x2="75.5" y2="630.4" stroke="#333" stroke-width="0.4"/>
<text x="75.5" y="633.8" font-size="3.6" text-anchor="middle" fill="#333">0</text>
<line x1="91.5" y1="629.2" x2="91.5" y2="630.4" stroke="#333" stroke-width="0.4"/>
<text x="91.5" y="633.8" font-size="3.6" text-anchor="middle" fill="#333">30</text>
<line x1="107.4" y1="629.2" x2="107.4" y2="630.4" stroke="#333" stroke-width="0.4"/>
<text x="107.4" y="633.8" font-size="3.6" text-anchor="middle" fill="#333">60</text>
<line x1="123.4" y1="629.2" x2="123.4" y2="630.4" stroke="#333" stroke-width="0.4"/>
<text x="123.4" y="633.8" font-size="3.6" text-anchor="middle" fill="#333">90</text>
<line x1="139.3" y1="629.2" x2="139.3" y2="630.4" stroke="#333" stroke-width="0.4"/>
<text x="139.3" y="633.8" font-size="3.6" text-anchor="middle" fill="#333">120</text>
<text x="107.5" y="638.5" font-size="4.9" text-anchor="middle" fill="#111">Time</text>
<text x="61.3" y="600.5" font-size="4.7" text-anchor="middle" fill="#111" transform="rotate(-90 61.3 600.5)">Survival probability</text>
<text x="94.8" y="562.5" font-size="4.2" text-anchor="end" fill="#111">HDAC1</text>
<line x1="96.5" y1="561" x2="104.3" y2="561" stroke="#4c4cf0" stroke-width="0.6"/>
<text x="106.2" y="562.5" font-size="4" fill="#111">Low</text>
<line x1="116.5" y1="561" x2="124.1" y2="561" stroke="#f04040" stroke-width="0.6"/>
<text x="126.2" y="562.5" font-size="4" fill="#111">High</text>
<line x1="75" y1="600" x2="84" y2="600" stroke="#222" stroke-width="0.5" stroke-dasharray="1.2 1"/>
<line x1="84" y1="600" x2="84" y2="626.8" stroke="#222" stroke-width="0.5" stroke-dasharray="1.2 1"/>
<line x1="81.9" y1="600" x2="81.9" y2="626.8" stroke="#222" stroke-width="0.5" stroke-dasharray="1.2 1"/>
<path d="M75.5 573.3H75.9V574.5H76.3V575.8H76.8V577.4H77.2V578.8H77.5V579.5H77.9V580.9H78.3V582.1H78.7V583.5H79.3V585.3H79.5V586H80V587.5H80.6V589.2H80.7V589.7H81.4V591.9H81.7V592.9H82.2V594.4H82.6V595.7H82.9V596.6H83.3V597.9H83.7V599.1H84.2V600.5H84.7V601.5H85.5V603.3H85.8V604H86.4V605.3H87.3V607.3H87.7V608.3H88.1V609.2H88.9V610.9H90.1V612.3H91.3V613.8H91.8V614.4H93.2V616.1H94.8V617.6H96.4V618.4H99.3V619.9H102V621.4H106.8V622.6H111.3V623.8H135.8V625.1H139.3V625.2H139.3" fill="none" stroke="#4c4cf0" stroke-width="0.6"/>
<path d="M75.5 573.3H75.8V574.4H76V575.4H76.5V577.4H76.6V578.1H77V579.6H77.3V581.2H77.5V582.1H77.9V583.7H78.1V584.6H78.5V586.3H78.8V587.7H79V588.5H79.3V589.6H79.7V591.3H79.9V592.2H80.4V593.9H80.6V595H80.8V595.8H81.2V597.5H81.5V598.6H81.9V600H82.3V601.6H82.5V602.6H82.8V603.9H83.2V605.4H83.3V606.1H83.6V607.3H83.9V608.6H84.3V610.1H84.6V611.6H84.9V612.8H85.2V613.6H86.2V615H87.4V616.7H88.4V618.2H90.5V619.3H92.9V620.1H98.2V621.8H100.6V622.4H107.4V624.1H107.4V624.1H108.5" fill="none" stroke="#f04040" stroke-width="0.6"/>
<text x="143.3" y="574.6" font-size="5.3" text-anchor="end" fill="#111">HR = 1.51 (1.08 - 2.1)</text>
<text x="143.3" y="580.8" font-size="5.3" text-anchor="end" fill="#111">p = 0.014</text>
<text x="143.3" y="586.9" font-size="5.3" text-anchor="end" fill="#111">N (Low) = 154</text>
<text x="143.3" y="593.1" font-size="5.3" text-anchor="end" fill="#111">N (High) = 65</text>
<line x1="166.2" y1="571.5" x2="166.2" y2="629.2" stroke="#333" stroke-width="0.6"/>
<line x1="166.2" y1="629.2" x2="237.7" y2="629.2" stroke="#333" stroke-width="0.6"/>
<line x1="165" y1="573.3" x2="166.2" y2="573.3" stroke="#333" stroke-width="0.4"/>
<text x="164.5" y="574.6" font-size="3.7" text-anchor="end" fill="#222">1.00</text>
<line x1="165" y1="586.7" x2="166.2" y2="586.7" stroke="#333" stroke-width="0.4"/>
<text x="164.5" y="588" font-size="3.7" text-anchor="end" fill="#222">0.75</text>
<line x1="165" y1="600" x2="166.2" y2="600" stroke="#333" stroke-width="0.4"/>
<text x="164.5" y="601.3" font-size="3.7" text-anchor="end" fill="#222">0.50</text>
<line x1="165" y1="613.4" x2="166.2" y2="613.4" stroke="#333" stroke-width="0.4"/>
<text x="164.5" y="614.7" font-size="3.7" text-anchor="end" fill="#222">0.25</text>
<line x1="165" y1="626.8" x2="166.2" y2="626.8" stroke="#333" stroke-width="0.4"/>
<text x="164.5" y="628.1" font-size="3.7" text-anchor="end" fill="#222">0.00</text>
<line x1="169.2" y1="629.2" x2="169.2" y2="630.4" stroke="#333" stroke-width="0.4"/>
<text x="169.2" y="633.8" font-size="3.6" text-anchor="middle" fill="#333">0</text>
<line x1="185.2" y1="629.2" x2="185.2" y2="630.4" stroke="#333" stroke-width="0.4"/>
<text x="185.2" y="633.8" font-size="3.6" text-anchor="middle" fill="#333">30</text>
<line x1="201.1" y1="629.2" x2="201.1" y2="630.4" stroke="#333" stroke-width="0.4"/>
<text x="201.1" y="633.8" font-size="3.6" text-anchor="middle" fill="#333">60</text>
<line x1="217.1" y1="629.2" x2="217.1" y2="630.4" stroke="#333" stroke-width="0.4"/>
<text x="217.1" y="633.8" font-size="3.6" text-anchor="middle" fill="#333">90</text>
<line x1="233" y1="629.2" x2="233" y2="630.4" stroke="#333" stroke-width="0.4"/>
<text x="233" y="633.8" font-size="3.6" text-anchor="middle" fill="#333">120</text>
<text x="201.2" y="638.5" font-size="4.9" text-anchor="middle" fill="#111">Time</text>
<text x="155" y="600.5" font-size="4.7" text-anchor="middle" fill="#111" transform="rotate(-90 155 600.5)">Survival probability</text>
<text x="188.5" y="562.5" font-size="4.2" text-anchor="end" fill="#111">HDAC6</text>
<line x1="190.2" y1="561" x2="198" y2="561" stroke="#4c4cf0" stroke-width="0.6"/>
<text x="199.9" y="562.5" font-size="4" fill="#111">Low</text>
<line x1="210.2" y1="561" x2="217.8" y2="561" stroke="#f04040" stroke-width="0.6"/>
<text x="219.9" y="562.5" font-size="4" fill="#111">High</text>
<line x1="168.7" y1="600" x2="178.8" y2="600" stroke="#222" stroke-width="0.5" stroke-dasharray="1.2 1"/>
<line x1="178.8" y1="600" x2="178.8" y2="626.8" stroke="#222" stroke-width="0.5" stroke-dasharray="1.2 1"/>
<line x1="175.6" y1="600" x2="175.6" y2="626.8" stroke="#222" stroke-width="0.5" stroke-dasharray="1.2 1"/>
<path d="M169.2 573.3H169.9V575H170.2V575.9H170.7V577H171.1V578.2H171.9V580.1H172.1V580.7H172.7V582.1H173.4V583.8H173.7V584.5H174.5V586.5H174.8V587.4H175.2V588.7H175.6V590.1H175.9V591.1H176.5V593H176.9V594.3H177.4V595.7H177.8V597.1H178.2V598.1H178.4V598.9H179V600.6H179.5V602.1H179.8V603H180.2V604.2H180.8V605.8H181.2V607H181.6V608.3H182.2V610H182.4V610.6H184V612.6H184.9V613.7H185.5V614.4H187V616.2H187.7V617.1H191V618.9H193.3V620.1H195.8V621.5H200.6V622.7H206.3V624.1H216.7V625.2H217.1V625.2H217.1" fill="none" stroke="#4c4cf0" stroke-width="0.6"/>
<path d="M169.2 573.3H169.5V574.5H169.7V575.5H170.1V576.9H170.5V578.7H170.8V580.1H171.1V581.3H171.4V582.7H171.6V583.2H172V585.1H172.3V586.3H172.6V587.3H172.8V588.4H173.3V590.4H173.6V591.6H173.8V592.6H174.1V593.9H174.4V595.3H174.8V596.7H175V597.6H175.4V599.1H175.6V600.2H176.4V602.2H176.9V603.3H177.2V604.1H177.8V605.6H178.3V606.9H178.9V608.4H179.5V609.8H180.1V611.1H180.8V612.2H181.6V613.4H182.5V614.8H183.1V615.7H184.3V617.4H185.8V619H188V619.8H192.2V621.3H196.6V622.6H202.9V623.5H233V625.2H233V625.2H233" fill="none" stroke="#f04040" stroke-width="0.6"/>
<text x="237" y="574.6" font-size="5.3" text-anchor="end" fill="#111">HR = 1.29 (0.89 - 1.87)</text>
<text x="237" y="580.8" font-size="5.3" text-anchor="end" fill="#111">p = 0.174</text>
<text x="237" y="586.9" font-size="5.3" text-anchor="end" fill="#111">N (Low) = 49</text>
<text x="237" y="593.1" font-size="5.3" text-anchor="end" fill="#111">N (High) = 170</text>
<line x1="259.9" y1="571.5" x2="259.9" y2="629.2" stroke="#333" stroke-width="0.6"/>
<line x1="259.9" y1="629.2" x2="331.4" y2="629.2" stroke="#333" stroke-width="0.6"/>
<line x1="258.7" y1="573.3" x2="259.9" y2="573.3" stroke="#333" stroke-width="0.4"/>
<text x="258.2" y="574.6" font-size="3.7" text-anchor="end" fill="#222">1.00</text>
<line x1="258.7" y1="586.7" x2="259.9" y2="586.7" stroke="#333" stroke-width="0.4"/>
<text x="258.2" y="588" font-size="3.7" text-anchor="end" fill="#222">0.75</text>
<line x1="258.7" y1="600" x2="259.9" y2="600" stroke="#333" stroke-width="0.4"/>
<text x="258.2" y="601.3" font-size="3.7" text-anchor="end" fill="#222">0.50</text>
<line x1="258.7" y1="613.4" x2="259.9" y2="613.4" stroke="#333" stroke-width="0.4"/>
<text x="258.2" y="614.7" font-size="3.7" text-anchor="end" fill="#222">0.25</text>
<line x1="258.7" y1="626.8" x2="259.9" y2="626.8" stroke="#333" stroke-width="0.4"/>
<text x="258.2" y="628.1" font-size="3.7" text-anchor="end" fill="#222">0.00</text>
<line x1="262.9" y1="629.2" x2="262.9" y2="630.4" stroke="#333" stroke-width="0.4"/>
<text x="262.9" y="633.8" font-size="3.6" text-anchor="middle" fill="#333">0</text>
<line x1="278.9" y1="629.2" x2="278.9" y2="630.4" stroke="#333" stroke-width="0.4"/>
<text x="278.9" y="633.8" font-size="3.6" text-anchor="middle" fill="#333">30</text>
<line x1="294.8" y1="629.2" x2="294.8" y2="630.4" stroke="#333" stroke-width="0.4"/>
<text x="294.8" y="633.8" font-size="3.6" text-anchor="middle" fill="#333">60</text>
<line x1="310.8" y1="629.2" x2="310.8" y2="630.4" stroke="#333" stroke-width="0.4"/>
<text x="310.8" y="633.8" font-size="3.6" text-anchor="middle" fill="#333">90</text>
<line x1="326.7" y1="629.2" x2="326.7" y2="630.4" stroke="#333" stroke-width="0.4"/>
<text x="326.7" y="633.8" font-size="3.6" text-anchor="middle" fill="#333">120</text>
<text x="294.9" y="638.5" font-size="4.9" text-anchor="middle" fill="#111">Time</text>
<text x="248.7" y="600.5" font-size="4.7" text-anchor="middle" fill="#111" transform="rotate(-90 248.7 600.5)">Survival probability</text>
<text x="282.2" y="562.5" font-size="4.2" text-anchor="end" fill="#111">MAOA</text>
<line x1="283.9" y1="561" x2="291.7" y2="561" stroke="#4c4cf0" stroke-width="0.6"/>
<text x="293.6" y="562.5" font-size="4" fill="#111">Low</text>
<line x1="303.9" y1="561" x2="311.5" y2="561" stroke="#f04040" stroke-width="0.6"/>
<text x="313.6" y="562.5" font-size="4" fill="#111">High</text>
<line x1="262.4" y1="600" x2="271.4" y2="600" stroke="#222" stroke-width="0.5" stroke-dasharray="1.2 1"/>
<line x1="268.8" y1="600" x2="268.8" y2="626.8" stroke="#222" stroke-width="0.5" stroke-dasharray="1.2 1"/>
<line x1="271.4" y1="600" x2="271.4" y2="626.8" stroke="#222" stroke-width="0.5" stroke-dasharray="1.2 1"/>
<path d="M262.9 573.3H263.1V574.3H263.6V576.2H263.8V577.1H264.1V578.4H264.5V580.1H264.7V581H265.1V582.6H265.5V584.1H265.7V585.1H266.1V586.6H266.4V588.1H266.5V588.6H266.7V590H267.2V592H267.3V592.8H267.6V594.5H267.8V595.3H268.1V596.9H268.3V597.9H268.6V599.4H268.8V600.5H269.2V602.3H269.4V603H270V604.4H270.4V605.6H271V607H271.8V609H272V609.6H272.8V611.7H273.2V612.5H274.4V614.3H275.3V615.2H276.7V616.6H278.1V618H278.8V618.8H281.8V620.1H284.6V621.5H290V623.2H294.6V624.1H305.5V625.7H305.5V625.7H305.5" fill="none" stroke="#4c4cf0" stroke-width="0.6"/>
<path d="M262.9 573.3H263.5V574.8H263.9V575.7H264.6V577.5H264.9V578.2H265.6V580H266.1V581.2H266.5V582.4H266.8V583.2H267.4V584.9H267.7V586.2H267.9V586.9H268.4V588.8H268.8V590.1H269.2V591.5H269.4V592.5H269.8V594H269.9V594.5H270.5V596.4H270.7V597.5H271V598.5H271.3V599.6H272V601H272.8V602.4H273.6V603.8H274.6V605.4H275.4V606.7H275.7V607.2H276.9V609H278.1V610.6H278.6V611.2H280.1V613.1H280.7V613.9H281.6V615.1H283.9V616.7H285.7V617.9H287.1V618.8H288.9V620H294V621.3H300.3V622.5H322.2V623.9H326.7V624.1H326.7" fill="none" stroke="#f04040" stroke-width="0.6"/>
<text x="330.7" y="574.6" font-size="5.3" text-anchor="end" fill="#111">HR = 0.7 (0.51 - 0.97)</text>
<text x="330.7" y="580.8" font-size="5.3" text-anchor="end" fill="#111">p = 0.029</text>
<text x="330.7" y="586.9" font-size="5.3" text-anchor="end" fill="#111">N (Low) = 71</text>
<text x="330.7" y="593.1" font-size="5.3" text-anchor="end" fill="#111">N (High) = 148</text>
<line x1="353.6" y1="571.5" x2="353.6" y2="629.2" stroke="#333" stroke-width="0.6"/>
<line x1="353.6" y1="629.2" x2="425.1" y2="629.2" stroke="#333" stroke-width="0.6"/>
<line x1="352.4" y1="573.3" x2="353.6" y2="573.3" stroke="#333" stroke-width="0.4"/>
<text x="351.9" y="574.6" font-size="3.7" text-anchor="end" fill="#222">1.00</text>
<line x1="352.4" y1="586.7" x2="353.6" y2="586.7" stroke="#333" stroke-width="0.4"/>
<text x="351.9" y="588" font-size="3.7" text-anchor="end" fill="#222">0.75</text>
<line x1="352.4" y1="600" x2="353.6" y2="600" stroke="#333" stroke-width="0.4"/>
<text x="351.9" y="601.3" font-size="3.7" text-anchor="end" fill="#222">0.50</text>
<line x1="352.4" y1="613.4" x2="353.6" y2="613.4" stroke="#333" stroke-width="0.4"/>
<text x="351.9" y="614.7" font-size="3.7" text-anchor="end" fill="#222">0.25</text>
<line x1="352.4" y1="626.8" x2="353.6" y2="626.8" stroke="#333" stroke-width="0.4"/>
<text x="351.9" y="628.1" font-size="3.7" text-anchor="end" fill="#222">0.00</text>
<line x1="356.6" y1="629.2" x2="356.6" y2="630.4" stroke="#333" stroke-width="0.4"/>
<text x="356.6" y="633.8" font-size="3.6" text-anchor="middle" fill="#333">0</text>
<line x1="372.6" y1="629.2" x2="372.6" y2="630.4" stroke="#333" stroke-width="0.4"/>
<text x="372.6" y="633.8" font-size="3.6" text-anchor="middle" fill="#333">30</text>
<line x1="388.5" y1="629.2" x2="388.5" y2="630.4" stroke="#333" stroke-width="0.4"/>
<text x="388.5" y="633.8" font-size="3.6" text-anchor="middle" fill="#333">60</text>
<line x1="404.5" y1="629.2" x2="404.5" y2="630.4" stroke="#333" stroke-width="0.4"/>
<text x="404.5" y="633.8" font-size="3.6" text-anchor="middle" fill="#333">90</text>
<line x1="420.4" y1="629.2" x2="420.4" y2="630.4" stroke="#333" stroke-width="0.4"/>
<text x="420.4" y="633.8" font-size="3.6" text-anchor="middle" fill="#333">120</text>
<text x="388.6" y="638.5" font-size="4.9" text-anchor="middle" fill="#111">Time</text>
<text x="342.4" y="600.5" font-size="4.7" text-anchor="middle" fill="#111" transform="rotate(-90 342.4 600.5)">Survival probability</text>
<text x="375.9" y="562.5" font-size="4.2" text-anchor="end" fill="#111">MAOB</text>
<line x1="377.6" y1="561" x2="385.4" y2="561" stroke="#4c4cf0" stroke-width="0.6"/>
<text x="387.3" y="562.5" font-size="4" fill="#111">Low</text>
<line x1="397.6" y1="561" x2="405.2" y2="561" stroke="#f04040" stroke-width="0.6"/>
<text x="407.3" y="562.5" font-size="4" fill="#111">High</text>
<line x1="356.1" y1="600" x2="365.1" y2="600" stroke="#222" stroke-width="0.5" stroke-dasharray="1.2 1"/>
<line x1="365.1" y1="600" x2="365.1" y2="626.8" stroke="#222" stroke-width="0.5" stroke-dasharray="1.2 1"/>
<line x1="365.1" y1="600" x2="365.1" y2="626.8" stroke="#222" stroke-width="0.5" stroke-dasharray="1.2 1"/>
<path d="M356.6 573.3H357.1V574.8H357.5V576.3H357.8V576.9H358.2V578.2H358.6V579.7H358.9V580.6H359.3V581.8H359.8V583.4H360.3V584.9H360.6V586H360.9V586.9H361.6V588.9H361.8V589.5H362.3V591.1H362.7V592.3H363.2V594.1H363.6V595.2H364V596.6H364.4V597.7H364.6V598.5H365V599.6H365.6V601.2H366.1V602.2H366.9V604.1H367.2V604.6H368.1V606.7H368.6V607.9H369.2V609.3H369.5V609.8H370.3V611.1H371.8V612.6H373.2V614.1H374.1V615H376.9V616.7H381.5V618.2H383.6V619.1H384.8V619.9H386.6V621.2H389.2V622.6H399.2V624.1H399.2V624.1H420.4" fill="none" stroke="#4c4cf0" stroke-width="0.6"/>
<path d="M356.6 573.3H357.1V574.8H357.5V576.2H357.8V577.2H358.4V578.9H358.7V580H359V580.9H359.4V582H359.8V583.3H360.3V584.8H360.7V586.2H361.3V588H361.6V589.1H362.1V590.5H362.5V591.9H362.9V593H363.3V594.3H363.6V595.2H363.9V596.4H364.5V598H364.8V599H365.4V601H365.8V601.8H366.2V603.2H366.5V604H367.3V606.2H367.6V607H368.1V608.3H368.4V609.3H368.8V610.5H369.6V612.5H369.9V613.4H371.8V615.1H372.9V616.1H374.5V617.5H375.8V618.5H377.2V619.8H379.3V620.9H383.1V622.2H388.2V624H395.5V624.8H399.2V625.2H399.2" fill="none" stroke="#f04040" stroke-width="0.6"/>
<text x="424.4" y="574.6" font-size="5.3" text-anchor="end" fill="#111">HR = 1.22 (0.88 - 1.7)</text>
<text x="424.4" y="580.8" font-size="5.3" text-anchor="end" fill="#111">p = 0.231</text>
<text x="424.4" y="586.9" font-size="5.3" text-anchor="end" fill="#111">N (Low) = 66</text>
<text x="424.4" y="593.1" font-size="5.3" text-anchor="end" fill="#111">N (High) = 153</text>
<line x1="447.3" y1="571.5" x2="447.3" y2="629.2" stroke="#333" stroke-width="0.6"/>
<line x1="447.3" y1="629.2" x2="518.8" y2="629.2" stroke="#333" stroke-width="0.6"/>
<line x1="446.1" y1="573.3" x2="447.3" y2="573.3" stroke="#333" stroke-width="0.4"/>
<text x="445.6" y="574.6" font-size="3.7" text-anchor="end" fill="#222">1.00</text>
<line x1="446.1" y1="586.7" x2="447.3" y2="586.7" stroke="#333" stroke-width="0.4"/>
<text x="445.6" y="588" font-size="3.7" text-anchor="end" fill="#222">0.75</text>
<line x1="446.1" y1="600" x2="447.3" y2="600" stroke="#333" stroke-width="0.4"/>
<text x="445.6" y="601.3" font-size="3.7" text-anchor="end" fill="#222">0.50</text>
<line x1="446.1" y1="613.4" x2="447.3" y2="613.4" stroke="#333" stroke-width="0.4"/>
<text x="445.6" y="614.7" font-size="3.7" text-anchor="end" fill="#222">0.25</text>
<line x1="446.1" y1="626.8" x2="447.3" y2="626.8" stroke="#333" stroke-width="0.4"/>
<text x="445.6" y="628.1" font-size="3.7" text-anchor="end" fill="#222">0.00</text>
<line x1="450.3" y1="629.2" x2="450.3" y2="630.4" stroke="#333" stroke-width="0.4"/>
<text x="450.3" y="633.8" font-size="3.6" text-anchor="middle" fill="#333">0</text>
<line x1="466.3" y1="629.2" x2="466.3" y2="630.4" stroke="#333" stroke-width="0.4"/>
<text x="466.3" y="633.8" font-size="3.6" text-anchor="middle" fill="#333">30</text>
<line x1="482.2" y1="629.2" x2="482.2" y2="630.4" stroke="#333" stroke-width="0.4"/>
<text x="482.2" y="633.8" font-size="3.6" text-anchor="middle" fill="#333">60</text>
<line x1="498.2" y1="629.2" x2="498.2" y2="630.4" stroke="#333" stroke-width="0.4"/>
<text x="498.2" y="633.8" font-size="3.6" text-anchor="middle" fill="#333">90</text>
<line x1="514.1" y1="629.2" x2="514.1" y2="630.4" stroke="#333" stroke-width="0.4"/>
<text x="514.1" y="633.8" font-size="3.6" text-anchor="middle" fill="#333">120</text>
<text x="482.3" y="638.5" font-size="4.9" text-anchor="middle" fill="#111">Time</text>
<text x="436.1" y="600.5" font-size="4.7" text-anchor="middle" fill="#111" transform="rotate(-90 436.1 600.5)">Survival probability</text>
<text x="469.6" y="562.5" font-size="4.2" text-anchor="end" fill="#111">ACHE</text>
<line x1="471.3" y1="561" x2="479.1" y2="561" stroke="#4c4cf0" stroke-width="0.6"/>
<text x="481" y="562.5" font-size="4" fill="#111">Low</text>
<line x1="491.3" y1="561" x2="498.9" y2="561" stroke="#f04040" stroke-width="0.6"/>
<text x="501" y="562.5" font-size="4" fill="#111">High</text>
<line x1="449.8" y1="600" x2="459.3" y2="600" stroke="#222" stroke-width="0.5" stroke-dasharray="1.2 1"/>
<line x1="459.3" y1="600" x2="459.3" y2="626.8" stroke="#222" stroke-width="0.5" stroke-dasharray="1.2 1"/>
<line x1="456.7" y1="600" x2="456.7" y2="626.8" stroke="#222" stroke-width="0.5" stroke-dasharray="1.2 1"/>
<path d="M450.3 573.3H450.7V574.3H451.4V576H451.9V577.3H452.4V578.7H452.8V579.5H453.4V581.1H453.9V582.3H454.3V583.3H455.1V585.4H455.4V586.2H455.9V587.6H456.1V588.4H456.5V589.7H456.9V591.2H457.3V592.6H457.7V594.2H458.1V595.5H458.3V596.3H458.8V597.9H459.1V599.1H459.5V600.4H460.1V601.9H460.7V603.5H461.2V604.8H461.7V605.9H462.3V607.4H462.5V608H463.1V609.6H463.6V610.7H465V612.5H466V613.7H467.1V615H467.7V615.8H470V617.7H472V618.8H474.5V620.1H475.9V620.9H482.9V623H485.8V623.7H490.6V624.7H492.9V625.2H492.9" fill="none" stroke="#4c4cf0" stroke-width="0.6"/>
<path d="M450.3 573.3H450.6V574.9H450.8V576H451.1V577.3H451.4V578.7H451.5V579.3H451.9V581.3H452V581.9H452.3V583.6H452.6V585.1H452.8V585.8H453.1V587.3H453.3V588.4H453.7V590.2H454.2V591.6H454.5V592.7H454.8V593.8H455.2V594.9H455.6V596.5H456V597.8H456.3V598.6H456.8V600.4H457.1V601.9H457.3V602.5H457.7V604.5H457.9V605.3H458.2V606.3H458.5V607.6H459V609.7H459.1V610.1H459.5V611.9H459.8V613.1H460.6V614.8H461.3V616H461.8V617H462.4V618.2H463.4V619.9H464.4V620.6H471.2V622.4H474.4V622.9H489.7V624.3H514.1V624.7H514.1" fill="none" stroke="#f04040" stroke-width="0.6"/>
<text x="518.1" y="574.6" font-size="5.3" text-anchor="end" fill="#111">HR = 1.39 (1 - 1.92)</text>
<text x="518.1" y="580.8" font-size="5.3" text-anchor="end" fill="#111">p = 0.046</text>
<text x="518.1" y="586.9" font-size="5.3" text-anchor="end" fill="#111">N (Low) = 150</text>
<text x="518.1" y="593.1" font-size="5.3" text-anchor="end" fill="#111">N (High) = 69</text>
<line x1="541" y1="571.5" x2="541" y2="629.2" stroke="#333" stroke-width="0.6"/>
<line x1="541" y1="629.2" x2="612.5" y2="629.2" stroke="#333" stroke-width="0.6"/>
<line x1="539.8" y1="573.3" x2="541" y2="573.3" stroke="#333" stroke-width="0.4"/>
<text x="539.3" y="574.6" font-size="3.7" text-anchor="end" fill="#222">1.00</text>
<line x1="539.8" y1="586.7" x2="541" y2="586.7" stroke="#333" stroke-width="0.4"/>
<text x="539.3" y="588" font-size="3.7" text-anchor="end" fill="#222">0.75</text>
<line x1="539.8" y1="600" x2="541" y2="600" stroke="#333" stroke-width="0.4"/>
<text x="539.3" y="601.3" font-size="3.7" text-anchor="end" fill="#222">0.50</text>
<line x1="539.8" y1="613.4" x2="541" y2="613.4" stroke="#333" stroke-width="0.4"/>
<text x="539.3" y="614.7" font-size="3.7" text-anchor="end" fill="#222">0.25</text>
<line x1="539.8" y1="626.8" x2="541" y2="626.8" stroke="#333" stroke-width="0.4"/>
<text x="539.3" y="628.1" font-size="3.7" text-anchor="end" fill="#222">0.00</text>
<line x1="544" y1="629.2" x2="544" y2="630.4" stroke="#333" stroke-width="0.4"/>
<text x="544" y="633.8" font-size="3.6" text-anchor="middle" fill="#333">0</text>
<line x1="560" y1="629.2" x2="560" y2="630.4" stroke="#333" stroke-width="0.4"/>
<text x="560" y="633.8" font-size="3.6" text-anchor="middle" fill="#333">30</text>
<line x1="575.9" y1="629.2" x2="575.9" y2="630.4" stroke="#333" stroke-width="0.4"/>
<text x="575.9" y="633.8" font-size="3.6" text-anchor="middle" fill="#333">60</text>
<line x1="591.9" y1="629.2" x2="591.9" y2="630.4" stroke="#333" stroke-width="0.4"/>
<text x="591.9" y="633.8" font-size="3.6" text-anchor="middle" fill="#333">90</text>
<line x1="607.8" y1="629.2" x2="607.8" y2="630.4" stroke="#333" stroke-width="0.4"/>
<text x="607.8" y="633.8" font-size="3.6" text-anchor="middle" fill="#333">120</text>
<text x="576" y="638.5" font-size="4.9" text-anchor="middle" fill="#111">Time</text>
<text x="529.8" y="600.5" font-size="4.7" text-anchor="middle" fill="#111" transform="rotate(-90 529.8 600.5)">Survival probability</text>
<text x="563.3" y="562.5" font-size="4.2" text-anchor="end" fill="#111">BCHE</text>
<line x1="565" y1="561" x2="572.8" y2="561" stroke="#4c4cf0" stroke-width="0.6"/>
<text x="574.7" y="562.5" font-size="4" fill="#111">Low</text>
<line x1="585" y1="561" x2="592.6" y2="561" stroke="#f04040" stroke-width="0.6"/>
<text x="594.7" y="562.5" font-size="4" fill="#111">High</text>
<line x1="543.5" y1="600" x2="552" y2="600" stroke="#222" stroke-width="0.5" stroke-dasharray="1.2 1"/>
<line x1="552" y1="600" x2="552" y2="626.8" stroke="#222" stroke-width="0.5" stroke-dasharray="1.2 1"/>
<line x1="550.4" y1="600" x2="550.4" y2="626.8" stroke="#222" stroke-width="0.5" stroke-dasharray="1.2 1"/>
<path d="M544 573.3H544.5V574.6H545.1V576.1H545.6V577.2H546.1V578.5H546.5V579.7H547.1V581H547.7V582.5H548V583.5H548.4V584.8H548.8V586.2H549.1V587.7H549.5V589.2H549.6V589.8H550.1V591.9H550.3V592.7H550.7V594.4H550.8V595.1H551.1V596.5H551.6V598.3H551.7V598.9H552.3V601H552.6V601.8H553V603H553.6V604.7H553.9V605.5H554.4V606.9H554.7V607.9H555.4V609.9H555.7V610.7H557.1V612.5H558.2V613.9H559.2V615.2H560.6V616.5H562V617.2H565.4V619H567.4V620.1H570.4V621.5H572.1V622.3H575.5V623.9H591.8V625.2H591.9V625.2H591.9" fill="none" stroke="#4c4cf0" stroke-width="0.6"/>
<path d="M544 573.3H544.2V574.5H544.5V575.9H544.7V576.9H545.1V578.8H545.3V580H545.5V580.7H545.7V582H546V583.2H546.2V584.6H546.6V586.6H546.9V587.9H547.1V588.8H547.5V590.4H547.8V591.4H548.3V593H548.7V594.3H549V595.3H549.3V596.3H549.8V598.1H550.2V599.6H550.5V600.5H550.8V601.6H551.1V602.9H551.5V604.6H551.8V606.1H552V606.7H552.3V608.1H552.7V609.9H553V611.1H553.2V611.9H553.9V613.8H555.1V615H556.2V616.1H557.8V617.7H558.4V618.3H561.5V619.9H566.1V621.7H568.4V622.5H572.9V624H574.9V624.8H575.9V625.2H575.9" fill="none" stroke="#f04040" stroke-width="0.6"/>
<text x="611.8" y="574.6" font-size="5.3" text-anchor="end" fill="#111">HR = 1.32 (0.95 - 1.82)</text>
<text x="611.8" y="580.8" font-size="5.3" text-anchor="end" fill="#111">p = 0.099</text>
<text x="611.8" y="586.9" font-size="5.3" text-anchor="end" fill="#111">N (Low) = 152</text>
<text x="611.8" y="593.1" font-size="5.3" text-anchor="end" fill="#111">N (High) = 67</text>
<text x="13.8" y="654.6" font-size="19.5" font-weight="bold">G</text>
<rect x="30.7" y="658.1" width="72.4" height="72.4" fill="#fff" stroke="#555" stroke-width="0.6"/>
<use href="#ginhU" transform="translate(31.1 658.6) scale(1)" color="#3d89c4" stroke="#3d89c4" style="--w:0.4"/>
<use href="#ginhL" transform="translate(31.1 658.6) scale(1)" color="#3d89c4" stroke="#3d89c4" style="--w:0.4"/>
<use href="#gexcW" transform="translate(31.1 658.6) scale(1)" color="#3a9a3a" stroke="#3a9a3a" style="--w:0.4"/>
<use href="#gexcS" transform="translate(31.1 658.6) scale(1)" color="#3a9a3a" stroke="#3a9a3a" style="--w:0.4"/>
<use href="#goli" transform="translate(31.1 658.6) scale(1)" color="#d8382a" stroke="#d8382a" style="--w:0.4"/>
<use href="#gast" transform="translate(31.1 658.6) scale(1)" color="#f7941d" stroke="#f7941d" style="--w:0.4"/>
<use href="#gopc" transform="translate(31.1 658.6) scale(1)" color="#a020f0" stroke="#a020f0" style="--w:0.4"/>
<use href="#gmic" transform="translate(31.1 658.6) scale(1)" color="#d9a066" stroke="#d9a066" style="--w:0.4"/>
<circle cx="116" cy="666.3" r="4.4" fill="#f7941d"/>
<text x="124.3" y="669.8" font-size="8.3" fill="#111">Astrocytes</text>
<circle cx="116" cy="678.8" r="4.4" fill="#3a9a3a"/>
<text x="124.3" y="682.3" font-size="8.3" fill="#111">Excitatory neurons</text>
<circle cx="116" cy="691.4" r="4.4" fill="#3d89c4"/>
<text x="124.3" y="694.9" font-size="8.3" fill="#111">Inhibitory neurons</text>
<circle cx="116" cy="703.9" r="4.4" fill="#d9a066"/>
<text x="124.3" y="707.4" font-size="8.3" fill="#111">Microglial cells</text>
<circle cx="116" cy="716.5" r="4.4" fill="#a020f0"/>
<text x="124.3" y="720" font-size="8.3" fill="#111">OPCs</text>
<circle cx="116" cy="729" r="4.4" fill="#d8382a"/>
<text x="124.3" y="732.5" font-size="8.3" fill="#111">Oligodendrocytes</text>
<text x="245.2" y="658" font-size="9.4" text-anchor="middle" fill="#111">HDAC1</text>
<rect x="208.6" y="661.5" width="73.2" height="73.1" fill="#fff" stroke="#333" stroke-width="0.9"/>
<use href="#ginhU" transform="translate(210.1 662) scale(0.979 1.011)" color="#463a8a" stroke="#6d86ad" stroke-opacity="0.6" style="--w:0.9"/>
<use href="#ginhL" transform="translate(210.1 662) scale(0.979 1.011)" color="#463a8a" stroke="#3f7fa0" stroke-opacity="0.5" style="--w:0.9"/>
<use href="#gexcW" transform="translate(210.1 662) scale(0.979 1.011)" color="#c4c4d4" stroke="#4b4190" stroke-opacity="0.5" style="--w:0.9"/>
<use href="#gexcS" transform="translate(210.1 662) scale(0.979 1.011)" color="#463a8a" stroke="#8a8ab8" stroke-opacity="0.4" style="--w:0.9"/>
<use href="#goli" transform="translate(210.1 662) scale(0.979 1.011)" color="#2a9688" stroke="#3aa890" style="--w:0.9"/>
<use href="#gast" transform="translate(210.1 662) scale(0.979 1.011)" color="#2a9688" stroke="#2a9688" style="--w:0.9"/>
<use href="#gopc" transform="translate(210.1 662) scale(0.979 1.011)" color="#7fa8a0" stroke="#7fa8a0" style="--w:0.9"/>
<use href="#gmic" transform="translate(210.1 662) scale(0.979 1.011)" color="#3e4289" stroke="#3e4289" style="--w:0.9"/>
<circle cx="248.8" cy="678.1" r="3.1" fill="none" stroke="#f7941d" stroke-width="1"/>
<circle cx="255.2" cy="674.3" r="3.1" fill="none" stroke="#7b3fb0" stroke-width="1"/>
<text x="322.1" y="658" font-size="9.4" text-anchor="middle" fill="#111">HDAC6</text>
<rect x="285.5" y="661.5" width="73.2" height="73.1" fill="#fff" stroke="#333" stroke-width="0.9"/>
<use href="#ginhU" transform="translate(287 662) scale(0.979 1.011)" color="#3e4289" stroke="#3f7c9a" stroke-opacity="0.5" style="--w:0.9"/>
<use href="#ginhL" transform="translate(287 662) scale(0.979 1.011)" color="#3e4289" stroke="#3f8298" stroke-opacity="0.5" style="--w:0.9"/>
<use href="#gexcW" transform="translate(287 662) scale(0.979 1.011)" color="#3e4289" stroke="#4a4c98" stroke-opacity="0.5" style="--w:0.9"/>
<use href="#gexcS" transform="translate(287 662) scale(0.979 1.011)" color="#3e4289" stroke="#3e4289" style="--w:0.9"/>
<use href="#goli" transform="translate(287 662) scale(0.979 1.011)" color="#2a9688" stroke="#4aae98" style="--w:0.9"/>
<use href="#gast" transform="translate(287 662) scale(0.979 1.011)" color="#2a9688" stroke="#2a9688" style="--w:0.9"/>
<use href="#gopc" transform="translate(287 662) scale(0.979 1.011)" color="#3a8a8a" stroke="#3a8a8a" style="--w:0.9"/>
<use href="#gmic" transform="translate(287 662) scale(0.979 1.011)" color="#3e4289" stroke="#3e4289" style="--w:0.9"/>
<circle cx="325.7" cy="678.1" r="3.1" fill="none" stroke="#f7941d" stroke-width="1"/>
<circle cx="332.1" cy="674.3" r="3.1" fill="none" stroke="#7b3fb0" stroke-width="1"/>
<text x="399" y="658" font-size="9.4" text-anchor="middle" fill="#111">MAO-A</text>
<rect x="362.4" y="661.5" width="73.2" height="73.1" fill="#fff" stroke="#333" stroke-width="0.9"/>
<use href="#ginhU" transform="translate(363.9 662) scale(0.979 1.011)" color="#c8c8cc" stroke="#5c5a9a" stroke-opacity="0.5" style="--w:0.9"/>
<use href="#ginhL" transform="translate(363.9 662) scale(0.979 1.011)" color="#6670a8" stroke="#c0c0d0" stroke-opacity="0.5" style="--w:0.9"/>
<use href="#gexcW" transform="translate(363.9 662) scale(0.979 1.011)" color="#463a8a" stroke="#c8c8e0" stroke-opacity="0.5" style="--w:0.9"/>
<use href="#gexcS" transform="translate(363.9 662) scale(0.979 1.011)" color="#463a8a" stroke="#8a8abb" stroke-opacity="0.5" style="--w:0.9"/>
<use href="#goli" transform="translate(363.9 662) scale(0.979 1.011)" color="#c8c8cc" stroke="#d5d5d5" style="--w:0.9"/>
<use href="#gast" transform="translate(363.9 662) scale(0.979 1.011)" color="#2a9688" stroke="#2a9688" style="--w:0.9"/>
<use href="#gopc" transform="translate(363.9 662) scale(0.979 1.011)" color="#3a8a8a" stroke="#3a8a8a" style="--w:0.9"/>
<use href="#gmic" transform="translate(363.9 662) scale(0.979 1.011)" color="#3e4289" stroke="#3e4289" style="--w:0.9"/>
<circle cx="402.6" cy="678.1" r="3.1" fill="none" stroke="#f7941d" stroke-width="1"/>
<circle cx="409" cy="674.3" r="3.1" fill="none" stroke="#7b3fb0" stroke-width="1"/>
<text x="475.9" y="658" font-size="9.4" text-anchor="middle" fill="#111">MAO-B</text>
<rect x="439.3" y="661.5" width="73.2" height="73.1" fill="#fff" stroke="#333" stroke-width="0.9"/>
<use href="#ginhU" transform="translate(440.8 662) scale(0.979 1.011)" color="#c8c8cc" stroke="#4a4a90" stroke-opacity="0.5" style="--w:0.9"/>
<use href="#ginhL" transform="translate(440.8 662) scale(0.979 1.011)" color="#4a5a98" stroke="#c0c0cc" stroke-opacity="0.4" style="--w:0.9"/>
<use href="#gexcW" transform="translate(440.8 662) scale(0.979 1.011)" color="#3a528e" stroke="#2f6a8e" stroke-opacity="0.6" style="--w:0.9"/>
<use href="#gexcS" transform="translate(440.8 662) scale(0.979 1.011)" color="#2a8a8a" stroke="#35508c" stroke-opacity="0.5" style="--w:0.9"/>
<use href="#goli" transform="translate(440.8 662) scale(0.979 1.011)" color="#c8c8cc" stroke="#d5d5d5" style="--w:0.9"/>
<use href="#gast" transform="translate(440.8 662) scale(0.979 1.011)" color="#2aa078" stroke="#2aa078" style="--w:0.9"/>
<use href="#gopc" transform="translate(440.8 662) scale(0.979 1.011)" color="#3a8a8a" stroke="#3a8a8a" style="--w:0.9"/>
<use href="#gmic" transform="translate(440.8 662) scale(0.979 1.011)" color="#3e4289" stroke="#3e4289" style="--w:0.9"/>
<circle cx="479.5" cy="678.1" r="3.1" fill="none" stroke="#f7941d" stroke-width="1"/>
<circle cx="485.9" cy="674.3" r="3.1" fill="none" stroke="#7b3fb0" stroke-width="1"/>
<text x="552.8" y="658" font-size="9.4" text-anchor="middle" fill="#111">AChE</text>
<rect x="516.2" y="661.5" width="73.2" height="73.1" fill="#fff" stroke="#333" stroke-width="0.9"/>
<use href="#ginhU" transform="translate(517.7 662) scale(0.979 1.011)" color="#463a8a" stroke="#9a9ac0" stroke-opacity="0.5" style="--w:0.9"/>
<use href="#ginhL" transform="translate(517.7 662) scale(0.979 1.011)" color="#463a8a" stroke="#4a7aa0" stroke-opacity="0.4" style="--w:0.9"/>
<use href="#gexcW" transform="translate(517.7 662) scale(0.979 1.011)" color="#463a8a" stroke="#c0c0d8" stroke-opacity="0.5" style="--w:0.9"/>
<use href="#gexcS" transform="translate(517.7 662) scale(0.979 1.011)" color="#463a8a" stroke="#a0a0c8" stroke-opacity="0.5" style="--w:0.9"/>
<use href="#goli" transform="translate(517.7 662) scale(0.979 1.011)" color="#c8c8cc" stroke="#d0d0d0" style="--w:0.9"/>
<use href="#gast" transform="translate(517.7 662) scale(0.979 1.011)" color="#6f9f98" stroke="#6f9f98" style="--w:0.9"/>
<use href="#gopc" transform="translate(517.7 662) scale(0.979 1.011)" color="#3a7a8a" stroke="#3a7a8a" style="--w:0.9"/>
<use href="#gmic" transform="translate(517.7 662) scale(0.979 1.011)" color="#3e4289" stroke="#3e4289" style="--w:0.9"/>
<circle cx="556.4" cy="678.1" r="3.1" fill="none" stroke="#f7941d" stroke-width="1"/>
<circle cx="562.8" cy="674.3" r="3.1" fill="none" stroke="#7b3fb0" stroke-width="1"/>
<text x="629.7" y="658" font-size="9.4" text-anchor="middle" fill="#111">BChE</text>
<rect x="593.1" y="661.5" width="73.2" height="73.1" fill="#fff" stroke="#333" stroke-width="0.9"/>
<use href="#ginhU" transform="translate(594.6 662) scale(0.979 1.011)" color="#c8c8cc" stroke="#2a6a8a" stroke-opacity="0.5" style="--w:0.9"/>
<use href="#ginhL" transform="translate(594.6 662) scale(0.979 1.011)" color="#c8c8cc" stroke="#2a7a8a" stroke-opacity="0.3" style="--w:0.9"/>
<use href="#gexcW" transform="translate(594.6 662) scale(0.979 1.011)" color="#c8c8cc" stroke="#4a6a9a" stroke-opacity="0.3" style="--w:0.9"/>
<use href="#gexcS" transform="translate(594.6 662) scale(0.979 1.011)" color="#c8c8cc" stroke="#7a7ab0" stroke-opacity="0.3" style="--w:0.9"/>
<use href="#goli" transform="translate(594.6 662) scale(0.979 1.011)" color="#2a8a80" stroke="#c0c0c0" stroke-opacity="0.5" style="--w:0.9"/>
<use href="#gast" transform="translate(594.6 662) scale(0.979 1.011)" color="#c8c8cc" stroke="#c8c8cc" style="--w:0.9"/>
<use href="#gopc" transform="translate(594.6 662) scale(0.979 1.011)" color="#5ec962" stroke="#5ec962" style="--w:0.9"/>
<use href="#gmic" transform="translate(594.6 662) scale(0.979 1.011)" color="#c8c8cc" stroke="#c8c8cc" style="--w:0.9"/>
<circle cx="633.3" cy="678.1" r="3.1" fill="none" stroke="#f7941d" stroke-width="1"/>
<circle cx="639.7" cy="674.3" r="3.1" fill="none" stroke="#7b3fb0" stroke-width="1"/>
<rect x="670.2" y="680.5" width="6.3" height="34.7" fill="url(#vir)"/>
<text x="679.2" y="685.4" font-size="8" fill="#111">3</text>
<text x="679.2" y="696" font-size="8" fill="#111">2</text>
<text x="679.2" y="706.5" font-size="8" fill="#111">1</text>
<text x="679.2" y="717.1" font-size="8" fill="#111">0</text>
<circle cx="217.5" cy="744.1" r="4.1" fill="none" stroke="#f7941d" stroke-width="1.3"/>
<text x="226.2" y="747" font-size="8.1" fill="#111">Astrocytes</text>
<circle cx="279.3" cy="744.1" r="4.1" fill="none" stroke="#7b3fb0" stroke-width="1.3"/>
<text x="287.8" y="747" font-size="8.1" fill="#111">OPCs</text>
<text x="13.8" y="769.6" font-size="19.5" font-weight="bold">H</text>
<rect x="13.7" y="770.8" width="72.4" height="72.2" fill="#fff" stroke="#222" stroke-width="0.9"/>
<use href="#hmal" transform="translate(13.7 770.8) scale(1)" color="#f8b4ee" stroke="#f8b4ee" style="--w:0.5"/>
<use href="#htc" transform="translate(13.7 770.8) scale(1)" color="#a9c56a" stroke="#a9c56a" style="--w:0.5"/>
<use href="#hnk" transform="translate(13.7 770.8) scale(1)" color="#40f0c8" stroke="#40f0c8" style="--w:0.5"/>
<use href="#hmicro" transform="translate(13.7 770.8) scale(1)" color="#f010c0" stroke="#e040d0" stroke-opacity="0.6" style="--w:0.5"/>
<use href="#hmacro" transform="translate(13.7 770.8) scale(1)" color="#0e5a12" stroke="#b04080" stroke-opacity="0.6" style="--w:0.5"/>
<use href="#hmono" transform="translate(13.7 770.8) scale(1)" color="#a0584a" stroke="#a0584a" style="--w:0.5"/>
<use href="#holi" transform="translate(13.7 770.8) scale(1)" color="#1c1c50" stroke="#1c1c50" style="--w:0.5"/>
<use href="#hrg" transform="translate(13.7 770.8) scale(1)" color="#7a4fc8" stroke="#7a4fc8" style="--w:0.5"/>
<use href="#hbc" transform="translate(13.7 770.8) scale(1)" color="#f5c400" stroke="#f5c400" style="--w:0.5"/>
<use href="#hdc" transform="translate(13.7 770.8) scale(1)" color="#2aa0f5" stroke="#2aa0f5" style="--w:0.5"/>
<use href="#hendo" transform="translate(13.7 770.8) scale(1)" color="#f01010" stroke="#f01010" style="--w:0.5"/>
<use href="#hmur" transform="translate(13.7 770.8) scale(1)" color="#f79050" stroke="#f79050" style="--w:0.5"/>
<use href="#hmisc" transform="translate(13.7 770.8) scale(1)" color="#d090c0" stroke="#d090c0" style="--w:0.5"/>
<circle cx="97.5" cy="774.1" r="2.4" fill="#0000ff"/>
<text x="104.8" y="776.3" font-size="6.3" fill="#111">Mast cell</text>
<circle cx="151.7" cy="774.1" r="2.4" fill="#f00000"/>
<text x="157.3" y="776.3" font-size="6.3" fill="#111">Endothelial cell</text>
<circle cx="97.5" cy="783.6" r="2.4" fill="#22ee22"/>
<text x="104.8" y="785.9" font-size="6.3" fill="#111">Astrocyte</text>
<circle cx="151.7" cy="783.6" r="2.4" fill="#0a0a30"/>
<text x="157.3" y="785.9" font-size="6.3" fill="#111">Oligodendrocyte</text>
<circle cx="97.5" cy="793.2" r="2.4" fill="#f010c0"/>
<text x="104.8" y="795.4" font-size="6.3" fill="#111">Microglial cell</text>
<circle cx="151.7" cy="793.2" r="2.4" fill="#0a4a0a"/>
<text x="157.3" y="795.4" font-size="6.3" fill="#111">Macrophage</text>
<circle cx="97.5" cy="802.8" r="2.4" fill="#f5c400"/>
<text x="104.8" y="805" font-size="6.3" fill="#111">B cell</text>
<circle cx="151.7" cy="802.8" r="2.4" fill="#22a0ff"/>
<text x="157.3" y="805" font-size="6.3" fill="#111">Dendritic cell</text>
<circle cx="97.5" cy="812.3" r="2.4" fill="#8b4a3c"/>
<text x="104.8" y="814.5" font-size="6.3" fill="#111">Monocyte</text>
<circle cx="151.7" cy="812.3" r="2.4" fill="#33f5c8"/>
<text x="157.3" y="814.5" font-size="6.3" fill="#111">Natural killer cell</text>
<circle cx="97.5" cy="821.9" r="2.4" fill="#7a44c0"/>
<text x="104.8" y="824.1" font-size="6.3" fill="#111">Radial glia cell</text>
<circle cx="151.7" cy="821.9" r="2.4" fill="#1f9090"/>
<text x="157.3" y="824.1" font-size="6.3" fill="#111">Plasma cell</text>
<circle cx="97.5" cy="831.4" r="2.4" fill="#f9b0f0"/>
<text x="104.8" y="833.6" font-size="6.3" fill="#111">Malignant cell</text>
<circle cx="151.7" cy="831.4" r="2.4" fill="#a9c56a"/>
<text x="157.3" y="833.6" font-size="6.3" fill="#111">Mature T cell</text>
<circle cx="97.5" cy="841" r="2.4" fill="#e0105a"/>
<text x="104.8" y="843.2" font-size="6.3" fill="#111">OPCs</text>
<circle cx="151.7" cy="841" r="2.4" fill="#f79050"/>
<text x="157.3" y="843.2" font-size="6.3" fill="#111">Mural cell</text>
<text x="246.1" y="765.9" font-size="9.4" text-anchor="middle" fill="#111">HDAC1</text>
<rect x="209.5" y="768.7" width="73.2" height="74.3" fill="#fff" stroke="#333" stroke-width="0.9"/>
<use href="#hmal" transform="translate(206.4 768.6) scale(1.040 1.005)" color="#a0a0ba" stroke="#4a3d8a" stroke-opacity="0.6" style="--w:0.5"/>
<use href="#htc" transform="translate(206.4 768.6) scale(1.040 1.005)" color="#5a88a8" stroke="#3f6f95" stroke-opacity="0.5" style="--w:0.5"/>
<use href="#hnk" transform="translate(206.4 768.6) scale(1.040 1.005)" color="#7a9ab0" stroke="#7a9ab0" style="--w:0.5"/>
<use href="#hmicro" transform="translate(206.4 768.6) scale(1.040 1.005)" color="#a8a8bf" stroke="#4a3d8a" stroke-opacity="0.5" style="--w:0.5"/>
<use href="#hmacro" transform="translate(206.4 768.6) scale(1.040 1.005)" color="#a8a8bf" stroke="#4a3d8a" stroke-opacity="0.5" style="--w:0.5"/>
<use href="#hmono" transform="translate(206.4 768.6) scale(1.040 1.005)" color="#a8a8bf" stroke="#4a3d8a" stroke-opacity="0.5" style="--w:0.5"/>
<use href="#holi" transform="translate(206.4 768.6) scale(1.040 1.005)" color="#aab0c4" stroke="#8a90b0" stroke-opacity="0.5" style="--w:0.5"/>
<use href="#hrg" transform="translate(206.4 768.6) scale(1.040 1.005)" color="#80a8b0" stroke="#80a8b0" style="--w:0.5"/>
<use href="#hbc" transform="translate(206.4 768.6) scale(1.040 1.005)" color="#c4c4c8" stroke="#c4c4c8" style="--w:0.5"/>
<use href="#hdc" transform="translate(206.4 768.6) scale(1.040 1.005)" color="#c4c4c8" stroke="#c4c4c8" style="--w:0.5"/>
<use href="#hendo" transform="translate(206.4 768.6) scale(1.040 1.005)" color="#c4c4c8" stroke="#c4c4c8" style="--w:0.5"/>
<use href="#hmur" transform="translate(206.4 768.6) scale(1.040 1.005)" color="#c4c4c8" stroke="#c4c4c8" style="--w:0.5"/>
<use href="#hmisc" transform="translate(206.4 768.6) scale(1.040 1.005)" color="#8a8ab0" stroke="#4a3d8a" stroke-opacity="0.5" style="--w:0.5"/>
<path d="M232.9 782 242.5 780.7 246.5 778.1 252.2 775.2 257.2 776.4 260.7 779.8 262.6 784.3 260.9 788.2 258.4 792.8 261.8 796.7 264.6 798.9 266.9 805.2 261.8 806.3 257.2 808 253.9 810.8 250.5 814.2 244.8 816.5 238 814.8 231.2 811.3 226.7 806.9 225.3 802.4 225.5 798.9 229 792.2 231.2 786.5Z" fill="none" stroke="#fb9cf2" stroke-width="0.8"/>
<ellipse cx="260" cy="790.2" rx="2.6" ry="1.6" fill="none" stroke="#e0105a" stroke-width="1"/>
<text x="323" y="765.9" font-size="9.4" text-anchor="middle" fill="#111">HDAC6</text>
<rect x="286.4" y="768.7" width="73.2" height="74.3" fill="#fff" stroke="#333" stroke-width="0.9"/>
<use href="#hmal" transform="translate(283.3 768.6) scale(1.040 1.005)" color="#b4b4c6" stroke="#4a3d8a" stroke-opacity="0.5" style="--w:0.5"/>
<use href="#htc" transform="translate(283.3 768.6) scale(1.040 1.005)" color="#c4c4c8" stroke="#c4c4c8" style="--w:0.5"/>
<use href="#hnk" transform="translate(283.3 768.6) scale(1.040 1.005)" color="#c4c4c8" stroke="#c4c4c8" style="--w:0.5"/>
<use href="#hmicro" transform="translate(283.3 768.6) scale(1.040 1.005)" color="#bcbccc" stroke="#6a62a0" stroke-opacity="0.4" style="--w:0.5"/>
<use href="#hmacro" transform="translate(283.3 768.6) scale(1.040 1.005)" color="#bcbccc" stroke="#6a62a0" stroke-opacity="0.4" style="--w:0.5"/>
<use href="#hmono" transform="translate(283.3 768.6) scale(1.040 1.005)" color="#bcbccc" stroke="#6a62a0" stroke-opacity="0.4" style="--w:0.5"/>
<use href="#holi" transform="translate(283.3 768.6) scale(1.040 1.005)" color="#aab0c4" stroke="#8a90b0" stroke-opacity="0.5" style="--w:0.5"/>
<use href="#hrg" transform="translate(283.3 768.6) scale(1.040 1.005)" color="#c4c4c8" stroke="#c4c4c8" style="--w:0.5"/>
<use href="#hbc" transform="translate(283.3 768.6) scale(1.040 1.005)" color="#c4c4c8" stroke="#c4c4c8" style="--w:0.5"/>
<use href="#hdc" transform="translate(283.3 768.6) scale(1.040 1.005)" color="#c4c4c8" stroke="#c4c4c8" style="--w:0.5"/>
<use href="#hendo" transform="translate(283.3 768.6) scale(1.040 1.005)" color="#c4c4c8" stroke="#c4c4c8" style="--w:0.5"/>
<use href="#hmur" transform="translate(283.3 768.6) scale(1.040 1.005)" color="#c4c4c8" stroke="#c4c4c8" style="--w:0.5"/>
<use href="#hmisc" transform="translate(283.3 768.6) scale(1.040 1.005)" color="#c4c4c8" stroke="#c4c4c8" style="--w:0.5"/>
<path d="M309.8 782 319.4 780.7 323.4 778.1 329.1 775.2 334.1 776.4 337.6 779.8 339.5 784.3 337.8 788.2 335.3 792.8 338.7 796.7 341.5 798.9 343.8 805.2 338.7 806.3 334.1 808 330.8 810.8 327.4 814.2 321.7 816.5 314.9 814.8 308.1 811.3 303.6 806.9 302.2 802.4 302.4 798.9 305.9 792.2 308.1 786.5Z" fill="none" stroke="#fb9cf2" stroke-width="0.8"/>
<ellipse cx="336.9" cy="790.2" rx="2.6" ry="1.6" fill="none" stroke="#e0105a" stroke-width="1"/>
<text x="399.9" y="765.9" font-size="9.4" text-anchor="middle" fill="#111">MAO-A</text>
<rect x="363.3" y="768.7" width="73.2" height="74.3" fill="#fff" stroke="#333" stroke-width="0.9"/>
<use href="#hmal" transform="translate(360.2 768.6) scale(1.040 1.005)" color="#c0c0cc" stroke="#6a5da0" stroke-opacity="0.3" style="--w:0.5"/>
<use href="#htc" transform="translate(360.2 768.6) scale(1.040 1.005)" color="#c4c4c8" stroke="#c4c4c8" style="--w:0.5"/>
<use href="#hnk" transform="translate(360.2 768.6) scale(1.040 1.005)" color="#c4c4c8" stroke="#c4c4c8" style="--w:0.5"/>
<use href="#hmicro" transform="translate(360.2 768.6) scale(1.040 1.005)" color="#c4c4c8" stroke="#c4c4c8" style="--w:0.5"/>
<use href="#hmacro" transform="translate(360.2 768.6) scale(1.040 1.005)" color="#c4c4c8" stroke="#c4c4c8" style="--w:0.5"/>
<use href="#hmono" transform="translate(360.2 768.6) scale(1.040 1.005)" color="#c4c4c8" stroke="#c4c4c8" style="--w:0.5"/>
<use href="#holi" transform="translate(360.2 768.6) scale(1.040 1.005)" color="#c4c4c8" stroke="#c4c4c8" style="--w:0.5"/>
<use href="#hrg" transform="translate(360.2 768.6) scale(1.040 1.005)" color="#c4c4c8" stroke="#c4c4c8" style="--w:0.5"/>
<use href="#hbc" transform="translate(360.2 768.6) scale(1.040 1.005)" color="#c4c4c8" stroke="#c4c4c8" style="--w:0.5"/>
<use href="#hdc" transform="translate(360.2 768.6) scale(1.040 1.005)" color="#c4c4c8" stroke="#c4c4c8" style="--w:0.5"/>
<use href="#hendo" transform="translate(360.2 768.6) scale(1.040 1.005)" color="#c4c4c8" stroke="#c4c4c8" style="--w:0.5"/>
<use href="#hmur" transform="translate(360.2 768.6) scale(1.040 1.005)" color="#c4c4c8" stroke="#c4c4c8" style="--w:0.5"/>
<use href="#hmisc" transform="translate(360.2 768.6) scale(1.040 1.005)" color="#c4c4c8" stroke="#c4c4c8" style="--w:0.5"/>
<path d="M386.7 782 396.3 780.7 400.3 778.1 406 775.2 411 776.4 414.5 779.8 416.4 784.3 414.7 788.2 412.2 792.8 415.6 796.7 418.4 798.9 420.7 805.2 415.6 806.3 411 808 407.7 810.8 404.3 814.2 398.6 816.5 391.8 814.8 385 811.3 380.5 806.9 379.1 802.4 379.3 798.9 382.8 792.2 385 786.5Z" fill="none" stroke="#fb9cf2" stroke-width="0.8"/>
<ellipse cx="413.8" cy="790.2" rx="2.6" ry="1.6" fill="none" stroke="#e0105a" stroke-width="1"/>
<text x="476.8" y="765.9" font-size="9.4" text-anchor="middle" fill="#111">MAO-B</text>
<rect x="440.2" y="768.7" width="73.2" height="74.3" fill="#fff" stroke="#333" stroke-width="0.9"/>
<use href="#hmal" transform="translate(437.1 768.6) scale(1.040 1.005)" color="#b4b4c6" stroke="#3a7a8a" stroke-opacity="0.5" style="--w:0.5"/>
<use href="#htc" transform="translate(437.1 768.6) scale(1.040 1.005)" color="#c4c4c8" stroke="#c4c4c8" style="--w:0.5"/>
<use href="#hnk" transform="translate(437.1 768.6) scale(1.040 1.005)" color="#c4c4c8" stroke="#c4c4c8" style="--w:0.5"/>
<use href="#hmicro" transform="translate(437.1 768.6) scale(1.040 1.005)" color="#c4c4c8" stroke="#c4c4c8" style="--w:0.5"/>
<use href="#hmacro" transform="translate(437.1 768.6) scale(1.040 1.005)" color="#c4c4c8" stroke="#6a4d9a" stroke-opacity="0.3" style="--w:0.5"/>
<use href="#hmono" transform="translate(437.1 768.6) scale(1.040 1.005)" color="#c4c4c8" stroke="#c4c4c8" style="--w:0.5"/>
<use href="#holi" transform="translate(437.1 768.6) scale(1.040 1.005)" color="#c4c4c8" stroke="#c4c4c8" style="--w:0.5"/>
<use href="#hrg" transform="translate(437.1 768.6) scale(1.040 1.005)" color="#c4c4c8" stroke="#c4c4c8" style="--w:0.5"/>
<use href="#hbc" transform="translate(437.1 768.6) scale(1.040 1.005)" color="#c4c4c8" stroke="#c4c4c8" style="--w:0.5"/>
<use href="#hdc" transform="translate(437.1 768.6) scale(1.040 1.005)" color="#c4c4c8" stroke="#c4c4c8" style="--w:0.5"/>
<use href="#hendo" transform="translate(437.1 768.6) scale(1.040 1.005)" color="#c4c4c8" stroke="#c4c4c8" style="--w:0.5"/>
<use href="#hmur" transform="translate(437.1 768.6) scale(1.040 1.005)" color="#c4c4c8" stroke="#c4c4c8" style="--w:0.5"/>
<use href="#hmisc" transform="translate(437.1 768.6) scale(1.040 1.005)" color="#c4c4c8" stroke="#c4c4c8" style="--w:0.5"/>
<path d="M463.6 782 473.2 780.7 477.2 778.1 482.9 775.2 487.9 776.4 491.4 779.8 493.3 784.3 491.6 788.2 489.1 792.8 492.5 796.7 495.3 798.9 497.6 805.2 492.5 806.3 487.9 808 484.6 810.8 481.2 814.2 475.5 816.5 468.7 814.8 461.9 811.3 457.4 806.9 456 802.4 456.2 798.9 459.7 792.2 461.9 786.5Z" fill="none" stroke="#fb9cf2" stroke-width="0.8"/>
<ellipse cx="490.7" cy="790.2" rx="2.6" ry="1.6" fill="none" stroke="#e0105a" stroke-width="1"/>
<text x="553.7" y="765.9" font-size="9.4" text-anchor="middle" fill="#111">AChE</text>
<rect x="517.1" y="768.7" width="73.2" height="74.3" fill="#fff" stroke="#333" stroke-width="0.9"/>
<use href="#hmal" transform="translate(514 768.6) scale(1.040 1.005)" color="#b4b4c6" stroke="#4a4090" stroke-opacity="0.5" style="--w:0.5"/>
<use href="#htc" transform="translate(514 768.6) scale(1.040 1.005)" color="#c4c4c8" stroke="#c4c4c8" style="--w:0.5"/>
<use href="#hnk" transform="translate(514 768.6) scale(1.040 1.005)" color="#c4c4c8" stroke="#c4c4c8" style="--w:0.5"/>
<use href="#hmicro" transform="translate(514 768.6) scale(1.040 1.005)" color="#c4c4c8" stroke="#c4c4c8" style="--w:0.5"/>
<use href="#hmacro" transform="translate(514 768.6) scale(1.040 1.005)" color="#c4c4c8" stroke="#c4c4c8" style="--w:0.5"/>
<use href="#hmono" transform="translate(514 768.6) scale(1.040 1.005)" color="#c4c4c8" stroke="#c4c4c8" style="--w:0.5"/>
<use href="#holi" transform="translate(514 768.6) scale(1.040 1.005)" color="#c4c4c8" stroke="#c4c4c8" style="--w:0.5"/>
<use href="#hrg" transform="translate(514 768.6) scale(1.040 1.005)" color="#c4c4c8" stroke="#c4c4c8" style="--w:0.5"/>
<use href="#hbc" transform="translate(514 768.6) scale(1.040 1.005)" color="#c4c4c8" stroke="#c4c4c8" style="--w:0.5"/>
<use href="#hdc" transform="translate(514 768.6) scale(1.040 1.005)" color="#c4c4c8" stroke="#c4c4c8" style="--w:0.5"/>
<use href="#hendo" transform="translate(514 768.6) scale(1.040 1.005)" color="#c4c4c8" stroke="#c4c4c8" style="--w:0.5"/>
<use href="#hmur" transform="translate(514 768.6) scale(1.040 1.005)" color="#c4c4c8" stroke="#c4c4c8" style="--w:0.5"/>
<use href="#hmisc" transform="translate(514 768.6) scale(1.040 1.005)" color="#c4c4c8" stroke="#c4c4c8" style="--w:0.5"/>
<path d="M540.5 782 550.1 780.7 554.1 778.1 559.8 775.2 564.8 776.4 568.3 779.8 570.2 784.3 568.5 788.2 566 792.8 569.4 796.7 572.2 798.9 574.5 805.2 569.4 806.3 564.8 808 561.5 810.8 558.1 814.2 552.4 816.5 545.6 814.8 538.8 811.3 534.3 806.9 532.9 802.4 533.1 798.9 536.6 792.2 538.8 786.5Z" fill="none" stroke="#fb9cf2" stroke-width="0.8"/>
<ellipse cx="567.6" cy="790.2" rx="2.6" ry="1.6" fill="none" stroke="#e0105a" stroke-width="1"/>
<text x="630.6" y="765.9" font-size="9.4" text-anchor="middle" fill="#111">BChE</text>
<rect x="594" y="768.7" width="73.2" height="74.3" fill="#fff" stroke="#333" stroke-width="0.9"/>
<use href="#hmal" transform="translate(590.9 768.6) scale(1.040 1.005)" color="#8a90b4" stroke="#2f6f8f" stroke-opacity="0.6" style="--w:0.5"/>
<use href="#htc" transform="translate(590.9 768.6) scale(1.040 1.005)" color="#c4c4c8" stroke="#c4c4c8" style="--w:0.5"/>
<use href="#hnk" transform="translate(590.9 768.6) scale(1.040 1.005)" color="#c4c4c8" stroke="#c4c4c8" style="--w:0.5"/>
<use href="#hmicro" transform="translate(590.9 768.6) scale(1.040 1.005)" color="#c4c4c8" stroke="#c4c4c8" style="--w:0.5"/>
<use href="#hmacro" transform="translate(590.9 768.6) scale(1.040 1.005)" color="#c4c4c8" stroke="#7a6aa8" stroke-opacity="0.3" style="--w:0.5"/>
<use href="#hmono" transform="translate(590.9 768.6) scale(1.040 1.005)" color="#c4c4c8" stroke="#c4c4c8" style="--w:0.5"/>
<use href="#holi" transform="translate(590.9 768.6) scale(1.040 1.005)" color="#b0b4c4" stroke="#c4c4c8" style="--w:0.5"/>
<use href="#hrg" transform="translate(590.9 768.6) scale(1.040 1.005)" color="#c4c4c8" stroke="#c4c4c8" style="--w:0.5"/>
<use href="#hbc" transform="translate(590.9 768.6) scale(1.040 1.005)" color="#c4c4c8" stroke="#c4c4c8" style="--w:0.5"/>
<use href="#hdc" transform="translate(590.9 768.6) scale(1.040 1.005)" color="#c4c4c8" stroke="#c4c4c8" style="--w:0.5"/>
<use href="#hendo" transform="translate(590.9 768.6) scale(1.040 1.005)" color="#c4c4c8" stroke="#c4c4c8" style="--w:0.5"/>
<use href="#hmur" transform="translate(590.9 768.6) scale(1.040 1.005)" color="#c4c4c8" stroke="#c4c4c8" style="--w:0.5"/>
<use href="#hmisc" transform="translate(590.9 768.6) scale(1.040 1.005)" color="#c4c4c8" stroke="#c4c4c8" style="--w:0.5"/>
<path d="M617.4 782 627 780.7 631 778.1 636.7 775.2 641.7 776.4 645.2 779.8 647.1 784.3 645.4 788.2 642.9 792.8 646.3 796.7 649.1 798.9 651.4 805.2 646.3 806.3 641.7 808 638.4 810.8 635 814.2 629.3 816.5 622.5 814.8 615.7 811.3 611.2 806.9 609.8 802.4 610 798.9 613.5 792.2 615.7 786.5Z" fill="none" stroke="#fb9cf2" stroke-width="0.8"/>
<ellipse cx="644.5" cy="790.2" rx="2.6" ry="1.6" fill="none" stroke="#e0105a" stroke-width="1"/>
<rect x="671.8" y="789" width="6.3" height="35" fill="url(#vir)"/>
<text x="680.8" y="793.9" font-size="8" fill="#111">3</text>
<text x="680.8" y="804.6" font-size="8" fill="#111">2</text>
<text x="680.8" y="815.2" font-size="8" fill="#111">1</text>
<text x="680.8" y="825.9" font-size="8" fill="#111">0</text>
<ellipse cx="217.2" cy="851.4" rx="4.6" ry="3.9" fill="none" stroke="#fca8f4" stroke-width="1.4"/>
<text x="226.9" y="854.2" font-size="8.1" fill="#111">Malignant</text>
<ellipse cx="279.7" cy="851.2" rx="4.2" ry="3.9" fill="none" stroke="#e0105a" stroke-width="1.6"/>
<text x="288.3" y="854.8" font-size="8.1" fill="#111">OPCs</text>
<rect x="19.9" y="861.2" width="3.7" height="14.9" fill="#000"/>
<line x1="35.5" y1="879.3" x2="35.5" y2="951" stroke="#444" stroke-width="0.6"/>
<line x1="35.5" y1="951" x2="87.5" y2="951" stroke="#444" stroke-width="0.6"/>
<line x1="34" y1="891.5" x2="35.5" y2="891.5" stroke="#444" stroke-width="0.5"/>
<text x="33" y="893.3" font-size="5" text-anchor="end" fill="#333">3</text>
<line x1="34" y1="904" x2="35.5" y2="904" stroke="#444" stroke-width="0.5"/>
<text x="33" y="905.8" font-size="5" text-anchor="end" fill="#333">2</text>
<line x1="34" y1="916.5" x2="35.5" y2="916.5" stroke="#444" stroke-width="0.5"/>
<text x="33" y="918.3" font-size="5" text-anchor="end" fill="#333">1</text>
<line x1="34" y1="929" x2="35.5" y2="929" stroke="#444" stroke-width="0.5"/>
<text x="33" y="930.8" font-size="5" text-anchor="end" fill="#333">0</text>
<line x1="34" y1="941.5" x2="35.5" y2="941.5" stroke="#444" stroke-width="0.5"/>
<text x="33" y="943.3" font-size="5" text-anchor="end" fill="#333">1</text>
<line x1="35.5" y1="929" x2="87.5" y2="929" stroke="#444" stroke-width="0.5" stroke-dasharray="1 1"/>
<rect x="36.7" y="920.9" width="7.5" height="8.1" fill="#f5a88c"/>
<text x="42.2" y="953.5" font-size="4.6" text-anchor="end" fill="#444" transform="rotate(-40 42.2 953.5)">HDAC1</text>
<rect x="45.2" y="912.1" width="7.5" height="16.9" fill="#f28b6f"/>
<text x="50.7" y="953.5" font-size="4.6" text-anchor="end" fill="#444" transform="rotate(-40 50.7 953.5)">HDAC6</text>
<rect x="53.7" y="913.1" width="7.5" height="15.9" fill="#f08e73"/>
<text x="59.2" y="953.5" font-size="4.6" text-anchor="end" fill="#444" transform="rotate(-40 59.2 953.5)">MAOA</text>
<rect x="62.2" y="889.6" width="7.5" height="39.4" fill="#dc3b23"/>
<text x="67.7" y="953.5" font-size="4.6" text-anchor="end" fill="#444" transform="rotate(-40 67.7 953.5)">MAOB</text>
<rect x="70.7" y="893.4" width="7.5" height="35.6" fill="#e04a2f"/>
<text x="76.2" y="953.5" font-size="4.6" text-anchor="end" fill="#444" transform="rotate(-40 76.2 953.5)">ACHE</text>
<rect x="79.2" y="887.1" width="7.5" height="41.9" fill="#d42e1b"/>
<text x="84.7" y="953.5" font-size="4.6" text-anchor="end" fill="#444" transform="rotate(-40 84.7 953.5)">BCHE</text>
<text x="24.8" y="922" font-size="8.1" text-anchor="middle" fill="#111" transform="rotate(-90 24.8 922)">FC malignant vs others</text>
<line x1="109.5" y1="879.3" x2="109.5" y2="951" stroke="#444" stroke-width="0.6"/>
<line x1="109.5" y1="951" x2="160" y2="951" stroke="#444" stroke-width="0.6"/>
<line x1="108" y1="891.5" x2="109.5" y2="891.5" stroke="#444" stroke-width="0.5"/>
<text x="107" y="893.3" font-size="5" text-anchor="end" fill="#333">3</text>
<line x1="108" y1="904" x2="109.5" y2="904" stroke="#444" stroke-width="0.5"/>
<text x="107" y="905.8" font-size="5" text-anchor="end" fill="#333">2</text>
<line x1="108" y1="916.5" x2="109.5" y2="916.5" stroke="#444" stroke-width="0.5"/>
<text x="107" y="918.3" font-size="5" text-anchor="end" fill="#333">1</text>
<line x1="108" y1="929" x2="109.5" y2="929" stroke="#444" stroke-width="0.5"/>
<text x="107" y="930.8" font-size="5" text-anchor="end" fill="#333">0</text>
<line x1="108" y1="941.5" x2="109.5" y2="941.5" stroke="#444" stroke-width="0.5"/>
<text x="107" y="943.3" font-size="5" text-anchor="end" fill="#333">-1</text>
<line x1="109.5" y1="929" x2="160" y2="929" stroke="#444" stroke-width="0.5" stroke-dasharray="1 1"/>
<rect x="110.7" y="921.5" width="7.2" height="7.5" fill="#f7aa8f"/>
<text x="116.2" y="953.5" font-size="4.6" text-anchor="end" fill="#444" transform="rotate(-40 116.2 953.5)">HDAC1</text>
<rect x="119" y="918" width="7.2" height="11" fill="#f49c80"/>
<text x="124.5" y="953.5" font-size="4.6" text-anchor="end" fill="#444" transform="rotate(-40 124.5 953.5)">HDAC6</text>
<rect x="127.2" y="912.4" width="7.2" height="16.6" fill="#f08b70"/>
<text x="132.7" y="953.5" font-size="4.6" text-anchor="end" fill="#444" transform="rotate(-40 132.7 953.5)">MAOA</text>
<rect x="135.4" y="905.9" width="7.2" height="23.1" fill="#ec7b5f"/>
<text x="140.9" y="953.5" font-size="4.6" text-anchor="end" fill="#444" transform="rotate(-40 140.9 953.5)">MAOB</text>
<rect x="143.7" y="889.2" width="7.2" height="39.8" fill="#dd3d25"/>
<text x="149.2" y="953.5" font-size="4.6" text-anchor="end" fill="#444" transform="rotate(-40 149.2 953.5)">ACHE</text>
<rect x="151.9" y="884.9" width="7.2" height="44.1" fill="#d42b19"/>
<text x="157.4" y="953.5" font-size="4.6" text-anchor="end" fill="#444" transform="rotate(-40 157.4 953.5)">BCHE</text>
<text x="102.3" y="922" font-size="8.1" text-anchor="middle" fill="#111" transform="rotate(-90 102.3 922)">FC OPC vs others</text>
</svg></body></html>
